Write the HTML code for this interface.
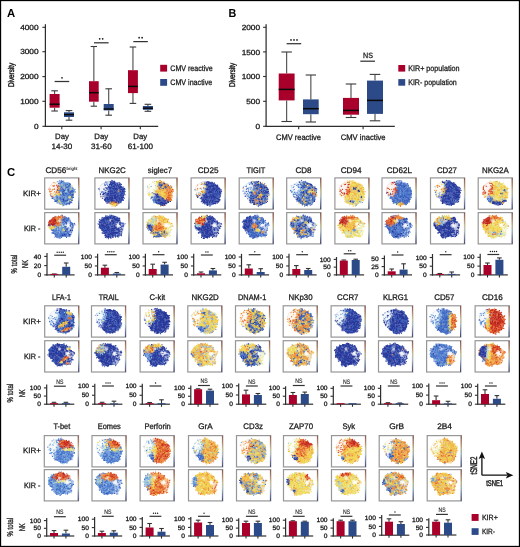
<!DOCTYPE html>
<html><head><meta charset="utf-8"><style>
html,body{margin:0;padding:0;background:#fff;overflow:hidden;width:520px;height:547px;}
svg{display:block;will-change:transform;}
text{font-family:"Liberation Sans",sans-serif;text-rendering:geometricPrecision;}
</style></head><body>
<svg width="520" height="547" viewBox="0 0 520 547">
<defs>
<linearGradient id="cbar" x1="0" y1="0" x2="0" y2="1">
<stop offset="0" stop-color="#8a5048"/><stop offset="0.22" stop-color="#b88060"/>
<stop offset="0.42" stop-color="#d0c488"/><stop offset="0.6" stop-color="#a8c0c8"/>
<stop offset="0.8" stop-color="#6a78a8"/><stop offset="1" stop-color="#3a3c70"/>
</linearGradient>
<clipPath id="cpP"><path transform="translate(17.5 16) scale(0.93) translate(-17.5 -16)" d="M8.40 5.10 C9.47 4.50 10.82 3.95 12.00 3.60 C13.18 3.25 14.37 3.08 15.50 3.00 C16.63 2.92 17.67 2.85 18.80 3.10 C19.93 3.35 21.15 4.05 22.30 4.50 C23.45 4.95 24.67 5.12 25.70 5.80 C26.73 6.48 27.68 7.67 28.50 8.60 C29.32 9.53 30.18 10.25 30.60 11.40 C31.02 12.55 31.07 14.12 31.00 15.50 C30.93 16.88 30.50 18.43 30.20 19.70 C29.90 20.97 29.72 22.07 29.20 23.10 C28.68 24.13 28.03 25.08 27.10 25.90 C26.17 26.72 24.87 27.48 23.60 28.00 C22.33 28.52 20.65 28.97 19.50 29.00 C18.35 29.03 17.63 28.57 16.70 28.20 C15.77 27.83 14.82 27.30 13.90 26.80 C12.98 26.30 11.88 25.92 11.20 25.20 C10.52 24.48 10.50 23.30 9.80 22.50 C9.10 21.70 7.70 21.22 7.00 20.40 C6.30 19.58 6.07 18.77 5.60 17.60 C5.13 16.43 4.43 14.67 4.20 13.40 C3.97 12.13 3.97 11.03 4.20 10.00 C4.43 8.97 4.90 8.02 5.60 7.20 C6.30 6.38 7.33 5.70 8.40 5.10 Z"/></clipPath>
<clipPath id="cpM"><path transform="translate(17.5 15) scale(0.93) translate(-17.5 -15)" d="M9.10 4.30 C10.15 3.90 11.80 3.52 13.30 3.30 C14.80 3.08 16.72 2.83 18.10 3.00 C19.48 3.17 20.45 3.90 21.60 4.30 C22.75 4.70 24.20 4.82 25.00 5.40 C25.80 5.98 25.93 7.05 26.40 7.80 C26.87 8.55 27.10 9.32 27.80 9.90 C28.50 10.48 30.08 10.73 30.60 11.30 C31.12 11.87 31.02 12.50 30.90 13.30 C30.78 14.10 30.18 15.17 29.90 16.10 C29.62 17.03 29.43 17.87 29.20 18.90 C28.97 19.93 28.85 21.38 28.50 22.30 C28.15 23.22 27.92 23.87 27.10 24.40 C26.28 24.93 24.75 25.38 23.60 25.50 C22.45 25.62 21.35 24.98 20.20 25.10 C19.05 25.22 17.85 25.97 16.70 26.20 C15.55 26.43 14.33 26.68 13.30 26.50 C12.27 26.32 11.08 25.80 10.50 25.10 C9.92 24.40 10.27 23.22 9.80 22.30 C9.33 21.38 8.52 20.52 7.70 19.60 C6.88 18.68 5.58 17.73 4.90 16.80 C4.22 15.87 3.82 15.03 3.60 14.00 C3.38 12.97 3.38 11.63 3.60 10.60 C3.82 9.57 4.33 8.62 4.90 7.80 C5.47 6.98 6.30 6.28 7.00 5.70 C7.70 5.12 8.05 4.70 9.10 4.30 Z M7.4 20.4 a0.95 0.95 0 1 0 0.01 0 Z"/></clipPath>
<filter id="bl" x="-20%" y="-20%" width="140%" height="140%"><feGaussianBlur stdDeviation="1.0"/></filter>
<filter id="bl2" x="-30%" y="-30%" width="160%" height="160%"><feGaussianBlur stdDeviation="1.2"/></filter>
<g id="spP" filter="url(#bl2)" fill="#fff"><path d="M3.5 7 L8 4 L12 3 L16 3.2 L16.5 6 L14.5 10 L12.5 15 L11 20 L10 23.5 L7 21.5 L4.5 17.5 L3.5 12 Z" fill-opacity="0.88"/><ellipse cx="8" cy="9.5" rx="3.2" ry="4" fill-opacity="0.4"/></g><g id="spM" filter="url(#bl2)" fill="#fff"><ellipse cx="15.5" cy="8.8" rx="1.8" ry="1.9" fill-opacity="0.85"/><ellipse cx="23.6" cy="13.4" rx="2.8" ry="2.6" fill-opacity="0.92"/><path d="M19 10 L26 9 L31 12 L30 20 L28.5 24.5 L24 25.5 L21 22 L24 17 Z" fill-opacity="0.5"/></g>
<pattern id="spk" width="24" height="24" patternUnits="userSpaceOnUse"><g fill="#fff" fill-opacity="0.5"><circle cx="7.8" cy="3.6" r="0.50"/><circle cx="1.7" cy="12.9" r="0.41"/><circle cx="1.4" cy="12.2" r="0.31"/><circle cx="10.4" cy="1.7" r="0.33"/><circle cx="10.2" cy="19.8" r="0.34"/><circle cx="5.4" cy="15.1" r="0.58"/><circle cx="13.9" cy="9.5" r="0.59"/><circle cx="1.1" cy="20.6" r="0.39"/><circle cx="3.5" cy="2.8" r="0.39"/><circle cx="19.6" cy="4.3" r="0.47"/><circle cx="15.3" cy="8.9" r="0.46"/><circle cx="1.5" cy="1.4" r="0.36"/><circle cx="16.3" cy="10.3" r="0.39"/><circle cx="14.1" cy="10.9" r="0.39"/><circle cx="19.1" cy="16.8" r="0.37"/><circle cx="13.8" cy="12.6" r="0.56"/><circle cx="17.5" cy="6.9" r="0.59"/><circle cx="2.8" cy="10.0" r="0.53"/><circle cx="3.6" cy="11.7" r="0.31"/><circle cx="16.0" cy="18.3" r="0.47"/><circle cx="21.0" cy="7.5" r="0.51"/><circle cx="14.3" cy="13.9" r="0.44"/><circle cx="20.2" cy="22.7" r="0.44"/><circle cx="15.9" cy="1.5" r="0.51"/><circle cx="15.5" cy="23.8" r="0.55"/><circle cx="6.8" cy="9.3" r="0.50"/><circle cx="0.5" cy="11.1" r="0.35"/><circle cx="2.8" cy="1.4" r="0.53"/><circle cx="3.1" cy="5.9" r="0.42"/><circle cx="20.9" cy="1.9" r="0.43"/><circle cx="13.2" cy="21.2" r="0.55"/><circle cx="20.7" cy="6.7" r="0.42"/><circle cx="8.6" cy="21.2" r="0.59"/><circle cx="3.6" cy="4.2" r="0.37"/><circle cx="5.6" cy="11.6" r="0.48"/><circle cx="6.3" cy="0.1" r="0.43"/><circle cx="8.9" cy="13.6" r="0.59"/><circle cx="16.6" cy="12.4" r="0.49"/><circle cx="16.2" cy="1.3" r="0.57"/><circle cx="18.7" cy="21.0" r="0.54"/><circle cx="9.4" cy="9.6" r="0.33"/><circle cx="15.2" cy="1.5" r="0.32"/><circle cx="5.0" cy="3.9" r="0.40"/><circle cx="1.3" cy="0.0" r="0.35"/><circle cx="2.4" cy="8.7" r="0.31"/><circle cx="21.0" cy="14.7" r="0.34"/><circle cx="6.1" cy="8.3" r="0.41"/><circle cx="2.9" cy="20.4" r="0.60"/><circle cx="11.2" cy="11.6" r="0.33"/><circle cx="2.5" cy="8.2" r="0.38"/><circle cx="19.9" cy="3.9" r="0.31"/><circle cx="22.8" cy="12.7" r="0.34"/><circle cx="13.0" cy="0.6" r="0.46"/><circle cx="23.5" cy="20.7" r="0.51"/><circle cx="6.3" cy="8.8" r="0.35"/><circle cx="18.5" cy="12.8" r="0.53"/><circle cx="7.9" cy="5.4" r="0.54"/><circle cx="23.6" cy="20.5" r="0.54"/><circle cx="19.6" cy="17.8" r="0.37"/><circle cx="12.4" cy="8.5" r="0.31"/><circle cx="0.7" cy="6.7" r="0.38"/><circle cx="16.6" cy="23.0" r="0.43"/><circle cx="22.5" cy="23.7" r="0.59"/><circle cx="8.8" cy="5.3" r="0.37"/><circle cx="4.7" cy="4.9" r="0.49"/><circle cx="21.6" cy="20.2" r="0.44"/><circle cx="15.7" cy="19.2" r="0.33"/><circle cx="15.9" cy="21.8" r="0.53"/><circle cx="18.0" cy="11.5" r="0.35"/><circle cx="18.9" cy="8.0" r="0.54"/><circle cx="23.3" cy="9.5" r="0.42"/><circle cx="22.7" cy="17.4" r="0.35"/><circle cx="3.0" cy="3.6" r="0.57"/><circle cx="19.4" cy="3.5" r="0.55"/><circle cx="23.5" cy="15.8" r="0.41"/><circle cx="13.2" cy="3.1" r="0.30"/><circle cx="23.3" cy="15.6" r="0.46"/><circle cx="22.4" cy="10.4" r="0.56"/><circle cx="19.8" cy="5.1" r="0.38"/><circle cx="7.0" cy="5.8" r="0.48"/><circle cx="6.2" cy="10.1" r="0.34"/><circle cx="21.8" cy="8.5" r="0.44"/><circle cx="14.0" cy="21.7" r="0.43"/><circle cx="22.0" cy="12.0" r="0.46"/><circle cx="12.6" cy="0.4" r="0.43"/><circle cx="4.4" cy="0.1" r="0.54"/><circle cx="4.1" cy="11.4" r="0.52"/><circle cx="13.4" cy="7.8" r="0.46"/><circle cx="13.3" cy="18.8" r="0.33"/><circle cx="13.4" cy="6.0" r="0.38"/><circle cx="18.5" cy="12.2" r="0.47"/><circle cx="18.2" cy="21.9" r="0.43"/><circle cx="14.7" cy="12.1" r="0.45"/><circle cx="16.6" cy="10.9" r="0.46"/><circle cx="11.5" cy="22.6" r="0.51"/><circle cx="21.0" cy="22.6" r="0.38"/><circle cx="13.4" cy="22.6" r="0.55"/><circle cx="3.3" cy="2.9" r="0.43"/><circle cx="1.7" cy="5.8" r="0.32"/><circle cx="16.1" cy="18.8" r="0.57"/><circle cx="3.7" cy="17.2" r="0.50"/><circle cx="3.4" cy="21.2" r="0.59"/><circle cx="5.3" cy="22.9" r="0.42"/><circle cx="11.7" cy="23.8" r="0.55"/><circle cx="3.9" cy="10.4" r="0.45"/><circle cx="8.1" cy="4.7" r="0.40"/><circle cx="17.3" cy="0.5" r="0.47"/><circle cx="10.6" cy="0.4" r="0.40"/><circle cx="15.0" cy="12.3" r="0.32"/><circle cx="23.6" cy="18.9" r="0.59"/><circle cx="2.5" cy="6.4" r="0.31"/><circle cx="18.7" cy="6.5" r="0.34"/><circle cx="10.1" cy="21.9" r="0.55"/><circle cx="6.2" cy="3.6" r="0.58"/><circle cx="13.7" cy="16.8" r="0.33"/><circle cx="1.4" cy="16.5" r="0.43"/><circle cx="1.7" cy="22.5" r="0.49"/><circle cx="19.2" cy="2.0" r="0.56"/><circle cx="1.6" cy="20.7" r="0.44"/><circle cx="8.1" cy="13.3" r="0.58"/></g></pattern>
</defs>
<rect width="520" height="547" fill="#fff"/>
<text x="6.9" y="17" font-size="11.5" font-weight="bold" fill="#000" textLength="8.2" lengthAdjust="spacingAndGlyphs">A</text><line x1="45.4" y1="24.2" x2="45.4" y2="126.9" stroke="#2e2e2e" stroke-width="1.25"/><line x1="44.8" y1="126.3" x2="158.2" y2="126.3" stroke="#2e2e2e" stroke-width="1.25"/><line x1="42.4" y1="27.3" x2="45.4" y2="27.3" stroke="#2e2e2e" stroke-width="1.1"/><text x="20.16" y="29.95" font-size="7.4" fill="#1a1a1a" stroke="#1a1a1a" stroke-width="0.28" textLength="18.44" lengthAdjust="spacingAndGlyphs">4000</text><line x1="42.4" y1="51.7" x2="45.4" y2="51.7" stroke="#2e2e2e" stroke-width="1.1"/><text x="20.16" y="54.35" font-size="7.4" fill="#1a1a1a" stroke="#1a1a1a" stroke-width="0.28" textLength="18.44" lengthAdjust="spacingAndGlyphs">3000</text><line x1="42.4" y1="76.6" x2="45.4" y2="76.6" stroke="#2e2e2e" stroke-width="1.1"/><text x="20.16" y="79.25" font-size="7.4" fill="#1a1a1a" stroke="#1a1a1a" stroke-width="0.28" textLength="18.44" lengthAdjust="spacingAndGlyphs">2000</text><line x1="42.4" y1="101.3" x2="45.4" y2="101.3" stroke="#2e2e2e" stroke-width="1.1"/><text x="20.16" y="103.95" font-size="7.4" fill="#1a1a1a" stroke="#1a1a1a" stroke-width="0.28" textLength="18.44" lengthAdjust="spacingAndGlyphs">1000</text><line x1="42.4" y1="126.3" x2="45.4" y2="126.3" stroke="#2e2e2e" stroke-width="1.1"/><text x="33.99" y="128.95" font-size="7.4" fill="#1a1a1a" stroke="#1a1a1a" stroke-width="0.28" textLength="4.61" lengthAdjust="spacingAndGlyphs">0</text><text transform="translate(14,87.1) rotate(-90)" font-size="8.3" fill="#1a1a1a" stroke="#1a1a1a" stroke-width="0.42" textLength="24.3" lengthAdjust="spacingAndGlyphs">Diversity</text><line x1="61.8" y1="126.3" x2="61.8" y2="129.3" stroke="#2e2e2e" stroke-width="1.1"/><line x1="101.1" y1="126.3" x2="101.1" y2="129.3" stroke="#2e2e2e" stroke-width="1.1"/><line x1="140.3" y1="126.3" x2="140.3" y2="129.3" stroke="#2e2e2e" stroke-width="1.1"/><text x="55.07" y="139.3" font-size="7.8" fill="#1a1a1a" stroke="#1a1a1a" stroke-width="0.28" textLength="13.87" lengthAdjust="spacingAndGlyphs">Day</text><text x="51.62" y="148.8" font-size="7.8" fill="#1a1a1a" stroke="#1a1a1a" stroke-width="0.28" textLength="20.75" lengthAdjust="spacingAndGlyphs">14-30</text><text x="94.37" y="139.3" font-size="7.8" fill="#1a1a1a" stroke="#1a1a1a" stroke-width="0.28" textLength="13.87" lengthAdjust="spacingAndGlyphs">Day</text><text x="90.92" y="148.8" font-size="7.8" fill="#1a1a1a" stroke="#1a1a1a" stroke-width="0.28" textLength="20.75" lengthAdjust="spacingAndGlyphs">31-60</text><text x="133.37" y="139.3" font-size="7.8" fill="#1a1a1a" stroke="#1a1a1a" stroke-width="0.28" textLength="13.87" lengthAdjust="spacingAndGlyphs">Day</text><text x="127.67" y="148.8" font-size="7.8" fill="#1a1a1a" stroke="#1a1a1a" stroke-width="0.28" textLength="25.26" lengthAdjust="spacingAndGlyphs">61-100</text><line x1="54.6" y1="90.8" x2="54.6" y2="94" stroke="#4a4a4a" stroke-width="1.1"/><line x1="54.6" y1="107.7" x2="54.6" y2="111" stroke="#4a4a4a" stroke-width="1.1"/><line x1="51.3" y1="90.8" x2="57.9" y2="90.8" stroke="#3a3a3a" stroke-width="1.1"/><line x1="51.3" y1="111" x2="57.9" y2="111" stroke="#3a3a3a" stroke-width="1.1"/><rect x="49.6" y="94" width="10" height="13.7" fill="#a8002b"/><line x1="49.6" y1="104.2" x2="59.6" y2="104.2" stroke="#0a0a0a" stroke-width="1.5"/><line x1="69" y1="110.6" x2="69" y2="112.3" stroke="#4a4a4a" stroke-width="1.1"/><line x1="69" y1="117" x2="69" y2="120.2" stroke="#4a4a4a" stroke-width="1.1"/><line x1="65.7" y1="110.6" x2="72.3" y2="110.6" stroke="#3a3a3a" stroke-width="1.1"/><line x1="65.7" y1="120.2" x2="72.3" y2="120.2" stroke="#3a3a3a" stroke-width="1.1"/><rect x="64" y="112.3" width="10" height="4.7" fill="#2c4a88"/><line x1="64" y1="114.6" x2="74" y2="114.6" stroke="#0a0a0a" stroke-width="1.5"/><line x1="93.85" y1="46.5" x2="93.85" y2="81.2" stroke="#4a4a4a" stroke-width="1.1"/><line x1="93.85" y1="101.7" x2="93.85" y2="106.2" stroke="#4a4a4a" stroke-width="1.1"/><line x1="90.65" y1="46.5" x2="97.05" y2="46.5" stroke="#3a3a3a" stroke-width="1.1"/><line x1="90.65" y1="106.2" x2="97.05" y2="106.2" stroke="#3a3a3a" stroke-width="1.1"/><rect x="89" y="81.2" width="9.7" height="20.5" fill="#a8002b"/><line x1="89" y1="92.7" x2="98.7" y2="92.7" stroke="#0a0a0a" stroke-width="1.5"/><line x1="108.7" y1="88.8" x2="108.7" y2="104" stroke="#4a4a4a" stroke-width="1.1"/><line x1="108.7" y1="110.4" x2="108.7" y2="115.2" stroke="#4a4a4a" stroke-width="1.1"/><line x1="105.4" y1="88.8" x2="112" y2="88.8" stroke="#3a3a3a" stroke-width="1.1"/><line x1="105.4" y1="115.2" x2="112" y2="115.2" stroke="#3a3a3a" stroke-width="1.1"/><rect x="103.7" y="104" width="10" height="6.4" fill="#2c4a88"/><line x1="103.7" y1="109" x2="113.7" y2="109" stroke="#0a0a0a" stroke-width="1.5"/><line x1="132.95" y1="47" x2="132.95" y2="70.2" stroke="#4a4a4a" stroke-width="1.1"/><line x1="132.95" y1="93.1" x2="132.95" y2="103.4" stroke="#4a4a4a" stroke-width="1.1"/><line x1="129.68" y1="47" x2="136.22" y2="47" stroke="#3a3a3a" stroke-width="1.1"/><line x1="129.68" y1="103.4" x2="136.22" y2="103.4" stroke="#3a3a3a" stroke-width="1.1"/><rect x="128" y="70.2" width="9.9" height="22.9" fill="#a8002b"/><line x1="128" y1="86.4" x2="137.9" y2="86.4" stroke="#0a0a0a" stroke-width="1.5"/><line x1="147.9" y1="104.3" x2="147.9" y2="106" stroke="#4a4a4a" stroke-width="1.1"/><line x1="147.9" y1="109.8" x2="147.9" y2="111.3" stroke="#4a4a4a" stroke-width="1.1"/><line x1="144.6" y1="104.3" x2="151.2" y2="104.3" stroke="#3a3a3a" stroke-width="1.1"/><line x1="144.6" y1="111.3" x2="151.2" y2="111.3" stroke="#3a3a3a" stroke-width="1.1"/><rect x="142.9" y="106" width="10" height="3.8" fill="#2c4a88"/><line x1="142.9" y1="108.2" x2="152.9" y2="108.2" stroke="#0a0a0a" stroke-width="1.5"/><line x1="54.6" y1="81.5" x2="69.2" y2="81.5" stroke="#333" stroke-width="1.25"/><circle cx="62" cy="77.8" r="0.85" fill="#151515"/><line x1="94" y1="42.8" x2="108.6" y2="42.8" stroke="#333" stroke-width="1.25"/><circle cx="99.7" cy="38.8" r="0.85" fill="#151515"/><circle cx="102.7" cy="38.8" r="0.85" fill="#151515"/><line x1="133.3" y1="41.6" x2="147.8" y2="41.6" stroke="#333" stroke-width="1.25"/><circle cx="139.1" cy="37.7" r="0.85" fill="#151515"/><circle cx="142.1" cy="37.7" r="0.85" fill="#151515"/><rect x="160.2" y="64.8" width="6.9" height="6.8" fill="#a8002b"/><rect x="160.2" y="79" width="6.9" height="6.8" fill="#2c4a88"/><text x="170.3" y="71" font-size="8.0" fill="#1a1a1a" stroke="#1a1a1a" stroke-width="0.28" textLength="42.5" lengthAdjust="spacingAndGlyphs">CMV reactive</text><text x="170.3" y="84.8" font-size="8.0" fill="#1a1a1a" stroke="#1a1a1a" stroke-width="0.28" textLength="41.9" lengthAdjust="spacingAndGlyphs">CMV inactive</text><text x="228.6" y="17" font-size="11.5" font-weight="bold" fill="#000" textLength="7.8" lengthAdjust="spacingAndGlyphs">B</text><line x1="266.1" y1="24.2" x2="266.1" y2="126.9" stroke="#2e2e2e" stroke-width="1.25"/><line x1="265.5" y1="126.3" x2="394.8" y2="126.3" stroke="#2e2e2e" stroke-width="1.25"/><line x1="263.1" y1="27.3" x2="266.1" y2="27.3" stroke="#2e2e2e" stroke-width="1.1"/><text x="241.66" y="29.95" font-size="7.4" fill="#1a1a1a" stroke="#1a1a1a" stroke-width="0.28" textLength="18.44" lengthAdjust="spacingAndGlyphs">2000</text><line x1="263.1" y1="51.9" x2="266.1" y2="51.9" stroke="#2e2e2e" stroke-width="1.1"/><text x="241.66" y="54.55" font-size="7.4" fill="#1a1a1a" stroke="#1a1a1a" stroke-width="0.28" textLength="18.44" lengthAdjust="spacingAndGlyphs">1500</text><line x1="263.1" y1="76.5" x2="266.1" y2="76.5" stroke="#2e2e2e" stroke-width="1.1"/><text x="241.66" y="79.15" font-size="7.4" fill="#1a1a1a" stroke="#1a1a1a" stroke-width="0.28" textLength="18.44" lengthAdjust="spacingAndGlyphs">1000</text><line x1="263.1" y1="101.3" x2="266.1" y2="101.3" stroke="#2e2e2e" stroke-width="1.1"/><text x="246.28" y="103.95" font-size="7.4" fill="#1a1a1a" stroke="#1a1a1a" stroke-width="0.28" textLength="13.83" lengthAdjust="spacingAndGlyphs">500</text><line x1="263.1" y1="126.3" x2="266.1" y2="126.3" stroke="#2e2e2e" stroke-width="1.1"/><text x="255.49" y="128.95" font-size="7.4" fill="#1a1a1a" stroke="#1a1a1a" stroke-width="0.28" textLength="4.61" lengthAdjust="spacingAndGlyphs">0</text><text transform="translate(235.3,87) rotate(-90)" font-size="8.3" fill="#1a1a1a" stroke="#1a1a1a" stroke-width="0.42" textLength="24.1" lengthAdjust="spacingAndGlyphs">Diversity</text><line x1="298.7" y1="126.3" x2="298.7" y2="129.3" stroke="#2e2e2e" stroke-width="1.1"/><line x1="363.1" y1="126.3" x2="363.1" y2="129.3" stroke="#2e2e2e" stroke-width="1.1"/><text x="276" y="139.5" font-size="8.0" fill="#1a1a1a" stroke="#1a1a1a" stroke-width="0.28" textLength="45" lengthAdjust="spacingAndGlyphs">CMV reactive</text><text x="340.8" y="139.5" font-size="8.0" fill="#1a1a1a" stroke="#1a1a1a" stroke-width="0.28" textLength="44.8" lengthAdjust="spacingAndGlyphs">CMV inactive</text><line x1="286.65" y1="52" x2="286.65" y2="73.5" stroke="#4a4a4a" stroke-width="1.1"/><line x1="286.65" y1="100.4" x2="286.65" y2="121.5" stroke="#4a4a4a" stroke-width="1.1"/><line x1="281.4" y1="52" x2="291.9" y2="52" stroke="#3a3a3a" stroke-width="1.1"/><line x1="281.4" y1="121.5" x2="291.9" y2="121.5" stroke="#3a3a3a" stroke-width="1.1"/><rect x="278.7" y="73.5" width="15.9" height="26.9" fill="#a8002b"/><line x1="278.7" y1="89.4" x2="294.6" y2="89.4" stroke="#0a0a0a" stroke-width="1.5"/><line x1="310.85" y1="75" x2="310.85" y2="99.4" stroke="#4a4a4a" stroke-width="1.1"/><line x1="310.85" y1="114.2" x2="310.85" y2="122" stroke="#4a4a4a" stroke-width="1.1"/><line x1="305.67" y1="75" x2="316.03" y2="75" stroke="#3a3a3a" stroke-width="1.1"/><line x1="305.67" y1="122" x2="316.03" y2="122" stroke="#3a3a3a" stroke-width="1.1"/><rect x="303" y="99.4" width="15.7" height="14.8" fill="#2c4a88"/><line x1="303" y1="108.7" x2="318.7" y2="108.7" stroke="#0a0a0a" stroke-width="1.5"/><line x1="351" y1="84" x2="351" y2="97.9" stroke="#4a4a4a" stroke-width="1.1"/><line x1="351" y1="114.7" x2="351" y2="117.5" stroke="#4a4a4a" stroke-width="1.1"/><line x1="345.72" y1="84" x2="356.28" y2="84" stroke="#3a3a3a" stroke-width="1.1"/><line x1="345.72" y1="117.5" x2="356.28" y2="117.5" stroke="#3a3a3a" stroke-width="1.1"/><rect x="343" y="97.9" width="16" height="16.8" fill="#a8002b"/><line x1="343" y1="110.4" x2="359" y2="110.4" stroke="#0a0a0a" stroke-width="1.5"/><line x1="375" y1="74.4" x2="375" y2="80.6" stroke="#4a4a4a" stroke-width="1.1"/><line x1="375" y1="113.9" x2="375" y2="120.8" stroke="#4a4a4a" stroke-width="1.1"/><line x1="369.72" y1="74.4" x2="380.28" y2="74.4" stroke="#3a3a3a" stroke-width="1.1"/><line x1="369.72" y1="120.8" x2="380.28" y2="120.8" stroke="#3a3a3a" stroke-width="1.1"/><rect x="367" y="80.6" width="16" height="33.3" fill="#2c4a88"/><line x1="367" y1="100.4" x2="383" y2="100.4" stroke="#0a0a0a" stroke-width="1.5"/><line x1="286.6" y1="43.7" x2="301.2" y2="43.7" stroke="#333" stroke-width="1.25"/><circle cx="291" cy="39.9" r="0.85" fill="#151515"/><circle cx="294" cy="39.9" r="0.85" fill="#151515"/><circle cx="297" cy="39.9" r="0.85" fill="#151515"/><line x1="360.3" y1="61.2" x2="375" y2="61.2" stroke="#333" stroke-width="1.25"/><text x="363" y="58.3" font-size="7.7" fill="#1a1a1a" stroke="#1a1a1a" stroke-width="0.28" textLength="9.9" lengthAdjust="spacingAndGlyphs">NS</text><rect x="398.3" y="65" width="6.9" height="6.6" fill="#a8002b"/><rect x="398.3" y="79.1" width="6.9" height="6.6" fill="#2c4a88"/><text x="408.2" y="70.8" font-size="8.0" fill="#1a1a1a" stroke="#1a1a1a" stroke-width="0.28" textLength="51.3" lengthAdjust="spacingAndGlyphs">KIR+ population</text><text x="408.2" y="85.2" font-size="8.0" fill="#1a1a1a" stroke="#1a1a1a" stroke-width="0.28" textLength="48.6" lengthAdjust="spacingAndGlyphs">KIR- population</text><text x="6.9" y="176" font-size="11.5" font-weight="bold" fill="#000" textLength="8.2" lengthAdjust="spacingAndGlyphs">C</text><text x="45.4" y="172.7" font-size="8.1" fill="#1a1a1a" stroke="#1a1a1a" stroke-width="0.28" textLength="20.8" lengthAdjust="spacingAndGlyphs">CD56</text><text x="66.6" y="169.8" font-size="4.3" fill="#1a1a1a" stroke="#1a1a1a" stroke-width="0.1" textLength="11" lengthAdjust="spacingAndGlyphs">bright</text><g transform="translate(44.2,177.4)"><rect x="0.5" y="0.5" width="34.2" height="31.3" fill="#fff" stroke="#969696" stroke-width="1.2"/><rect x="33.9" y="0.6" width="1.0" height="31.1" fill="url(#cbar)"/><g clip-path="url(#cpP)"><g opacity="0.75"><rect width="35.4" height="32.3" fill="#6087c2"/><g filter="url(#bl)"><ellipse cx="9.5" cy="11" rx="6" ry="7.5" fill="#e37531"/><ellipse cx="14" cy="16.5" rx="2" ry="1.2" fill="#ead462"/><ellipse cx="11.5" cy="10.5" rx="2.2" ry="2" fill="#c9311e"/><ellipse cx="22" cy="14" rx="1.5" ry="1.5" fill="#a6d0de"/><ellipse cx="26" cy="20" rx="1.5" ry="1.2" fill="#f0dc50"/></g></g><use href="#spP"/></g><g transform="scale(0.3333)" stroke-width="3.6" stroke-linecap="round" fill="none"><path stroke="#4a78cf" d="M62 62h0M56 24h0M48 55h0M74 66h0M72 17h0M81 68h0M42 74h0M74 45h0M66 79h0M48 51h0M47 69h0M61 40h0M85 69h0M82 69h0M67 73h0M65 80h0M45 63h0M69 37h0M87 43h0M38 64h0M54 16h0M84 46h0M84 54h0M41 68h0M76 76h0M69 55h0M58 73h0M64 52h0M47 19h0M78 65h0M57 19h0M86 31h0M48 41h0M57 24h0M36 71h0M78 65h0M86 33h0M65 55h0M50 77h0M41 13h0M70 56h0M62 71h0M67 51h0M60 42h0M35 58h0M78 22h0M69 16h0M68 58h0M61 59h0M60 75h0M86 34h0M76 20h0M79 29h0M27 61h0M55 12h0M70 49h0M51 9h0M56 77h0M72 53h0M47 28h0M56 85h0M44 43h0M45 39h0M59 71h0M37 55h0M88 60h0M51 77h0M56 74h0M76 24h0M48 80h0M50 25h0M84 45h0M30 66h0M73 52h0M82 50h0M62 54h0M58 11h0M85 51h0M60 28h0M49 62h0M47 68h0M63 74h0M65 72h0M49 39h0M41 53h0M46 46h0M60 74h0M35 68h0M36 59h0M81 48h0M73 78h0M54 16h0M87 41h0M76 45h0M51 17h0M36 72h0M45 64h0M74 50h0M68 62h0M68 65h0M38 71h0M89 42h0M71 50h0M74 17h0M48 67h0M43 42h0M51 26h0M63 33h0M76 33h0M76 26h0M65 44h0M49 60h0M48 69h0M84 53h0M53 37h0M54 29h0M43 25h0M65 52h0M65 80h0M19 55h0M76 18h0M44 27h0M48 62h0M71 60h0M53 41h0M22 56h0M57 16h0M74 45h0M54 57h0M63 24h0M70 61h0M64 37h0M43 40h0M49 14h0M38 73h0M54 74h0M75 24h0M53 75h0M45 26h0M65 20h0M80 65h0M39 68h0M84 50h0M53 77h0M92 36h0M53 58h0M81 48h0M60 23h0M34 69h0M84 50h0M46 10h0M62 17h0"/><path stroke="#74a4dc" d="M65 64h0M59 19h0M62 24h0M32 60h0M84 49h0M68 44h0M55 23h0M50 50h0M34 50h0M81 27h0M46 57h0M46 14h0M38 55h0M29 63h0M70 33h0M78 70h0M60 14h0M40 76h0M48 76h0M67 16h0M89 36h0M77 34h0M60 27h0M83 30h0M59 79h0M44 67h0M43 75h0M47 31h0M47 67h0M83 31h0M27 56h0M55 74h0M46 76h0M48 24h0M52 47h0M63 79h0M82 26h0M70 42h0M64 57h0M46 64h0M65 75h0M54 17h0M92 37h0M48 67h0M51 21h0M68 65h0M51 56h0M59 79h0M39 77h0M88 47h0M42 53h0M51 77h0M47 77h0M90 39h0M47 67h0M76 33h0M37 54h0M50 23h0M48 55h0M51 18h0M50 25h0M46 59h0M56 29h0M83 29h0M77 34h0M46 60h0M43 53h0M40 74h0M88 47h0M62 41h0M60 17h0M52 26h0M81 33h0M57 23h0M58 28h0M52 58h0M55 84h0M59 84h0M65 76h0M36 65h0M65 76h0M61 74h0M49 49h0"/><path stroke="#f0dc50" d="M79 59h0M55 84h0M47 51h0M42 49h0M84 25h0M33 17h0M51 81h0M44 51h0M46 51h0M46 52h0M36 64h0M39 41h0M51 47h0M83 35h0M44 51h0M44 49h0M46 71h0M59 32h0M44 53h0M25 36h0M45 73h0M31 51h0M80 35h0M50 75h0M54 23h0M79 69h0M44 69h0M41 49h0M78 61h0M43 50h0M90 46h0M23 53h0M28 47h0M42 74h0M82 47h0M60 29h0M40 49h0M76 59h0M29 54h0M50 75h0M37 40h0M46 31h0"/><path stroke="#a6d0de" d="M81 30h0M33 61h0M64 42h0M67 43h0M65 44h0M53 20h0M62 45h0M60 32h0M68 42h0M49 48h0M65 44h0M82 27h0M63 40h0M68 42h0M68 65h0M65 44h0M50 78h0M68 37h0M80 37h0M49 45h0M55 16h0"/><path stroke="#3b64bf" d="M38 69h0M58 37h0M69 70h0M40 60h0M56 67h0M83 76h0M67 30h0M57 48h0M76 23h0M63 69h0M61 77h0M50 64h0M61 54h0M65 25h0M71 30h0M59 66h0M70 21h0M51 66h0M67 82h0M68 79h0M78 51h0M58 65h0M56 40h0M77 45h0M53 71h0M75 81h0M59 62h0M58 53h0M38 58h0M84 55h0M62 47h0M52 15h0M54 41h0M65 69h0M64 48h0M47 62h0M77 47h0M86 54h0M73 27h0M81 52h0M84 60h0M57 55h0M73 35h0M48 51h0M83 40h0M35 72h0M74 40h0M65 29h0M59 46h0M82 58h0M43 19h0M54 72h0M54 61h0M78 42h0M72 55h0M26 59h0M49 34h0M32 70h0M65 47h0M87 60h0M83 39h0M51 53h0M72 64h0M65 23h0M55 65h0M83 41h0M83 59h0M64 70h0M56 37h0M81 45h0M62 39h0M57 65h0M64 47h0M74 35h0M85 39h0M80 44h0M38 64h0M84 43h0M52 13h0M56 42h0M67 69h0M60 71h0M69 66h0M51 31h0M59 50h0M84 42h0M53 11h0M23 62h0M25 63h0M93 44h0M71 28h0M78 73h0M79 43h0M49 64h0M73 37h0M80 48h0M73 39h0M80 54h0M76 52h0M80 42h0M48 19h0M75 81h0M82 59h0M78 75h0M87 43h0M32 72h0M57 83h0M51 37h0M57 42h0M77 73h0M68 30h0M74 25h0M56 51h0M58 36h0M75 78h0M54 13h0M72 43h0M44 18h0M93 43h0M74 25h0M69 68h0M65 22h0M61 71h0M55 45h0M68 48h0M84 56h0M67 80h0M81 74h0M59 62h0M59 68h0M65 20h0M68 47h0M60 54h0M44 44h0M57 71h0M81 42h0M72 42h0M61 46h0M52 30h0"/><path stroke="#e05a28" d="M18 35h0M23 57h0M14 35h0M39 37h0M36 45h0M41 35h0M31 43h0M25 58h0M37 25h0M18 52h0M42 24h0"/><path stroke="#f4b840" d="M43 50h0M32 52h0M42 48h0M45 50h0M43 53h0M39 51h0M37 41h0M43 42h0"/><path stroke="#ec8a38" d="M45 35h0M18 42h0M19 47h0M44 44h0M43 44h0M23 49h0M24 38h0M46 28h0M16 43h0M29 26h0M42 28h0M42 45h0M21 42h0M17 40h0M37 42h0M43 33h0M30 24h0M27 36h0M25 25h0M29 15h0M43 43h0"/><path stroke="#26369a" d="M40 38h0M71 38h0M86 51h0M56 49h0M71 79h0M58 68h0M60 39h0M77 78h0M59 41h0M79 20h0M58 66h0M56 34h0M70 70h0"/><path stroke="#eaeca6" d="M41 52h0M74 60h0M72 72h0M51 49h0M82 26h0"/><path stroke="#cc2a1c" d="M41 28h0M38 23h0M31 35h0"/><path stroke="#b0201a" d="M29 26h0M40 29h0"/></g></g><g transform="translate(44.2,212.1)"><rect x="0.5" y="0.5" width="34.2" height="31.3" fill="#fff" stroke="#969696" stroke-width="1.2"/><rect x="33.9" y="0.6" width="1.0" height="31.1" fill="url(#cbar)"/><g clip-path="url(#cpM)"><g opacity="0.75"><rect width="35.4" height="32.3" fill="#4169c1"/><g filter="url(#bl)"><ellipse cx="16" cy="15.5" rx="5" ry="4.5" fill="#71a0d8"/><ellipse cx="8.5" cy="8.8" rx="6" ry="5.5" fill="#c9311e"/><ellipse cx="15.5" cy="5" rx="4" ry="2.5" fill="#eb8a36"/><ellipse cx="14.5" cy="10" rx="2.5" ry="3.5" fill="#eb8a36"/><ellipse cx="7" cy="15.5" rx="4.5" ry="1.6" fill="#ead462"/><ellipse cx="19" cy="18" rx="1.2" ry="1.2" fill="#f0dc50"/></g></g><use href="#spM"/></g><g transform="scale(0.3333)" stroke-width="3.6" stroke-linecap="round" fill="none"><path stroke="#3b64bf" d="M33 68h0M50 59h0M59 68h0M58 44h0M70 59h0M62 44h0M41 77h0M47 59h0M68 52h0M36 49h0M52 71h0M51 57h0M79 39h0M56 69h0M25 54h0M57 62h0M65 67h0M85 34h0M60 64h0M72 24h0M18 39h0M71 64h0M59 65h0M15 38h0M25 53h0M59 71h0M27 61h0M48 69h0M66 24h0M64 67h0M14 39h0M27 61h0M62 67h0M63 48h0M61 69h0M63 73h0M53 68h0M15 40h0M66 18h0M68 59h0M64 70h0M58 67h0M55 10h0M53 58h0M73 67h0M73 64h0M66 25h0M71 49h0M63 67h0M56 15h0M35 60h0M68 67h0M75 74h0M74 71h0M60 59h0M65 28h0M32 46h0M63 46h0M31 65h0M22 51h0M55 57h0M79 67h0M59 44h0M48 72h0M52 76h0M68 59h0M52 70h0M58 62h0M70 61h0M22 53h0M68 72h0M72 71h0M43 53h0M43 62h0M65 15h0M61 14h0M63 56h0M91 34h0M39 72h0M56 31h0M40 24h0M68 18h0M73 22h0M69 27h0M53 64h0M86 35h0M35 54h0M65 51h0M33 65h0M50 62h0M24 55h0M36 55h0M58 69h0M28 64h0M63 26h0M38 68h0M69 21h0M67 76h0M64 20h0M69 60h0M81 37h0M87 41h0M48 57h0M64 49h0M40 66h0M50 56h0M55 67h0M67 23h0M53 60h0M67 34h0M83 34h0M66 57h0M73 59h0M78 72h0M57 71h0M67 50h0M72 60h0M35 68h0M69 25h0M48 31h0M73 48h0M27 55h0M22 52h0M62 26h0M62 70h0M56 25h0M70 54h0M64 26h0"/><path stroke="#cc2a1c" d="M30 24h0M18 25h0M30 22h0M16 27h0M29 26h0M26 32h0M31 36h0M20 29h0M29 25h0M30 17h0M24 24h0M31 23h0M27 32h0M34 34h0M20 30h0M31 20h0M25 30h0M29 29h0M37 43h0M17 25h0M26 17h0M22 37h0M20 33h0M16 29h0M26 22h0M25 37h0M13 30h0M29 19h0M36 21h0M28 17h0M15 33h0M26 37h0M12 41h0M29 26h0M27 32h0M14 39h0M35 23h0M27 24h0M21 34h0M18 28h0M27 24h0"/><path stroke="#74a4dc" d="M41 71h0M52 59h0M42 45h0M46 53h0M83 45h0M73 49h0M51 34h0M35 45h0M59 34h0M54 22h0M33 61h0M59 24h0M57 60h0M46 59h0M53 61h0M59 37h0M54 35h0M54 49h0M45 42h0M62 57h0M35 44h0M50 57h0M45 56h0M48 55h0M48 79h0M41 44h0M36 42h0M47 55h0M45 61h0M65 48h0M41 44h0M48 52h0M52 47h0M55 46h0M39 56h0M32 39h0M63 26h0M59 41h0M46 38h0M34 49h0M79 32h0M36 45h0M50 50h0M56 60h0"/><path stroke="#4a78cf" d="M42 47h0M32 57h0M73 17h0M57 39h0M18 42h0M62 52h0M60 63h0M58 37h0M67 64h0M59 68h0M51 42h0M32 75h0M52 9h0M68 28h0M45 56h0M64 32h0M80 30h0M46 41h0M50 66h0M54 48h0M29 63h0M42 46h0M78 35h0M42 45h0M84 56h0M62 19h0M42 62h0M44 50h0M61 19h0M62 64h0M54 32h0M48 71h0M76 59h0M79 29h0M28 43h0M38 50h0M74 66h0M59 32h0M67 32h0M59 32h0M50 69h0M78 55h0M79 39h0M61 35h0M37 52h0M30 55h0M49 47h0M52 39h0M60 51h0M45 78h0M54 57h0M85 39h0M53 31h0M68 22h0M48 62h0M78 40h0M67 36h0M57 22h0M42 61h0M49 46h0M17 37h0M63 59h0M51 67h0M47 75h0M34 73h0M68 18h0M38 53h0M79 54h0M28 51h0M38 54h0M68 63h0M51 62h0M63 18h0M60 25h0M44 73h0M84 44h0M77 21h0M84 54h0M37 72h0M82 32h0M56 17h0M30 55h0M78 34h0M49 67h0M50 46h0M24 53h0M67 33h0M46 46h0M43 55h0M62 28h0M37 75h0M44 72h0M57 31h0M68 71h0M71 19h0M50 58h0M56 26h0M43 47h0M53 52h0M62 51h0M55 57h0M77 58h0M79 31h0M49 41h0M79 26h0M86 50h0M64 30h0M33 13h0M57 50h0M67 17h0M32 43h0M73 70h0M34 41h0M63 58h0M72 22h0M48 46h0M50 45h0M80 38h0M20 51h0M62 13h0M55 52h0M57 57h0M75 60h0M41 62h0M58 45h0M44 50h0M53 24h0"/><path stroke="#f0dc50" d="M21 50h0M29 45h0M17 50h0M33 46h0M24 50h0M57 50h0M56 56h0M24 51h0M19 52h0M18 47h0M26 47h0M29 47h0M18 48h0M59 56h0M61 54h0M22 50h0M14 47h0M28 44h0M57 52h0M56 52h0M29 46h0"/><path stroke="#f4b840" d="M47 17h0M27 49h0M20 43h0M26 44h0M38 32h0M46 16h0M51 17h0M33 44h0M23 43h0M25 43h0M42 39h0M38 35h0M41 29h0M39 24h0M25 45h0M38 30h0M21 48h0M51 18h0M25 46h0"/><path stroke="#ec8a38" d="M49 38h0M43 38h0M37 22h0M43 39h0M41 41h0M47 33h0M41 16h0M49 11h0M52 31h0M43 14h0M41 15h0M38 18h0M36 20h0M47 38h0M45 42h0M40 20h0M40 23h0M36 14h0M51 29h0M37 26h0M38 20h0M39 40h0M34 18h0M42 14h0"/><path stroke="#b0201a" d="M32 27h0M36 35h0M33 25h0M31 38h0M26 36h0M28 37h0M32 21h0M31 29h0M15 38h0M25 40h0M33 34h0M34 23h0M21 24h0M35 26h0M29 34h0M22 36h0M27 39h0M29 29h0M25 39h0M13 36h0M21 26h0M36 31h0M34 27h0M33 34h0M21 37h0"/><path stroke="#26369a" d="M66 44h0M63 44h0M55 70h0M65 31h0M61 67h0M76 69h0M79 42h0M74 18h0M60 27h0M84 55h0M79 55h0M64 57h0M81 60h0M80 53h0M60 21h0M86 45h0M76 67h0M83 48h0M85 38h0M57 23h0M66 33h0M69 51h0M92 38h0"/><path stroke="#e05a28" d="M61 16h0M46 15h0M43 12h0M47 15h0M23 21h0M42 32h0M50 23h0M31 18h0M55 11h0M55 11h0M28 21h0M42 21h0M49 39h0M57 15h0M39 33h0M50 15h0M35 33h0M53 20h0M31 15h0M17 31h0M34 15h0M41 36h0M42 30h0M44 34h0M46 16h0M43 20h0M40 34h0M41 37h0M44 16h0"/><path stroke="#a6d0de" d="M47 46h0M57 42h0M54 41h0M46 60h0M49 45h0M54 57h0M39 51h0M54 40h0M58 43h0M48 42h0M41 51h0M59 50h0M51 36h0M56 39h0M54 43h0"/><path stroke="#eaeca6" d="M23 42h0M26 49h0M47 44h0M21 42h0"/></g></g><text x="98.6" y="172.7" font-size="8.1" fill="#1a1a1a" stroke="#1a1a1a" stroke-width="0.28" textLength="27.2" lengthAdjust="spacingAndGlyphs">NKG2C</text><g transform="translate(94.4,177.4)"><rect x="0.5" y="0.5" width="34.2" height="31.3" fill="#fff" stroke="#969696" stroke-width="1.2"/><rect x="33.9" y="0.6" width="1.0" height="31.1" fill="url(#cbar)"/><g clip-path="url(#cpP)"><g opacity="0.75"><rect width="35.4" height="32.3" fill="#2b3fa0"/><g filter="url(#bl)"><ellipse cx="9.5" cy="11" rx="6" ry="7.5" fill="#3c5ab2"/><ellipse cx="19" cy="26.5" rx="4.8" ry="2.6" fill="#eb8a36"/><ellipse cx="19" cy="27.5" rx="3" ry="1.4" fill="#f1b743"/><ellipse cx="23.7" cy="13.4" rx="1" ry="1" fill="#ec8a38"/><ellipse cx="29.6" cy="22" rx="0.8" ry="0.8" fill="#ec8a38"/><ellipse cx="8" cy="18.7" rx="0.8" ry="0.8" fill="#ec8a38"/></g></g><use href="#spP"/></g><g transform="scale(0.3333)" stroke-width="3.6" stroke-linecap="round" fill="none"><path stroke="#74a4dc" d="M34 22h0M67 26h0M37 14h0M67 43h0M38 21h0M36 20h0"/><path stroke="#26369a" d="M82 55h0M39 35h0M92 52h0M77 33h0M66 26h0M46 43h0M79 52h0M25 51h0M60 46h0M48 69h0M28 35h0M49 36h0M63 61h0M47 68h0M74 32h0M39 64h0M76 60h0M49 42h0M64 63h0M87 34h0M61 22h0M35 63h0M34 45h0M65 50h0M63 34h0M61 40h0M69 22h0M82 29h0M64 58h0M64 43h0M48 13h0M50 63h0M65 58h0M61 19h0M47 70h0M90 47h0M47 34h0M82 67h0M44 67h0M74 30h0M52 46h0M73 55h0M62 54h0M37 73h0M82 68h0M72 27h0M71 26h0M91 43h0M91 35h0M81 31h0M50 65h0M87 49h0M85 68h0M69 56h0M61 45h0M37 59h0M34 67h0M59 35h0M32 50h0M50 69h0M50 59h0M77 28h0M78 74h0M60 31h0M51 24h0M74 64h0M85 41h0M67 49h0M90 33h0M79 56h0M68 66h0M51 15h0M62 44h0M63 33h0M80 45h0M54 10h0M32 49h0M46 68h0M86 45h0M54 46h0M81 50h0M34 14h0M67 39h0M50 39h0M58 12h0M59 46h0M73 72h0M19 58h0M76 61h0M55 28h0M71 79h0M63 57h0M79 30h0M80 30h0M56 64h0M60 57h0M67 25h0M38 52h0M40 48h0M69 17h0M43 66h0M49 77h0M71 61h0M56 68h0M81 62h0M76 32h0M32 40h0M57 18h0M54 50h0M85 36h0M67 32h0M75 67h0M54 60h0M69 57h0M38 54h0M85 66h0M51 61h0M60 26h0M43 48h0M42 53h0M85 61h0M63 45h0M74 64h0M44 41h0M68 35h0M81 55h0M59 39h0M42 52h0M76 33h0M52 47h0M54 42h0M92 42h0M40 60h0M70 64h0M89 40h0M35 65h0M60 55h0M60 70h0M67 26h0M73 77h0M87 53h0M67 43h0M56 37h0M59 11h0M70 70h0M66 66h0M86 58h0M63 52h0M68 16h0M36 49h0M38 78h0M81 21h0M77 18h0M61 63h0M86 45h0M79 21h0M53 58h0M89 35h0M73 16h0M54 41h0M53 21h0M27 51h0M81 36h0M43 30h0M48 43h0M70 55h0M59 13h0M40 48h0M67 35h0M34 70h0M90 62h0M78 55h0M50 65h0M63 60h0M61 13h0M78 42h0M59 52h0M63 36h0M70 72h0M67 69h0M53 66h0M87 29h0M53 56h0M49 48h0M81 70h0M54 28h0M78 34h0M67 37h0M53 69h0M64 33h0M50 20h0M86 49h0M22 44h0M60 16h0M44 72h0M74 37h0M53 67h0M63 21h0M84 65h0M66 67h0M67 84h0M83 29h0M39 70h0M55 72h0M49 19h0M78 64h0M82 59h0M62 60h0M31 69h0M51 71h0M73 25h0M49 33h0M83 29h0M54 62h0M45 21h0M57 23h0M51 70h0M59 39h0M18 52h0M49 67h0M81 30h0M47 32h0M33 66h0M67 67h0M72 74h0M27 48h0M14 35h0M42 66h0M78 37h0M47 41h0M59 62h0M58 27h0M79 27h0M77 67h0M40 69h0M33 62h0M42 73h0M56 54h0M76 62h0M74 39h0M53 14h0M52 43h0M64 45h0M28 35h0M18 49h0M71 47h0M68 28h0M69 35h0M68 49h0M83 61h0M47 52h0M52 70h0M46 63h0M89 40h0M75 21h0M72 27h0M40 64h0M51 64h0M67 43h0M75 65h0M43 65h0M71 36h0M87 60h0M54 63h0M62 71h0M89 47h0M53 16h0M42 42h0M45 28h0M62 14h0M86 67h0M37 33h0M66 75h0M35 38h0M81 60h0M45 65h0M57 33h0M62 58h0M73 77h0M47 30h0M85 55h0M68 24h0M83 48h0M51 28h0M80 76h0M53 48h0M32 53h0M73 72h0M86 48h0M31 20h0M62 34h0M52 45h0M42 27h0M48 19h0M60 29h0M30 66h0M48 54h0M70 25h0M40 31h0M63 23h0M47 31h0M74 54h0M55 63h0M80 49h0M26 56h0M54 20h0M69 71h0M62 75h0M67 71h0M75 16h0M59 48h0M54 60h0M46 22h0M50 52h0M63 35h0M86 40h0M78 55h0M45 65h0M67 60h0M70 58h0M47 58h0M87 43h0M51 66h0M60 40h0M83 64h0M61 60h0M53 13h0M78 71h0M70 53h0M82 65h0M62 58h0M49 16h0M73 54h0M41 47h0M78 54h0M84 42h0M32 24h0M32 46h0M43 64h0M48 46h0M29 48h0M53 14h0M55 33h0M49 41h0M79 26h0M45 60h0M51 53h0M82 59h0M58 71h0M54 56h0M65 46h0M71 59h0M73 54h0M50 64h0M36 60h0M88 48h0M90 52h0M47 60h0M63 54h0M44 68h0M67 67h0M54 17h0M84 39h0M48 21h0M64 64h0M36 31h0M34 73h0M39 50h0M33 31h0M57 47h0M88 36h0M85 61h0M39 65h0M58 15h0M57 15h0M47 54h0M45 58h0M41 73h0M92 35h0M50 74h0M52 22h0M46 33h0M39 63h0M59 62h0M50 19h0M75 29h0M44 32h0M50 30h0M76 69h0"/><path stroke="#e05a28" d="M57 76h0M55 74h0M62 79h0M60 79h0M55 75h0"/><path stroke="#3b64bf" d="M51 45h0M74 40h0M49 28h0M57 42h0M74 76h0M57 22h0M44 37h0M12 34h0M28 44h0M38 17h0M76 68h0M47 73h0M74 45h0M24 63h0M82 32h0M87 49h0M79 34h0M29 56h0M84 52h0M79 62h0M72 49h0M74 53h0M75 41h0M32 59h0M23 44h0M56 15h0M25 43h0M71 44h0M74 50h0M70 43h0M87 69h0M86 33h0M44 35h0M45 24h0M40 24h0M88 47h0M45 25h0M77 47h0M47 36h0M45 70h0M88 45h0M44 45h0M39 71h0M78 73h0M46 43h0M36 73h0M52 9h0M30 35h0M43 74h0M89 39h0M69 64h0M43 61h0M44 35h0M47 68h0M57 38h0M78 75h0M68 41h0M86 66h0M46 35h0M54 52h0M69 72h0"/><path stroke="#eaeca6" d="M51 82h0M54 80h0"/><path stroke="#ec8a38" d="M66 84h0M70 77h0M58 80h0M72 42h0M56 75h0M73 40h0M53 81h0M63 86h0M23 58h0M58 77h0M56 74h0M56 81h0"/><path stroke="#a6d0de" d="M73 37h0M39 16h0M42 24h0M41 17h0"/><path stroke="#f4b840" d="M64 83h0M61 85h0M49 79h0M71 79h0M48 74h0M59 86h0M48 74h0M53 77h0M53 86h0M63 78h0"/><path stroke="#4a78cf" d="M57 21h0M48 27h0M69 27h0"/><path stroke="#f0dc50" d="M60 82h0M56 82h0M49 82h0M63 81h0M59 81h0M58 84h0M61 79h0"/><path stroke="#cc2a1c" d="M64 75h0"/></g></g><g transform="translate(94.4,212.1)"><rect x="0.5" y="0.5" width="34.2" height="31.3" fill="#fff" stroke="#969696" stroke-width="1.2"/><rect x="33.9" y="0.6" width="1.0" height="31.1" fill="url(#cbar)"/><g clip-path="url(#cpM)"><g opacity="0.75"><rect width="35.4" height="32.3" fill="#2b3fa0"/><g filter="url(#bl)"></g></g><use href="#spM"/></g><g transform="scale(0.3333)" stroke-width="3.6" stroke-linecap="round" fill="none"><path stroke="#26369a" d="M32 57h0M47 76h0M39 18h0M56 76h0M92 35h0M59 50h0M44 52h0M52 62h0M34 18h0M92 35h0M55 76h0M70 26h0M28 64h0M29 52h0M78 36h0M41 24h0M75 33h0M81 59h0M33 21h0M21 25h0M37 61h0M56 50h0M42 19h0M40 20h0M39 73h0M29 43h0M43 73h0M45 57h0M46 53h0M23 24h0M36 24h0M72 56h0M59 40h0M33 76h0M57 71h0M47 35h0M79 46h0M46 16h0M60 21h0M71 70h0M36 73h0M52 57h0M66 61h0M24 30h0M45 37h0M31 22h0M31 71h0M54 49h0M31 29h0M61 66h0M31 50h0M25 46h0M77 36h0M60 21h0M50 9h0M25 23h0M76 23h0M25 47h0M75 18h0M62 69h0M42 70h0M57 66h0M38 21h0M42 80h0M56 24h0M65 63h0M63 68h0M28 42h0M73 54h0M78 39h0M67 61h0M43 42h0M29 42h0M38 41h0M22 40h0M16 40h0M37 58h0M60 20h0M56 62h0M58 60h0M37 41h0M57 65h0M55 25h0M30 17h0M72 54h0M32 61h0M66 20h0M61 44h0M33 71h0M55 42h0M53 51h0M53 33h0M71 63h0M34 53h0M39 35h0M60 15h0M69 19h0M18 31h0M52 43h0M70 29h0M49 51h0M18 25h0M64 32h0M39 53h0M68 26h0M48 34h0M12 36h0M65 49h0M36 59h0M56 54h0M61 20h0M39 17h0M14 29h0M46 73h0M56 17h0M53 10h0M26 53h0M26 56h0M15 38h0M34 55h0M74 52h0M56 26h0M63 61h0M16 22h0M36 16h0M74 59h0M24 45h0M22 54h0M62 13h0M39 75h0M48 32h0M81 69h0M41 72h0M77 37h0M35 39h0M31 29h0M34 11h0M63 47h0M69 74h0M38 60h0M41 22h0M38 53h0M79 33h0M22 36h0M27 40h0M46 33h0M65 20h0M44 48h0M57 34h0M22 18h0M35 48h0M44 46h0M55 72h0M14 29h0M61 27h0M75 50h0M31 65h0M55 42h0M73 23h0M70 52h0M55 70h0M36 16h0M76 57h0M37 55h0M74 25h0M37 42h0M57 52h0M40 36h0M14 47h0M32 21h0M20 43h0M48 37h0M41 18h0M38 31h0M57 32h0M75 66h0M48 17h0M62 39h0M41 43h0M85 53h0M41 62h0M54 49h0M62 64h0M67 64h0M17 29h0M74 63h0M27 21h0M52 26h0M37 40h0M31 31h0M60 68h0M50 29h0M73 50h0M53 28h0M50 56h0M71 49h0M36 26h0M65 14h0M63 22h0M47 31h0M31 47h0M54 66h0M53 60h0M51 15h0M42 44h0M49 78h0M80 70h0M73 53h0M11 35h0M70 26h0M51 66h0M37 72h0M48 63h0M29 43h0M33 62h0M62 37h0M36 38h0M42 56h0M25 55h0M47 18h0M86 35h0M69 63h0M44 65h0M17 41h0M20 49h0M28 23h0M18 48h0M55 56h0M61 49h0M44 28h0M43 72h0M33 66h0M35 18h0M65 31h0M48 65h0M25 40h0M42 67h0M54 60h0M68 63h0M68 16h0M65 32h0M47 69h0M73 59h0M57 51h0M28 36h0M66 52h0M41 48h0M72 18h0M51 51h0M74 55h0M52 25h0M58 63h0M62 61h0M21 26h0M57 15h0M28 35h0M80 53h0M50 18h0M64 25h0M30 54h0M58 11h0M62 14h0M26 57h0M70 25h0M77 31h0M28 34h0M81 42h0M42 55h0M41 74h0M38 18h0M41 65h0M76 25h0M55 62h0M60 19h0M31 33h0M71 61h0M59 61h0M79 33h0M38 50h0M33 42h0M37 26h0M23 23h0M23 49h0M58 48h0M15 43h0M69 32h0M54 62h0M40 49h0M50 78h0M80 51h0M24 44h0M49 12h0M32 35h0M82 50h0M69 20h0M66 47h0M54 19h0M59 13h0M52 44h0M52 64h0M31 42h0M76 37h0M87 41h0M36 20h0M36 20h0M75 57h0M42 36h0M44 23h0M63 75h0M42 77h0M86 39h0M66 32h0M46 60h0M69 61h0M56 29h0M76 19h0M26 26h0M37 77h0M61 55h0M30 28h0M50 58h0M53 55h0M53 68h0M61 62h0M72 56h0M81 71h0M18 46h0M24 38h0M41 30h0M28 32h0M61 45h0M33 14h0M24 26h0M66 38h0M17 47h0M24 42h0M32 55h0M29 24h0M34 33h0M75 32h0M72 25h0M33 49h0M67 25h0M42 47h0M56 15h0M44 72h0M58 57h0M23 40h0M29 58h0M17 31h0M56 54h0M69 63h0M49 18h0M44 47h0M34 70h0M21 36h0M29 24h0M53 32h0M69 71h0M54 69h0M59 16h0M41 38h0M68 51h0M42 50h0M79 35h0M50 64h0M40 48h0M43 15h0M57 66h0M50 15h0M24 41h0M49 14h0M40 49h0M56 23h0M38 11h0M60 43h0M56 23h0M27 53h0M22 31h0M39 16h0M43 45h0M25 50h0M69 61h0M80 58h0M24 44h0M63 62h0M67 23h0M80 45h0M63 72h0M31 23h0M33 43h0M43 42h0M38 14h0M47 35h0M75 63h0M83 33h0M37 46h0M42 24h0M42 75h0M33 69h0M55 36h0M62 20h0M16 31h0M80 67h0M64 25h0M45 67h0M80 63h0M62 44h0M43 13h0M49 38h0M71 19h0M27 27h0M64 24h0M79 53h0M53 49h0M41 54h0M71 28h0M49 33h0M45 18h0M29 64h0M59 30h0M25 53h0M27 33h0M31 18h0M31 20h0M69 18h0M40 66h0M60 33h0M44 51h0M74 70h0M29 51h0M49 75h0M28 46h0M57 29h0M39 47h0M39 37h0M53 64h0M25 42h0M27 18h0M65 44h0M37 56h0"/><path stroke="#3b64bf" d="M62 34h0M38 58h0M20 47h0M42 39h0M86 43h0M73 72h0M72 66h0M45 19h0M41 70h0M46 39h0M47 10h0M49 59h0M41 62h0M72 72h0M34 49h0M18 25h0M54 59h0M44 13h0M25 47h0M51 15h0M63 29h0M40 30h0M25 53h0M43 38h0M74 46h0M37 28h0M34 25h0M84 42h0M43 14h0M32 52h0M23 32h0M29 58h0M33 22h0M76 30h0M14 27h0M46 9h0M79 34h0M46 73h0M43 51h0M67 29h0M39 71h0M60 67h0M29 53h0M81 65h0M72 67h0M38 64h0M87 33h0M35 50h0M50 37h0M84 43h0M68 15h0M69 55h0M56 12h0M24 16h0M45 41h0M71 57h0"/><path stroke="#4a78cf" d="M29 33h0M70 67h0"/><path stroke="#74a4dc" d="M72 76h0"/></g></g><text x="147.8" y="172.7" font-size="8.1" fill="#1a1a1a" stroke="#1a1a1a" stroke-width="0.28" textLength="24.2" lengthAdjust="spacingAndGlyphs">siglec7</text><g transform="translate(142.5,177.4)"><rect x="0.5" y="0.5" width="34.2" height="31.3" fill="#fff" stroke="#969696" stroke-width="1.2"/><rect x="33.9" y="0.6" width="1.0" height="31.1" fill="url(#cbar)"/><g clip-path="url(#cpP)"><g opacity="0.75"><rect width="35.4" height="32.3" fill="#f1b743"/><g filter="url(#bl)"><ellipse cx="9.5" cy="11" rx="6" ry="7.5" fill="#d7df9d"/><ellipse cx="22.5" cy="8" rx="7.5" ry="4.5" fill="#a47f6a"/><ellipse cx="27.5" cy="17" rx="4" ry="7.5" fill="#eb8a36"/><ellipse cx="18" cy="16" rx="6" ry="5.5" fill="#f1b743"/><ellipse cx="20" cy="25" rx="8" ry="3.5" fill="#2b3fa0"/><ellipse cx="11.5" cy="22" rx="3.5" ry="3.5" fill="#4169c1"/><ellipse cx="17" cy="20" rx="8" ry="1.8" fill="#2b3fa0" transform="rotate(35 17 20)"/></g></g><use href="#spP"/></g><g transform="scale(0.3333)" stroke-width="3.6" stroke-linecap="round" fill="none"><path stroke="#f4b840" d="M40 75h0M82 57h0M65 56h0M87 47h0M52 50h0M57 30h0M66 44h0M43 39h0M74 29h0M60 16h0M68 62h0M83 49h0M60 39h0M61 26h0M44 41h0M48 45h0M68 56h0M88 69h0M81 52h0M66 50h0M58 57h0M54 42h0M51 16h0M72 44h0M63 30h0M50 38h0M41 42h0M67 84h0M73 37h0M76 23h0M61 28h0M50 52h0M72 51h0M79 51h0M71 38h0M70 48h0M48 17h0M47 67h0M76 23h0M88 28h0M44 23h0M65 50h0M71 57h0M62 50h0M46 68h0M86 33h0M49 41h0M86 48h0M56 15h0M68 54h0M40 47h0M74 22h0M75 25h0M76 19h0M29 58h0M73 51h0M69 37h0M42 12h0M56 40h0M69 51h0M50 41h0M74 71h0M67 55h0M48 45h0M66 14h0M87 30h0M53 42h0M55 52h0M62 23h0M59 17h0M72 52h0M85 47h0M84 68h0M52 9h0M59 39h0M81 52h0M70 40h0M50 19h0M58 29h0M67 57h0M67 32h0M62 13h0M78 26h0M89 59h0M52 52h0M45 41h0M84 46h0M69 48h0M70 51h0M54 41h0M68 67h0M62 25h0M45 61h0M64 54h0M73 61h0"/><path stroke="#ec8a38" d="M79 28h0M70 21h0M78 47h0M61 39h0M61 35h0M77 58h0M69 45h0M74 47h0M79 70h0M80 44h0M83 66h0M82 68h0M58 19h0M82 66h0M90 43h0M54 16h0M49 35h0M84 65h0M45 66h0M65 25h0M77 57h0M61 20h0M68 33h0M53 29h0M50 24h0M80 28h0M76 36h0M77 31h0M78 55h0M77 58h0M66 23h0M67 21h0M87 68h0M71 21h0M47 13h0M82 56h0M72 22h0M62 35h0M85 65h0M62 46h0M43 44h0M63 60h0M85 34h0M67 45h0M75 34h0M71 22h0M72 36h0M48 32h0M87 66h0M53 36h0M73 56h0M65 28h0M51 29h0M81 54h0M69 63h0M56 47h0M58 42h0M78 43h0M54 86h0M82 62h0M39 41h0M81 29h0M67 56h0M72 25h0M82 28h0M83 31h0M73 48h0M76 56h0M57 45h0M46 27h0M73 43h0M53 9h0M83 72h0M75 28h0M49 30h0M72 50h0M57 46h0M79 30h0M72 46h0M88 61h0M82 66h0M69 22h0M81 67h0M70 22h0M89 44h0M54 37h0"/><path stroke="#f0dc50" d="M45 46h0M31 14h0M62 48h0M48 27h0M39 40h0M43 19h0M63 22h0M59 50h0M73 67h0M43 15h0M42 48h0M76 67h0M22 49h0M57 45h0M20 50h0M56 12h0M58 29h0M60 37h0M68 61h0M46 11h0M35 41h0M89 33h0M59 57h0M21 50h0M61 55h0M34 37h0M78 64h0M74 61h0M24 50h0M57 37h0M58 55h0M58 82h0M46 20h0M88 58h0M49 17h0M61 61h0M43 46h0M93 41h0M62 50h0M86 27h0M61 31h0M51 45h0M18 53h0M83 53h0M53 31h0M17 52h0M17 47h0M61 45h0M46 37h0M65 50h0M57 32h0M46 14h0M49 37h0M47 38h0M59 48h0M57 48h0M73 26h0M64 59h0M21 51h0M62 43h0M31 50h0M47 82h0M61 58h0M69 64h0M46 63h0M46 17h0M65 50h0M22 55h0M47 12h0"/><path stroke="#eaeca6" d="M40 26h0M33 45h0M37 44h0M39 32h0M40 32h0M17 47h0M58 41h0M29 54h0M47 22h0M40 27h0M20 32h0M41 29h0M57 85h0M21 21h0M27 50h0M29 58h0M73 43h0M37 18h0M40 23h0M18 34h0M33 46h0M22 30h0"/><path stroke="#26369a" d="M84 72h0M58 83h0M55 83h0M29 46h0M69 77h0M51 22h0M66 79h0M76 73h0M67 84h0M67 78h0M60 75h0M53 69h0M57 81h0M65 68h0M52 74h0M53 74h0M70 31h0M53 80h0M52 74h0M47 69h0M62 63h0M72 77h0M40 51h0M53 23h0M70 27h0M60 80h0M58 62h0M62 74h0M51 66h0M51 77h0M56 76h0M56 76h0M60 84h0M58 62h0M48 59h0M42 59h0M44 68h0M44 55h0M45 60h0M58 74h0M53 16h0M49 71h0M40 74h0M55 75h0M55 78h0M71 79h0M78 73h0M38 74h0M78 73h0M46 51h0M69 70h0M57 25h0M47 71h0M62 33h0M46 79h0M42 54h0M58 73h0M48 66h0M40 50h0M65 77h0M66 18h0M59 67h0M75 73h0M49 57h0M67 71h0M44 50h0M38 65h0M43 55h0M57 82h0M63 68h0M48 78h0M55 58h0M44 57h0M56 23h0M71 68h0M60 79h0M47 56h0M63 80h0M62 68h0M59 23h0M50 23h0M55 24h0M57 75h0M35 71h0M66 81h0M72 67h0M47 56h0M57 75h0M68 73h0M42 77h0M66 80h0M76 68h0M50 77h0M44 49h0M78 75h0M61 77h0M68 77h0M68 73h0M44 65h0M59 61h0M40 69h0M62 78h0M39 71h0M77 70h0M70 29h0M46 58h0M75 68h0M42 74h0M50 68h0M56 79h0M35 49h0M48 78h0M50 68h0M34 49h0M60 62h0M43 75h0M60 77h0M50 59h0"/><path stroke="#cc2a1c" d="M78 47h0M83 53h0"/><path stroke="#3b64bf" d="M59 22h0M48 73h0M48 62h0M27 59h0M81 66h0M87 29h0M63 19h0M51 34h0M45 74h0M59 67h0M54 24h0M58 21h0M41 57h0M34 69h0M49 58h0M33 73h0M25 64h0M76 23h0M63 17h0M53 29h0M50 20h0M53 22h0M51 16h0M79 70h0M66 29h0M50 16h0M35 76h0M58 34h0M54 29h0M63 85h0M45 61h0M32 67h0M55 26h0M70 31h0M43 62h0M65 20h0M59 69h0M31 59h0M78 24h0M35 65h0M51 20h0M27 61h0M58 83h0M28 60h0M71 30h0M53 21h0M56 29h0M50 75h0M41 77h0M63 83h0M49 20h0"/><path stroke="#e05a28" d="M79 69h0M57 13h0M76 60h0M81 32h0M73 41h0M83 61h0M81 44h0M75 40h0M79 55h0M79 65h0M77 69h0M83 62h0M87 42h0M64 84h0M84 25h0M83 38h0M82 44h0M75 60h0M81 53h0M76 60h0M77 60h0M82 66h0M88 40h0M90 36h0M75 67h0M80 60h0M78 53h0M92 41h0M67 22h0M84 46h0M84 64h0M89 55h0M72 63h0M92 37h0M52 34h0M76 27h0M77 67h0M77 62h0M82 37h0M77 64h0"/><path stroke="#a6d0de" d="M38 41h0M20 44h0M37 12h0M39 24h0M16 29h0M15 26h0"/><path stroke="#4a78cf" d="M36 60h0M31 68h0M38 73h0M38 67h0M47 26h0M39 74h0M31 59h0M38 57h0M36 70h0"/><path stroke="#74a4dc" d="M26 27h0M36 72h0"/></g></g><g transform="translate(142.5,212.1)"><rect x="0.5" y="0.5" width="34.2" height="31.3" fill="#fff" stroke="#969696" stroke-width="1.2"/><rect x="33.9" y="0.6" width="1.0" height="31.1" fill="url(#cbar)"/><g clip-path="url(#cpM)"><g opacity="0.75"><rect width="35.4" height="32.3" fill="#f1b743"/><g filter="url(#bl)"><ellipse cx="9" cy="8.5" rx="5.5" ry="5" fill="#d0d391"/><ellipse cx="17.5" cy="5" rx="5" ry="2.5" fill="#f1b743"/><ellipse cx="7.5" cy="16" rx="3.5" ry="4.5" fill="#2b3fa0"/><ellipse cx="16" cy="15.5" rx="5" ry="4.5" fill="#eb8a36"/><ellipse cx="17" cy="22.5" rx="8" ry="3.5" fill="#878e8e"/><ellipse cx="27.5" cy="17.5" rx="3" ry="7" fill="#eaeca6"/></g></g><use href="#spM"/></g><g transform="scale(0.3333)" stroke-width="3.6" stroke-linecap="round" fill="none"><path stroke="#f0dc50" d="M29 59h0M29 66h0M25 23h0M40 30h0M13 40h0M61 15h0M63 62h0M64 36h0M52 34h0M67 32h0M66 60h0M69 26h0M12 37h0M60 26h0M38 29h0M62 46h0M33 70h0M64 64h0M64 64h0M41 70h0M77 32h0M36 36h0M70 57h0M56 62h0M68 26h0M47 32h0M67 50h0M20 26h0M56 25h0M63 65h0M71 29h0M36 29h0M45 67h0M54 18h0M81 31h0M71 26h0M61 67h0M75 64h0M63 17h0M40 57h0M66 22h0M67 61h0M61 23h0M68 29h0M71 26h0M31 13h0M11 32h0M35 57h0M21 24h0M41 64h0M69 76h0M50 61h0M82 46h0M41 35h0M42 66h0M69 26h0M69 58h0M26 25h0M34 13h0M55 65h0M41 52h0M47 37h0M69 25h0M73 25h0M56 19h0M51 11h0M70 27h0M24 26h0M49 62h0M65 16h0M60 42h0M33 58h0M70 62h0M48 13h0M63 45h0M69 24h0M41 41h0M57 58h0M61 31h0M23 32h0M58 15h0M34 48h0M61 62h0M88 53h0M23 27h0M58 60h0M60 25h0M55 61h0M32 66h0M66 64h0M34 38h0M52 31h0M64 48h0M61 12h0M28 24h0M69 61h0M65 66h0M55 26h0M56 22h0M20 29h0M63 13h0M44 35h0M32 44h0M67 29h0M17 23h0M50 21h0M33 34h0M42 39h0M67 30h0M38 17h0M73 70h0M78 50h0M38 68h0M22 27h0M47 17h0M58 57h0M46 35h0M38 69h0M72 26h0M57 68h0M67 27h0M84 54h0M43 35h0"/><path stroke="#26369a" d="M14 44h0M27 43h0M28 47h0M20 46h0M29 39h0M56 72h0M21 46h0M24 54h0M43 65h0M66 60h0M23 40h0M22 35h0M30 56h0M27 56h0M35 73h0M38 60h0M20 51h0M23 38h0M49 68h0M18 44h0M40 63h0M51 67h0M13 45h0M26 55h0M21 41h0M47 61h0M43 71h0M27 40h0M29 44h0M28 39h0M71 63h0M45 66h0M49 62h0M26 44h0M16 40h0M19 54h0M66 63h0M58 65h0M15 50h0M18 42h0M29 42h0M30 47h0M19 40h0M27 53h0M30 43h0M65 58h0M52 69h0M43 72h0M28 57h0M27 42h0M30 40h0M32 54h0M29 60h0M62 62h0M57 59h0M21 42h0M70 69h0"/><path stroke="#3b64bf" d="M59 68h0M49 72h0M26 57h0M27 53h0M33 61h0M33 63h0M16 36h0M20 47h0M45 62h0M55 73h0M76 66h0M29 64h0M41 62h0M43 74h0M38 73h0M41 74h0M53 70h0M50 74h0M17 45h0M45 62h0M46 73h0M38 63h0M66 56h0M43 62h0M53 71h0M51 72h0M50 65h0M48 67h0M46 69h0M44 62h0M33 75h0M47 61h0M29 51h0"/><path stroke="#4a78cf" d="M65 68h0M50 66h0M28 20h0M28 51h0"/><path stroke="#f4b840" d="M50 10h0M69 70h0M28 26h0M61 42h0M43 15h0M69 21h0M63 29h0M54 15h0M53 63h0M74 68h0M47 53h0M57 62h0M36 60h0M62 54h0M59 70h0M52 18h0M53 41h0M40 65h0M67 31h0M66 18h0M70 22h0M73 50h0M66 18h0M74 23h0M48 42h0M53 15h0M62 24h0M64 53h0M50 21h0M63 71h0M77 21h0M65 28h0M46 14h0M48 18h0M63 27h0M31 63h0M13 44h0M50 47h0M77 22h0M47 51h0M40 15h0M41 37h0M67 20h0M28 41h0M69 71h0M61 62h0M66 22h0M48 53h0M60 72h0M70 53h0M39 42h0M40 38h0M43 40h0M88 34h0M63 32h0M29 61h0M39 47h0M58 18h0M73 60h0M35 48h0M51 18h0M38 36h0M43 68h0M38 36h0M48 52h0M30 44h0M61 28h0M66 66h0M43 14h0M49 51h0M38 67h0M58 46h0M13 46h0M57 28h0M56 11h0M63 21h0M70 50h0M70 49h0M68 49h0M36 11h0M85 34h0M42 43h0M76 23h0M41 28h0M67 46h0M48 44h0M39 46h0M63 69h0M53 13h0M59 74h0M38 54h0M78 22h0M55 25h0M34 46h0M62 55h0M70 48h0M73 47h0M73 31h0M38 31h0M42 55h0"/><path stroke="#ec8a38" d="M52 45h0M55 52h0M60 19h0M39 42h0M75 29h0M54 49h0M70 59h0M60 45h0M43 35h0M32 53h0M53 55h0M58 53h0M51 40h0M63 48h0M50 26h0M57 51h0M50 43h0M33 45h0M55 42h0M55 43h0M46 48h0M16 33h0M39 13h0M41 49h0M91 42h0M37 50h0M46 49h0M50 41h0M67 75h0M41 25h0M50 54h0M64 24h0M41 53h0M68 31h0M41 20h0M42 41h0M75 28h0M35 48h0M39 51h0M51 54h0M29 56h0M51 42h0M40 53h0M59 50h0M55 53h0M52 55h0M39 53h0M61 57h0M30 54h0M42 46h0M53 54h0M55 50h0M46 48h0M50 54h0M57 48h0M51 46h0M47 48h0M33 52h0M76 63h0M50 55h0M39 47h0"/><path stroke="#a6d0de" d="M32 24h0M36 22h0M33 12h0M78 62h0M30 19h0M16 33h0M30 38h0M82 60h0M41 18h0M27 21h0M36 28h0M34 14h0M27 38h0M20 35h0M31 33h0M17 31h0M31 24h0M24 35h0M34 36h0M20 36h0M40 22h0M33 37h0M28 35h0M27 35h0M30 32h0M36 24h0M32 23h0M27 33h0"/><path stroke="#eaeca6" d="M75 58h0M86 43h0M78 67h0M79 47h0M21 33h0M62 19h0M74 56h0M85 46h0M78 35h0M37 32h0M64 53h0M82 35h0M78 59h0M32 20h0M31 33h0M22 28h0M54 61h0M22 23h0M82 57h0M79 34h0M28 24h0M79 35h0M84 43h0M30 21h0M68 30h0M42 66h0M31 19h0M81 73h0M84 39h0M23 33h0M88 42h0M29 33h0M77 49h0M27 14h0M32 20h0M84 36h0M90 36h0M50 62h0M36 27h0M35 21h0M20 28h0M67 28h0M82 63h0M22 32h0M13 28h0M35 31h0M78 53h0M87 41h0M74 56h0M77 57h0M77 69h0M43 34h0M78 58h0M87 43h0M47 12h0M31 32h0M33 36h0M36 33h0M32 17h0M83 56h0M84 70h0M85 39h0"/><path stroke="#74a4dc" d="M31 21h0M32 30h0M31 40h0M64 66h0M64 72h0"/><path stroke="#e05a28" d="M41 45h0M55 48h0M47 42h0M40 48h0M49 38h0M63 50h0M49 49h0M42 53h0M45 54h0M39 51h0M63 44h0M53 47h0M50 34h0M41 41h0M49 49h0M52 32h0M48 33h0M59 47h0M43 44h0M59 44h0M41 50h0M43 53h0M47 53h0M54 45h0M58 45h0"/><path stroke="#cc2a1c" d="M50 49h0M55 36h0"/></g></g><text x="197.7" y="172.7" font-size="8.1" fill="#1a1a1a" stroke="#1a1a1a" stroke-width="0.28" textLength="20.9" lengthAdjust="spacingAndGlyphs">CD25</text><g transform="translate(190.6,177.4)"><rect x="0.5" y="0.5" width="34.2" height="31.3" fill="#fff" stroke="#969696" stroke-width="1.2"/><rect x="33.9" y="0.6" width="1.0" height="31.1" fill="url(#cbar)"/><g clip-path="url(#cpP)"><g opacity="0.75"><rect width="35.4" height="32.3" fill="#2b3fa0"/><g filter="url(#bl)"><ellipse cx="9.5" cy="11" rx="6" ry="7.5" fill="#d39e5d"/></g></g><use href="#spP"/></g><g transform="scale(0.3333)" stroke-width="3.6" stroke-linecap="round" fill="none"><path stroke="#26369a" d="M60 51h0M66 19h0M65 16h0M80 35h0M68 24h0M65 76h0M50 24h0M66 17h0M13 37h0M73 48h0M35 52h0M91 49h0M85 68h0M62 58h0M48 26h0M59 58h0M59 33h0M47 57h0M54 68h0M47 45h0M66 61h0M83 72h0M59 17h0M57 16h0M43 56h0M68 78h0M40 54h0M48 53h0M47 19h0M52 46h0M85 66h0M82 55h0M46 61h0M23 56h0M52 20h0M49 73h0M75 60h0M41 17h0M82 65h0M38 74h0M65 46h0M86 48h0M55 25h0M77 56h0M86 50h0M89 46h0M55 23h0M64 14h0M43 53h0M49 81h0M65 25h0M32 64h0M50 84h0M84 50h0M81 74h0M63 59h0M50 78h0M48 56h0M74 49h0M81 32h0M53 13h0M66 69h0M67 47h0M68 53h0M74 56h0M17 51h0M69 29h0M67 20h0M47 15h0M85 61h0M86 37h0M58 53h0M70 59h0M74 23h0M88 48h0M86 47h0M46 50h0M80 44h0M41 56h0M66 27h0M66 16h0M70 25h0M74 41h0M55 30h0M65 35h0M86 32h0M76 59h0M70 33h0M54 28h0M62 26h0M40 52h0M93 41h0M71 16h0M57 73h0M70 70h0M37 77h0M49 37h0M82 65h0M35 70h0M58 36h0M56 57h0M52 57h0M82 48h0M62 62h0M82 43h0M81 42h0M80 24h0M63 75h0M42 19h0M71 73h0M43 18h0M67 46h0M83 51h0M69 53h0M85 47h0M82 37h0M64 58h0M56 47h0M61 57h0M46 62h0M51 59h0M38 53h0M59 26h0M84 48h0M57 41h0M76 72h0M60 29h0M85 69h0M44 76h0M73 78h0M81 43h0M92 37h0M72 52h0M56 39h0M51 36h0M64 24h0M77 62h0M76 24h0M68 26h0M51 38h0M81 35h0M75 43h0M72 25h0M82 33h0M85 33h0M70 66h0M31 63h0M80 29h0M69 44h0M70 39h0M40 75h0M39 73h0M66 71h0M68 26h0M67 56h0M74 33h0M42 46h0M65 57h0M60 42h0M67 43h0M71 54h0M47 59h0M61 27h0M49 75h0M61 17h0M89 35h0M90 53h0M56 79h0M51 62h0M59 71h0M42 77h0M87 66h0M79 36h0M65 76h0M69 49h0M79 72h0M74 65h0M47 27h0M47 17h0M37 67h0M90 45h0M57 34h0M53 36h0M80 47h0M48 16h0M55 25h0M80 63h0M66 52h0M56 74h0M55 45h0M76 73h0M40 60h0M50 69h0M50 76h0M56 15h0M45 22h0M48 20h0M79 33h0M54 18h0M76 44h0M77 27h0M66 72h0M79 29h0M49 82h0M56 38h0M63 36h0M73 29h0M40 76h0M32 61h0M89 40h0M55 23h0M78 30h0M44 63h0M61 45h0M73 36h0M59 42h0M57 45h0M55 30h0M62 22h0M68 62h0M55 16h0M68 43h0M70 68h0M58 86h0M71 56h0M21 60h0M81 23h0M84 74h0M69 49h0M43 68h0M52 36h0M62 21h0M44 51h0M88 66h0M50 81h0M78 39h0M62 41h0M77 25h0M79 47h0M40 71h0M47 74h0M44 62h0M64 39h0M87 45h0M65 74h0M42 59h0M55 50h0M54 72h0M43 20h0M55 18h0M48 37h0M42 55h0M59 44h0M72 62h0M78 37h0M32 73h0M67 33h0M80 50h0M44 59h0M20 57h0M67 28h0M68 26h0M68 79h0M68 37h0M63 43h0M63 56h0M48 21h0M68 57h0M63 17h0M80 49h0M48 23h0M85 72h0M48 61h0M82 43h0M79 32h0M55 62h0M64 52h0M67 47h0M39 66h0M44 74h0M57 62h0M48 67h0M46 48h0M21 55h0M69 49h0M50 73h0M40 69h0M88 68h0M55 71h0M80 41h0M61 28h0M92 42h0M69 49h0M63 67h0M42 72h0M69 21h0M42 59h0M61 67h0M70 78h0M48 49h0M77 51h0M58 74h0M52 57h0M76 77h0M56 27h0M46 61h0M63 62h0M41 56h0M87 45h0M82 51h0M40 60h0M46 66h0M43 80h0M68 62h0M52 19h0M53 46h0M55 37h0M72 53h0M48 74h0M70 66h0M86 67h0M36 68h0M63 60h0M74 72h0M38 52h0M80 53h0M82 26h0M61 69h0M46 37h0M66 68h0M72 59h0M52 83h0M80 77h0M67 26h0M66 70h0M68 61h0M50 58h0M61 42h0M88 59h0M75 79h0M62 63h0M51 76h0M76 39h0M54 14h0M68 58h0M66 55h0M54 30h0M47 17h0M66 34h0M50 33h0M34 61h0M57 61h0M51 13h0M68 46h0M37 64h0M55 47h0M72 36h0M87 42h0M73 54h0M75 25h0M62 60h0M74 55h0M59 56h0M69 56h0M49 34h0M51 14h0M43 68h0M41 56h0M55 43h0M34 71h0M60 26h0M87 52h0M51 21h0M69 77h0M56 59h0M70 34h0M18 53h0M86 32h0M51 83h0M57 28h0M33 60h0M58 42h0M67 62h0M82 72h0M67 34h0M68 27h0M41 55h0M89 57h0M63 44h0M48 68h0M71 19h0M65 39h0M50 72h0M27 54h0M54 29h0M63 42h0M61 28h0M44 22h0M70 71h0"/><path stroke="#3b64bf" d="M56 37h0M50 41h0M69 47h0M70 71h0M81 59h0M74 37h0M52 66h0M58 21h0M71 44h0M59 59h0M78 45h0M91 46h0M40 22h0M76 58h0M56 82h0M74 39h0M49 29h0M82 54h0M66 59h0M76 52h0M38 59h0M81 34h0M63 22h0M67 44h0M72 27h0M55 61h0M60 83h0M65 66h0M54 72h0M61 75h0M44 34h0M67 20h0M74 38h0M41 50h0M47 44h0M63 35h0M84 43h0M54 51h0M74 38h0M72 54h0M86 48h0M52 41h0M43 62h0M47 43h0M55 50h0M43 58h0"/><path stroke="#74a4dc" d="M33 35h0M39 32h0M34 17h0M41 34h0M37 47h0M37 48h0M40 50h0M34 17h0M46 46h0M40 48h0M25 46h0M43 34h0M30 48h0M82 50h0"/><path stroke="#e05a28" d="M34 43h0M29 52h0M29 33h0M28 53h0M37 43h0M39 31h0M42 45h0"/><path stroke="#f0dc50" d="M46 29h0M45 27h0M31 43h0M45 26h0M46 26h0M34 48h0M40 44h0M17 51h0M36 18h0M35 44h0M39 40h0M40 47h0M37 40h0M24 49h0M45 28h0M36 45h0M25 52h0M43 19h0"/><path stroke="#ec8a38" d="M42 16h0M35 20h0M19 57h0M21 23h0M33 42h0M32 21h0M21 33h0M24 50h0M21 37h0M36 45h0M35 43h0"/><path stroke="#f4b840" d="M37 41h0"/><path stroke="#a6d0de" d="M27 47h0"/><path stroke="#4a78cf" d="M45 34h0M55 52h0"/><path stroke="#eaeca6" d="M17 39h0"/></g></g><g transform="translate(190.6,212.1)"><rect x="0.5" y="0.5" width="34.2" height="31.3" fill="#fff" stroke="#969696" stroke-width="1.2"/><rect x="33.9" y="0.6" width="1.0" height="31.1" fill="url(#cbar)"/><g clip-path="url(#cpM)"><g opacity="0.75"><rect width="35.4" height="32.3" fill="#2b3fa0"/><g filter="url(#bl)"><ellipse cx="9" cy="8.5" rx="5.5" ry="5" fill="#e27431"/><ellipse cx="13" cy="4.5" rx="3" ry="1.5" fill="#ead462"/><ellipse cx="7.5" cy="13.5" rx="3.5" ry="1.2" fill="#a6d0de"/></g></g><use href="#spM"/></g><g transform="scale(0.3333)" stroke-width="3.6" stroke-linecap="round" fill="none"><path stroke="#3b64bf" d="M48 43h0M47 16h0M43 48h0M54 53h0M79 38h0M81 34h0M49 47h0M75 54h0M38 66h0M19 54h0M38 43h0M48 71h0M40 75h0M12 34h0M48 38h0M50 56h0M83 55h0M45 76h0M58 33h0M51 40h0M81 55h0M49 41h0M41 74h0M81 42h0M80 27h0M69 17h0M51 41h0M46 41h0M40 41h0M50 71h0M26 52h0M53 44h0M45 76h0M46 38h0M70 27h0M50 38h0M63 60h0M47 12h0M47 58h0M52 40h0M79 47h0M48 38h0M47 76h0M50 51h0M84 55h0M38 18h0M50 20h0M57 38h0M45 41h0M44 75h0M47 66h0M74 32h0M45 66h0"/><path stroke="#26369a" d="M47 17h0M73 47h0M53 45h0M61 30h0M38 44h0M41 45h0M40 46h0M48 37h0M34 50h0M72 55h0M77 65h0M54 73h0M37 47h0M47 61h0M91 34h0M59 21h0M72 52h0M68 67h0M64 43h0M55 59h0M24 53h0M61 55h0M34 56h0M70 20h0M28 53h0M81 30h0M56 42h0M39 78h0M50 10h0M52 32h0M48 75h0M18 45h0M77 48h0M57 48h0M50 18h0M46 15h0M25 61h0M48 11h0M81 61h0M79 53h0M89 42h0M72 63h0M59 22h0M62 46h0M37 43h0M42 71h0M55 60h0M78 32h0M42 22h0M37 66h0M59 47h0M64 13h0M59 64h0M27 47h0M62 34h0M33 13h0M48 60h0M77 74h0M36 39h0M34 51h0M57 55h0M49 33h0M40 54h0M56 41h0M70 52h0M57 29h0M68 20h0M69 24h0M23 52h0M62 58h0M50 35h0M64 34h0M51 74h0M65 25h0M64 45h0M43 34h0M52 42h0M53 27h0M14 47h0M16 50h0M72 55h0M13 41h0M79 28h0M55 31h0M52 24h0M44 72h0M25 50h0M51 49h0M71 52h0M68 18h0M42 51h0M44 47h0M55 67h0M48 52h0M47 63h0M43 51h0M51 44h0M74 29h0M42 18h0M42 46h0M80 36h0M52 53h0M27 52h0M54 22h0M58 24h0M37 62h0M57 40h0M93 36h0M51 62h0M67 21h0M58 72h0M38 57h0M49 37h0M43 51h0M51 76h0M45 41h0M65 30h0M43 74h0M50 22h0M58 18h0M43 33h0M47 72h0M44 46h0M88 49h0M61 51h0M52 39h0M25 52h0M60 19h0M71 50h0M57 55h0M50 58h0M57 42h0M60 12h0M27 46h0M37 56h0M67 68h0M45 59h0M30 50h0M70 63h0M66 63h0M39 45h0M17 47h0M47 62h0M38 64h0M51 46h0M38 50h0M82 33h0M66 14h0M55 14h0M14 33h0M43 69h0M31 44h0M27 49h0M86 48h0M68 26h0M47 37h0M72 62h0M82 43h0M70 63h0M49 55h0M55 36h0M66 62h0M45 64h0M53 56h0M62 35h0M55 49h0M64 36h0M34 62h0M81 32h0M85 46h0M25 45h0M70 69h0M61 69h0M55 27h0M61 62h0M43 57h0M52 52h0M37 36h0M65 57h0M73 51h0M46 44h0M60 55h0M59 29h0M37 43h0M69 47h0M53 14h0M50 61h0M50 18h0M43 35h0M42 32h0M50 78h0M41 20h0M50 66h0M25 47h0M47 63h0M33 54h0M40 51h0M51 63h0M62 45h0M57 13h0M16 44h0M20 50h0M56 39h0M54 28h0M73 63h0M41 44h0M52 49h0M49 61h0M56 76h0M80 61h0M20 49h0M44 70h0M47 66h0M57 37h0M91 43h0M47 37h0M66 76h0M52 22h0M63 19h0M33 76h0M33 71h0M26 50h0M48 10h0M54 30h0M86 32h0M77 63h0M73 28h0M46 59h0M31 59h0M82 51h0M76 47h0M58 11h0M65 67h0M40 62h0M62 70h0M43 54h0M65 14h0M55 37h0M59 52h0M49 42h0M37 44h0M45 71h0M65 34h0M37 46h0M49 59h0M52 69h0M83 33h0M52 73h0M53 68h0M41 70h0M45 42h0M57 70h0M73 74h0M61 22h0M73 29h0M13 42h0M56 20h0M46 50h0M27 49h0M53 59h0M39 62h0M46 64h0M61 52h0M41 79h0M82 50h0M68 32h0M52 20h0M32 52h0M36 69h0M35 42h0M65 17h0M68 73h0M59 23h0M79 27h0M68 67h0M62 45h0M84 64h0M42 53h0M35 46h0M89 44h0M34 48h0M78 71h0M38 79h0M50 73h0M38 40h0M16 43h0M62 66h0M47 44h0M59 66h0M53 27h0M60 44h0M22 51h0M48 63h0M60 68h0M43 73h0M38 73h0M53 20h0M62 30h0M56 35h0M71 28h0M40 53h0M62 49h0M62 49h0M74 62h0M41 69h0M63 26h0M45 53h0M48 41h0M26 47h0M56 63h0M62 42h0M86 48h0M58 16h0M55 59h0M72 70h0M63 16h0M61 21h0M59 20h0M66 68h0M35 60h0M43 37h0M65 61h0M66 28h0M52 55h0M59 22h0"/><path stroke="#ec8a38" d="M20 36h0M33 32h0M32 25h0M31 28h0M33 39h0M36 31h0M32 27h0M35 28h0M37 29h0M38 25h0M33 26h0M34 25h0M31 27h0M33 29h0M18 21h0M21 22h0M25 35h0M31 27h0M30 33h0M21 37h0"/><path stroke="#e05a28" d="M27 17h0M25 30h0M15 26h0M19 30h0M28 20h0M31 17h0M26 21h0M28 16h0M35 36h0M29 18h0M34 24h0M43 25h0M23 20h0M28 24h0M29 43h0M28 30h0M40 22h0M26 29h0M37 22h0M28 20h0M22 29h0M27 24h0M27 18h0M28 17h0M36 23h0M33 20h0M18 28h0M22 28h0M33 21h0M25 21h0M25 21h0"/><path stroke="#f4b840" d="M47 11h0M44 12h0M41 17h0M17 33h0M43 12h0M44 13h0M48 11h0M15 33h0"/><path stroke="#f0dc50" d="M34 11h0M30 22h0M37 15h0M39 11h0M40 15h0M31 26h0M38 16h0M35 12h0M37 18h0M44 16h0"/><path stroke="#cc2a1c" d="M41 25h0M29 25h0M16 22h0M39 37h0M16 27h0M44 28h0M42 19h0M25 34h0M33 24h0M28 26h0M22 27h0M29 33h0M36 38h0M27 15h0M27 26h0M36 38h0M35 35h0M38 21h0M24 32h0M26 34h0M42 25h0M36 34h0M21 35h0M41 24h0M33 24h0"/><path stroke="#a6d0de" d="M24 39h0M26 42h0M22 41h0M18 43h0M28 44h0M28 41h0M20 38h0M21 43h0M19 36h0M30 43h0M26 38h0M17 39h0M17 42h0M22 42h0M21 42h0M20 41h0M12 40h0M17 39h0"/><path stroke="#eaeca6" d="M27 43h0M48 14h0M37 15h0M39 27h0"/><path stroke="#b0201a" d="M24 18h0M38 26h0"/><path stroke="#74a4dc" d="M27 39h0M29 44h0M74 54h0M80 45h0"/></g></g><text x="246.5" y="172.7" font-size="8.1" fill="#1a1a1a" stroke="#1a1a1a" stroke-width="0.28" textLength="18.8" lengthAdjust="spacingAndGlyphs">TIGIT</text><g transform="translate(238.7,177.4)"><rect x="0.5" y="0.5" width="34.2" height="31.3" fill="#fff" stroke="#969696" stroke-width="1.2"/><rect x="33.9" y="0.6" width="1.0" height="31.1" fill="url(#cbar)"/><g clip-path="url(#cpP)"><g opacity="0.75"><rect width="35.4" height="32.3" fill="#68739a"/><g filter="url(#bl)"><ellipse cx="9.5" cy="11" rx="6" ry="7.5" fill="#5884ce"/><ellipse cx="15.5" cy="15.8" rx="2" ry="1.5" fill="#eb8a36"/><ellipse cx="22" cy="18" rx="1.5" ry="1.5" fill="#f1b743"/><ellipse cx="18" cy="23" rx="2" ry="1.2" fill="#eb8a36"/><ellipse cx="24" cy="6" rx="1.5" ry="1" fill="#eb8a36"/></g></g><use href="#spP"/></g><g transform="scale(0.3333)" stroke-width="3.6" stroke-linecap="round" fill="none"><path stroke="#ec8a38" d="M84 69h0M69 71h0M91 52h0M59 56h0M58 70h0M78 28h0M89 54h0M75 71h0M62 17h0M46 39h0M45 33h0M75 70h0M51 80h0M42 46h0M63 15h0M82 24h0M55 39h0M77 74h0M52 68h0M65 34h0M61 42h0M54 39h0M44 42h0M64 56h0M58 59h0M67 62h0M55 80h0M43 12h0M68 31h0M13 32h0M90 54h0M44 67h0M59 57h0M69 68h0M88 35h0M65 54h0M49 44h0M64 35h0M70 20h0M66 55h0M13 32h0M49 22h0M61 59h0M57 82h0M75 71h0M57 16h0M82 70h0M55 26h0M54 70h0M51 75h0M65 71h0M65 45h0M72 74h0"/><path stroke="#3b64bf" d="M70 57h0M54 57h0M70 48h0M49 13h0M59 47h0M54 34h0M87 45h0M36 57h0M53 32h0M44 54h0M59 27h0M44 76h0M58 22h0M14 29h0M54 20h0M74 55h0M65 19h0M70 22h0M56 31h0M40 48h0M87 64h0M16 49h0M85 32h0M74 23h0M59 20h0M48 55h0M37 69h0M38 47h0M34 60h0M38 58h0M67 85h0M90 48h0M71 47h0M49 56h0M35 59h0M33 21h0M21 56h0M45 75h0M27 64h0M23 52h0M35 35h0M43 58h0M69 25h0M88 42h0M46 80h0M80 74h0M87 67h0M22 43h0M76 34h0M72 30h0M65 24h0M39 61h0M63 48h0M72 23h0M77 31h0M44 58h0M44 56h0M60 26h0M72 31h0M78 55h0M62 66h0M35 59h0M73 46h0M37 45h0M77 32h0M36 63h0M25 33h0M36 64h0M76 23h0M33 45h0M37 62h0M80 64h0M69 21h0M48 61h0M56 55h0M74 38h0M59 47h0M43 53h0M58 48h0M78 49h0M53 33h0M53 14h0M69 47h0M58 24h0M70 34h0M67 39h0M46 78h0M57 25h0M83 56h0M86 43h0M22 43h0M22 27h0M46 72h0M74 56h0M30 43h0M74 41h0M42 20h0M66 21h0M62 23h0M39 19h0M79 31h0M73 39h0M51 59h0M47 15h0M36 45h0M24 42h0M66 19h0M39 60h0M32 60h0M46 59h0M29 40h0M31 31h0M37 42h0M51 16h0M46 62h0M55 23h0M83 55h0M82 53h0M38 15h0M45 60h0M39 17h0M37 47h0M73 58h0M85 36h0M62 38h0M61 78h0M72 28h0M41 46h0M19 56h0M37 57h0M54 45h0M76 56h0M59 87h0M50 60h0M82 66h0M75 49h0M38 46h0M75 46h0M39 49h0M55 12h0M74 34h0M13 41h0M83 55h0M71 28h0M49 56h0M77 39h0M58 32h0M67 81h0M64 50h0M72 43h0M75 48h0M20 57h0M34 67h0M41 18h0M72 50h0M55 65h0M53 48h0M78 34h0M38 31h0M52 60h0M23 26h0M81 66h0M29 35h0M63 67h0M69 56h0M79 39h0M91 47h0M65 49h0M77 54h0M30 58h0"/><path stroke="#a6d0de" d="M63 47h0M54 84h0M90 52h0M91 55h0"/><path stroke="#26369a" d="M60 67h0M60 12h0M37 67h0M52 51h0M74 58h0M38 65h0M41 69h0M62 64h0M62 41h0M68 66h0M47 76h0M76 63h0M35 69h0M66 81h0M49 19h0M52 52h0M59 62h0M72 58h0M80 41h0M49 55h0M60 53h0M38 69h0M70 31h0M42 57h0M47 79h0M49 45h0M69 32h0M85 43h0M87 46h0M67 60h0M65 15h0M79 70h0M43 68h0M48 23h0M69 63h0M55 56h0M70 81h0M66 59h0M56 53h0M79 48h0M48 81h0M37 77h0M62 77h0M65 32h0M64 30h0M60 46h0M46 29h0M38 54h0M41 74h0M68 36h0M45 63h0M79 63h0M59 25h0M43 50h0M86 72h0M81 29h0M74 62h0M70 44h0M42 69h0M82 47h0M60 83h0M56 61h0M58 14h0M77 45h0M78 57h0M45 69h0M72 70h0M55 78h0M78 68h0M73 59h0M86 57h0M74 76h0M78 19h0M64 36h0M50 26h0M63 82h0M64 74h0M56 20h0M84 46h0M40 63h0M56 16h0M60 19h0M48 34h0M85 47h0M41 70h0M66 75h0M79 59h0M68 42h0M61 64h0M76 27h0M65 38h0M74 63h0M74 76h0M55 31h0M56 35h0M56 78h0M70 34h0M66 22h0M64 49h0M80 52h0M60 43h0M62 77h0M86 44h0M70 34h0M85 36h0M36 70h0M72 65h0M59 21h0M55 25h0M64 80h0M64 79h0M65 27h0M78 30h0M84 45h0M63 83h0M75 42h0M75 78h0M62 48h0M41 75h0M35 73h0M88 36h0M52 60h0M35 65h0M64 19h0M69 27h0M69 29h0M42 20h0M89 42h0M38 14h0M66 29h0M34 75h0M70 61h0M34 70h0M49 18h0M45 81h0M81 52h0M84 30h0M52 34h0M70 65h0M45 25h0M77 57h0M78 40h0M65 38h0M76 31h0M71 74h0M79 46h0M79 62h0M81 45h0M70 63h0M86 34h0M39 45h0M32 70h0M64 46h0M35 53h0M72 50h0M79 46h0M53 59h0M72 78h0M52 50h0M76 65h0M62 72h0M52 23h0M78 77h0M83 75h0M28 53h0M63 77h0M82 42h0"/><path stroke="#74a4dc" d="M62 82h0M65 36h0M82 51h0M76 68h0M49 38h0M77 62h0M41 38h0M57 60h0M36 29h0M40 40h0M60 80h0M45 15h0M43 37h0M61 52h0M47 40h0M48 31h0M41 38h0M74 64h0M75 66h0M40 22h0M91 52h0M52 40h0M33 48h0M73 73h0M56 18h0M42 42h0M51 46h0M66 71h0M61 41h0M75 76h0M31 17h0M76 77h0M45 39h0M51 38h0M81 69h0M53 39h0M18 44h0M72 61h0M35 51h0M79 79h0M82 58h0M67 59h0M38 68h0M72 68h0M36 49h0M51 52h0M20 48h0M77 43h0M30 50h0M45 31h0M46 35h0"/><path stroke="#f4b840" d="M65 51h0M67 56h0M68 56h0M48 48h0M56 60h0M70 51h0M47 46h0M67 50h0M68 54h0M71 16h0M69 53h0M64 60h0M69 52h0"/><path stroke="#4a78cf" d="M27 33h0M23 36h0M67 20h0M35 66h0M36 17h0M27 56h0M62 43h0M39 50h0M41 51h0M46 35h0M48 60h0M81 47h0M80 70h0M61 76h0M62 36h0M82 26h0M84 39h0M82 55h0M45 36h0M42 65h0M53 65h0M39 59h0M60 26h0M26 48h0"/><path stroke="#eaeca6" d="M66 33h0M62 15h0"/><path stroke="#e05a28" d="M51 67h0M54 38h0M67 33h0M49 50h0M65 59h0M52 68h0M50 45h0"/><path stroke="#f0dc50" d="M56 82h0M44 42h0M62 61h0M90 59h0M40 39h0M65 50h0M61 17h0M62 53h0M62 18h0"/></g></g><g transform="translate(238.7,212.1)"><rect x="0.5" y="0.5" width="34.2" height="31.3" fill="#fff" stroke="#969696" stroke-width="1.2"/><rect x="33.9" y="0.6" width="1.0" height="31.1" fill="url(#cbar)"/><g clip-path="url(#cpM)"><g opacity="0.75"><rect width="35.4" height="32.3" fill="#4169c1"/><g filter="url(#bl)"><ellipse cx="9" cy="8.5" rx="5.5" ry="5" fill="#2b3fa0"/><ellipse cx="7.5" cy="16" rx="3.5" ry="4.5" fill="#2b3fa0"/><ellipse cx="16" cy="14" rx="3" ry="2.5" fill="#eb8a36"/><ellipse cx="19" cy="18" rx="3" ry="2" fill="#ead462"/><ellipse cx="21" cy="7" rx="1.5" ry="1.2" fill="#f0dc50"/><ellipse cx="24" cy="20" rx="1.5" ry="1.2" fill="#ec8a38"/></g></g><use href="#spM"/></g><g transform="scale(0.3333)" stroke-width="3.6" stroke-linecap="round" fill="none"><path stroke="#4a78cf" d="M82 70h0M64 49h0M62 69h0M80 40h0M45 17h0M66 69h0M57 24h0M47 53h0M80 30h0M50 33h0M45 16h0M44 15h0M49 33h0M80 30h0M46 78h0M81 68h0M46 67h0M39 34h0M48 10h0M82 60h0M17 37h0M57 22h0M63 48h0M73 23h0M67 29h0M42 34h0M66 18h0M45 61h0M50 67h0M61 70h0M54 16h0M82 59h0M49 18h0M75 28h0M44 49h0M81 61h0M65 17h0M72 29h0M49 52h0M59 36h0M64 26h0M68 74h0M55 29h0M66 53h0M55 47h0M55 27h0M42 18h0M39 65h0M40 51h0M60 42h0M42 73h0M69 23h0M61 29h0M51 35h0M73 26h0M34 58h0M89 34h0M51 75h0M84 39h0M68 24h0M54 35h0M56 11h0M55 38h0M60 68h0M64 69h0M33 66h0M35 57h0M72 28h0M58 35h0M49 59h0M27 27h0M37 57h0M13 28h0M59 73h0M78 69h0M13 42h0M55 72h0M63 17h0M54 23h0M77 70h0M70 20h0M66 70h0M45 64h0M82 61h0M57 65h0M74 49h0M55 71h0M62 67h0M37 39h0M41 33h0M76 70h0M73 68h0M46 74h0M66 64h0M57 36h0M43 76h0M65 36h0M44 14h0M49 33h0M60 37h0M64 35h0M41 54h0M62 67h0M33 62h0M45 16h0M36 51h0M67 51h0M36 14h0M56 63h0M38 37h0M42 78h0M47 56h0M37 38h0M46 58h0"/><path stroke="#26369a" d="M22 21h0M22 30h0M15 29h0M19 53h0M36 25h0M38 68h0M45 63h0M42 35h0M55 17h0M41 61h0M30 46h0M11 30h0M57 72h0M27 42h0M42 55h0M35 29h0M27 15h0M85 55h0M32 40h0M21 30h0M32 30h0M25 18h0M17 29h0M22 24h0M30 50h0M50 15h0M14 27h0M22 57h0M19 46h0M17 39h0M31 26h0M29 16h0M58 42h0M48 49h0M33 25h0M38 23h0M16 23h0M18 44h0M27 46h0M20 56h0M23 28h0M64 60h0M19 50h0M17 41h0M41 32h0M30 59h0M32 19h0M32 13h0M26 47h0M31 28h0M33 36h0M24 25h0M29 30h0M42 49h0M42 51h0M45 15h0M39 34h0M17 26h0M73 24h0M67 52h0M21 27h0M81 38h0M15 46h0M83 69h0M24 16h0M16 46h0M26 46h0M21 49h0M33 17h0M20 38h0M31 61h0M34 35h0M22 37h0M36 30h0M34 40h0M72 28h0M32 25h0M48 74h0M42 37h0M38 51h0M16 25h0M38 22h0M79 74h0M18 35h0M56 23h0M55 77h0M26 20h0M25 53h0M24 41h0M36 47h0M30 24h0M33 25h0M62 33h0M22 36h0M48 58h0M39 28h0M27 35h0M21 25h0M33 30h0M22 45h0M46 76h0M37 49h0M31 59h0M41 47h0M21 56h0M23 50h0M24 18h0M58 71h0M32 27h0M20 45h0M31 47h0M63 31h0M28 57h0M33 35h0M19 48h0M30 32h0M56 36h0M28 30h0M70 16h0M23 42h0M38 22h0M26 47h0M25 45h0M31 21h0M20 49h0M37 24h0M21 27h0M32 54h0M31 43h0M40 24h0M36 17h0M25 51h0M76 27h0M49 63h0M29 45h0M42 36h0M15 49h0M29 39h0M21 39h0M53 69h0M35 13h0M19 27h0M25 42h0M18 50h0M29 25h0M17 34h0M25 43h0M24 32h0M14 44h0"/><path stroke="#f4b840" d="M43 44h0M58 53h0M63 19h0M44 45h0M51 50h0M49 56h0M60 55h0M62 56h0M53 53h0M54 50h0M63 55h0M43 47h0M45 47h0"/><path stroke="#3b64bf" d="M43 32h0M42 33h0M30 67h0M55 32h0M35 60h0M45 61h0M34 54h0M34 72h0M56 61h0M78 53h0M52 19h0M74 30h0M69 34h0M80 42h0M29 53h0M57 42h0M56 31h0M59 74h0M54 34h0M66 61h0M64 62h0M63 65h0M36 71h0M74 22h0M29 32h0M66 25h0M51 64h0M66 66h0M71 63h0M73 19h0M49 63h0M71 64h0M60 32h0M89 32h0M53 19h0M42 68h0M71 30h0M38 53h0M51 74h0M19 31h0M73 44h0M76 59h0M56 16h0M39 61h0M57 32h0M69 51h0M30 63h0M73 30h0M68 56h0M73 32h0M41 62h0M24 47h0M31 63h0M63 65h0M33 74h0M59 45h0M73 65h0M50 70h0M47 70h0M73 71h0M41 70h0M40 60h0M69 48h0M68 21h0M65 65h0M18 25h0M56 45h0M46 18h0M57 14h0M16 34h0M12 45h0M55 47h0M41 63h0M37 59h0M37 42h0M75 65h0M75 68h0M54 22h0M53 61h0M74 30h0M42 64h0M89 33h0M38 57h0M62 41h0M33 67h0M86 50h0M32 72h0M75 67h0M79 70h0M69 68h0M47 11h0M45 19h0M58 30h0M31 49h0M36 62h0M71 52h0M33 45h0M75 31h0M47 19h0M59 33h0M50 70h0M76 60h0M45 68h0M38 70h0M35 60h0M58 41h0M43 74h0M70 29h0M43 79h0M60 63h0M54 67h0M47 63h0M41 37h0M37 73h0M65 31h0M40 33h0M68 56h0M57 46h0M45 71h0M89 35h0M51 61h0M86 36h0M42 63h0M51 30h0M31 65h0M81 65h0M44 15h0M91 39h0M74 34h0M55 9h0M77 68h0M72 48h0M71 29h0M30 24h0M46 71h0M43 34h0M56 62h0M35 51h0M43 29h0M66 46h0M24 46h0M72 30h0M71 65h0M42 34h0M35 12h0M50 21h0M39 61h0M26 26h0M43 15h0M65 64h0M80 25h0M48 53h0M42 61h0M46 64h0M67 59h0M51 31h0M55 24h0M73 69h0M59 30h0M40 60h0M59 67h0M60 12h0M51 10h0M37 55h0M57 33h0M30 17h0M35 43h0"/><path stroke="#74a4dc" d="M40 49h0M58 65h0M82 36h0M39 49h0M78 27h0M85 66h0M63 68h0M58 63h0M82 67h0M35 48h0M32 63h0M37 76h0M44 51h0M42 46h0M72 27h0M31 63h0"/><path stroke="#e05a28" d="M47 37h0M50 41h0M51 39h0M50 35h0M48 35h0M46 41h0M53 44h0M42 46h0M41 47h0M46 40h0"/><path stroke="#ec8a38" d="M72 59h0M72 59h0M51 40h0M53 45h0M75 59h0M53 42h0M53 43h0M55 40h0M54 42h0M42 36h0M76 60h0M54 41h0M69 62h0M50 47h0M74 62h0M75 58h0M44 40h0"/><path stroke="#f0dc50" d="M48 36h0M62 22h0M53 56h0M56 54h0M56 55h0M57 54h0M55 52h0M62 56h0M59 59h0"/><path stroke="#eaeca6" d="M64 53h0M48 59h0M62 54h0M61 52h0"/><path stroke="#cc2a1c" d="M50 45h0"/></g></g><text x="295.4" y="172.7" font-size="8.1" fill="#1a1a1a" stroke="#1a1a1a" stroke-width="0.28" textLength="16.1" lengthAdjust="spacingAndGlyphs">CD8</text><g transform="translate(286.2,177.4)"><rect x="0.5" y="0.5" width="34.2" height="31.3" fill="#fff" stroke="#969696" stroke-width="1.2"/><rect x="33.9" y="0.6" width="1.0" height="31.1" fill="url(#cbar)"/><g clip-path="url(#cpP)"><g opacity="0.75"><rect width="35.4" height="32.3" fill="#6374a3"/><g filter="url(#bl)"><ellipse cx="9.5" cy="11" rx="6" ry="7.5" fill="#71a0d8"/><ellipse cx="25" cy="14" rx="3.5" ry="1.2" fill="#ead462"/><ellipse cx="28" cy="17" rx="1.5" ry="1.5" fill="#eb8a36"/></g></g><use href="#spP"/></g><g transform="scale(0.3333)" stroke-width="3.6" stroke-linecap="round" fill="none"><path stroke="#3b64bf" d="M49 78h0M83 59h0M51 77h0M43 38h0M50 26h0M60 22h0M62 63h0M66 52h0M51 33h0M85 70h0M78 25h0M71 20h0M40 13h0M43 77h0M62 72h0M47 77h0M63 77h0M79 61h0M53 29h0M77 58h0M44 46h0M63 17h0M33 67h0M68 62h0M52 23h0M46 59h0M54 21h0M48 77h0M54 19h0M43 65h0M56 14h0M79 79h0M76 26h0M63 73h0M58 42h0M80 68h0M64 85h0M39 14h0M45 22h0M49 46h0M48 60h0M48 47h0M50 44h0M66 77h0M69 61h0M44 72h0M39 52h0M66 64h0M53 19h0M53 23h0M38 60h0M81 71h0M80 56h0M91 35h0M57 15h0M52 13h0M39 69h0M78 56h0M82 61h0M68 34h0M52 52h0M46 50h0M91 40h0M46 54h0M54 48h0M87 65h0M75 22h0M58 41h0M64 37h0M89 44h0M72 32h0M55 26h0M61 38h0M67 33h0M32 71h0M63 39h0M70 55h0M48 80h0M71 53h0M51 17h0M23 57h0M72 61h0M72 77h0M75 82h0M53 49h0M55 86h0M73 51h0M79 52h0M74 77h0M55 25h0M37 70h0M86 65h0M42 73h0M65 40h0M40 66h0M42 74h0M42 73h0M68 32h0M61 42h0M67 18h0M91 34h0M64 18h0M41 68h0M30 66h0M44 51h0M43 68h0M89 33h0M59 14h0M60 38h0M77 80h0M36 65h0M39 73h0M69 69h0M57 12h0M38 30h0M83 71h0M38 52h0M77 54h0M62 61h0M75 52h0M64 51h0M44 71h0M61 42h0M72 30h0M88 50h0M53 24h0M63 41h0M72 31h0M73 53h0M53 27h0M23 57h0M70 19h0M48 23h0M58 15h0M81 65h0M65 80h0M63 71h0M81 50h0M71 69h0M45 38h0M67 74h0M53 51h0M34 59h0M46 64h0M86 67h0M46 9h0M75 53h0M50 63h0M43 46h0M64 39h0M71 30h0M71 20h0M46 49h0M91 45h0M45 45h0M49 58h0M39 70h0M32 70h0M49 28h0M60 63h0M64 62h0M40 62h0M45 51h0M60 61h0M73 47h0M51 29h0M32 54h0M79 68h0M56 85h0M85 64h0M38 71h0M74 24h0M60 81h0M52 52h0"/><path stroke="#26369a" d="M52 77h0M85 72h0M56 59h0M60 84h0M56 80h0M75 21h0M66 48h0M52 42h0M86 58h0M51 64h0M71 79h0M68 61h0M44 56h0M78 65h0M86 32h0M72 56h0M79 47h0M86 28h0M77 23h0M79 39h0M49 48h0M57 24h0M89 33h0M51 46h0M53 33h0M88 55h0M78 63h0M45 30h0M86 38h0M60 38h0M57 22h0M51 51h0M53 44h0M26 59h0M62 18h0M69 79h0M68 76h0M61 47h0M57 21h0M72 83h0M47 25h0M56 29h0M48 16h0M59 73h0M75 22h0M80 75h0M61 44h0M54 38h0M79 47h0M51 44h0M52 29h0M86 29h0M72 20h0M71 30h0M39 69h0M61 46h0M62 82h0M78 39h0M47 30h0M87 40h0M68 33h0M50 60h0M33 64h0M51 54h0M62 50h0M79 30h0M61 54h0M68 55h0M85 68h0M73 21h0M51 43h0M34 63h0M32 53h0M65 49h0M71 31h0M33 66h0M65 59h0M51 74h0M60 76h0M30 59h0M73 32h0M61 31h0M46 52h0M62 80h0M73 58h0M48 71h0M68 71h0M89 52h0M62 70h0M56 31h0M56 20h0M58 24h0M58 72h0M66 33h0M58 76h0M62 60h0M55 58h0M46 43h0M49 82h0M64 20h0M59 71h0M61 25h0M76 53h0M54 81h0M35 63h0M50 56h0M37 58h0M44 21h0M53 41h0M63 60h0M41 15h0M53 50h0M70 68h0M59 26h0"/><path stroke="#4a78cf" d="M54 78h0M19 43h0M50 33h0M24 36h0M36 27h0M46 40h0M46 37h0M15 42h0M21 30h0M28 49h0M26 44h0M35 70h0M29 51h0M66 62h0M33 22h0M48 32h0M32 46h0M26 21h0M24 46h0M22 51h0M35 49h0M73 30h0M42 31h0M67 30h0M37 30h0M32 24h0M83 36h0M61 35h0M85 62h0M92 35h0M41 20h0M37 21h0M43 35h0M38 61h0M63 78h0M58 41h0M58 45h0M80 70h0M82 38h0M41 56h0M16 44h0M13 39h0M23 50h0M81 68h0M40 56h0"/><path stroke="#74a4dc" d="M29 46h0M44 49h0M36 23h0M77 35h0M34 45h0M22 55h0M59 51h0M61 58h0M77 59h0M57 75h0M57 68h0M22 55h0M77 75h0M82 37h0M16 42h0M35 43h0M36 39h0M59 33h0M39 43h0M57 52h0M60 37h0M57 50h0M43 18h0M55 75h0M53 38h0M48 83h0M67 25h0M73 57h0M23 27h0M24 58h0M51 32h0M86 56h0M72 58h0M87 38h0M68 72h0M64 59h0M75 62h0M54 70h0M48 18h0M47 41h0M36 24h0M51 50h0M63 68h0M51 62h0M45 56h0M67 47h0M49 41h0M46 59h0M54 40h0M52 72h0M59 80h0M56 60h0M89 54h0M33 53h0M72 63h0M40 50h0M86 42h0M51 37h0M52 60h0M78 37h0M43 37h0M25 51h0M49 52h0M59 21h0M71 76h0M60 54h0M62 36h0M41 41h0M48 39h0M47 40h0M56 36h0M49 41h0M46 17h0M15 25h0M55 58h0M51 60h0M57 26h0M70 81h0M69 24h0M44 57h0M41 26h0M44 25h0M76 72h0M91 50h0M70 71h0M52 74h0M59 17h0M35 43h0M53 37h0M45 55h0M79 33h0"/><path stroke="#f0dc50" d="M53 73h0M71 41h0M76 42h0M46 19h0M92 54h0M54 79h0M66 43h0M87 45h0M47 39h0M54 73h0M52 62h0M58 20h0M78 43h0M52 60h0M57 76h0M39 79h0M60 33h0M59 51h0M56 75h0M59 76h0M49 65h0M60 76h0M76 44h0M82 45h0M59 54h0M55 72h0M53 80h0M81 41h0M92 50h0M59 67h0M68 45h0M48 50h0M38 77h0"/><path stroke="#f4b840" d="M75 42h0M55 72h0M67 43h0M51 39h0M72 73h0M72 41h0M82 39h0M88 41h0M55 71h0"/><path stroke="#a6d0de" d="M40 57h0M65 55h0M39 46h0M19 45h0M74 65h0M33 19h0M23 40h0M61 32h0M48 66h0M21 37h0M45 36h0M43 27h0"/><path stroke="#ec8a38" d="M84 53h0M74 35h0M82 51h0M82 47h0M55 74h0M83 46h0M67 24h0M49 69h0M85 51h0M80 35h0M90 56h0M53 63h0M60 52h0M62 25h0M83 36h0M86 46h0"/><path stroke="#e05a28" d="M83 48h0M80 47h0"/><path stroke="#eaeca6" d="M75 63h0M72 42h0M64 24h0M56 34h0"/></g></g><g transform="translate(286.2,212.1)"><rect x="0.5" y="0.5" width="34.2" height="31.3" fill="#fff" stroke="#969696" stroke-width="1.2"/><rect x="33.9" y="0.6" width="1.0" height="31.1" fill="url(#cbar)"/><g clip-path="url(#cpM)"><g opacity="0.75"><rect width="35.4" height="32.3" fill="#6d7a9f"/><g filter="url(#bl)"><ellipse cx="6" cy="7" rx="2" ry="2" fill="#eb8a36"/><ellipse cx="10" cy="6" rx="2" ry="1.5" fill="#ead462"/></g></g><use href="#spM"/></g><g transform="scale(0.3333)" stroke-width="3.6" stroke-linecap="round" fill="none"><path stroke="#3b64bf" d="M42 72h0M62 74h0M47 72h0M72 53h0M20 47h0M33 60h0M32 48h0M55 21h0M55 44h0M49 75h0M60 40h0M41 42h0M54 14h0M58 70h0M34 51h0M66 54h0M34 56h0M46 75h0M34 53h0M56 13h0M45 80h0M58 47h0M42 48h0M40 67h0M75 22h0M40 33h0M35 62h0M60 25h0M41 36h0M39 35h0M43 69h0M73 64h0M39 57h0M53 10h0M35 55h0M18 38h0M48 35h0M56 44h0M75 64h0M54 21h0M36 25h0M38 34h0M54 72h0M72 54h0M47 69h0M50 74h0M45 34h0M40 44h0M64 75h0M38 21h0M71 15h0M38 67h0M80 35h0M40 74h0M36 55h0M42 37h0M42 58h0M43 53h0M66 17h0M53 72h0M31 66h0M43 51h0M73 23h0M81 61h0M45 72h0M76 30h0M61 22h0M61 55h0M71 50h0M57 15h0M53 74h0M45 73h0M47 35h0M60 60h0M57 42h0M61 40h0M60 24h0M54 27h0M70 53h0M34 49h0M50 44h0M36 54h0M42 59h0M31 12h0M43 41h0M42 67h0M33 49h0M53 72h0M31 55h0M47 34h0M55 22h0M59 38h0M37 39h0M58 11h0M78 31h0M54 38h0M56 40h0M42 43h0M75 18h0M52 11h0M57 41h0M35 62h0M66 73h0M19 32h0M63 24h0M72 49h0M62 55h0M58 15h0M40 57h0M77 62h0M54 72h0M66 27h0M61 16h0M70 19h0M72 50h0M36 59h0M43 70h0M37 14h0M65 14h0M50 10h0M59 23h0M70 22h0M67 27h0M72 20h0M58 11h0M60 61h0M42 67h0M44 38h0M33 34h0M61 70h0M70 50h0M70 17h0M51 31h0M46 18h0M39 24h0M59 59h0M52 74h0M17 42h0M43 32h0M81 40h0M38 62h0M22 43h0M40 38h0M73 62h0M36 58h0M59 22h0M33 63h0M48 31h0M39 71h0M61 55h0M45 36h0M72 26h0M73 24h0M78 38h0M72 68h0M17 39h0M42 34h0M83 32h0M74 69h0M33 13h0M42 47h0M70 55h0M39 55h0M40 40h0M59 24h0M46 39h0M46 76h0M82 33h0M57 43h0M74 22h0M21 47h0M52 73h0M76 59h0M42 54h0M19 42h0M52 9h0M80 38h0M70 69h0M73 23h0M44 78h0M41 37h0M22 35h0M39 53h0M42 62h0M33 58h0M64 17h0M62 23h0M48 38h0M31 54h0M76 63h0M36 47h0M26 55h0M48 74h0M67 49h0M53 9h0M36 14h0M41 68h0M34 24h0M27 54h0M71 20h0M53 42h0M26 22h0M75 29h0M46 69h0M50 20h0M73 59h0"/><path stroke="#4a78cf" d="M53 77h0M49 38h0M30 29h0M34 35h0M66 52h0M28 41h0M45 36h0M41 66h0M14 31h0M58 32h0M48 49h0M68 54h0M20 40h0M31 50h0M45 52h0M38 36h0M27 40h0M51 70h0M53 17h0"/><path stroke="#74a4dc" d="M25 29h0M66 21h0M23 23h0M27 36h0M56 63h0M25 31h0M58 63h0M44 66h0M55 67h0M34 38h0M31 59h0M29 51h0M49 62h0M50 64h0M50 64h0M54 38h0M91 40h0M43 28h0M81 69h0M49 61h0M51 35h0M53 40h0M34 37h0M61 33h0M58 54h0M19 31h0M37 15h0M44 55h0M31 40h0M25 44h0M64 66h0M54 54h0M41 20h0M31 59h0M34 74h0M26 37h0M64 44h0M45 57h0M14 43h0M49 50h0M65 64h0M16 31h0M29 45h0M71 28h0M81 73h0M27 30h0M70 62h0M24 33h0M55 26h0M55 16h0M12 40h0M54 66h0M50 61h0M53 66h0M52 65h0M36 67h0M36 31h0M44 54h0M49 38h0M26 39h0M38 70h0M38 44h0M44 65h0M28 25h0M16 29h0M47 68h0M55 64h0M28 48h0M61 29h0M60 63h0M81 67h0M44 13h0M33 42h0M35 67h0M24 57h0M58 16h0M42 27h0"/><path stroke="#f0dc50" d="M47 67h0M44 54h0M50 63h0M50 37h0M63 65h0M45 56h0M30 53h0M26 53h0M21 52h0M78 48h0M42 18h0M30 21h0M47 55h0M62 27h0M30 22h0M76 51h0M56 54h0M58 30h0M54 54h0M12 38h0M29 24h0M33 15h0M35 19h0M25 29h0M24 28h0M33 69h0M62 66h0M54 31h0M34 72h0M29 42h0M46 69h0M64 32h0M49 66h0M47 57h0M58 32h0M49 54h0M57 66h0M29 15h0M27 29h0M60 34h0M44 14h0M64 30h0M48 66h0M44 61h0M45 63h0M65 62h0M92 38h0M37 20h0M28 16h0M15 27h0M29 20h0M43 12h0M42 15h0"/><path stroke="#eaeca6" d="M72 71h0M48 62h0M44 60h0M71 32h0M32 60h0M55 32h0M33 17h0M57 67h0M35 65h0"/><path stroke="#26369a" d="M70 56h0M58 37h0M29 55h0M32 34h0M76 25h0M75 28h0M40 58h0M45 47h0M26 25h0M67 21h0M30 58h0M31 56h0M66 59h0M59 18h0M13 36h0M68 58h0M17 39h0M70 62h0M55 39h0M36 65h0M50 36h0M87 53h0M53 31h0M57 61h0M36 15h0M73 26h0M60 75h0M72 59h0M45 17h0M31 44h0M38 47h0M36 40h0M53 43h0M23 39h0M32 51h0M17 30h0M41 52h0M67 25h0M23 39h0M72 52h0M28 25h0M55 24h0M71 15h0M14 35h0M29 26h0M36 42h0M78 72h0M67 31h0M73 29h0M40 43h0M55 18h0M35 75h0M76 56h0M45 48h0M16 34h0M73 47h0M48 32h0M22 40h0M73 59h0M72 54h0M61 60h0M44 48h0M64 65h0M53 43h0M64 27h0M66 27h0M71 26h0M42 38h0M38 40h0M33 64h0M32 39h0M47 51h0M59 49h0M73 69h0M75 68h0M35 23h0M34 55h0M83 52h0M68 32h0M35 25h0M38 58h0M21 35h0M63 13h0M49 41h0M77 47h0M31 54h0M71 27h0"/><path stroke="#ec8a38" d="M15 28h0M53 53h0M23 52h0M36 71h0M56 67h0M54 54h0M23 51h0M28 59h0M45 67h0M21 17h0M29 51h0M51 56h0M48 63h0M78 51h0M45 60h0M27 50h0M29 61h0M44 46h0M53 40h0M50 54h0M21 51h0M49 55h0M47 61h0M57 67h0M60 29h0"/><path stroke="#a6d0de" d="M73 48h0M31 33h0M29 23h0M79 70h0M68 20h0"/><path stroke="#f4b840" d="M59 67h0M20 18h0M23 49h0M30 16h0M82 55h0M18 23h0M32 19h0M35 44h0M20 21h0M29 26h0M25 18h0M36 18h0M31 19h0M29 21h0M32 18h0M20 49h0"/><path stroke="#e05a28" d="M21 22h0M29 48h0M49 61h0"/></g></g><text x="340.7" y="172.7" font-size="8.1" fill="#1a1a1a" stroke="#1a1a1a" stroke-width="0.28" textLength="20.9" lengthAdjust="spacingAndGlyphs">CD94</text><g transform="translate(334.4,177.4)"><rect x="0.5" y="0.5" width="34.2" height="31.3" fill="#fff" stroke="#969696" stroke-width="1.2"/><rect x="33.9" y="0.6" width="1.0" height="31.1" fill="url(#cbar)"/><g clip-path="url(#cpP)"><g opacity="0.75"><rect width="35.4" height="32.3" fill="#ead462"/><g filter="url(#bl)"><ellipse cx="9.5" cy="11" rx="6" ry="7.5" fill="#dc5528"/><ellipse cx="20" cy="25" rx="8" ry="3.5" fill="#d1d58c"/><ellipse cx="11" cy="10.5" rx="2.5" ry="2.5" fill="#c9311e"/><ellipse cx="20.5" cy="10.9" rx="1.5" ry="1.2" fill="#26369a"/><ellipse cx="24" cy="14" rx="1.2" ry="1.2" fill="#26369a"/><ellipse cx="17.5" cy="24" rx="2" ry="1.5" fill="#26369a"/><ellipse cx="27" cy="20" rx="1" ry="1" fill="#3b64bf"/></g></g><use href="#spP"/></g><g transform="scale(0.3333)" stroke-width="3.6" stroke-linecap="round" fill="none"><path stroke="#f0dc50" d="M53 11h0M18 53h0M62 66h0M68 79h0M44 48h0M71 64h0M69 30h0M62 22h0M68 32h0M47 49h0M38 66h0M68 24h0M59 24h0M73 63h0M89 48h0M85 57h0M60 22h0M50 26h0M81 22h0M70 71h0M74 50h0M87 70h0M55 17h0M86 33h0M70 36h0M69 69h0M60 65h0M47 73h0M39 10h0M59 29h0M60 15h0M82 40h0M83 59h0M57 23h0M75 30h0M68 61h0M47 77h0M69 71h0M45 54h0M45 46h0M52 16h0M51 51h0M61 26h0M67 80h0M69 50h0M80 56h0M85 46h0M66 65h0M84 39h0M44 63h0M46 55h0M62 52h0M41 13h0M44 55h0M77 27h0M90 52h0M52 78h0M47 54h0M41 51h0M87 36h0M47 54h0M84 55h0M67 62h0M66 44h0M86 35h0M38 54h0M56 52h0M35 64h0M63 41h0M43 55h0M45 59h0M49 46h0M77 48h0M70 38h0M84 56h0M58 16h0M57 79h0M41 75h0M65 60h0M85 62h0M80 55h0M89 65h0M87 53h0M56 86h0M54 81h0M54 33h0M58 10h0M65 71h0M74 36h0M80 39h0M67 54h0M33 69h0M73 16h0M49 45h0M39 61h0M50 47h0M46 46h0M44 78h0M54 32h0M68 62h0M40 58h0M60 18h0M81 26h0M79 27h0M51 21h0M52 50h0M69 50h0M80 26h0M77 53h0M76 49h0M39 77h0M72 68h0M70 75h0M54 10h0M65 47h0M52 67h0M37 56h0M66 66h0M63 63h0M78 47h0M64 67h0M69 66h0M66 71h0M80 27h0M53 19h0M47 51h0M35 67h0M86 51h0M60 22h0M48 71h0M50 76h0M82 33h0M63 50h0M60 24h0M83 30h0M78 21h0M68 62h0M55 24h0M44 47h0M69 33h0M64 66h0M61 63h0M28 52h0M73 47h0M80 29h0M41 36h0M58 86h0M72 56h0M75 30h0M41 61h0M81 42h0M50 49h0M90 58h0M69 20h0M82 56h0M78 20h0M37 18h0M52 23h0M75 35h0M52 80h0M76 47h0M65 73h0M77 44h0M68 44h0M21 56h0M62 62h0M62 22h0M56 18h0M49 65h0M80 27h0M91 51h0M84 50h0M68 22h0M56 19h0M51 51h0M71 66h0M39 57h0M79 24h0M50 49h0M55 13h0M50 45h0M49 20h0M69 69h0M87 42h0M71 77h0M59 26h0M86 58h0M86 37h0M88 51h0M56 27h0M56 26h0M63 23h0M72 68h0M76 28h0M66 59h0M72 63h0M77 26h0M86 36h0M89 60h0M78 47h0M44 58h0M74 61h0M57 15h0M60 63h0M66 24h0M51 57h0M45 61h0"/><path stroke="#eaeca6" d="M76 19h0M88 42h0M54 39h0M91 34h0M84 45h0M58 40h0M65 77h0M70 28h0M80 76h0M50 63h0M38 78h0M77 40h0M60 81h0M46 49h0M82 50h0M66 79h0M39 72h0M72 24h0M79 66h0M52 12h0M45 76h0M77 41h0M77 56h0M58 60h0M34 62h0M66 84h0M66 27h0M82 29h0M50 82h0M14 36h0M51 61h0M63 38h0M58 82h0M57 64h0M57 67h0M80 28h0M74 39h0M46 72h0M48 66h0M74 48h0M71 26h0M52 40h0M81 30h0M68 55h0M76 64h0M43 45h0M77 39h0M42 48h0M86 39h0M46 53h0"/><path stroke="#ec8a38" d="M45 21h0M28 53h0M44 56h0M53 64h0M41 70h0M32 58h0M73 66h0M46 44h0M37 51h0M64 84h0M30 22h0M46 63h0M80 33h0M92 43h0M51 38h0M48 42h0M44 38h0M61 52h0"/><path stroke="#f4b840" d="M44 66h0M85 69h0M54 38h0M56 43h0M46 10h0M62 27h0M61 41h0M62 17h0M41 25h0M61 47h0M72 56h0M41 75h0M69 28h0M72 22h0M71 19h0M55 28h0M82 42h0M45 82h0M52 43h0M62 27h0M75 21h0M40 52h0M87 67h0M60 48h0M48 26h0M73 53h0M50 45h0M87 36h0M75 40h0M62 17h0M82 35h0M90 59h0M78 41h0M37 71h0M65 51h0M79 51h0M32 72h0M44 38h0M57 46h0M52 63h0M45 33h0M55 63h0M73 39h0M61 15h0M61 63h0M50 25h0M64 54h0M48 28h0M32 59h0M52 67h0M79 33h0M59 61h0M54 54h0M70 24h0M81 33h0M83 24h0M52 39h0M59 53h0M53 44h0M82 30h0M57 58h0M68 30h0M73 52h0M50 11h0M77 23h0M40 72h0M70 73h0M44 56h0M84 41h0M85 47h0M48 33h0M87 47h0M77 22h0M64 17h0M35 61h0M59 15h0M86 42h0M67 26h0M84 28h0M73 38h0M63 30h0M43 29h0M84 43h0M66 23h0M60 44h0M45 50h0M76 37h0M63 64h0M43 66h0M68 37h0M88 43h0M45 13h0M79 35h0M52 61h0M65 31h0M67 20h0M86 46h0M64 17h0M55 17h0M78 58h0M71 24h0M69 39h0M66 57h0M70 39h0M42 50h0M67 39h0M32 65h0M63 47h0M76 58h0M55 43h0M71 27h0M35 75h0M53 57h0M63 54h0M45 31h0M87 30h0M76 30h0M71 61h0M56 64h0M52 36h0M70 80h0M42 68h0M63 86h0M65 40h0M85 45h0M55 44h0M68 67h0M71 67h0M46 63h0M64 15h0M58 38h0M86 47h0M42 39h0M39 56h0M52 29h0M82 41h0M65 48h0M80 66h0"/><path stroke="#cc2a1c" d="M42 30h0M30 50h0M37 48h0M35 36h0M41 52h0M39 49h0M42 21h0M46 42h0M17 42h0M33 21h0M18 38h0M44 40h0M24 36h0M41 41h0M31 48h0M43 46h0"/><path stroke="#74a4dc" d="M77 72h0M75 72h0M76 38h0M60 72h0M65 79h0M66 83h0M84 75h0"/><path stroke="#b0201a" d="M39 29h0M22 45h0M41 22h0M30 47h0M21 26h0"/><path stroke="#3b64bf" d="M81 60h0M81 57h0M82 58h0M62 35h0"/><path stroke="#26369a" d="M65 30h0M58 30h0M49 73h0M56 76h0M57 35h0M47 72h0M81 60h0M72 39h0M58 33h0M61 34h0M49 70h0M64 34h0M73 39h0M63 35h0M72 41h0M56 71h0M75 42h0M56 74h0M48 73h0M71 40h0"/><path stroke="#e05a28" d="M24 48h0M46 38h0M41 44h0M40 15h0M21 40h0M45 43h0M39 38h0M36 41h0M44 15h0M22 54h0M17 50h0M45 20h0M45 20h0M45 36h0M39 45h0M40 37h0M28 47h0M36 37h0M30 21h0M45 47h0M41 41h0"/><path stroke="#a6d0de" d="M60 69h0M39 70h0M80 76h0M40 69h0M64 55h0M79 76h0M81 66h0M76 23h0M79 74h0M48 40h0M80 74h0M59 70h0M64 83h0M39 71h0"/></g></g><g transform="translate(334.4,212.1)"><rect x="0.5" y="0.5" width="34.2" height="31.3" fill="#fff" stroke="#969696" stroke-width="1.2"/><rect x="33.9" y="0.6" width="1.0" height="31.1" fill="url(#cbar)"/><g clip-path="url(#cpM)"><g opacity="0.75"><rect width="35.4" height="32.3" fill="#ead462"/><g filter="url(#bl)"><ellipse cx="9" cy="8.5" rx="5.5" ry="5" fill="#c9311e"/><ellipse cx="17.5" cy="5" rx="5" ry="2.5" fill="#eb8a36"/><ellipse cx="16" cy="15.5" rx="5" ry="4.5" fill="#f1b743"/><ellipse cx="7.5" cy="16" rx="3.5" ry="4.5" fill="#ead462"/><ellipse cx="17" cy="22.5" rx="8" ry="3.5" fill="#d7df9d"/><ellipse cx="27.5" cy="17.5" rx="3" ry="7" fill="#eaeca6"/><ellipse cx="8" cy="8" rx="4" ry="4" fill="#be251b"/><ellipse cx="20" cy="18" rx="1.5" ry="1.5" fill="#74a4dc"/></g></g><use href="#spM"/></g><g transform="scale(0.3333)" stroke-width="3.6" stroke-linecap="round" fill="none"><path stroke="#f0dc50" d="M52 25h0M69 28h0M31 47h0M57 61h0M37 57h0M37 57h0M60 40h0M54 45h0M63 31h0M50 35h0M46 33h0M58 25h0M34 55h0M72 56h0M18 41h0M72 29h0M64 55h0M11 41h0M51 35h0M38 57h0M76 74h0M70 71h0M66 59h0M12 39h0M70 27h0M56 52h0M33 61h0M50 37h0M77 55h0M48 36h0M41 60h0M55 61h0M56 75h0M40 71h0M26 47h0M76 40h0M29 57h0M48 74h0M31 52h0M63 60h0M25 49h0M29 60h0M65 71h0M46 73h0M58 38h0M61 31h0M55 36h0M51 65h0M74 65h0M15 39h0M46 73h0M47 57h0M78 25h0M69 27h0M65 28h0M73 28h0M62 61h0M77 71h0M38 46h0M51 14h0M72 74h0M39 70h0M53 42h0M72 27h0M59 34h0M21 40h0M78 27h0M53 26h0M54 36h0M52 63h0M63 24h0M17 38h0M55 43h0M66 25h0M54 76h0M35 43h0M35 72h0M61 70h0M23 57h0M52 33h0M41 46h0M73 72h0M60 67h0M45 51h0M65 70h0M44 60h0M42 55h0M70 62h0M30 45h0M46 53h0M79 74h0M32 58h0M42 49h0M52 25h0M49 53h0M33 65h0M53 49h0M49 66h0M21 42h0M68 58h0M55 48h0M11 41h0M55 67h0M75 68h0M86 38h0M42 67h0M54 51h0M39 70h0M41 41h0M79 70h0M24 54h0M58 35h0M50 60h0M39 75h0M15 51h0M47 52h0M30 55h0M67 26h0M86 32h0M51 57h0M60 62h0M53 26h0M39 72h0M65 25h0M37 58h0M53 41h0M37 60h0M76 74h0M28 43h0M15 40h0M29 47h0M48 57h0M42 52h0M61 31h0M31 60h0M41 74h0M63 68h0M17 38h0M52 23h0M68 56h0M57 37h0M30 59h0M34 50h0M67 25h0M18 41h0M64 28h0M18 39h0M71 70h0M32 58h0M60 58h0M54 62h0M59 31h0M52 69h0M51 74h0M72 74h0M52 37h0M24 52h0M63 69h0"/><path stroke="#eaeca6" d="M79 42h0M86 45h0M45 58h0M62 35h0M87 59h0M88 43h0M51 67h0M73 48h0M79 41h0M83 43h0M66 67h0M42 64h0M60 62h0M90 37h0M76 54h0M78 71h0M79 60h0M81 46h0M37 76h0M42 68h0M45 63h0M71 24h0M81 47h0M78 61h0M87 39h0M55 71h0M63 36h0M54 61h0M73 30h0M58 64h0M51 59h0M14 39h0M35 61h0M74 60h0M52 75h0M53 58h0M45 64h0M21 41h0M84 69h0M54 70h0M73 18h0M58 26h0M35 59h0M65 49h0M53 65h0M66 24h0M36 75h0M54 61h0M50 68h0M87 37h0M78 32h0M84 40h0M85 63h0M39 67h0M12 37h0M30 35h0M91 44h0M76 63h0M73 63h0M56 70h0M73 62h0M35 69h0M39 61h0M84 65h0M56 62h0M45 64h0M53 71h0M24 44h0M59 73h0M58 63h0M20 49h0M58 38h0M86 55h0M86 35h0M79 49h0M35 61h0M36 61h0M76 31h0M21 45h0M82 55h0M47 62h0M14 44h0M55 68h0M34 61h0"/><path stroke="#b0201a" d="M35 33h0M27 29h0M15 35h0M38 29h0M26 40h0M33 38h0M20 32h0M32 17h0M36 15h0M31 13h0M19 21h0M28 23h0M28 34h0M30 23h0M30 22h0M23 24h0M32 34h0M23 31h0M31 23h0M25 31h0M28 20h0M30 19h0M18 34h0M25 36h0M18 31h0M29 22h0M30 39h0M26 23h0M24 28h0M25 38h0M27 29h0M41 18h0"/><path stroke="#cc2a1c" d="M33 26h0M35 18h0M32 43h0M27 16h0M26 25h0M26 33h0M35 18h0M37 28h0M28 19h0M37 20h0M40 27h0M23 16h0M21 28h0M30 22h0M23 26h0M25 15h0M31 31h0M24 21h0M40 26h0M57 17h0M19 32h0M24 22h0M34 25h0M16 25h0M22 21h0M22 28h0M25 21h0M65 17h0M35 29h0"/><path stroke="#f4b840" d="M48 50h0M44 48h0M45 35h0M55 33h0M47 74h0M59 39h0M52 53h0M46 48h0M53 33h0M43 14h0M22 43h0M66 29h0M49 43h0M59 29h0M52 50h0M44 46h0M44 47h0M37 11h0M58 63h0M39 21h0M60 46h0M47 73h0M31 38h0M28 40h0M72 21h0M41 40h0M42 33h0M19 36h0M49 37h0M64 29h0M59 23h0M24 42h0M58 28h0M24 43h0M79 26h0M80 34h0M42 31h0M82 29h0M61 21h0M51 38h0M28 60h0M39 74h0M60 28h0M56 39h0M74 32h0M62 59h0M66 21h0M72 20h0M65 18h0M71 63h0M44 48h0M19 48h0M11 40h0M69 61h0M19 54h0M60 28h0M17 47h0M19 47h0M61 22h0M80 32h0M60 35h0M45 31h0M68 22h0M62 21h0M40 15h0M40 22h0M59 32h0M60 28h0M65 20h0M44 59h0M50 32h0M77 29h0M26 54h0M46 37h0M50 57h0M49 43h0M48 45h0M59 28h0M59 48h0M30 62h0M48 44h0M37 49h0M49 51h0M52 59h0M74 33h0M86 33h0M49 44h0M40 42h0M50 70h0M51 46h0M33 46h0M33 48h0M50 39h0M48 48h0M69 57h0M21 45h0M13 47h0M17 46h0M45 39h0M45 42h0M57 33h0M55 29h0M42 33h0M53 30h0M50 37h0M68 41h0"/><path stroke="#74a4dc" d="M59 57h0M50 63h0M57 51h0M58 49h0M64 55h0M58 53h0M35 36h0M61 52h0M62 56h0M64 54h0M78 30h0M57 56h0M50 64h0"/><path stroke="#ec8a38" d="M91 34h0M60 43h0M59 49h0M55 22h0M59 36h0M72 37h0M40 26h0M40 44h0M56 51h0M42 31h0M56 48h0M56 18h0M44 17h0M55 10h0M59 48h0M60 43h0M69 16h0M59 15h0M27 14h0M56 40h0M64 42h0M41 45h0M57 21h0M59 12h0M59 14h0M37 44h0M58 45h0M46 19h0M27 55h0M38 37h0M49 10h0M52 21h0M55 16h0M54 20h0M57 18h0M61 15h0M53 19h0M55 22h0M48 20h0"/><path stroke="#a6d0de" d="M41 59h0M30 60h0M65 20h0M49 63h0M31 62h0M81 57h0M43 75h0M86 35h0M65 61h0M74 48h0M42 75h0M76 32h0M42 58h0"/><path stroke="#e05a28" d="M53 12h0M38 18h0M61 17h0M60 16h0M37 12h0M70 18h0M50 16h0M33 37h0M42 16h0M43 55h0M55 16h0M54 17h0M47 17h0M59 15h0M51 15h0M43 18h0M45 16h0M51 19h0M34 32h0M52 16h0M31 17h0M45 18h0M44 18h0M28 34h0"/><path stroke="#4a78cf" d="M56 53h0M60 54h0"/></g></g><text x="386.7" y="172.7" font-size="8.1" fill="#1a1a1a" stroke="#1a1a1a" stroke-width="0.28" textLength="25.3" lengthAdjust="spacingAndGlyphs">CD62L</text><g transform="translate(381.5,177.4)"><rect x="0.5" y="0.5" width="34.2" height="31.3" fill="#fff" stroke="#969696" stroke-width="1.2"/><rect x="33.9" y="0.6" width="1.0" height="31.1" fill="url(#cbar)"/><g clip-path="url(#cpP)"><g opacity="0.75"><rect width="35.4" height="32.3" fill="#4169c1"/><g filter="url(#bl)"><ellipse cx="9.5" cy="11" rx="6" ry="7.5" fill="#dc5528"/><ellipse cx="11" cy="10" rx="2.5" ry="2" fill="#c9311e"/><ellipse cx="19" cy="27" rx="4" ry="2" fill="#f1b743"/><ellipse cx="19" cy="28" rx="2" ry="1" fill="#eb8a36"/></g></g><use href="#spP"/></g><g transform="scale(0.3333)" stroke-width="3.6" stroke-linecap="round" fill="none"><path stroke="#26369a" d="M62 23h0M77 77h0M75 76h0M69 52h0M49 50h0M73 24h0M79 20h0M57 60h0M67 19h0M63 42h0M88 52h0M81 64h0M69 55h0M45 13h0M43 55h0M66 51h0M77 19h0M82 65h0M65 51h0M69 27h0M70 42h0M79 31h0M88 41h0M55 44h0M84 67h0M60 38h0M49 38h0M45 41h0M62 51h0M76 46h0M15 47h0M64 38h0M89 50h0M34 72h0M73 58h0M40 15h0M67 28h0M80 70h0M57 39h0M71 18h0M52 47h0M86 38h0M57 49h0M61 24h0M77 70h0M61 26h0M78 77h0M28 56h0M66 60h0M72 77h0M56 70h0M54 24h0"/><path stroke="#3b64bf" d="M72 61h0M49 46h0M52 50h0M71 40h0M63 66h0M43 50h0M62 30h0M74 40h0M61 21h0M58 24h0M82 34h0M51 57h0M56 52h0M70 70h0M45 32h0M66 30h0M48 70h0M67 23h0M74 67h0M57 58h0M50 42h0M37 68h0M86 47h0M71 28h0M72 24h0M77 74h0M49 45h0M41 60h0M50 76h0M57 54h0M53 59h0M56 60h0M77 31h0M68 79h0M52 67h0M89 43h0M35 77h0M50 53h0M41 62h0M74 39h0M43 75h0M40 59h0M68 49h0M75 70h0M66 25h0M76 42h0M77 59h0M68 77h0M35 67h0M53 71h0M60 14h0M64 71h0M48 70h0M50 30h0M59 48h0M27 48h0M69 68h0M47 76h0M55 23h0M60 55h0M45 81h0M69 73h0M64 55h0M67 32h0M85 62h0M76 54h0M63 58h0M57 75h0M46 44h0M51 57h0M51 46h0M62 73h0M76 72h0M49 67h0M37 70h0M62 57h0M55 10h0M49 17h0M59 16h0M57 58h0M63 66h0M66 58h0M56 68h0M84 51h0M27 51h0M78 38h0M44 62h0M76 68h0M84 54h0M66 76h0M76 50h0M79 51h0M70 22h0M88 61h0M58 22h0M63 47h0M50 67h0M53 39h0M48 62h0M39 59h0M46 23h0M46 64h0M79 61h0M90 48h0M83 74h0M68 23h0M54 74h0M70 75h0M26 63h0M53 36h0M79 64h0M68 37h0M76 73h0M52 34h0M53 32h0M44 60h0M58 19h0M44 39h0M45 20h0M39 69h0M54 23h0M72 62h0M54 23h0M80 66h0M48 31h0M23 53h0M53 22h0M63 68h0M72 41h0M60 55h0M47 43h0M67 70h0M40 64h0M68 77h0M85 51h0M68 29h0M50 25h0M46 18h0M74 60h0M51 53h0M50 19h0M61 28h0M81 68h0M79 41h0M45 63h0M58 33h0M69 29h0M48 68h0M33 65h0M71 48h0M79 73h0M51 39h0M78 35h0M70 54h0M35 62h0M55 74h0M45 75h0M61 54h0M45 21h0M47 74h0M47 10h0M80 52h0M54 59h0M77 41h0M70 22h0M65 22h0M35 72h0M40 70h0M74 57h0M57 19h0M58 55h0M67 25h0M49 23h0M81 43h0M50 38h0M57 37h0M62 57h0M79 34h0M75 50h0M58 58h0M51 43h0M67 70h0M62 74h0M75 72h0M55 22h0M50 77h0M78 48h0M52 23h0M56 71h0M46 57h0M40 54h0M32 59h0M69 76h0M53 21h0M72 33h0M48 43h0M70 29h0M49 45h0M54 26h0M82 54h0M85 41h0M65 66h0M58 57h0M61 58h0M63 54h0M64 66h0M51 52h0M81 50h0M76 22h0M60 18h0M73 82h0M41 21h0M72 82h0M68 47h0M71 55h0M37 74h0M55 75h0M44 65h0M78 61h0M62 59h0M73 32h0M70 58h0M54 74h0M72 73h0M76 38h0M52 75h0M90 59h0M49 69h0M38 77h0M84 71h0M71 54h0M81 38h0M88 41h0M48 51h0M48 66h0M78 72h0M52 10h0M49 30h0M76 75h0M75 69h0M56 60h0M75 47h0M40 59h0M81 60h0M67 25h0M77 42h0M62 68h0M55 55h0M71 69h0"/><path stroke="#4a78cf" d="M63 25h0M69 49h0M59 36h0M47 36h0M61 45h0M68 44h0M62 28h0M52 22h0M72 19h0M64 61h0M65 63h0M89 55h0M60 32h0M60 43h0M70 35h0M59 67h0M42 17h0M53 31h0M74 31h0M79 68h0M78 19h0M59 40h0M47 78h0M68 80h0M74 49h0M45 74h0M75 49h0M54 29h0M61 61h0M72 20h0M62 62h0M62 44h0M67 33h0M57 40h0M73 18h0M46 61h0M62 34h0M57 31h0M75 45h0M41 59h0M64 45h0M81 55h0M32 61h0M68 18h0M48 31h0M75 76h0M55 37h0M61 45h0M73 80h0M73 22h0M52 33h0M86 52h0M84 32h0M29 64h0M74 52h0M63 21h0M85 32h0M66 73h0M47 54h0M65 62h0M72 47h0M82 55h0M61 51h0M68 16h0M46 21h0M78 48h0M69 20h0M84 56h0M53 52h0M63 40h0M61 11h0M72 48h0M73 43h0M83 55h0M60 62h0M86 66h0M74 72h0M80 45h0M46 24h0M48 56h0M45 55h0M69 43h0M30 59h0M85 58h0M60 53h0M66 33h0M71 76h0M53 59h0M30 58h0M32 70h0M56 50h0M83 59h0M44 56h0M67 22h0M68 16h0M61 49h0M42 47h0M87 38h0M69 35h0M58 10h0M50 73h0M66 54h0M88 44h0M69 64h0M62 51h0M90 41h0M27 60h0M16 45h0M85 57h0M44 52h0M75 81h0M54 44h0M72 29h0M71 37h0M86 52h0M81 24h0M70 41h0M46 77h0M62 22h0M68 37h0M62 28h0M31 62h0M79 75h0M77 47h0M46 68h0"/><path stroke="#e05a28" d="M33 50h0M58 80h0M44 38h0M42 40h0M29 51h0M31 20h0M21 33h0M24 36h0M49 20h0M43 41h0M34 47h0M20 53h0M44 45h0"/><path stroke="#74a4dc" d="M71 31h0M57 51h0M74 21h0M71 18h0M86 64h0M48 56h0M62 21h0M68 40h0M57 49h0M56 45h0M65 50h0M67 50h0M56 52h0M87 32h0M87 30h0M57 39h0M78 30h0"/><path stroke="#f0dc50" d="M55 80h0M61 76h0M53 78h0M51 80h0"/><path stroke="#f4b840" d="M47 82h0M58 79h0M65 82h0M55 77h0M66 81h0M55 83h0M53 82h0M49 76h0M20 46h0M67 81h0M58 76h0M55 85h0"/><path stroke="#cc2a1c" d="M18 32h0M37 56h0M42 35h0M18 45h0M38 15h0M32 15h0M41 35h0M43 46h0M34 16h0M40 37h0M42 31h0M40 34h0M35 17h0M34 42h0M36 37h0M34 42h0M46 38h0M42 21h0"/><path stroke="#ec8a38" d="M62 78h0M22 51h0M57 84h0M38 33h0M21 46h0M30 36h0M37 34h0M62 80h0M57 87h0"/><path stroke="#eaeca6" d="M51 84h0"/></g></g><g transform="translate(381.5,212.1)"><rect x="0.5" y="0.5" width="34.2" height="31.3" fill="#fff" stroke="#969696" stroke-width="1.2"/><rect x="33.9" y="0.6" width="1.0" height="31.1" fill="url(#cbar)"/><g clip-path="url(#cpM)"><g opacity="0.75"><rect width="35.4" height="32.3" fill="#4169c1"/><g filter="url(#bl)"><ellipse cx="9" cy="8.5" rx="5.5" ry="5" fill="#dc5528"/><ellipse cx="17.5" cy="5" rx="5" ry="2.5" fill="#eb8a36"/><ellipse cx="14" cy="9" rx="2" ry="2.5" fill="#f1b743"/></g></g><use href="#spM"/></g><g transform="scale(0.3333)" stroke-width="3.6" stroke-linecap="round" fill="none"><path stroke="#3b64bf" d="M37 51h0M24 55h0M76 33h0M88 36h0M63 34h0M87 38h0M52 23h0M62 41h0M20 49h0M44 46h0M88 44h0M40 71h0M35 66h0M43 67h0M77 21h0M17 40h0M54 24h0M33 47h0M26 55h0M50 38h0M52 65h0M75 19h0M53 30h0M64 19h0M54 28h0M47 65h0M68 76h0M61 35h0M39 41h0M43 61h0M72 22h0M77 32h0M60 33h0M85 41h0M46 59h0M29 13h0M67 52h0M23 49h0M59 29h0M22 56h0M64 26h0M87 43h0M65 52h0M53 31h0M36 53h0M45 74h0M76 31h0M49 32h0M14 43h0M74 22h0M46 63h0M73 22h0M37 74h0M39 53h0M34 66h0M47 60h0M35 44h0M38 71h0M92 41h0M44 34h0M15 41h0M55 41h0M78 40h0M55 37h0M42 55h0M66 54h0M56 25h0M74 69h0M66 70h0M39 42h0M54 39h0M56 45h0M73 67h0M56 67h0M70 20h0M25 51h0M19 47h0M72 53h0M66 60h0M60 64h0M63 27h0M17 32h0M37 11h0M50 53h0M76 33h0M53 32h0M33 43h0M64 63h0M54 47h0M39 60h0M54 64h0M79 48h0M87 33h0M51 38h0M42 65h0M35 43h0M52 41h0M63 72h0M59 33h0M57 40h0M56 35h0M70 26h0M39 53h0M83 48h0M36 66h0M42 52h0M74 54h0M65 22h0M69 27h0M65 21h0M70 69h0M37 40h0M71 27h0M71 26h0M59 55h0M28 48h0M81 60h0M40 42h0M69 23h0M34 73h0M29 45h0M37 76h0M26 52h0M68 75h0M37 68h0M36 50h0M54 41h0M83 58h0M73 22h0M15 36h0M21 48h0M76 23h0M60 66h0M58 71h0M76 28h0M70 20h0M68 57h0M24 47h0M11 44h0M43 53h0M37 69h0M63 52h0M68 19h0M68 27h0M32 12h0M62 70h0M18 47h0M52 37h0M44 59h0M75 28h0M39 71h0M38 64h0M46 38h0M58 32h0M66 19h0M46 63h0M78 21h0M66 61h0M70 54h0M25 58h0M55 34h0M68 56h0M88 37h0M34 53h0M52 32h0M81 63h0M65 55h0M34 72h0M67 20h0M52 35h0M38 59h0M52 52h0M23 52h0M66 53h0"/><path stroke="#cc2a1c" d="M20 39h0M30 28h0M32 15h0M34 16h0M22 19h0M26 23h0M29 30h0M27 23h0M28 20h0M24 42h0M25 27h0M32 18h0M32 29h0M34 15h0M23 21h0M15 30h0M25 29h0M34 19h0M28 14h0M39 20h0M37 32h0M20 40h0M34 32h0M28 18h0M29 27h0M29 30h0M13 28h0M39 36h0M24 23h0M37 33h0M31 25h0M27 29h0M32 17h0M34 15h0"/><path stroke="#4a78cf" d="M57 59h0M41 42h0M39 60h0M51 38h0M71 29h0M57 42h0M44 74h0M65 36h0M61 26h0M62 48h0M56 66h0M53 58h0M29 61h0M64 32h0M51 59h0M79 51h0M44 49h0M75 61h0M40 36h0M58 63h0M50 42h0M59 58h0M74 47h0M43 65h0M58 35h0M46 67h0M58 50h0M38 76h0M58 43h0M59 52h0M75 64h0M52 78h0M53 77h0M50 37h0M32 56h0M32 63h0M53 66h0M75 56h0M51 54h0M49 60h0M46 50h0M82 48h0M77 61h0M62 26h0M61 20h0M45 58h0M53 25h0M57 52h0M46 67h0M47 37h0M89 46h0M61 23h0M25 55h0M16 44h0M64 35h0M72 62h0M40 36h0M53 67h0M50 66h0M59 37h0M59 47h0M32 57h0M28 49h0M51 75h0M62 57h0M75 57h0M54 59h0M23 41h0M54 65h0M52 40h0M32 59h0M23 42h0M51 58h0M70 64h0M36 35h0M38 35h0M61 47h0M32 56h0M42 45h0M49 68h0M34 62h0M51 37h0M43 58h0M77 69h0M38 46h0M42 77h0M36 69h0M81 73h0M66 31h0M28 45h0M30 64h0M59 46h0M30 62h0M29 66h0M55 44h0M62 67h0M86 60h0M68 20h0M84 36h0M39 49h0M31 15h0M62 24h0M24 49h0M61 36h0M56 57h0M47 38h0M71 65h0M45 68h0M18 43h0M31 55h0M37 74h0M37 40h0M51 42h0M75 53h0M36 45h0M53 61h0M74 74h0M49 52h0M49 43h0M41 60h0M58 60h0M17 43h0M46 76h0M39 11h0M38 67h0M47 71h0M49 78h0M17 45h0M45 36h0M41 77h0M43 65h0"/><path stroke="#26369a" d="M56 35h0M47 70h0M42 73h0M73 49h0M54 31h0M85 35h0M65 62h0M32 57h0M62 36h0M39 47h0M58 42h0M43 49h0M63 47h0M75 19h0M46 69h0M35 16h0M44 47h0M67 22h0M25 38h0M69 32h0M22 51h0M25 60h0M34 60h0M45 40h0M42 66h0M43 10h0M37 60h0M41 22h0M45 70h0M50 68h0M11 36h0M50 69h0M60 38h0M34 60h0M18 38h0M45 73h0M46 73h0M39 49h0M61 38h0M33 58h0M56 70h0M40 51h0M58 75h0M49 72h0M31 69h0M46 69h0M58 64h0M71 28h0M64 36h0M51 35h0M52 67h0M34 57h0M38 33h0M70 32h0M49 66h0M72 30h0M60 64h0"/><path stroke="#e05a28" d="M20 34h0M29 37h0M31 21h0M31 34h0M55 21h0M30 15h0M33 25h0M25 31h0M44 14h0M29 37h0M35 22h0M63 20h0M53 17h0M30 35h0M47 13h0M57 16h0M26 34h0M22 30h0M21 25h0M18 32h0M29 35h0M16 34h0M34 38h0M39 16h0M29 31h0M34 29h0M25 30h0M34 20h0M35 12h0M55 20h0M18 37h0M36 12h0M51 9h0M46 18h0M19 30h0M21 29h0M47 10h0M37 19h0M28 32h0M42 18h0M31 22h0M23 31h0M18 24h0M15 25h0"/><path stroke="#f0dc50" d="M44 19h0M38 24h0M39 23h0M40 25h0M41 24h0M41 28h0M42 32h0M41 26h0"/><path stroke="#74a4dc" d="M31 67h0M41 49h0M76 69h0M62 26h0M77 54h0M55 44h0M59 40h0M60 28h0M60 61h0M44 69h0M62 62h0M60 37h0M50 70h0M51 56h0M31 68h0"/><path stroke="#ec8a38" d="M65 18h0M37 34h0M53 15h0M48 15h0M44 11h0M59 16h0M51 14h0M58 20h0M29 42h0M47 16h0M25 26h0M49 13h0M33 29h0M57 17h0M33 33h0M23 26h0M62 20h0M49 19h0M57 20h0M24 27h0M42 12h0M48 16h0M53 15h0M24 23h0M34 32h0M53 20h0M52 11h0M33 23h0M56 17h0M22 16h0M26 41h0M43 17h0"/><path stroke="#b0201a" d="M42 18h0"/><path stroke="#f4b840" d="M43 33h0M27 18h0M45 31h0M41 27h0"/></g></g><text x="436.9" y="172.7" font-size="8.1" fill="#1a1a1a" stroke="#1a1a1a" stroke-width="0.28" textLength="20.1" lengthAdjust="spacingAndGlyphs">CD27</text><g transform="translate(430,177.4)"><rect x="0.5" y="0.5" width="34.2" height="31.3" fill="#fff" stroke="#969696" stroke-width="1.2"/><rect x="33.9" y="0.6" width="1.0" height="31.1" fill="url(#cbar)"/><g clip-path="url(#cpP)"><g opacity="0.75"><rect width="35.4" height="32.3" fill="#2b3fa0"/><g filter="url(#bl)"><ellipse cx="9.5" cy="11" rx="6" ry="7.5" fill="#c9aa70"/></g></g><use href="#spP"/></g><g transform="scale(0.3333)" stroke-width="3.6" stroke-linecap="round" fill="none"><path stroke="#26369a" d="M53 43h0M70 25h0M53 19h0M47 65h0M37 12h0M60 19h0M86 53h0M63 52h0M83 68h0M70 31h0M71 60h0M27 59h0M57 18h0M58 26h0M48 32h0M84 28h0M44 68h0M38 71h0M51 55h0M35 53h0M71 26h0M66 33h0M86 53h0M59 62h0M83 56h0M53 59h0M45 20h0M49 47h0M77 28h0M50 22h0M85 41h0M47 54h0M53 71h0M89 42h0M57 50h0M91 45h0M88 61h0M78 35h0M65 51h0M45 55h0M35 60h0M87 65h0M75 22h0M56 20h0M60 69h0M54 56h0M79 36h0M76 50h0M78 23h0M50 43h0M55 74h0M81 52h0M81 51h0M71 23h0M82 52h0M77 62h0M89 61h0M47 72h0M75 64h0M44 33h0M82 56h0M79 62h0M38 77h0M54 54h0M65 76h0M85 60h0M18 52h0M88 47h0M78 67h0M63 75h0M67 64h0M66 39h0M37 71h0M85 72h0M72 80h0M58 13h0M48 44h0M56 30h0M59 27h0M79 62h0M53 81h0M67 41h0M81 74h0M76 68h0M32 70h0M60 65h0M65 15h0M83 33h0M49 53h0M64 84h0M73 47h0M77 32h0M73 54h0M86 56h0M66 44h0M81 61h0M49 56h0M83 39h0M55 32h0M38 54h0M43 17h0M70 21h0M52 81h0M80 63h0M49 56h0M52 66h0M39 61h0M37 78h0M90 47h0M59 22h0M52 43h0M84 74h0M64 37h0M68 65h0M49 68h0M67 71h0M59 71h0M52 36h0M40 16h0M71 20h0M50 26h0M37 72h0M80 35h0M60 42h0M71 79h0M66 79h0M55 10h0M46 23h0M52 30h0M41 42h0M85 65h0M62 40h0M55 65h0M47 16h0M57 67h0M40 60h0M76 64h0M49 22h0M60 71h0M76 57h0M43 73h0M70 79h0M37 71h0M49 49h0M63 20h0M85 46h0M59 10h0M41 70h0M72 60h0M43 17h0M78 32h0M77 51h0M61 30h0M56 58h0M45 25h0M49 73h0M80 33h0M59 42h0M93 39h0M76 31h0M78 38h0M84 34h0M73 37h0M50 26h0M58 24h0M83 34h0M83 37h0M56 26h0M49 73h0M77 52h0M83 57h0M50 29h0M50 71h0M39 75h0M49 56h0M74 59h0M43 57h0M57 33h0M70 47h0M72 25h0M90 35h0M59 27h0M86 71h0M69 54h0M69 78h0M58 25h0M63 77h0M79 58h0M87 43h0M71 16h0M39 59h0M38 65h0M52 36h0M60 72h0M66 33h0M45 21h0M57 61h0M57 43h0M83 66h0M48 62h0M33 59h0M54 23h0M57 35h0M39 78h0M75 44h0M89 60h0M70 23h0M51 18h0M85 29h0M79 50h0M79 25h0M51 10h0M67 69h0M54 39h0M90 33h0M77 37h0M89 30h0M74 26h0M40 56h0M68 79h0M71 27h0M58 68h0M47 71h0M41 65h0M90 56h0M67 81h0M51 41h0M67 22h0M80 40h0M84 67h0M57 81h0M49 73h0M86 43h0M73 59h0M38 15h0M89 44h0M58 44h0M63 30h0M63 36h0M47 53h0M55 42h0M47 57h0M61 15h0M76 37h0M82 68h0M79 56h0M60 58h0M38 69h0M73 22h0M64 28h0M70 46h0M21 58h0M59 63h0M74 29h0M61 61h0M69 39h0M61 27h0M77 65h0M78 65h0M55 15h0M61 60h0M57 38h0M64 59h0M48 42h0M47 15h0M66 40h0M61 19h0M89 39h0M67 33h0M78 55h0M74 17h0M51 22h0M42 42h0M85 72h0M79 60h0M43 54h0M55 16h0M49 54h0M79 28h0M37 73h0M64 37h0M50 21h0M81 38h0M55 56h0M73 80h0M49 75h0M79 46h0M85 39h0M65 77h0M50 70h0M80 44h0M27 57h0M69 47h0M47 62h0M52 63h0M62 30h0M38 52h0M54 42h0M79 66h0M41 70h0M70 16h0M91 34h0M57 64h0M69 52h0M79 47h0M39 73h0M67 24h0M55 25h0M45 29h0M70 17h0M60 78h0M90 56h0M45 64h0M58 18h0M80 33h0M67 43h0M51 21h0M81 55h0M50 74h0M61 42h0M81 29h0M70 29h0M54 35h0M81 63h0M68 18h0M69 33h0M79 56h0M73 48h0M84 31h0M50 37h0M65 32h0M51 42h0M38 75h0M48 39h0M49 54h0M88 51h0M55 10h0M44 16h0M27 55h0M72 46h0M55 73h0M58 35h0M76 21h0M75 52h0M61 40h0M49 82h0M35 59h0M46 57h0M79 51h0M74 69h0M65 17h0M54 56h0M83 54h0M83 38h0M71 53h0M52 64h0M60 27h0M87 46h0M58 17h0M33 58h0M62 76h0M58 82h0M70 76h0M82 45h0M60 49h0M59 30h0M49 9h0M47 45h0M83 60h0M67 42h0M50 20h0M74 48h0M66 80h0M55 23h0M72 62h0M42 44h0M42 14h0M70 80h0M49 74h0M52 18h0M74 52h0M64 80h0M79 68h0M82 39h0M55 63h0M81 56h0M89 52h0M47 44h0M79 66h0M63 73h0M55 54h0M63 43h0M56 55h0M56 24h0M86 51h0"/><path stroke="#3b64bf" d="M57 19h0M82 65h0M82 33h0M65 51h0M60 76h0M77 25h0M80 69h0M61 13h0M71 31h0M65 58h0M62 54h0M62 32h0M87 49h0M57 12h0M49 69h0M70 36h0M59 30h0M61 33h0M77 69h0M72 42h0M78 31h0M81 49h0M37 51h0M61 41h0M72 73h0M59 77h0M53 20h0M59 19h0M58 68h0M78 66h0M66 76h0M79 67h0M68 38h0M56 23h0M38 62h0M52 65h0M54 11h0M72 64h0M63 57h0M61 12h0M69 41h0M52 56h0M60 23h0M89 48h0M37 60h0M81 63h0M70 76h0M51 68h0M49 67h0M58 70h0M61 82h0M81 68h0"/><path stroke="#f0dc50" d="M44 44h0M36 21h0M39 46h0M38 41h0M36 54h0M21 47h0M18 43h0M41 47h0M22 57h0M42 28h0M47 16h0M41 38h0M44 29h0M43 22h0M30 54h0M43 42h0M35 21h0"/><path stroke="#f4b840" d="M41 36h0M20 25h0M44 28h0"/><path stroke="#74a4dc" d="M42 49h0M30 45h0M43 23h0M29 51h0M37 52h0M29 53h0M15 28h0M17 45h0M77 69h0M27 48h0M44 27h0"/><path stroke="#ec8a38" d="M49 35h0M28 26h0M40 32h0M18 40h0M29 27h0M39 34h0M43 35h0M22 26h0M19 39h0M23 30h0M14 39h0M34 35h0M22 24h0M36 37h0M44 35h0M36 41h0M44 41h0M26 25h0"/><path stroke="#eaeca6" d="M32 15h0M16 39h0M31 37h0"/><path stroke="#4a78cf" d="M16 44h0"/></g></g><g transform="translate(430,212.1)"><rect x="0.5" y="0.5" width="34.2" height="31.3" fill="#fff" stroke="#969696" stroke-width="1.2"/><rect x="33.9" y="0.6" width="1.0" height="31.1" fill="url(#cbar)"/><g clip-path="url(#cpM)"><g opacity="0.75"><rect width="35.4" height="32.3" fill="#2b3fa0"/><g filter="url(#bl)"><ellipse cx="9" cy="8.5" rx="5.5" ry="5" fill="#c4b98a"/><ellipse cx="17.5" cy="5" rx="5" ry="2.5" fill="#ead462"/></g></g><use href="#spM"/></g><g transform="scale(0.3333)" stroke-width="3.6" stroke-linecap="round" fill="none"><path stroke="#3b64bf" d="M64 70h0M44 57h0M49 66h0M28 50h0M43 38h0M70 67h0M69 25h0M73 22h0M42 55h0M43 58h0M75 66h0M88 39h0M75 74h0M70 60h0M51 21h0M35 49h0M69 49h0M36 70h0M20 45h0M73 67h0M59 27h0M61 48h0M59 70h0M76 27h0M32 49h0M72 27h0M60 22h0M36 36h0M26 47h0M57 28h0M63 30h0"/><path stroke="#26369a" d="M29 44h0M34 66h0M63 21h0M81 60h0M64 70h0M73 55h0M74 21h0M15 42h0M28 51h0M20 40h0M47 44h0M12 41h0M52 66h0M33 46h0M58 63h0M42 55h0M58 61h0M82 61h0M73 24h0M41 64h0M39 68h0M73 63h0M38 43h0M46 78h0M40 71h0M63 52h0M47 74h0M38 67h0M56 25h0M27 61h0M52 47h0M47 56h0M68 54h0M16 45h0M64 74h0M37 30h0M27 55h0M46 68h0M76 22h0M28 56h0M59 32h0M35 38h0M58 45h0M35 74h0M75 68h0M43 48h0M61 66h0M28 56h0M20 44h0M45 47h0M56 37h0M42 41h0M41 36h0M60 46h0M46 43h0M35 68h0M49 61h0M58 34h0M65 34h0M55 69h0M63 24h0M72 20h0M43 62h0M62 55h0M40 44h0M18 48h0M52 35h0M71 25h0M18 43h0M42 44h0M60 34h0M61 27h0M42 47h0M40 75h0M21 46h0M69 73h0M59 61h0M29 40h0M86 36h0M74 28h0M59 40h0M57 62h0M44 62h0M61 27h0M41 49h0M34 69h0M59 51h0M41 47h0M35 71h0M54 60h0M64 28h0M53 21h0M67 26h0M59 47h0M86 59h0M56 32h0M41 72h0M41 45h0M22 50h0M59 31h0M44 60h0M87 47h0M51 64h0M50 72h0M42 57h0M22 45h0M17 34h0M37 45h0M73 60h0M72 56h0M58 64h0M31 39h0M27 50h0M77 68h0M71 50h0M86 65h0M77 22h0M13 31h0M49 46h0M65 50h0M79 64h0M42 37h0M17 40h0M58 62h0M46 63h0M29 51h0M59 48h0M33 53h0M53 46h0M14 36h0M37 47h0M46 77h0M50 49h0M62 56h0M52 63h0M32 42h0M46 36h0M54 34h0M59 34h0M62 66h0M84 55h0M83 46h0M41 55h0M33 52h0M30 53h0M30 54h0M40 71h0M64 27h0M43 44h0M79 71h0M42 70h0M33 37h0M65 50h0M18 44h0M30 40h0M41 71h0M32 48h0M26 52h0M73 17h0M29 60h0M56 64h0M85 46h0M70 72h0M68 32h0M69 16h0M38 69h0M47 66h0M80 70h0M50 32h0M70 54h0M39 66h0M58 60h0M79 56h0M65 61h0M73 16h0M55 66h0M48 32h0M70 19h0M54 71h0M79 65h0M73 35h0M75 29h0M59 42h0M24 37h0M79 60h0M79 67h0M62 22h0M67 19h0M39 15h0M72 16h0M51 37h0M21 45h0M76 20h0M79 32h0M52 30h0M68 57h0M82 30h0M62 62h0M70 54h0M35 33h0M39 66h0M36 35h0M77 27h0M79 29h0M42 57h0M55 67h0M34 39h0M61 50h0M35 68h0M55 49h0M63 45h0M46 45h0M12 36h0M17 49h0M57 59h0M62 60h0M74 68h0M57 29h0M56 72h0M58 24h0M69 59h0M63 67h0M14 39h0M42 40h0M25 54h0M28 55h0M46 61h0M59 37h0M19 44h0M43 50h0M85 60h0M65 19h0M50 33h0M35 33h0M56 51h0M39 57h0M57 66h0M66 59h0M55 71h0M39 78h0M55 44h0M59 39h0M43 59h0M76 18h0M22 47h0M36 56h0M33 46h0M56 53h0M54 31h0M40 68h0M24 40h0M66 62h0M32 61h0M37 76h0M58 52h0M38 41h0M29 61h0M27 45h0M81 56h0M73 32h0M57 51h0M17 42h0M27 53h0M39 43h0M59 40h0M51 56h0M60 59h0M53 48h0M53 41h0M46 65h0M45 46h0M86 41h0M56 43h0M55 24h0M83 30h0M56 58h0M28 56h0M47 40h0M44 48h0M53 71h0M53 40h0M19 34h0M60 69h0M35 48h0M41 68h0M45 40h0M58 25h0M33 40h0M74 27h0M53 71h0M41 37h0M61 60h0M45 63h0M68 61h0M23 53h0M28 40h0M12 39h0M67 61h0M40 56h0M47 22h0M46 77h0M34 56h0M76 30h0M33 70h0M41 17h0M40 21h0M71 27h0M66 49h0M43 60h0M54 73h0M55 57h0M34 43h0M63 59h0M57 65h0M58 32h0M76 73h0M51 59h0M88 39h0M20 44h0M57 46h0M21 44h0M34 65h0M55 53h0M37 49h0M60 33h0M69 53h0M37 49h0M31 46h0M62 36h0M54 69h0M56 69h0M48 43h0M20 50h0M12 34h0M49 36h0M71 60h0M43 55h0M62 68h0M39 48h0M49 35h0M23 44h0M34 67h0M45 43h0M67 73h0M15 40h0M33 71h0M85 49h0M53 70h0"/><path stroke="#eaeca6" d="M33 35h0M26 19h0M36 36h0M46 16h0M25 28h0M59 14h0M38 11h0M51 16h0"/><path stroke="#f0dc50" d="M18 23h0M26 21h0M28 16h0M43 11h0M21 27h0M55 19h0M55 20h0M66 17h0M13 28h0M44 14h0M49 11h0M56 10h0M54 22h0M18 21h0M27 37h0M45 15h0M28 13h0M48 18h0M46 15h0M43 10h0M56 16h0M20 27h0M42 12h0M27 32h0M39 16h0M26 37h0M38 24h0M45 18h0M25 15h0M56 18h0M21 38h0M19 26h0"/><path stroke="#f4b840" d="M50 11h0M63 23h0M60 24h0M54 17h0M52 16h0M25 32h0M56 16h0M20 23h0M53 20h0M57 16h0M52 18h0M24 18h0M60 22h0"/><path stroke="#a6d0de" d="M30 28h0M41 25h0M38 33h0M31 16h0M29 23h0M37 30h0M37 25h0M36 27h0M35 37h0M24 23h0M37 29h0M19 34h0M36 38h0M30 21h0M31 38h0M40 28h0M26 29h0M38 39h0M40 33h0M34 35h0M36 31h0M22 34h0M33 22h0M31 29h0M16 33h0M40 27h0M30 23h0M40 30h0M39 28h0M37 38h0M36 27h0"/><path stroke="#74a4dc" d="M38 27h0M36 38h0M35 29h0M39 59h0M37 28h0M37 28h0M33 27h0M32 24h0M16 33h0M31 24h0M35 30h0M33 26h0M37 11h0M36 33h0M20 42h0M38 33h0M32 22h0"/><path stroke="#ec8a38" d="M23 30h0M22 26h0M28 35h0M37 24h0M27 30h0M34 19h0M21 20h0M31 34h0M14 30h0M26 30h0M42 24h0M22 20h0M28 17h0M23 26h0M21 40h0M22 26h0M30 32h0"/><path stroke="#4a78cf" d="M70 48h0M27 47h0"/><path stroke="#e05a28" d="M23 20h0"/></g></g><text x="482" y="172.7" font-size="8.1" fill="#1a1a1a" stroke="#1a1a1a" stroke-width="0.28" textLength="26.8" lengthAdjust="spacingAndGlyphs">NKG2A</text><g transform="translate(477.7,177.4)"><rect x="0.5" y="0.5" width="34.2" height="31.3" fill="#fff" stroke="#969696" stroke-width="1.2"/><rect x="33.9" y="0.6" width="1.0" height="31.1" fill="url(#cbar)"/><g clip-path="url(#cpP)"><g opacity="0.75"><rect width="35.4" height="32.3" fill="#ead462"/><g filter="url(#bl)"><ellipse cx="9.5" cy="11" rx="6" ry="7.5" fill="#dc5528"/><ellipse cx="11.5" cy="22" rx="3.5" ry="3.5" fill="#4169c1"/><ellipse cx="11" cy="10.5" rx="2.5" ry="2" fill="#c9311e"/><ellipse cx="27" cy="13" rx="1.5" ry="1.5" fill="#26369a"/><ellipse cx="24" cy="16" rx="1.2" ry="1.2" fill="#26369a"/><ellipse cx="19" cy="26" rx="6" ry="2.5" fill="#2b3fa0"/><ellipse cx="27" cy="24" rx="2" ry="1.5" fill="#26369a"/></g></g><use href="#spP"/></g><g transform="scale(0.3333)" stroke-width="3.6" stroke-linecap="round" fill="none"><path stroke="#3b64bf" d="M29 62h0M34 56h0M39 73h0M34 72h0M38 68h0M40 72h0M72 79h0M66 74h0M42 72h0M33 63h0M56 81h0M33 69h0M29 67h0M67 82h0M39 56h0M44 64h0M42 67h0M30 65h0M38 67h0M75 47h0M83 70h0M69 73h0M37 74h0"/><path stroke="#f0dc50" d="M57 40h0M40 56h0M37 11h0M68 27h0M63 67h0M55 60h0M71 24h0M62 71h0M78 61h0M88 35h0M80 63h0M68 43h0M43 76h0M78 56h0M52 25h0M72 27h0M68 45h0M73 44h0M68 25h0M90 47h0M63 62h0M76 57h0M57 41h0M41 17h0M77 54h0M79 47h0M64 35h0M28 54h0M52 27h0M44 19h0M56 71h0M62 35h0M85 43h0M48 51h0M62 45h0M68 30h0M59 61h0M62 36h0M64 70h0M44 45h0M71 19h0M50 29h0M65 48h0M50 17h0M82 28h0M59 55h0M86 51h0M88 59h0M59 50h0M64 63h0M81 56h0M56 64h0M50 24h0M81 51h0M60 45h0M67 22h0M64 66h0M82 25h0M81 34h0M51 22h0M73 72h0M72 26h0M45 23h0M36 76h0M61 42h0M42 55h0M39 49h0M55 19h0M82 33h0M46 52h0M57 60h0M57 51h0M67 32h0M58 44h0M82 48h0M44 48h0M59 46h0M66 29h0M70 26h0M71 24h0M85 47h0M86 34h0M78 47h0M58 21h0M65 59h0M39 51h0M60 44h0M79 34h0M38 53h0M66 44h0M70 26h0M49 23h0M51 19h0M49 31h0M55 20h0M62 44h0M64 51h0M77 17h0M56 33h0M60 61h0M63 32h0M86 31h0M77 59h0M77 59h0M66 30h0M88 28h0M46 15h0M78 29h0M55 17h0M79 56h0M81 23h0M66 50h0M89 52h0M42 46h0M62 68h0M59 42h0M46 24h0M51 15h0M80 56h0M61 48h0M43 20h0M63 66h0M62 62h0M71 42h0M47 22h0M89 61h0M61 68h0M62 66h0M77 30h0M74 19h0M59 31h0M60 42h0M62 43h0M52 23h0M85 69h0M59 49h0M39 54h0M64 69h0M56 56h0M81 52h0M47 34h0M54 21h0M88 50h0M58 70h0M61 67h0M65 25h0M75 22h0M83 55h0M90 56h0M64 48h0M50 35h0M90 59h0M70 26h0M40 79h0M55 68h0M19 51h0M69 48h0M42 73h0M56 63h0M55 56h0M61 58h0M75 37h0M62 67h0M58 44h0M89 36h0M76 36h0M53 19h0M58 20h0M76 70h0"/><path stroke="#cc2a1c" d="M36 17h0M17 44h0M42 27h0M40 34h0M24 44h0M44 44h0M41 43h0M42 35h0M17 36h0M45 31h0M42 26h0M37 36h0M37 38h0M44 29h0M17 30h0M50 38h0M40 42h0M20 50h0"/><path stroke="#26369a" d="M65 80h0M55 71h0M61 74h0M57 78h0M66 74h0M60 76h0M68 71h0M65 79h0M77 71h0M64 82h0M58 77h0M39 70h0M72 72h0M74 81h0M39 63h0M60 75h0M85 72h0M78 68h0M64 76h0M40 61h0M80 73h0M58 71h0M80 37h0M50 75h0M75 72h0M53 76h0M47 75h0M65 76h0M61 75h0M49 77h0M67 79h0M48 77h0M47 78h0M47 74h0M77 77h0M53 76h0M45 78h0M49 72h0M45 73h0M45 75h0M85 69h0M72 50h0M37 68h0M78 40h0M61 83h0M49 74h0M69 48h0M69 80h0M50 75h0M66 81h0M71 75h0M80 69h0M51 77h0M43 62h0M68 73h0M48 73h0M78 69h0M35 72h0M67 81h0M71 52h0M50 78h0M81 37h0M82 41h0M83 70h0M37 68h0"/><path stroke="#f4b840" d="M67 57h0M64 39h0M47 67h0M91 44h0M52 61h0M88 32h0M66 62h0M70 37h0M82 43h0M49 37h0M58 52h0M48 30h0M87 53h0M51 46h0M41 59h0M64 35h0M71 73h0M71 72h0M46 52h0M54 26h0M71 33h0M52 33h0M52 52h0M58 28h0M88 43h0M58 37h0M77 78h0M66 14h0M86 56h0M90 52h0M68 59h0M48 53h0M82 28h0M50 44h0M85 55h0M48 44h0M72 51h0M56 47h0M67 38h0M79 44h0M58 51h0M34 50h0M59 40h0M83 53h0M71 60h0M68 46h0M63 22h0M72 56h0M61 38h0M35 48h0M74 59h0M91 33h0M43 30h0M66 53h0M46 58h0M85 45h0M69 66h0M21 60h0M65 36h0M76 57h0M67 70h0M75 57h0M48 36h0M76 43h0M58 36h0M74 30h0M53 35h0M56 29h0M74 41h0M71 60h0M70 28h0M79 27h0M52 60h0M50 25h0M73 53h0M82 61h0M90 61h0M77 45h0M64 17h0M63 21h0M67 37h0M21 56h0M43 65h0M53 68h0M57 30h0M61 23h0M53 43h0M75 58h0M59 12h0M87 45h0M80 31h0M64 19h0M47 32h0M77 65h0M64 69h0M86 61h0M69 21h0"/><path stroke="#74a4dc" d="M35 69h0M39 65h0M29 58h0M75 66h0M43 62h0M35 71h0"/><path stroke="#ec8a38" d="M49 50h0M85 46h0M82 60h0M52 29h0M55 12h0M74 61h0M47 49h0M34 42h0M37 39h0M24 57h0M41 29h0M31 50h0M76 75h0M42 35h0M61 23h0M42 27h0"/><path stroke="#4a78cf" d="M38 69h0M43 64h0M34 72h0M41 67h0M43 62h0M36 73h0M37 70h0M45 67h0M36 72h0M40 65h0"/><path stroke="#e05a28" d="M34 43h0M41 48h0M19 25h0M44 46h0M15 46h0M42 41h0M38 49h0M44 48h0M16 49h0M43 48h0M17 28h0M43 42h0M20 43h0M44 21h0M35 41h0M16 51h0M25 26h0M39 18h0M33 40h0M26 27h0M17 50h0M17 33h0M38 43h0M21 48h0M41 48h0M20 39h0M42 18h0M38 44h0M46 24h0M23 49h0M20 44h0"/><path stroke="#eaeca6" d="M77 32h0M24 59h0M89 42h0M61 65h0M71 70h0M73 60h0M56 38h0M69 69h0M66 33h0M85 50h0M68 70h0M69 39h0M87 54h0M77 42h0M79 55h0M49 12h0M50 20h0M19 54h0M74 28h0M20 51h0M56 65h0M63 22h0M79 58h0M71 62h0M68 22h0M59 67h0M50 39h0M44 39h0M73 63h0M60 24h0M69 54h0M62 27h0M65 51h0M71 53h0M54 62h0M49 38h0M78 65h0M58 21h0M48 61h0M64 25h0M55 60h0M72 43h0M82 34h0M73 43h0M79 44h0M75 42h0M87 40h0M67 65h0"/><path stroke="#b0201a" d="M24 46h0M39 25h0M33 50h0M44 31h0M43 35h0"/><path stroke="#a6d0de" d="M43 59h0M72 64h0M78 64h0M49 56h0M85 39h0M80 64h0M77 41h0M63 26h0M66 20h0M74 61h0M47 40h0M69 68h0"/></g></g><g transform="translate(477.7,212.1)"><rect x="0.5" y="0.5" width="34.2" height="31.3" fill="#fff" stroke="#969696" stroke-width="1.2"/><rect x="33.9" y="0.6" width="1.0" height="31.1" fill="url(#cbar)"/><g clip-path="url(#cpM)"><g opacity="0.75"><rect width="35.4" height="32.3" fill="#ead462"/><g filter="url(#bl)"><ellipse cx="9" cy="8.5" rx="5.5" ry="5" fill="#c9311e"/><ellipse cx="17.5" cy="5" rx="5" ry="2.5" fill="#eb8a36"/><ellipse cx="16" cy="15.5" rx="5" ry="4.5" fill="#ead462"/><ellipse cx="7.5" cy="16" rx="3.5" ry="4.5" fill="#f1b743"/><ellipse cx="17" cy="22.5" rx="8" ry="3.5" fill="#d5c478"/><ellipse cx="27.5" cy="17.5" rx="3" ry="7" fill="#eaeca6"/><ellipse cx="8" cy="8" rx="4" ry="4" fill="#c9311e"/></g></g><use href="#spM"/></g><g transform="scale(0.3333)" stroke-width="3.6" stroke-linecap="round" fill="none"><path stroke="#f0dc50" d="M63 32h0M64 48h0M54 73h0M30 68h0M88 42h0M68 50h0M47 56h0M41 70h0M59 44h0M33 56h0M46 34h0M68 61h0M47 57h0M61 29h0M24 39h0M19 52h0M42 31h0M39 48h0M60 27h0M52 52h0M65 69h0M36 72h0M61 30h0M26 39h0M64 25h0M45 58h0M41 73h0M34 61h0M33 69h0M65 71h0M55 50h0M72 60h0M36 66h0M55 30h0M36 65h0M69 24h0M35 67h0M54 47h0M65 56h0M31 65h0M60 51h0M39 32h0M70 54h0M49 79h0M26 54h0M35 64h0M47 47h0M39 64h0M66 58h0M16 51h0M41 46h0M53 50h0M59 53h0M34 57h0M73 53h0M70 16h0M66 52h0M33 69h0M45 48h0M33 54h0M60 48h0M60 71h0M63 58h0M21 54h0M51 42h0M42 43h0M38 50h0M59 27h0M60 51h0M42 50h0M12 38h0M66 47h0M44 57h0M74 21h0M55 27h0M53 31h0M82 44h0M46 60h0M32 50h0M53 74h0M44 77h0M20 54h0M61 27h0M39 64h0M56 35h0M42 42h0M59 45h0M72 75h0M49 51h0M49 39h0M68 29h0M35 56h0M17 41h0M77 31h0M49 78h0M55 53h0M64 49h0M57 48h0M36 55h0M50 56h0M46 45h0M42 50h0M43 38h0M45 46h0M57 33h0M64 45h0M62 59h0M33 53h0M83 46h0M50 45h0M58 50h0M57 41h0M36 11h0M40 47h0M60 35h0M69 31h0M65 28h0M71 51h0M25 48h0M65 58h0M40 47h0M78 70h0M58 34h0M50 71h0M60 61h0M43 44h0M29 43h0M71 58h0M59 32h0M36 66h0M69 33h0M82 34h0M70 49h0M46 57h0M60 50h0M67 58h0M47 54h0M47 76h0M59 28h0M66 58h0M33 57h0M33 36h0M53 56h0M64 31h0M40 34h0M37 39h0M38 40h0M51 71h0M37 56h0M50 74h0M56 36h0M58 43h0M76 27h0M68 50h0M56 57h0M53 33h0M35 66h0M43 46h0M21 51h0M21 50h0M66 72h0M71 18h0M67 20h0M60 51h0M53 51h0M69 24h0M41 47h0M73 45h0M47 55h0M27 49h0M46 33h0M68 34h0M60 31h0M41 40h0M36 37h0M32 46h0M35 68h0M36 63h0M28 58h0M66 56h0M56 53h0M63 72h0M67 46h0M35 65h0M20 47h0M62 43h0M25 60h0M69 16h0M54 32h0M48 56h0M17 41h0M66 56h0M32 42h0M26 55h0M31 72h0M52 56h0"/><path stroke="#eaeca6" d="M72 21h0M52 72h0M50 24h0M79 61h0M57 72h0M87 36h0M42 79h0M75 31h0M85 53h0M84 69h0M85 64h0M85 37h0M42 42h0M33 70h0M89 49h0M81 42h0M73 72h0M62 68h0M31 41h0M53 76h0M81 31h0M32 63h0M53 57h0M79 67h0M15 41h0M43 62h0M38 36h0M79 46h0M78 61h0M75 29h0M84 59h0M54 39h0M52 76h0M71 76h0M58 35h0M73 49h0M77 62h0M75 62h0M22 54h0M64 62h0M44 37h0M67 72h0M33 67h0M76 35h0M83 65h0M83 45h0M80 49h0M40 61h0M64 68h0M51 70h0M46 62h0M80 74h0M85 65h0M52 40h0M43 39h0M43 65h0M44 36h0M70 70h0M78 56h0M36 59h0M89 41h0M67 26h0M81 69h0M76 66h0M29 59h0M82 61h0M62 69h0M76 64h0M70 59h0M33 62h0M77 23h0M44 63h0M30 59h0M56 76h0M87 35h0"/><path stroke="#f4b840" d="M44 12h0M64 23h0M52 24h0M40 41h0M69 62h0M56 10h0M17 44h0M17 42h0M66 60h0M66 59h0M78 40h0M60 56h0M60 54h0M42 36h0M23 43h0M22 37h0M67 16h0M91 41h0M44 13h0M47 55h0M16 44h0M62 57h0M46 23h0M24 53h0M74 22h0M51 13h0M33 59h0M24 41h0M24 41h0M18 40h0M75 32h0M23 47h0M21 44h0M17 44h0M23 44h0M60 33h0M40 43h0M83 29h0M58 30h0M29 44h0M63 39h0M50 60h0M21 42h0M26 41h0M31 45h0M46 11h0M66 26h0M58 29h0M34 48h0M75 23h0M22 47h0M58 28h0M39 47h0M55 37h0M60 37h0M32 45h0M60 31h0M55 39h0M39 62h0M72 25h0M33 71h0M32 73h0M54 38h0M67 20h0M31 60h0M80 37h0M47 48h0M27 57h0M64 71h0M49 12h0M24 41h0M45 53h0M53 40h0M73 30h0M70 54h0M26 43h0M37 10h0M73 16h0M70 21h0M51 33h0M66 46h0M31 54h0M45 57h0M49 50h0"/><path stroke="#cc2a1c" d="M34 32h0M30 27h0M32 21h0M18 32h0M41 19h0M30 24h0M22 22h0M40 33h0M39 29h0M27 23h0M23 27h0M28 26h0M23 34h0M34 32h0M34 33h0M35 16h0M36 20h0M18 29h0M17 23h0M27 40h0M40 30h0M31 29h0M31 34h0M17 28h0M26 25h0M44 11h0M37 31h0M35 18h0M28 33h0M30 22h0M21 32h0M17 35h0M35 34h0M20 24h0M32 25h0M26 20h0M16 32h0M34 12h0M31 32h0M19 30h0M35 29h0M27 34h0M29 23h0"/><path stroke="#ec8a38" d="M57 15h0M43 17h0M59 16h0M44 20h0M23 59h0M56 16h0M48 17h0M45 65h0M42 16h0M61 17h0M30 40h0M58 15h0M18 45h0M54 60h0M31 50h0M53 63h0M42 20h0M61 21h0M57 18h0M52 67h0M53 18h0M57 17h0M17 41h0M56 18h0M54 64h0M26 51h0M51 16h0M57 17h0M47 15h0M49 15h0M32 63h0M92 42h0M56 19h0M50 67h0M57 15h0M43 16h0M75 25h0M54 66h0M58 63h0M66 21h0M29 50h0"/><path stroke="#74a4dc" d="M44 66h0M44 68h0M45 65h0M50 62h0M61 65h0M50 61h0M73 65h0M58 68h0M72 65h0M50 59h0M68 67h0M68 64h0M70 67h0M53 61h0"/><path stroke="#e05a28" d="M50 19h0M56 18h0M67 20h0M53 24h0M13 32h0M50 18h0M50 15h0M50 20h0M55 10h0M52 14h0M55 12h0M67 18h0M51 16h0M61 17h0M46 67h0M60 16h0M52 20h0M48 14h0M49 12h0"/><path stroke="#a6d0de" d="M72 57h0M66 74h0M75 27h0M48 61h0M33 57h0M37 61h0M68 61h0M78 27h0M43 60h0M81 68h0M84 41h0"/><path stroke="#b0201a" d="M28 28h0M26 28h0M33 28h0M31 19h0M32 25h0M25 26h0M36 24h0M29 27h0M29 38h0M29 32h0M35 23h0M28 34h0M28 28h0M25 33h0M31 16h0"/><path stroke="#4a78cf" d="M48 62h0M71 58h0"/></g></g><text x="23" y="196.3" font-size="7.7" fill="#1a1a1a" stroke="#1a1a1a" stroke-width="0.28" textLength="17.9" lengthAdjust="spacingAndGlyphs">KIR+</text><text x="24" y="230.9" font-size="7.7" fill="#1a1a1a" stroke="#1a1a1a" stroke-width="0.28" textLength="16.4" lengthAdjust="spacingAndGlyphs">KIR -</text><text x="52" y="300" font-size="8.1" fill="#1a1a1a" stroke="#1a1a1a" stroke-width="0.28" textLength="18.8" lengthAdjust="spacingAndGlyphs">LFA-1</text><g transform="translate(44.2,305.3)"><rect x="0.5" y="0.5" width="34.2" height="31.3" fill="#fff" stroke="#969696" stroke-width="1.2"/><rect x="33.9" y="0.6" width="1.0" height="31.1" fill="url(#cbar)"/><g clip-path="url(#cpP)"><g opacity="0.75"><rect width="35.4" height="32.3" fill="#3957b1"/><g filter="url(#bl)"><ellipse cx="9.5" cy="11" rx="6" ry="7.5" fill="#71a0d8"/><ellipse cx="19" cy="19" rx="6" ry="1.6" fill="#f1b743" transform="rotate(-25 19 19)"/><ellipse cx="22" cy="24" rx="5" ry="1.5" fill="#eb8a36" transform="rotate(-20 22 24)"/><ellipse cx="25" cy="8" rx="3.5" ry="1.3" fill="#ead462" transform="rotate(30 25 8)"/><ellipse cx="26" cy="13" rx="2" ry="1.2" fill="#eb8a36"/></g></g><use href="#spP"/></g><g transform="scale(0.3333)" stroke-width="3.6" stroke-linecap="round" fill="none"><path stroke="#26369a" d="M49 11h0M60 70h0M74 60h0M39 76h0M55 40h0M60 40h0M49 26h0M27 64h0M47 16h0M59 46h0M77 44h0M49 45h0M46 22h0M43 53h0M75 68h0M44 45h0M59 49h0M90 52h0M61 14h0M33 72h0M43 41h0M49 10h0M59 80h0M50 40h0M77 49h0M88 49h0M59 29h0M44 75h0M82 59h0M74 79h0M87 30h0M52 54h0M83 46h0M83 33h0M72 79h0M63 62h0M52 13h0M90 37h0M76 57h0M74 16h0M60 78h0M71 80h0M76 76h0M50 54h0M88 36h0M55 71h0M56 50h0M61 60h0M53 16h0M87 36h0M72 53h0M70 64h0M39 47h0M82 57h0M78 55h0M42 76h0M62 47h0M45 10h0M71 53h0M83 57h0M38 70h0M76 52h0M48 25h0M42 57h0M83 69h0M86 61h0M46 19h0M33 57h0M39 11h0M76 77h0M45 80h0M53 39h0M66 62h0M46 45h0M48 50h0M81 60h0M47 40h0M61 27h0M56 75h0M28 55h0M73 74h0M51 42h0M40 59h0M46 47h0M73 63h0M53 34h0M60 19h0M74 62h0M49 80h0M74 57h0M37 63h0M70 63h0M43 72h0M88 60h0M57 43h0M59 38h0M67 28h0M78 64h0M79 61h0M76 58h0M62 17h0M40 65h0M73 53h0M52 41h0M58 46h0M57 71h0M87 36h0M68 44h0M77 50h0M65 60h0M72 79h0M68 63h0M66 34h0M60 33h0M66 14h0M88 31h0M49 49h0M53 41h0M87 43h0M86 35h0M57 26h0M61 27h0M77 35h0M54 44h0M36 70h0M49 47h0M70 46h0M83 45h0M78 64h0M87 58h0M83 36h0M85 60h0M67 79h0M86 37h0M54 43h0M65 35h0M50 49h0M48 13h0M40 62h0M82 52h0M40 15h0M44 42h0M70 49h0M53 41h0M38 60h0M55 20h0M38 59h0M57 13h0M84 60h0M66 78h0M35 65h0M81 74h0M67 65h0M57 49h0M52 11h0M60 32h0M40 67h0M76 17h0M47 20h0M81 64h0M41 77h0M60 27h0M58 14h0M69 79h0M46 19h0M59 51h0M70 79h0M45 75h0M75 46h0M48 19h0M73 50h0M88 51h0M58 27h0M30 61h0M87 41h0M64 80h0M37 52h0M48 47h0M57 78h0M56 48h0M52 38h0M79 62h0M72 78h0M88 44h0M59 27h0M48 17h0M70 78h0M76 56h0M76 64h0"/><path stroke="#3b64bf" d="M50 72h0M90 60h0M60 67h0M59 25h0M69 61h0M55 26h0M50 21h0M60 23h0M81 30h0M84 25h0M81 34h0M48 38h0M65 24h0M51 73h0M60 44h0M62 25h0M90 33h0M57 32h0M47 37h0M42 67h0M86 47h0M81 32h0M67 33h0M40 55h0M58 20h0M68 62h0M49 74h0M16 49h0M26 60h0M47 57h0M13 38h0M54 19h0M42 81h0M63 37h0M48 34h0M65 78h0M59 67h0M80 55h0M66 17h0M61 41h0M47 29h0M53 53h0M67 32h0M42 55h0M48 69h0M63 21h0M62 23h0M60 25h0M67 59h0M40 65h0M81 32h0M69 64h0M77 47h0M79 34h0M85 71h0M37 16h0M55 29h0M61 62h0M50 23h0M52 16h0M47 34h0M41 73h0M89 65h0M56 47h0M62 81h0M62 66h0M61 31h0M52 52h0M50 67h0M41 62h0M82 30h0M67 34h0M68 59h0M46 75h0M52 17h0M87 50h0M70 37h0M57 32h0M62 20h0M41 55h0M66 80h0M50 22h0M85 29h0M49 49h0M83 52h0M65 83h0M50 29h0M57 26h0M53 24h0M33 42h0M51 68h0M69 62h0M58 44h0M58 21h0M50 31h0M54 29h0M88 60h0M51 35h0M45 55h0M58 43h0M56 65h0M55 30h0M47 77h0M55 65h0M53 22h0M71 29h0M53 22h0M60 45h0M66 36h0M81 46h0M52 25h0M63 24h0M45 72h0M54 30h0M47 38h0M48 39h0M54 14h0M55 64h0M59 32h0M40 57h0M54 15h0M55 25h0M42 22h0M66 13h0M46 78h0M59 22h0M68 65h0M71 57h0M78 31h0M80 53h0M58 25h0M51 23h0M86 52h0M83 46h0M68 16h0M45 17h0M47 25h0M60 45h0M54 67h0M21 57h0M83 31h0M48 31h0M59 29h0M52 23h0M82 45h0M84 49h0M78 62h0M52 24h0M54 47h0M54 17h0M65 85h0M74 44h0M63 69h0M67 62h0M55 34h0M53 66h0M82 55h0M66 59h0M51 71h0"/><path stroke="#4a78cf" d="M73 45h0M26 48h0M41 47h0M22 46h0M53 69h0M48 31h0M52 33h0M17 48h0M58 65h0M35 42h0M24 33h0M37 61h0M48 73h0M41 51h0M52 30h0M26 51h0M43 47h0M73 32h0M38 58h0M44 30h0M53 66h0M87 64h0M44 37h0M78 43h0M48 27h0M47 32h0"/><path stroke="#74a4dc" d="M47 31h0M39 47h0M72 33h0M85 51h0M45 28h0M51 67h0M29 59h0M78 34h0M36 50h0M73 31h0M85 51h0M34 22h0M41 25h0M43 66h0M31 56h0M76 44h0M19 54h0M19 58h0M36 36h0M36 24h0M80 33h0M52 65h0M44 34h0M40 44h0M35 23h0M20 30h0M21 59h0M26 40h0M51 66h0M53 63h0M32 38h0M71 32h0M48 76h0M35 21h0M38 22h0M31 37h0M28 40h0M52 66h0M69 36h0M49 74h0M68 35h0"/><path stroke="#f4b840" d="M74 36h0M55 58h0M64 50h0M80 29h0M60 54h0M57 58h0M72 48h0M54 57h0M63 52h0M81 22h0M65 50h0M79 25h0M65 75h0M57 75h0M70 49h0M77 28h0M56 60h0M54 75h0M79 26h0M68 53h0M66 71h0M65 77h0M81 28h0M81 27h0M78 27h0"/><path stroke="#ec8a38" d="M61 69h0M46 65h0M49 59h0M52 78h0M76 39h0M77 73h0M76 69h0M60 55h0M69 73h0M61 74h0M74 69h0M55 58h0M70 71h0M48 62h0M70 74h0M55 63h0M79 66h0M72 66h0M81 38h0M61 54h0M52 64h0"/><path stroke="#f0dc50" d="M50 57h0M64 59h0M49 56h0M43 65h0M52 57h0M67 55h0M50 57h0M70 19h0M74 21h0M73 23h0M57 63h0M49 56h0M45 60h0M57 58h0M68 22h0M50 60h0M72 26h0M70 23h0M57 51h0M68 55h0M59 52h0"/><path stroke="#cc2a1c" d="M65 69h0"/><path stroke="#e05a28" d="M75 39h0M59 76h0M55 78h0M63 72h0M76 41h0M78 39h0M73 36h0M72 68h0"/><path stroke="#a6d0de" d="M82 53h0M44 37h0M44 44h0M37 21h0M22 51h0M44 32h0M21 38h0M61 21h0M17 40h0"/></g></g><g transform="translate(44.2,340.2)"><rect x="0.5" y="0.5" width="34.2" height="31.3" fill="#fff" stroke="#969696" stroke-width="1.2"/><rect x="33.9" y="0.6" width="1.0" height="31.1" fill="url(#cbar)"/><g clip-path="url(#cpM)"><g opacity="0.75"><rect width="35.4" height="32.3" fill="#2b3fa0"/><g filter="url(#bl)"><ellipse cx="21" cy="18.5" rx="6" ry="1.5" fill="#eb8a36" transform="rotate(-35 21 18.5)"/><ellipse cx="24.5" cy="8" rx="2" ry="1.5" fill="#ead462"/><ellipse cx="23" cy="23" rx="1.5" ry="1" fill="#eb8a36"/><ellipse cx="17" cy="22" rx="2" ry="1" fill="#ead462"/></g></g><use href="#spM"/></g><g transform="scale(0.3333)" stroke-width="3.6" stroke-linecap="round" fill="none"><path stroke="#26369a" d="M66 23h0M71 64h0M37 41h0M50 22h0M38 38h0M35 69h0M28 45h0M24 21h0M54 26h0M43 68h0M29 64h0M35 27h0M91 38h0M38 60h0M42 57h0M41 11h0M40 76h0M20 41h0M48 77h0M24 45h0M52 43h0M72 54h0M59 26h0M78 33h0M51 59h0M85 58h0M21 52h0M58 27h0M55 20h0M34 64h0M40 51h0M29 45h0M39 26h0M58 21h0M82 53h0M29 33h0M14 47h0M77 20h0M59 26h0M33 18h0M19 35h0M34 19h0M77 32h0M55 49h0M66 32h0M71 34h0M80 43h0M41 54h0M62 40h0M33 13h0M26 40h0M65 65h0M70 31h0M35 60h0M26 15h0M43 17h0M40 24h0M33 22h0M27 25h0M35 34h0M19 27h0M76 65h0M53 13h0M44 37h0M55 14h0M60 40h0M46 64h0M44 76h0M33 13h0M64 26h0M25 61h0M38 50h0M43 46h0M39 17h0M53 39h0M62 67h0M30 20h0M82 42h0M24 30h0M39 54h0M17 35h0M31 21h0M25 47h0M86 34h0M23 33h0M38 32h0M38 12h0M60 69h0M34 39h0M26 46h0M39 16h0M39 40h0M26 23h0M40 27h0M30 43h0M25 30h0M32 36h0M40 31h0M44 35h0M37 34h0M21 31h0M63 18h0M79 32h0M32 44h0M59 17h0M77 56h0M62 66h0M80 32h0M87 59h0M57 40h0M54 53h0M58 48h0M81 54h0M70 64h0M50 21h0M45 12h0M39 51h0M36 30h0M47 13h0M59 36h0M74 62h0M40 60h0M49 45h0M33 24h0M15 49h0M48 48h0M16 28h0M51 60h0M50 46h0M21 55h0M21 30h0M31 20h0M60 37h0M45 16h0M55 29h0M45 62h0M72 65h0M30 33h0M52 42h0M29 41h0M25 51h0M47 57h0M76 29h0M69 20h0M29 62h0M77 37h0M31 41h0M50 51h0M64 22h0M41 43h0M74 55h0M15 42h0M34 57h0M63 49h0M44 41h0M23 44h0M47 41h0M39 77h0M50 73h0M40 58h0M28 60h0M29 65h0M54 27h0M38 26h0M37 38h0M55 57h0M30 53h0M82 58h0M43 33h0M69 62h0M42 58h0M36 54h0M59 26h0M44 46h0M37 71h0M61 23h0M82 31h0M56 27h0M22 33h0M46 41h0M61 17h0M57 22h0M57 19h0M36 36h0M14 31h0M42 59h0M38 27h0M44 19h0M49 19h0M36 56h0M67 24h0M34 51h0M16 46h0M52 41h0M54 77h0M46 34h0M11 44h0M29 34h0M62 65h0M23 33h0M46 44h0M75 44h0M28 62h0M22 43h0M40 14h0M46 15h0M40 10h0M67 31h0M24 45h0M55 54h0M86 45h0M69 57h0M50 19h0M44 74h0M36 38h0M53 31h0M31 27h0M91 41h0M77 30h0M24 50h0M37 39h0M54 35h0M52 74h0M44 20h0M39 69h0M17 28h0M46 73h0M29 62h0M36 65h0M62 62h0M66 47h0M27 13h0M48 76h0M72 64h0M43 54h0M17 34h0M33 39h0M22 39h0M43 14h0M34 46h0M41 76h0M59 64h0M43 15h0M26 34h0M24 55h0M52 22h0M18 51h0M31 33h0M39 64h0M55 48h0M44 60h0M36 62h0M28 61h0M52 46h0M60 43h0M31 60h0M35 24h0M38 13h0M24 33h0M46 57h0M18 44h0M55 45h0M18 39h0M50 41h0M24 34h0M61 35h0M20 54h0M53 74h0M29 65h0M29 23h0M86 34h0M65 18h0M31 23h0M38 30h0M17 44h0M32 35h0M54 72h0M29 59h0M54 22h0M46 62h0M45 14h0M52 42h0M80 45h0M70 20h0M51 29h0M58 67h0M26 41h0M43 57h0M36 32h0M37 60h0M24 24h0M43 39h0M61 43h0M50 72h0M23 35h0M37 59h0M48 35h0M46 46h0M66 31h0M35 64h0M27 57h0M21 21h0M19 26h0M36 71h0M21 27h0M65 26h0M53 58h0M45 15h0M40 10h0M77 62h0M28 16h0M20 45h0M52 27h0M51 40h0M62 41h0M82 35h0M16 41h0M40 27h0M37 50h0M44 15h0M45 76h0M89 37h0M46 71h0M80 62h0M68 34h0M38 32h0M40 14h0M48 38h0M17 47h0M16 40h0M57 32h0M78 72h0M41 38h0M59 11h0M30 43h0M28 49h0M52 14h0M67 15h0M53 42h0M23 35h0M23 21h0M48 31h0M48 47h0M40 40h0M58 30h0M35 31h0M73 58h0M25 31h0M19 41h0M31 68h0M28 29h0M58 63h0M44 75h0M52 49h0M50 38h0M47 42h0M23 26h0M17 41h0M28 32h0M20 31h0M27 40h0M45 75h0M27 39h0M56 62h0M34 70h0M80 41h0M63 35h0M64 61h0M54 20h0M71 72h0M59 13h0M37 42h0M58 17h0M55 57h0M29 30h0M46 70h0M39 71h0M15 40h0M65 27h0M25 29h0M54 17h0M27 31h0M18 31h0M35 67h0M35 40h0M35 55h0"/><path stroke="#3b64bf" d="M62 72h0M67 48h0M29 23h0M21 34h0M42 52h0M77 21h0M27 28h0M43 59h0M23 29h0M49 71h0M56 16h0M60 19h0M32 16h0M48 60h0M55 51h0M31 62h0M35 33h0M67 74h0M74 31h0M18 28h0M21 26h0M65 27h0M48 55h0M36 15h0M49 60h0M38 54h0M16 26h0M27 62h0M44 21h0M19 45h0M13 29h0M49 62h0M40 76h0M55 15h0M56 52h0M20 46h0M29 63h0M19 36h0M47 57h0M19 24h0M40 38h0M35 67h0M32 16h0M18 36h0M71 65h0M20 55h0M63 71h0M32 64h0M56 39h0M31 36h0"/><path stroke="#f4b840" d="M78 26h0M51 66h0M70 25h0M73 21h0M56 56h0M49 65h0M71 27h0M72 26h0M73 21h0"/><path stroke="#ec8a38" d="M63 51h0M60 55h0M68 53h0M69 69h0M67 72h0M73 51h0M75 28h0M64 52h0M59 59h0M55 60h0M65 54h0M72 71h0M60 61h0M66 55h0M69 67h0M67 50h0M62 57h0M55 60h0M76 44h0M60 57h0M61 60h0M56 62h0"/><path stroke="#a6d0de" d="M74 21h0M74 18h0"/><path stroke="#e05a28" d="M58 57h0M68 54h0M62 53h0M71 51h0M51 61h0M56 62h0M55 62h0M71 53h0M74 70h0M66 69h0M68 53h0M53 60h0M64 52h0"/><path stroke="#4a78cf" d="M60 12h0M20 26h0"/><path stroke="#cc2a1c" d="M65 49h0M62 52h0"/><path stroke="#f0dc50" d="M47 68h0M49 67h0M73 29h0M74 26h0M54 66h0M65 56h0M49 67h0"/><path stroke="#eaeca6" d="M70 28h0M70 25h0M68 24h0M53 64h0M69 24h0M53 66h0M69 26h0"/></g></g><text x="98.7" y="300" font-size="8.1" fill="#1a1a1a" stroke="#1a1a1a" stroke-width="0.28" textLength="20.1" lengthAdjust="spacingAndGlyphs">TRAIL</text><g transform="translate(91,305.3)"><rect x="0.5" y="0.5" width="34.2" height="31.3" fill="#fff" stroke="#969696" stroke-width="1.2"/><rect x="33.9" y="0.6" width="1.0" height="31.1" fill="url(#cbar)"/><g clip-path="url(#cpP)"><g opacity="0.75"><rect width="35.4" height="32.3" fill="#2b3fa0"/><g filter="url(#bl)"><ellipse cx="9.5" cy="11" rx="6" ry="7.5" fill="#71a0d8"/></g></g><use href="#spP"/></g><g transform="scale(0.3333)" stroke-width="3.6" stroke-linecap="round" fill="none"><path stroke="#26369a" d="M89 62h0M67 31h0M58 20h0M58 65h0M59 17h0M41 54h0M87 46h0M53 41h0M91 43h0M45 56h0M54 17h0M72 81h0M83 50h0M79 47h0M87 34h0M45 15h0M72 36h0M81 76h0M57 39h0M78 20h0M40 72h0M44 62h0M63 77h0M56 63h0M74 74h0M41 67h0M78 38h0M90 52h0M73 72h0M45 73h0M75 67h0M53 44h0M86 44h0M63 74h0M68 57h0M79 42h0M52 32h0M57 65h0M87 48h0M70 46h0M44 57h0M80 66h0M69 60h0M55 14h0M47 46h0M84 40h0M82 47h0M88 47h0M53 42h0M68 55h0M82 45h0M67 80h0M77 27h0M42 52h0M61 69h0M72 26h0M73 75h0M47 22h0M42 74h0M47 22h0M60 47h0M54 45h0M69 58h0M61 42h0M59 69h0M63 59h0M65 83h0M51 13h0M68 29h0M48 82h0M54 44h0M41 55h0M88 34h0M57 43h0M71 28h0M77 51h0M85 68h0M50 29h0M45 77h0M69 45h0M56 65h0M81 53h0M72 33h0M44 68h0M39 67h0M64 81h0M57 13h0M55 52h0M63 62h0M52 20h0M54 15h0M80 22h0M58 43h0M32 62h0M51 14h0M83 72h0M65 19h0M80 33h0M43 46h0M53 46h0M38 72h0M55 43h0M66 50h0M55 54h0M43 63h0M58 49h0M84 50h0M65 59h0M54 39h0M60 80h0M86 46h0M39 61h0M74 70h0M59 31h0M59 40h0M55 41h0M82 29h0M73 23h0M82 40h0M45 79h0M52 35h0M67 63h0M36 56h0M81 61h0M38 55h0M72 56h0M51 68h0M56 13h0M54 73h0M55 48h0M52 68h0M70 61h0M66 55h0M87 68h0M71 63h0M70 79h0M28 59h0M87 62h0M68 39h0M60 50h0M50 67h0M79 35h0M80 68h0M78 26h0M49 25h0M56 16h0M36 71h0M49 46h0M83 37h0M87 67h0M56 14h0M54 46h0M73 60h0M47 15h0M74 21h0M68 50h0M60 62h0M77 44h0M50 24h0M78 39h0M52 17h0M65 65h0M83 55h0M46 38h0M58 31h0M76 31h0M55 44h0M56 55h0M55 72h0M39 69h0M63 38h0M43 26h0M91 34h0M54 46h0M77 52h0M46 67h0M67 79h0M56 45h0M55 41h0M56 26h0M61 16h0M39 73h0M84 51h0M65 26h0M40 50h0M49 52h0M68 76h0M79 48h0M72 42h0M18 51h0M79 32h0M51 58h0M82 30h0M82 56h0M74 30h0M54 72h0M45 21h0M81 48h0M70 19h0M74 53h0M58 16h0M73 16h0M57 15h0M47 58h0M51 34h0M53 31h0M62 16h0M41 21h0M38 74h0M69 15h0M54 81h0M50 26h0M60 52h0M48 71h0M78 25h0M58 54h0M65 18h0M68 46h0M72 37h0M41 76h0M73 26h0M52 74h0M87 62h0M42 74h0M47 52h0M53 74h0M69 40h0M41 17h0M44 54h0M48 80h0M87 29h0M55 79h0M79 56h0M73 40h0M40 69h0M46 59h0M61 55h0M91 35h0M88 39h0M77 19h0M60 44h0M64 49h0M59 30h0M49 50h0M67 51h0M59 14h0M53 20h0M75 63h0M90 37h0M65 57h0M46 75h0M72 61h0M81 26h0M69 79h0M53 39h0M80 26h0M82 60h0M24 64h0M44 35h0M77 42h0M78 70h0M72 37h0M52 47h0M37 56h0M50 70h0M71 62h0M60 37h0M83 44h0M69 19h0M68 46h0M73 31h0M59 39h0M53 26h0M49 58h0M46 39h0M58 46h0M57 71h0M71 22h0M60 38h0M62 72h0M67 23h0M83 40h0M50 64h0M64 18h0M69 72h0M82 65h0M49 16h0M63 39h0M65 62h0M74 20h0M72 70h0M67 52h0M46 56h0M83 72h0M79 58h0M56 54h0M54 79h0M69 63h0M76 37h0M71 68h0M42 46h0M73 49h0M38 52h0M68 14h0M52 29h0M35 67h0M30 67h0M48 70h0M49 21h0M88 38h0M72 62h0M62 74h0M41 58h0M51 50h0M20 49h0M58 36h0M62 65h0M90 58h0M84 41h0M59 26h0M67 15h0M62 72h0M45 55h0M87 66h0M44 69h0M77 64h0M85 47h0M51 79h0M46 60h0M61 33h0M57 36h0M52 46h0M44 41h0M48 79h0M44 79h0M43 67h0M59 15h0M76 30h0M64 36h0M80 41h0M48 55h0M46 76h0M58 80h0M78 65h0M67 27h0M78 67h0M40 63h0M71 63h0M63 36h0M50 35h0M71 26h0M43 33h0M61 72h0M49 40h0M61 36h0M43 11h0M70 15h0M80 55h0M79 41h0M66 20h0M73 42h0M49 71h0M47 77h0M53 78h0M55 13h0M88 46h0M59 72h0M78 32h0M76 37h0M50 45h0M74 64h0M81 34h0M83 53h0M73 64h0M67 23h0M79 40h0M64 74h0M86 63h0M58 63h0M76 66h0M52 39h0M47 16h0M63 36h0M57 83h0M64 26h0"/><path stroke="#a6d0de" d="M43 42h0M33 23h0M38 50h0M37 45h0M25 24h0M35 23h0M41 45h0M17 25h0M40 45h0M38 47h0M42 36h0M43 28h0"/><path stroke="#74a4dc" d="M44 27h0M41 11h0M38 48h0M26 44h0M46 27h0M43 35h0M33 18h0M45 33h0M36 38h0M24 54h0M38 33h0M27 43h0M45 19h0M42 31h0M43 39h0M13 30h0M19 48h0M42 31h0M41 38h0M39 23h0M38 49h0M41 35h0M32 51h0"/><path stroke="#4a78cf" d="M41 16h0M39 56h0M55 25h0M63 30h0M33 47h0M44 30h0M33 46h0M41 44h0M20 30h0M34 50h0M26 24h0M37 28h0M37 41h0M39 42h0M26 60h0M36 59h0M23 43h0M39 48h0M33 44h0M42 18h0"/><path stroke="#eaeca6" d="M21 24h0M34 46h0M38 46h0"/><path stroke="#3b64bf" d="M56 29h0M57 70h0M81 69h0M61 27h0M68 73h0M92 54h0M82 26h0M52 56h0M39 70h0M49 22h0M51 18h0M70 69h0M53 31h0M79 57h0M49 77h0M78 70h0M71 57h0M57 31h0M61 39h0M79 65h0M75 53h0M85 40h0M52 27h0M69 67h0M69 67h0M25 52h0M44 80h0M68 50h0M53 36h0M57 39h0M56 68h0M86 46h0M66 21h0M53 37h0M90 62h0M69 56h0M50 72h0M51 19h0M78 66h0M63 45h0M71 34h0M76 51h0M47 83h0M70 36h0M66 22h0M82 39h0M54 23h0M64 43h0M85 58h0M55 23h0M51 78h0M91 56h0M47 34h0M89 55h0M56 46h0M58 28h0M55 39h0"/></g></g><g transform="translate(91,340.2)"><rect x="0.5" y="0.5" width="34.2" height="31.3" fill="#fff" stroke="#969696" stroke-width="1.2"/><rect x="33.9" y="0.6" width="1.0" height="31.1" fill="url(#cbar)"/><g clip-path="url(#cpM)"><g opacity="0.75"><rect width="35.4" height="32.3" fill="#2b3fa0"/><g filter="url(#bl)"><ellipse cx="9" cy="8.5" rx="5.5" ry="5" fill="#c0bd92"/></g></g><use href="#spM"/></g><g transform="scale(0.3333)" stroke-width="3.6" stroke-linecap="round" fill="none"><path stroke="#26369a" d="M53 64h0M21 42h0M45 67h0M57 73h0M11 38h0M59 13h0M52 51h0M60 37h0M55 62h0M47 17h0M52 47h0M27 63h0M36 53h0M27 60h0M79 35h0M69 59h0M53 31h0M53 76h0M45 70h0M54 13h0M61 45h0M74 32h0M70 50h0M47 76h0M57 18h0M20 39h0M44 50h0M22 43h0M54 73h0M92 38h0M82 29h0M44 55h0M73 48h0M51 67h0M16 45h0M81 55h0M59 20h0M25 40h0M62 66h0M62 21h0M59 38h0M51 34h0M47 46h0M59 49h0M43 49h0M77 33h0M35 47h0M53 52h0M74 26h0M79 27h0M63 72h0M31 66h0M54 37h0M92 37h0M30 50h0M46 59h0M32 60h0M38 11h0M41 43h0M43 42h0M69 23h0M46 56h0M65 37h0M62 22h0M54 58h0M35 70h0M73 16h0M56 12h0M81 35h0M57 24h0M69 25h0M69 18h0M46 66h0M51 47h0M79 59h0M24 48h0M64 65h0M76 39h0M50 37h0M35 58h0M69 19h0M40 51h0M21 44h0M50 51h0M36 42h0M70 27h0M34 62h0M24 48h0M68 29h0M35 77h0M12 38h0M36 14h0M26 43h0M55 18h0M31 43h0M42 35h0M57 29h0M78 23h0M53 72h0M57 27h0M58 18h0M38 60h0M29 60h0M44 40h0M52 69h0M74 76h0M46 46h0M47 62h0M73 67h0M23 55h0M17 53h0M81 45h0M41 49h0M25 50h0M59 70h0M36 48h0M40 62h0M52 12h0M68 29h0M49 44h0M53 66h0M68 21h0M65 20h0M47 57h0M30 53h0M59 57h0M50 43h0M38 55h0M62 72h0M41 33h0M56 28h0M59 30h0M66 29h0M36 63h0M61 58h0M52 77h0M42 17h0M47 42h0M50 48h0M43 49h0M24 54h0M56 49h0M62 72h0M73 25h0M26 51h0M90 45h0M58 62h0M69 33h0M41 59h0M62 19h0M43 10h0M61 16h0M23 43h0M39 50h0M49 37h0M40 51h0M45 15h0M57 51h0M55 18h0M84 44h0M46 65h0M62 32h0M14 38h0M64 38h0M47 52h0M17 44h0M36 12h0M55 20h0M50 48h0M40 67h0M42 46h0M58 20h0M63 22h0M61 20h0M80 48h0M86 59h0M42 35h0M91 38h0M58 31h0M60 11h0M90 36h0M53 71h0M47 53h0M30 63h0M31 46h0M21 42h0M61 15h0M52 54h0M56 38h0M43 11h0M19 51h0M61 73h0M28 52h0M16 37h0M41 65h0M57 27h0M80 26h0M33 64h0M50 17h0M86 57h0M76 54h0M50 44h0M53 27h0M72 23h0M29 55h0M78 46h0M31 56h0M90 33h0M32 52h0M39 39h0M51 51h0M51 52h0M45 74h0M38 56h0M58 55h0M62 66h0M25 50h0M60 44h0M62 43h0M88 36h0M56 24h0M75 47h0M28 49h0M51 78h0M69 50h0M44 58h0M50 56h0M60 22h0M36 67h0M51 31h0M31 48h0M39 44h0M15 36h0M57 23h0M15 39h0M62 25h0M56 19h0M67 27h0M74 53h0M49 70h0M34 55h0M36 51h0M46 67h0M63 22h0M58 48h0M58 54h0M91 37h0M56 16h0M55 50h0M68 30h0M42 45h0M70 62h0M64 56h0M35 49h0M69 30h0M50 59h0M33 62h0M73 68h0M59 65h0M51 17h0M44 71h0M52 75h0M44 59h0M67 26h0M48 12h0M21 36h0M45 35h0M38 53h0M67 63h0M49 60h0M34 62h0M54 36h0M26 45h0M78 56h0M37 74h0M61 66h0M33 51h0M67 48h0M32 43h0M58 66h0M60 73h0M53 18h0M41 16h0M43 68h0M35 45h0M53 70h0M69 22h0M21 46h0M49 78h0M35 36h0M64 56h0M30 51h0M61 60h0M51 43h0M75 17h0M35 55h0M71 29h0M91 35h0M80 41h0M46 37h0M58 30h0M33 63h0M70 55h0M62 56h0M68 52h0M72 65h0M64 51h0M56 63h0M70 53h0M65 35h0M39 24h0M54 47h0M50 75h0M45 67h0M17 41h0M48 48h0M33 44h0M33 49h0M68 53h0M57 72h0M62 65h0M38 36h0M65 35h0M39 74h0M45 72h0M31 53h0M36 51h0M24 51h0M42 71h0M68 57h0M20 45h0M39 64h0M61 25h0M52 34h0M38 57h0M61 63h0M32 43h0M59 53h0M49 16h0M47 49h0M52 43h0M43 70h0M50 54h0M54 20h0M64 20h0M59 16h0M47 68h0M60 40h0M60 61h0M66 47h0M59 35h0M69 52h0M47 37h0M41 61h0M54 65h0M22 51h0M54 24h0M40 58h0M47 55h0M60 44h0M67 18h0M58 54h0M25 53h0M32 16h0M37 43h0M42 35h0M75 57h0M36 66h0M55 40h0M63 38h0M25 52h0M51 11h0M33 44h0M66 26h0M45 60h0M38 47h0M49 75h0M56 62h0M50 48h0M43 47h0"/><path stroke="#f0dc50" d="M37 31h0M32 29h0M38 13h0M19 37h0M22 31h0M32 29h0M15 32h0M40 37h0M29 31h0M21 30h0M21 31h0M24 30h0M14 30h0M19 36h0M36 34h0"/><path stroke="#a6d0de" d="M35 37h0M33 24h0M37 18h0M36 22h0M36 36h0M36 27h0M30 39h0M28 25h0M32 21h0M25 34h0M25 25h0M37 18h0M27 29h0M27 23h0M33 20h0M29 41h0M23 29h0M31 34h0M27 29h0M32 12h0M38 23h0M21 34h0M35 43h0M34 37h0"/><path stroke="#3b64bf" d="M53 59h0M70 58h0M56 35h0M52 67h0M73 31h0M47 20h0M81 35h0M45 57h0M43 47h0M58 66h0M28 56h0M29 13h0M69 61h0M49 40h0M70 19h0M62 21h0M65 72h0M46 37h0M20 48h0M41 79h0M60 37h0M81 33h0M71 31h0M20 47h0M37 61h0M84 52h0M57 34h0M31 37h0M33 74h0M69 32h0M56 38h0M83 61h0M75 73h0M28 48h0M39 59h0M50 74h0M81 42h0M81 57h0M60 42h0M54 42h0M56 38h0M17 33h0"/><path stroke="#74a4dc" d="M30 36h0M25 34h0M26 22h0M37 30h0M34 38h0M30 33h0M32 27h0M29 39h0M30 39h0M31 36h0M20 27h0M32 15h0M28 16h0M29 24h0M24 42h0M56 39h0M21 23h0M42 29h0M31 35h0M11 39h0M19 24h0M24 35h0M32 36h0M30 38h0M28 26h0"/><path stroke="#eaeca6" d="M40 36h0M20 28h0M32 22h0M35 28h0"/><path stroke="#ec8a38" d="M27 36h0M24 17h0M29 35h0M27 13h0M33 27h0M23 26h0M24 21h0M31 27h0M18 23h0"/><path stroke="#4a78cf" d="M33 24h0"/></g></g><text x="149.6" y="300" font-size="8.1" fill="#1a1a1a" stroke="#1a1a1a" stroke-width="0.28" textLength="15.6" lengthAdjust="spacingAndGlyphs">C-kit</text><g transform="translate(139.6,305.3)"><rect x="0.5" y="0.5" width="34.2" height="31.3" fill="#fff" stroke="#969696" stroke-width="1.2"/><rect x="33.9" y="0.6" width="1.0" height="31.1" fill="url(#cbar)"/><g clip-path="url(#cpP)"><g opacity="0.75"><rect width="35.4" height="32.3" fill="#2b3fa0"/><g filter="url(#bl)"><ellipse cx="9.5" cy="11" rx="6" ry="7.5" fill="#cabb75"/></g></g><use href="#spP"/></g><g transform="scale(0.3333)" stroke-width="3.6" stroke-linecap="round" fill="none"><path stroke="#3b64bf" d="M71 70h0M40 18h0M54 65h0M58 46h0M46 32h0M47 48h0M41 58h0M80 57h0M72 76h0M69 57h0M62 27h0M16 43h0M54 74h0M84 30h0M50 75h0M57 40h0M46 76h0M66 53h0M58 44h0M55 31h0M52 66h0M57 18h0M67 76h0M58 49h0M71 28h0M52 64h0M75 54h0M62 52h0M76 73h0M53 58h0M65 19h0M46 19h0M29 54h0M63 16h0M77 27h0M18 54h0M78 38h0M50 46h0M36 76h0M63 12h0M61 42h0M52 11h0M55 37h0M51 11h0M53 47h0M81 57h0M67 77h0M63 28h0M50 42h0M44 45h0M67 54h0"/><path stroke="#26369a" d="M28 56h0M72 46h0M80 38h0M67 40h0M59 12h0M54 77h0M58 73h0M59 49h0M68 29h0M56 53h0M87 46h0M58 61h0M71 24h0M56 15h0M80 40h0M74 64h0M86 69h0M82 40h0M61 58h0M73 55h0M51 53h0M90 58h0M58 72h0M63 38h0M75 58h0M49 27h0M71 36h0M76 81h0M84 48h0M45 70h0M87 31h0M38 45h0M76 37h0M63 75h0M81 41h0M68 44h0M39 76h0M72 40h0M58 68h0M64 34h0M32 66h0M54 84h0M72 58h0M62 37h0M48 70h0M71 36h0M54 81h0M71 37h0M62 55h0M81 65h0M70 79h0M58 54h0M67 43h0M72 24h0M82 38h0M53 74h0M58 42h0M67 81h0M48 10h0M71 77h0M48 32h0M74 33h0M39 63h0M56 73h0M75 20h0M56 15h0M69 21h0M31 65h0M77 54h0M65 41h0M69 79h0M87 57h0M57 60h0M63 14h0M52 31h0M75 66h0M66 23h0M81 30h0M64 77h0M74 51h0M51 71h0M48 62h0M58 39h0M35 66h0M53 15h0M82 36h0M46 82h0M82 38h0M78 51h0M69 23h0M40 75h0M44 29h0M53 83h0M50 74h0M40 70h0M71 75h0M83 34h0M49 76h0M75 29h0M79 58h0M83 49h0M86 33h0M59 39h0M44 55h0M86 62h0M66 81h0M73 41h0M63 47h0M48 32h0M85 71h0M58 63h0M46 64h0M81 55h0M70 68h0M85 50h0M39 59h0M91 49h0M65 25h0M59 56h0M73 36h0M74 56h0M48 49h0M64 43h0M69 51h0M50 17h0M47 39h0M70 52h0M48 47h0M50 23h0M53 24h0M68 52h0M87 39h0M75 26h0M76 25h0M58 25h0M49 69h0M64 52h0M65 61h0M51 65h0M72 56h0M41 34h0M64 38h0M51 54h0M75 73h0M82 48h0M36 69h0M71 35h0M59 41h0M85 49h0M52 34h0M52 25h0M37 66h0M54 25h0M80 36h0M75 29h0M70 64h0M53 21h0M55 29h0M62 42h0M69 41h0M76 56h0M34 75h0M77 71h0M35 67h0M69 51h0M75 32h0M66 76h0M74 47h0M59 28h0M62 57h0M68 45h0M45 11h0M47 73h0M65 46h0M81 47h0M49 31h0M50 42h0M66 64h0M50 84h0M82 49h0M87 46h0M55 22h0M37 70h0M34 68h0M58 75h0M70 23h0M77 30h0M86 65h0M31 55h0M57 13h0M62 20h0M76 61h0M76 31h0M72 50h0M60 34h0M62 73h0M85 32h0M81 27h0M50 14h0M54 28h0M81 63h0M64 14h0M77 50h0M73 65h0M58 62h0M79 29h0M46 40h0M89 46h0M55 84h0M59 73h0M71 22h0M80 51h0M71 76h0M58 50h0M47 36h0M55 71h0M52 22h0M80 55h0M62 71h0M76 71h0M49 68h0M51 50h0M69 45h0M78 78h0M88 49h0M44 79h0M58 20h0M64 51h0M88 64h0M77 24h0M66 73h0M58 73h0M73 61h0M38 56h0M73 53h0M86 69h0M86 37h0M54 47h0M45 70h0M64 20h0M86 48h0M50 61h0M71 25h0M61 27h0M62 58h0M68 66h0M81 49h0M57 34h0M77 28h0M78 22h0M79 70h0M81 56h0M76 30h0M71 49h0M71 63h0M35 69h0M75 67h0M46 34h0M51 54h0M53 9h0M84 57h0M47 30h0M66 65h0M47 53h0M46 65h0M80 22h0M63 39h0M85 45h0M74 27h0M36 72h0M83 53h0M40 66h0M52 63h0M42 49h0M71 57h0M32 69h0M54 46h0M57 81h0M49 36h0M59 64h0M62 61h0M32 56h0M77 25h0M48 19h0M64 50h0M37 62h0M58 42h0M56 17h0M80 51h0M55 26h0M48 68h0M88 49h0M53 30h0M60 74h0M54 16h0M62 73h0M72 77h0M47 56h0M54 36h0M49 48h0M53 77h0M77 36h0M50 58h0M66 57h0M34 71h0M82 50h0M66 61h0M74 62h0M36 13h0M50 54h0M80 40h0M76 69h0M75 23h0M78 34h0M72 45h0M61 77h0M53 65h0M45 53h0M71 44h0M60 22h0M56 62h0M59 73h0M90 31h0M83 51h0M89 37h0M48 26h0M85 32h0M60 61h0M62 47h0M70 20h0M53 46h0M77 70h0M56 70h0M69 64h0M72 30h0M45 55h0M40 56h0M77 60h0M70 40h0M70 58h0M47 78h0M84 63h0M52 80h0M83 30h0M29 63h0M74 66h0M49 16h0M51 43h0M80 66h0M62 19h0M67 65h0M71 35h0M56 59h0M75 74h0M53 45h0M63 50h0M45 55h0M55 39h0M38 54h0M42 60h0M51 23h0M28 63h0M63 47h0M58 18h0M62 32h0M16 45h0M65 17h0M65 51h0M66 35h0M45 77h0M77 38h0M69 50h0M67 35h0M42 60h0M61 19h0M55 73h0M63 85h0M61 68h0M56 79h0M58 75h0M71 67h0M66 47h0M51 29h0M65 59h0M61 52h0M80 30h0M65 23h0M79 77h0M83 39h0M35 62h0M79 26h0M64 68h0M64 65h0"/><path stroke="#ec8a38" d="M40 21h0M48 34h0M43 22h0M44 19h0M21 32h0M36 20h0M28 33h0"/><path stroke="#74a4dc" d="M38 51h0M14 41h0M47 37h0M33 52h0M27 48h0M28 52h0M40 32h0M33 38h0M37 47h0M45 36h0M37 46h0M37 26h0M41 33h0M44 28h0M38 49h0M29 30h0"/><path stroke="#f0dc50" d="M40 44h0M38 33h0M39 31h0M30 28h0M19 23h0M36 44h0M36 17h0M38 27h0M48 28h0M43 37h0M48 42h0M21 48h0M29 45h0M27 14h0M43 47h0M35 54h0M38 39h0M22 50h0M30 48h0M27 23h0M19 28h0M29 46h0M35 55h0M38 18h0M28 49h0M38 39h0M29 22h0"/><path stroke="#4a78cf" d="M47 32h0M45 50h0"/><path stroke="#e05a28" d="M46 34h0M40 32h0"/><path stroke="#f4b840" d="M41 46h0M43 43h0"/></g></g><g transform="translate(139.6,340.2)"><rect x="0.5" y="0.5" width="34.2" height="31.3" fill="#fff" stroke="#969696" stroke-width="1.2"/><rect x="33.9" y="0.6" width="1.0" height="31.1" fill="url(#cbar)"/><g clip-path="url(#cpM)"><g opacity="0.75"><rect width="35.4" height="32.3" fill="#2b3fa0"/><g filter="url(#bl)"><ellipse cx="9" cy="8.5" rx="5.5" ry="5" fill="#d1955a"/><ellipse cx="17.5" cy="5" rx="5" ry="2.5" fill="#ead462"/><ellipse cx="7.5" cy="16" rx="3.5" ry="4.5" fill="#71a0d8"/></g></g><use href="#spM"/></g><g transform="scale(0.3333)" stroke-width="3.6" stroke-linecap="round" fill="none"><path stroke="#26369a" d="M46 57h0M70 40h0M69 73h0M70 54h0M59 47h0M41 43h0M45 59h0M83 57h0M39 71h0M63 59h0M72 69h0M55 37h0M85 36h0M48 38h0M75 61h0M49 54h0M59 56h0M52 56h0M66 65h0M37 16h0M79 60h0M60 58h0M68 27h0M51 23h0M65 60h0M67 57h0M66 71h0M50 32h0M63 51h0M90 37h0M37 49h0M53 41h0M76 50h0M46 42h0M59 68h0M75 25h0M42 59h0M46 39h0M73 56h0M51 58h0M74 59h0M38 78h0M62 33h0M35 71h0M49 48h0M65 63h0M42 16h0M67 32h0M89 38h0M50 36h0M72 34h0M73 22h0M43 44h0M78 69h0M79 31h0M36 47h0M51 30h0M52 45h0M70 60h0M44 71h0M50 61h0M42 73h0M19 37h0M47 56h0M49 35h0M73 56h0M55 34h0M50 37h0M50 71h0M47 20h0M44 56h0M45 60h0M66 51h0M48 68h0M32 50h0M83 58h0M66 22h0M46 48h0M77 56h0M12 45h0M74 27h0M33 38h0M54 60h0M52 31h0M40 50h0M41 60h0M55 52h0M68 24h0M47 43h0M66 28h0M72 56h0M66 57h0M91 42h0M35 67h0M48 64h0M63 46h0M33 49h0M54 36h0M47 77h0M67 58h0M73 26h0M61 66h0M55 41h0M69 24h0M13 30h0M36 66h0M16 40h0M57 66h0M31 62h0M31 65h0M40 41h0M60 48h0M64 64h0M83 45h0M52 50h0M36 37h0M62 29h0M76 70h0M40 20h0M39 56h0M33 63h0M45 37h0M84 32h0M55 70h0M75 30h0M40 58h0M50 77h0M66 47h0M44 77h0M64 28h0M67 65h0M32 75h0M42 68h0M53 44h0M65 55h0M36 63h0M32 61h0M69 53h0M33 67h0M47 42h0M78 32h0M88 36h0M47 54h0M46 76h0M49 75h0M79 45h0M34 61h0M63 20h0M82 43h0M63 29h0M47 78h0M44 19h0M86 60h0M70 19h0M41 18h0M58 34h0M40 36h0M46 68h0M37 13h0M69 68h0M37 14h0M47 32h0M63 59h0M39 21h0M51 75h0M86 32h0M52 72h0M54 36h0M74 45h0M47 21h0M44 33h0M69 26h0M46 70h0M41 75h0M43 46h0M68 61h0M15 34h0M48 42h0M56 48h0M64 41h0M57 48h0M60 60h0M67 66h0M46 54h0M63 50h0M40 52h0M13 35h0M40 47h0M32 53h0M88 34h0M49 75h0M58 45h0M49 51h0M52 74h0M61 54h0M50 68h0M89 48h0M58 27h0M36 39h0M33 63h0M63 70h0M60 55h0M74 22h0M68 30h0M54 31h0M59 55h0M31 37h0M73 71h0M46 75h0M67 58h0M49 50h0M59 66h0M39 58h0M64 27h0M87 36h0M82 60h0M33 70h0M64 49h0M55 41h0M72 50h0M66 63h0M66 51h0M64 74h0M68 62h0M47 78h0M76 32h0M53 54h0M46 51h0M50 76h0M80 24h0M86 34h0M53 38h0M67 27h0M46 54h0M35 69h0M15 33h0M17 37h0M63 45h0M78 67h0M39 58h0M39 56h0M57 57h0M70 58h0M63 20h0M62 59h0M54 52h0M75 63h0M62 62h0M75 74h0M73 52h0M64 62h0M58 23h0M49 46h0M42 73h0M36 13h0M41 48h0M77 62h0M59 66h0M14 41h0M45 47h0M40 60h0M83 32h0M47 42h0M43 54h0M74 46h0M59 36h0M41 68h0M58 25h0M60 34h0M48 65h0M77 45h0M49 36h0M45 70h0M40 21h0M83 51h0M36 73h0M50 60h0M53 64h0M37 58h0M54 52h0M82 33h0M55 46h0M60 65h0M50 56h0M66 22h0M60 72h0M45 58h0M54 39h0M46 45h0M49 59h0M55 22h0M34 64h0M82 36h0M37 57h0M67 13h0M55 61h0M55 54h0M42 49h0"/><path stroke="#3b64bf" d="M47 70h0M52 65h0M37 65h0M78 29h0M85 34h0M18 44h0M70 60h0M35 51h0M71 33h0M63 66h0M73 72h0M31 61h0M40 77h0M70 55h0M86 53h0M60 36h0M79 57h0M84 45h0M71 34h0M44 41h0M79 59h0M49 78h0M72 63h0M41 51h0M62 57h0M52 28h0M53 48h0M50 33h0M68 59h0M24 54h0M81 47h0M55 54h0M69 64h0M77 32h0M89 39h0M13 35h0M58 54h0M85 45h0M49 53h0M51 39h0M48 61h0M81 43h0M59 41h0"/><path stroke="#74a4dc" d="M27 56h0M31 45h0M28 52h0M27 34h0M26 57h0M18 42h0M27 54h0M22 45h0M26 56h0M37 18h0M35 46h0M18 28h0M20 32h0M18 32h0M25 42h0M26 56h0M28 29h0M19 30h0M27 40h0M24 39h0M33 17h0M30 14h0M28 17h0M21 42h0"/><path stroke="#ec8a38" d="M15 35h0M38 17h0M25 19h0M23 21h0M15 36h0M32 36h0M27 31h0M18 35h0M26 19h0M27 15h0M33 25h0M33 24h0M22 20h0M38 35h0M34 28h0M38 25h0M23 24h0M34 31h0M20 23h0M35 29h0M41 24h0M35 22h0M21 23h0M24 17h0M39 29h0M39 25h0M20 37h0M18 21h0M22 20h0M26 20h0M25 32h0M23 19h0"/><path stroke="#f0dc50" d="M34 30h0M60 12h0M42 18h0M25 30h0M24 31h0M44 19h0M28 26h0M43 19h0M45 15h0M16 26h0M30 17h0M46 17h0M31 16h0M32 28h0M37 33h0M51 16h0M46 17h0M41 31h0M20 30h0M23 32h0M56 13h0M58 16h0M29 25h0M23 32h0M28 17h0M43 33h0M40 32h0M17 25h0M40 18h0M60 16h0M20 28h0M47 20h0M36 20h0M44 19h0M27 23h0M59 17h0M28 19h0M66 15h0M50 19h0M37 36h0M65 19h0M30 19h0M64 20h0M46 17h0"/><path stroke="#cc2a1c" d="M39 29h0"/><path stroke="#f4b840" d="M47 13h0M56 14h0M52 16h0M49 18h0M52 17h0M35 34h0M53 21h0M61 20h0M34 26h0M48 16h0M55 11h0M57 15h0M56 18h0M53 16h0M58 11h0M25 32h0M48 20h0M15 36h0M41 17h0M18 24h0M43 12h0"/><path stroke="#a6d0de" d="M36 52h0M29 41h0M17 32h0M18 38h0M61 23h0"/><path stroke="#4a78cf" d="M30 48h0M28 50h0M30 43h0M31 43h0M60 44h0M25 57h0M31 49h0M28 51h0M27 59h0M17 46h0M26 46h0M19 49h0M24 41h0M25 55h0M24 56h0M31 47h0"/><path stroke="#e05a28" d="M33 35h0M34 32h0M39 31h0M29 38h0M39 28h0M31 34h0M39 30h0M34 23h0M36 26h0M31 34h0M13 29h0M37 20h0"/><path stroke="#eaeca6" d="M37 35h0M53 14h0M14 26h0M59 21h0"/></g></g><text x="191.5" y="300" font-size="8.1" fill="#1a1a1a" stroke="#1a1a1a" stroke-width="0.28" textLength="27.3" lengthAdjust="spacingAndGlyphs">NKG2D</text><g transform="translate(187.3,305.3)"><rect x="0.5" y="0.5" width="34.2" height="31.3" fill="#fff" stroke="#969696" stroke-width="1.2"/><rect x="33.9" y="0.6" width="1.0" height="31.1" fill="url(#cbar)"/><g clip-path="url(#cpP)"><g opacity="0.75"><rect width="35.4" height="32.3" fill="#d5c274"/><g filter="url(#bl)"><ellipse cx="9.5" cy="11" rx="6" ry="7.5" fill="#d9c073"/><ellipse cx="14" cy="24" rx="4" ry="3" fill="#4169c1"/><ellipse cx="17" cy="8" rx="1.5" ry="1.5" fill="#3b64bf"/></g></g><use href="#spP"/></g><g transform="scale(0.3333)" stroke-width="3.6" stroke-linecap="round" fill="none"><path stroke="#eaeca6" d="M68 29h0M82 22h0M45 55h0M42 47h0M67 35h0M80 51h0M43 45h0M76 26h0M85 61h0M44 28h0M67 50h0M62 81h0M45 42h0M58 63h0M70 27h0M46 56h0M77 61h0M84 63h0M45 24h0M55 18h0M64 50h0M69 26h0M45 80h0M41 62h0M91 52h0"/><path stroke="#a6d0de" d="M61 80h0M72 80h0M69 70h0M84 26h0M74 77h0M52 33h0M55 33h0M47 51h0M49 49h0M76 38h0M69 24h0M63 55h0M36 53h0M74 38h0M32 18h0M59 69h0M53 58h0M78 26h0M70 20h0M82 26h0M54 31h0M52 31h0M72 30h0M50 54h0M55 86h0M87 53h0M51 45h0M88 52h0M73 49h0M57 77h0M79 44h0M15 39h0M53 52h0M81 27h0M12 32h0M67 21h0M63 61h0M51 28h0M56 61h0M53 27h0M76 52h0M57 38h0M43 17h0M65 78h0M61 66h0M64 60h0M75 77h0M87 36h0M68 76h0M48 49h0M32 54h0M59 47h0M20 49h0M61 65h0M47 15h0M56 65h0M68 24h0M74 52h0M65 81h0M29 64h0M48 34h0M21 60h0M61 80h0M63 79h0M43 22h0M55 48h0M63 25h0M66 15h0M73 80h0M51 36h0M67 17h0M43 80h0M47 68h0M69 24h0M72 22h0M66 77h0M49 52h0M55 30h0M43 21h0M64 32h0M51 36h0M48 49h0M19 46h0M53 64h0M68 74h0M48 21h0M75 52h0M50 80h0M71 27h0M88 35h0M49 49h0M49 78h0M17 48h0M66 21h0M82 28h0M59 40h0M56 77h0M56 53h0M54 57h0M51 84h0M88 54h0"/><path stroke="#f0dc50" d="M58 26h0M55 82h0M86 47h0M45 40h0M78 67h0M56 73h0M63 55h0M71 66h0M84 60h0M88 46h0M54 72h0M24 58h0M41 62h0M82 63h0M55 26h0M82 37h0M91 46h0M59 28h0M65 50h0M67 49h0M70 51h0M89 64h0M86 37h0M77 55h0M49 29h0M70 75h0M54 60h0M81 34h0M78 75h0M90 49h0M58 14h0M86 38h0M39 58h0M80 34h0M80 59h0M53 41h0M42 63h0M71 48h0M81 33h0M80 35h0M74 47h0M53 13h0M60 21h0M86 44h0M25 49h0M57 55h0M67 35h0M57 71h0M61 26h0M71 64h0M56 25h0M87 29h0M78 47h0M59 34h0M64 72h0M89 47h0M61 47h0M76 24h0M51 41h0M42 62h0M68 78h0M58 16h0M70 34h0M78 73h0M88 52h0M39 25h0M87 48h0M68 58h0M25 30h0M56 48h0M41 58h0M86 64h0M25 17h0M90 45h0M63 41h0M76 61h0M46 61h0M68 52h0M43 48h0M43 61h0M58 36h0M71 67h0M63 82h0M58 48h0M84 41h0M35 55h0M74 44h0M49 61h0M43 59h0M60 71h0M81 66h0M59 53h0M70 36h0M44 28h0M45 40h0M81 47h0M47 44h0M82 31h0M79 37h0M69 33h0M69 46h0M75 54h0M51 42h0M69 60h0M47 40h0M75 74h0M69 47h0M81 74h0M62 42h0M41 29h0M73 72h0M46 30h0M49 41h0M76 46h0M46 46h0M66 36h0M37 59h0M45 33h0M61 52h0M45 41h0M71 70h0M41 55h0M54 63h0M15 27h0M87 66h0M85 40h0M69 62h0M40 38h0M41 42h0M79 63h0M37 24h0M67 84h0M64 82h0M45 27h0M58 28h0M57 11h0M58 72h0M48 29h0M58 75h0M46 57h0M79 68h0M79 34h0M90 46h0M36 55h0M84 61h0M85 41h0M30 44h0M79 36h0M60 21h0M59 16h0M42 55h0M44 59h0M53 18h0M68 54h0M65 80h0M44 31h0M61 85h0M55 10h0M56 21h0M70 69h0M87 38h0M67 34h0M87 64h0M52 17h0M43 47h0M57 33h0M87 65h0M50 32h0M83 51h0M49 45h0M77 71h0M65 50h0M66 36h0M48 61h0"/><path stroke="#ec8a38" d="M75 28h0M58 66h0M66 17h0M66 20h0M55 78h0M29 26h0M74 31h0M66 23h0M65 22h0M39 64h0M21 50h0M23 29h0M19 57h0M43 24h0M53 30h0M59 67h0M48 36h0M44 39h0M76 38h0M16 40h0M21 43h0M30 62h0M19 40h0M60 67h0M39 41h0M74 49h0M45 36h0M31 21h0M80 29h0M55 65h0M65 27h0M74 46h0M21 60h0M40 17h0M65 76h0M34 25h0M85 72h0M54 67h0M32 45h0M57 66h0M23 48h0"/><path stroke="#f4b840" d="M59 54h0M62 58h0M71 64h0M62 50h0M93 44h0M79 53h0M47 17h0M63 53h0M90 47h0M23 54h0M58 30h0M60 53h0M53 47h0M55 30h0M22 62h0M55 37h0M85 66h0M53 47h0M24 55h0M30 47h0M61 38h0M67 36h0M71 64h0M80 39h0M49 17h0M90 53h0M77 45h0M89 35h0M77 26h0M86 58h0M62 52h0M59 16h0M60 48h0M63 55h0M83 51h0M70 79h0M46 54h0M74 48h0M20 23h0M25 49h0M65 56h0M57 54h0M87 36h0M50 64h0M62 57h0M49 53h0M49 17h0M63 35h0M77 33h0M55 74h0M43 19h0M47 49h0M54 57h0M74 36h0M57 37h0M84 34h0M61 24h0M59 74h0M59 15h0M23 51h0M62 70h0M84 43h0"/><path stroke="#3b64bf" d="M43 64h0M47 23h0M47 76h0M48 76h0M50 22h0M41 72h0M54 70h0M38 66h0M46 78h0M42 67h0M35 69h0M53 27h0M51 25h0M51 23h0M43 72h0M47 21h0M48 24h0"/><path stroke="#74a4dc" d="M74 40h0M59 62h0M58 60h0M60 66h0M49 35h0M45 72h0M68 30h0M32 65h0M47 12h0M21 47h0M78 78h0M65 25h0M51 53h0M57 65h0M57 67h0M68 83h0M54 55h0M86 72h0M52 53h0M70 29h0M28 64h0M90 36h0M65 23h0M33 69h0M90 57h0M39 67h0M76 77h0M73 39h0M72 38h0M75 42h0M46 24h0M33 69h0M61 64h0M80 29h0M46 11h0M58 41h0M63 18h0M53 67h0M70 21h0M58 61h0M60 75h0M32 63h0M44 22h0M68 71h0M72 82h0M59 69h0M75 66h0M75 39h0M79 57h0M48 11h0M59 66h0"/><path stroke="#4a78cf" d="M35 72h0M41 70h0M43 75h0M39 70h0M44 67h0M48 76h0M43 73h0M41 80h0M39 74h0M64 62h0M40 68h0M49 71h0M41 64h0M48 78h0M48 79h0M48 35h0M42 69h0M42 77h0M46 73h0M48 76h0M47 77h0M40 66h0"/><path stroke="#26369a" d="M53 21h0M39 74h0M52 69h0M34 69h0"/><path stroke="#e05a28" d="M75 81h0M44 25h0M30 54h0"/></g></g><g transform="translate(187.3,340.2)"><rect x="0.5" y="0.5" width="34.2" height="31.3" fill="#fff" stroke="#969696" stroke-width="1.2"/><rect x="33.9" y="0.6" width="1.0" height="31.1" fill="url(#cbar)"/><g clip-path="url(#cpM)"><g opacity="0.75"><rect width="35.4" height="32.3" fill="#d9bf6c"/><g filter="url(#bl)"><ellipse cx="4.5" cy="16" rx="1.5" ry="3" fill="#4169c1"/><ellipse cx="12" cy="24" rx="2" ry="1.5" fill="#4169c1"/><ellipse cx="13" cy="11" rx="1" ry="1" fill="#cc2a1c"/></g></g><use href="#spM"/></g><g transform="scale(0.3333)" stroke-width="3.6" stroke-linecap="round" fill="none"><path stroke="#ec8a38" d="M53 32h0M70 34h0M34 65h0M91 35h0M29 31h0M21 43h0M78 52h0M42 77h0M54 10h0M48 48h0M58 17h0M43 12h0M24 43h0M58 33h0M45 47h0M46 47h0M53 24h0M69 17h0M57 53h0M38 19h0M30 26h0M60 18h0M66 20h0M17 48h0M43 21h0M41 15h0M55 55h0M46 17h0M43 46h0M81 69h0M35 50h0M27 34h0M79 34h0M55 24h0M48 50h0M61 56h0M43 47h0M76 23h0M27 30h0M60 55h0M53 30h0M23 37h0M45 68h0M70 55h0M58 18h0M40 49h0M51 38h0M51 31h0M54 64h0M49 44h0M52 29h0M29 34h0M48 45h0M54 28h0M73 34h0M40 48h0M39 16h0M38 62h0M78 22h0M51 36h0M56 22h0M46 77h0M77 32h0M36 28h0M37 61h0M67 26h0M12 38h0M42 10h0M49 38h0M44 72h0M51 63h0M74 53h0M28 28h0M42 44h0M57 64h0M42 45h0M45 11h0M49 50h0M29 38h0M57 34h0M40 40h0M62 21h0M86 43h0M58 31h0M47 19h0M39 62h0M38 78h0M36 27h0M39 28h0M55 38h0M51 39h0M53 29h0M69 21h0M52 15h0M22 45h0M47 45h0M79 27h0M84 70h0M31 28h0M58 33h0M36 19h0M60 21h0M40 11h0M63 21h0M46 67h0M35 53h0M54 23h0M22 51h0M32 28h0M75 28h0M40 45h0M82 59h0M46 13h0M19 38h0M37 45h0M77 68h0M56 64h0"/><path stroke="#f0dc50" d="M41 52h0M55 70h0M61 48h0M16 29h0M74 24h0M17 32h0M49 70h0M81 37h0M28 17h0M35 41h0M34 25h0M47 65h0M52 75h0M63 50h0M74 63h0M63 65h0M59 40h0M45 51h0M53 57h0M62 54h0M68 71h0M39 66h0M60 66h0M56 74h0M64 57h0M71 69h0M55 47h0M34 20h0M48 76h0M25 51h0M32 67h0M30 21h0M58 41h0M54 66h0M31 19h0M39 64h0M67 23h0M64 65h0M61 67h0M17 53h0M26 22h0M43 59h0M51 46h0M61 69h0M38 56h0M34 58h0M33 23h0M42 55h0M53 67h0M47 61h0M30 67h0M63 38h0M44 54h0M22 23h0M25 32h0M25 21h0M71 72h0M68 70h0M27 20h0M52 66h0M39 55h0M30 69h0M65 25h0M42 60h0M24 24h0M22 28h0M43 51h0M50 74h0M80 29h0M59 46h0M66 56h0M23 58h0M33 46h0M68 26h0M69 75h0M37 24h0M71 74h0M48 68h0M20 32h0M16 31h0M85 64h0M33 57h0M64 47h0M52 68h0M35 18h0M46 55h0M69 26h0M60 28h0M59 43h0M40 55h0M55 45h0M61 70h0M32 24h0M36 15h0M30 47h0M44 72h0M47 70h0M60 24h0M54 66h0M54 57h0M33 66h0M64 50h0M52 68h0M17 27h0M25 19h0M32 20h0M49 66h0M34 20h0M25 21h0M35 21h0M67 26h0M64 57h0M42 51h0M27 50h0M55 13h0M69 32h0M80 38h0M59 70h0M35 20h0M52 66h0M42 37h0"/><path stroke="#f4b840" d="M83 35h0M17 36h0M12 39h0M58 25h0M46 70h0M55 32h0M74 49h0M48 47h0M57 52h0M47 15h0M26 43h0M34 24h0M67 57h0M24 26h0M40 49h0M53 64h0M74 58h0M54 48h0M12 35h0M40 39h0M51 46h0M34 43h0M76 75h0M30 39h0M46 68h0M45 54h0M67 17h0M30 49h0M89 40h0M34 48h0M60 70h0M53 63h0M61 16h0M35 20h0M64 37h0M30 37h0M65 64h0M46 35h0M72 31h0M78 32h0M73 16h0M29 56h0M24 27h0M51 19h0M36 38h0M75 73h0M23 18h0M29 51h0M64 62h0M25 24h0M65 73h0M32 34h0M30 42h0M67 32h0M24 30h0M59 16h0M77 64h0M45 68h0M32 39h0M33 40h0M59 67h0M23 35h0M27 43h0M53 37h0M50 31h0M61 12h0M74 22h0M30 59h0M18 48h0M25 37h0M55 65h0M45 64h0M33 34h0M34 27h0M53 18h0M31 66h0M79 34h0M84 47h0M75 21h0M35 41h0M36 21h0M69 32h0M59 25h0M74 32h0M16 36h0M13 35h0M82 43h0M40 15h0M66 66h0M23 23h0M60 53h0M13 33h0M35 15h0M45 38h0M18 39h0M84 65h0M54 47h0M54 31h0M32 33h0M60 32h0M55 20h0M62 62h0M29 16h0M54 15h0M24 27h0M39 16h0M32 37h0M18 35h0M65 65h0M25 58h0M38 27h0M34 15h0M36 13h0M57 13h0M43 35h0M32 12h0M59 39h0M81 34h0M20 51h0M58 59h0M19 38h0M77 33h0M53 22h0M19 47h0M24 25h0M49 75h0M24 22h0M20 23h0M54 32h0M32 12h0M50 10h0M52 13h0M56 49h0M47 53h0M65 33h0M58 32h0M38 56h0M40 59h0M39 15h0M19 51h0M41 46h0M22 40h0M39 26h0M85 66h0M15 36h0M82 71h0M31 42h0"/><path stroke="#a6d0de" d="M16 42h0M76 26h0M29 42h0M70 52h0M42 70h0M76 28h0M76 54h0M27 26h0M45 20h0M60 35h0M38 20h0M81 66h0M76 47h0M51 21h0M15 40h0M44 78h0M32 33h0M34 63h0M53 49h0M42 63h0M51 19h0M75 23h0M60 75h0M42 46h0M56 63h0M24 39h0M57 19h0M70 53h0M61 32h0M43 12h0M66 20h0M27 26h0M57 38h0M52 17h0M78 69h0M53 21h0M44 47h0M42 65h0M53 30h0M78 43h0M54 43h0M69 51h0M64 67h0M39 78h0M57 18h0M41 19h0M63 21h0M80 69h0M59 57h0M32 28h0M73 57h0M77 23h0M27 57h0M61 58h0M70 21h0M28 34h0M59 58h0M54 42h0"/><path stroke="#74a4dc" d="M55 49h0M43 43h0M69 56h0M58 21h0M81 44h0M43 17h0M68 20h0M44 40h0M49 20h0M70 57h0M34 73h0M15 42h0M47 39h0M76 47h0M15 41h0"/><path stroke="#cc2a1c" d="M39 35h0M42 35h0"/><path stroke="#eaeca6" d="M52 52h0M49 44h0M55 57h0M32 23h0M86 45h0M24 20h0M52 40h0M70 24h0M66 60h0M42 18h0M63 49h0M51 56h0M16 40h0M23 19h0M61 19h0M63 54h0M69 75h0M81 30h0M50 66h0M43 71h0M32 15h0M28 27h0"/><path stroke="#4a78cf" d="M12 40h0M14 42h0M17 46h0M33 73h0M15 46h0M18 48h0"/><path stroke="#e05a28" d="M35 53h0M58 33h0M41 63h0M18 38h0M58 64h0M49 54h0M42 21h0"/><path stroke="#26369a" d="M32 72h0"/><path stroke="#3b64bf" d="M12 42h0M35 75h0M42 71h0M42 72h0"/></g></g><text x="238" y="300" font-size="8.1" fill="#1a1a1a" stroke="#1a1a1a" stroke-width="0.28" textLength="28.3" lengthAdjust="spacingAndGlyphs">DNAM-1</text><g transform="translate(235,305.3)"><rect x="0.5" y="0.5" width="34.2" height="31.3" fill="#fff" stroke="#969696" stroke-width="1.2"/><rect x="33.9" y="0.6" width="1.0" height="31.1" fill="url(#cbar)"/><g clip-path="url(#cpP)"><g opacity="0.75"><rect width="35.4" height="32.3" fill="#968d7e"/><g filter="url(#bl)"><ellipse cx="9.5" cy="11" rx="6" ry="7.5" fill="#eb8a36"/></g></g><use href="#spP"/></g><g transform="scale(0.3333)" stroke-width="3.6" stroke-linecap="round" fill="none"><path stroke="#ec8a38" d="M77 50h0M21 36h0M25 48h0M39 40h0M60 86h0M50 28h0M88 64h0M82 55h0M60 38h0M19 41h0M26 53h0M51 23h0M16 37h0M48 21h0M53 36h0M53 48h0M64 62h0M43 19h0M82 50h0M43 36h0M35 21h0M41 39h0M21 49h0M83 50h0M36 46h0M81 27h0M38 25h0M40 32h0M23 31h0M25 48h0M49 30h0M37 38h0M81 45h0M37 16h0M82 43h0M82 58h0M45 42h0M80 49h0M48 32h0M83 53h0M83 48h0M39 33h0M64 64h0M76 20h0M30 46h0M75 39h0M59 19h0M38 25h0"/><path stroke="#f4b840" d="M54 74h0M70 62h0M26 20h0M52 49h0M75 36h0M58 64h0M79 22h0M77 22h0M35 15h0M87 54h0M66 45h0M62 22h0M54 26h0M43 24h0M64 63h0M53 39h0M61 19h0M83 24h0M81 22h0M47 33h0M46 18h0M74 70h0M51 32h0M56 60h0M49 13h0M84 49h0M64 33h0M43 32h0M50 21h0M38 47h0M43 70h0M83 65h0M50 51h0M57 48h0M62 83h0M51 36h0M77 26h0M56 47h0M45 30h0M86 52h0M58 26h0M75 28h0M28 21h0M35 16h0M42 31h0M43 36h0M74 70h0M47 28h0M43 21h0M50 20h0M53 37h0M56 47h0M62 31h0M63 62h0M92 53h0M78 42h0M71 25h0M75 18h0M71 62h0M53 27h0M81 64h0M44 33h0M40 69h0M42 28h0M15 48h0M75 36h0M82 63h0M45 28h0M67 66h0M57 50h0M47 80h0M64 79h0M83 47h0M50 21h0M83 56h0M80 53h0M79 60h0M82 57h0M87 52h0M57 48h0M81 60h0M81 29h0M86 56h0M39 70h0M59 13h0M67 15h0M74 38h0M48 30h0M25 22h0M50 38h0M85 54h0M50 24h0M48 11h0M70 45h0M81 31h0M43 34h0M53 49h0M91 54h0M51 34h0M73 23h0M33 60h0M77 40h0M81 65h0M62 18h0M74 24h0M41 68h0M61 63h0"/><path stroke="#26369a" d="M59 75h0M66 44h0M60 11h0M51 73h0M56 83h0M63 60h0M91 39h0M53 53h0M56 54h0M64 20h0M64 39h0M46 49h0M69 32h0M85 72h0M58 51h0M81 71h0M56 58h0M45 76h0M70 56h0M67 69h0M87 45h0M78 66h0M54 55h0M84 68h0M56 60h0M57 53h0M73 61h0M62 28h0M59 51h0M34 71h0M55 66h0M65 57h0M52 41h0M60 50h0M52 66h0M76 58h0M60 29h0M56 71h0M53 67h0M48 55h0M55 67h0M43 58h0M87 49h0M55 70h0M62 79h0M60 54h0M56 69h0M69 27h0M75 66h0M58 75h0M44 60h0M69 52h0M70 23h0M38 60h0M48 60h0M70 22h0M53 18h0M74 58h0M63 58h0M42 62h0M56 19h0M76 72h0M80 38h0M80 38h0M46 46h0M68 29h0M73 64h0M44 64h0M83 39h0M54 19h0M57 80h0M69 24h0M51 67h0M75 57h0M76 49h0M62 52h0M68 80h0M52 17h0M49 44h0M72 20h0M50 15h0M76 29h0M77 75h0M65 77h0M56 10h0"/><path stroke="#3b64bf" d="M73 78h0M67 47h0M70 79h0M81 71h0M37 26h0M70 72h0M67 76h0M62 53h0M69 57h0M46 58h0M65 55h0M87 47h0M67 53h0M45 66h0M68 37h0M46 73h0M56 18h0M53 80h0M41 61h0M63 75h0M73 33h0M77 31h0M69 23h0M66 71h0M76 30h0M63 58h0M73 56h0M66 45h0M83 75h0M80 74h0M70 72h0M71 32h0M53 81h0M56 71h0M89 30h0M71 30h0M72 35h0M61 29h0M52 66h0M70 80h0M82 69h0M78 71h0M48 74h0M56 20h0M46 51h0M50 68h0M63 71h0M61 41h0M63 45h0M53 80h0M51 64h0M41 11h0M78 68h0M62 78h0M67 70h0M60 43h0M52 19h0M73 79h0M46 64h0M78 32h0M57 16h0M69 24h0M62 53h0M79 70h0M57 44h0M46 55h0M50 74h0M53 68h0M66 55h0M59 57h0M55 18h0M66 69h0M64 72h0M86 30h0M85 30h0M52 17h0M78 70h0M56 43h0M66 69h0M77 34h0M69 72h0M50 68h0M57 82h0M73 73h0M47 55h0M50 65h0M65 26h0M66 57h0M53 64h0M42 60h0M56 43h0M66 25h0M34 69h0M59 82h0M60 47h0M85 27h0M44 58h0M77 31h0M45 76h0M67 49h0M59 27h0M24 63h0M47 53h0M56 12h0M76 32h0M76 60h0M66 36h0M50 15h0M49 66h0M89 31h0M61 77h0M63 25h0M88 47h0M69 23h0M66 26h0M41 58h0M64 52h0"/><path stroke="#f0dc50" d="M46 39h0M37 66h0M77 25h0M87 51h0M83 28h0M85 49h0M70 26h0M75 80h0M54 61h0M20 58h0M35 44h0M68 45h0M67 60h0M63 21h0M35 65h0M19 56h0M89 50h0M40 70h0M70 50h0M73 68h0M43 40h0M55 60h0M65 66h0M52 40h0M89 58h0M81 27h0M79 37h0M54 52h0M66 76h0M92 53h0M48 18h0M55 58h0M85 45h0M70 71h0M67 61h0M52 77h0M88 57h0M87 57h0M55 25h0M78 71h0M78 21h0M47 14h0M34 58h0M32 61h0M70 25h0M53 76h0M52 34h0M54 45h0M32 66h0M83 44h0M44 12h0M59 39h0M45 19h0M51 45h0M60 29h0M16 24h0M62 22h0M59 61h0M59 55h0M64 79h0M76 80h0M57 22h0M71 71h0M35 57h0M51 50h0M63 78h0M63 80h0M53 22h0M77 28h0M37 59h0M80 50h0M67 80h0M36 62h0M89 37h0M55 62h0M62 37h0M35 63h0M54 51h0M70 23h0M42 76h0M48 57h0M62 16h0M44 18h0M37 56h0M53 73h0M52 77h0M45 81h0M47 79h0M36 59h0M59 19h0M36 61h0M69 25h0M58 47h0M60 15h0M68 45h0M92 34h0M69 68h0M79 65h0M67 80h0M55 44h0M41 73h0M54 41h0M81 22h0M50 17h0M57 67h0M78 29h0M57 28h0M83 43h0M63 42h0M74 54h0M80 33h0"/><path stroke="#4a78cf" d="M54 14h0M60 78h0M71 29h0M83 53h0M52 14h0M78 69h0M72 60h0M59 81h0M56 70h0M59 42h0"/><path stroke="#e05a28" d="M23 47h0M41 24h0M30 45h0M43 18h0M49 34h0M49 35h0M46 21h0M47 27h0M29 15h0M20 25h0M32 59h0M39 51h0M28 44h0M46 40h0M42 34h0M37 51h0"/><path stroke="#eaeca6" d="M62 18h0M86 66h0M74 45h0M37 55h0"/><path stroke="#74a4dc" d="M46 34h0"/><path stroke="#cc2a1c" d="M40 15h0"/></g></g><g transform="translate(235,340.2)"><rect x="0.5" y="0.5" width="34.2" height="31.3" fill="#fff" stroke="#969696" stroke-width="1.2"/><rect x="33.9" y="0.6" width="1.0" height="31.1" fill="url(#cbar)"/><g clip-path="url(#cpM)"><g opacity="0.75"><rect width="35.4" height="32.3" fill="#738298"/><g filter="url(#bl)"><ellipse cx="9" cy="8.5" rx="5.5" ry="5" fill="#f1b743"/><ellipse cx="17.5" cy="5" rx="5" ry="2.5" fill="#ead462"/><ellipse cx="7.5" cy="16" rx="3.5" ry="4.5" fill="#4169c1"/><ellipse cx="27.5" cy="17.5" rx="3" ry="7" fill="#eaeca6"/></g></g><use href="#spM"/></g><g transform="scale(0.3333)" stroke-width="3.6" stroke-linecap="round" fill="none"><path stroke="#4a78cf" d="M23 44h0M24 47h0M40 13h0M17 38h0M17 33h0M63 32h0M16 39h0M16 44h0M44 75h0M19 44h0M23 54h0M61 69h0M50 41h0M36 59h0M19 33h0M20 51h0M37 78h0M33 39h0M19 44h0M51 34h0M65 55h0M16 49h0M67 38h0M77 71h0M30 42h0M24 50h0M72 56h0M59 69h0M59 75h0M29 55h0M18 39h0M17 42h0M20 51h0M17 41h0M19 45h0"/><path stroke="#3b64bf" d="M62 30h0M45 65h0M46 63h0M54 72h0M51 40h0M68 75h0M39 73h0M20 46h0M60 46h0M37 76h0M58 48h0M76 26h0M41 64h0M63 20h0M37 51h0M36 56h0M59 58h0M52 36h0M29 15h0M73 67h0M52 63h0M33 63h0M61 31h0M28 46h0M64 30h0M27 47h0M47 65h0M32 54h0M34 46h0M42 63h0M51 38h0M63 63h0M52 37h0M36 64h0M48 64h0M60 49h0M76 31h0M64 40h0M72 21h0M23 37h0M75 34h0M68 54h0M55 62h0M33 62h0M32 57h0M37 62h0M33 48h0M66 56h0M41 40h0M68 49h0M45 72h0M43 74h0M33 57h0M42 74h0M41 68h0M35 53h0M66 31h0M59 69h0M63 56h0M58 75h0M21 54h0M59 75h0M26 51h0M45 65h0M37 61h0M75 28h0M46 36h0M66 53h0M30 41h0M39 40h0M65 59h0M65 55h0M32 47h0M57 75h0M30 52h0M25 58h0M28 39h0M37 50h0M37 44h0M42 64h0M30 41h0M54 48h0M49 32h0M25 60h0M52 30h0M68 50h0M75 33h0M55 47h0M70 32h0M23 56h0M52 53h0M61 43h0M69 51h0M68 61h0M59 47h0M34 49h0M68 30h0M42 65h0M36 12h0M34 44h0M66 57h0M56 32h0M78 22h0M23 46h0M67 31h0M40 63h0M41 63h0M40 27h0M54 48h0M16 35h0M41 76h0M52 73h0M64 59h0M28 52h0M35 64h0M63 58h0M90 41h0M45 61h0M51 41h0M43 61h0M32 73h0M27 46h0M78 30h0M47 35h0M63 58h0M60 41h0M64 56h0M58 31h0M49 37h0M38 69h0M48 38h0M51 73h0M59 60h0M26 41h0M36 61h0M27 44h0M64 73h0M65 59h0M60 73h0M61 33h0M68 75h0M38 73h0M58 65h0"/><path stroke="#f0dc50" d="M64 50h0M24 15h0M43 57h0M25 29h0M48 42h0M75 66h0M40 15h0M20 18h0M52 22h0M63 33h0M46 41h0M18 40h0M39 14h0M43 22h0M67 19h0M44 40h0M32 20h0M70 72h0M25 21h0M22 17h0M55 12h0M48 16h0M47 48h0M58 42h0M68 63h0M33 41h0M32 33h0M47 46h0M46 69h0M50 71h0M22 34h0M28 64h0M43 30h0M20 31h0M85 31h0M31 28h0M46 39h0M25 21h0M53 18h0M40 44h0M37 51h0M50 67h0M55 38h0M23 35h0M49 56h0M39 32h0M48 10h0M44 40h0M27 18h0M35 67h0M72 56h0M26 30h0M49 65h0M35 37h0M36 40h0M37 35h0M35 38h0M55 22h0M62 35h0M71 62h0M30 63h0M43 15h0M54 16h0M66 64h0M62 23h0M22 36h0M52 60h0M58 17h0M51 17h0M21 24h0M49 47h0M75 57h0M38 45h0M37 56h0M57 55h0M28 21h0M44 66h0M29 35h0M15 38h0M25 20h0M59 24h0M24 26h0M48 42h0M51 15h0M57 42h0M18 19h0M21 32h0M17 30h0M42 22h0M45 20h0M66 25h0M48 69h0M38 51h0M83 71h0M31 60h0M73 65h0M23 23h0M37 54h0M25 32h0M43 53h0M49 65h0M48 52h0M71 59h0M71 24h0M48 21h0M53 41h0M48 17h0M45 51h0M49 70h0M21 36h0M67 67h0M21 33h0M62 62h0M74 75h0M74 60h0M29 32h0M33 67h0M21 24h0M38 54h0M32 20h0M45 68h0M35 15h0M59 35h0M61 19h0M24 27h0M61 54h0M29 30h0M56 12h0"/><path stroke="#f4b840" d="M42 41h0M40 48h0M46 70h0M47 40h0M35 68h0M33 26h0M56 24h0M41 59h0M13 27h0M49 22h0M30 61h0M58 18h0M16 33h0M30 62h0M61 37h0M54 17h0M39 25h0M39 51h0M46 41h0M40 25h0M31 58h0M52 17h0M45 50h0M28 59h0M38 53h0M35 29h0M37 37h0M61 16h0M41 31h0M53 58h0M59 16h0M52 12h0M33 15h0M11 41h0M35 31h0M34 16h0M13 33h0M52 49h0M43 47h0M54 24h0M46 41h0M60 14h0M38 30h0M41 21h0M30 60h0M36 15h0M39 45h0M41 31h0M32 27h0M78 62h0M49 19h0"/><path stroke="#26369a" d="M57 66h0M25 54h0M52 65h0M32 51h0M50 32h0M57 59h0M84 34h0M51 64h0M70 14h0M57 71h0M43 68h0M17 40h0M66 46h0M48 38h0M26 49h0M73 21h0M60 27h0M51 41h0M41 11h0M38 43h0M54 75h0M61 49h0M49 77h0M66 30h0M76 23h0M54 45h0M37 52h0M61 60h0M57 36h0M49 65h0M69 47h0M74 32h0M56 51h0M51 50h0M54 70h0M34 34h0M49 72h0M54 32h0M50 61h0M25 37h0M37 48h0M54 33h0M21 39h0M30 66h0M60 49h0M75 24h0M37 64h0M76 19h0M32 62h0M30 42h0M69 65h0M66 42h0M25 51h0M49 78h0M68 20h0M73 20h0M20 52h0M55 33h0M69 26h0M36 68h0M49 32h0M74 70h0M62 20h0M64 61h0M27 55h0M79 33h0M74 26h0M26 35h0M40 11h0M66 49h0M70 49h0M56 63h0M58 45h0M70 26h0M42 73h0M48 34h0M53 72h0M47 33h0M36 72h0M71 29h0M42 69h0M19 50h0M38 38h0M44 23h0M40 65h0M53 40h0M52 48h0M60 27h0M64 16h0M45 59h0M40 75h0M45 59h0M74 17h0M44 59h0M45 35h0M20 36h0M74 22h0"/><path stroke="#eaeca6" d="M52 20h0M76 55h0M83 61h0M39 22h0M81 36h0M83 60h0M34 35h0M74 26h0M51 14h0M51 58h0M79 38h0M25 16h0M81 52h0M80 47h0M75 47h0M84 50h0M34 18h0M84 41h0M77 62h0M67 63h0M53 23h0M79 64h0M84 48h0M78 50h0M40 33h0"/><path stroke="#74a4dc" d="M23 52h0M22 41h0M56 41h0M63 24h0M54 21h0M12 42h0M56 41h0M44 43h0M59 25h0M22 35h0M17 41h0M51 58h0"/><path stroke="#a6d0de" d="M54 20h0M76 45h0M47 46h0"/><path stroke="#e05a28" d="M31 19h0M38 19h0"/><path stroke="#ec8a38" d="M36 27h0M39 59h0M37 27h0M46 53h0"/></g></g><text x="288.5" y="300" font-size="8.1" fill="#1a1a1a" stroke="#1a1a1a" stroke-width="0.28" textLength="24" lengthAdjust="spacingAndGlyphs">NKp30</text><g transform="translate(282.7,305.3)"><rect x="0.5" y="0.5" width="34.2" height="31.3" fill="#fff" stroke="#969696" stroke-width="1.2"/><rect x="33.9" y="0.6" width="1.0" height="31.1" fill="url(#cbar)"/><g clip-path="url(#cpP)"><g opacity="0.75"><rect width="35.4" height="32.3" fill="#a18a70"/><g filter="url(#bl)"><ellipse cx="9.5" cy="11" rx="6" ry="7.5" fill="#eb8a36"/></g></g><use href="#spP"/></g><g transform="scale(0.3333)" stroke-width="3.6" stroke-linecap="round" fill="none"><path stroke="#26369a" d="M67 71h0M88 65h0M62 56h0M45 77h0M50 44h0M45 27h0M70 72h0M67 44h0M50 76h0M73 21h0M84 27h0M40 43h0M50 31h0M73 23h0M69 69h0M84 45h0M56 28h0M59 13h0M56 34h0M84 32h0M63 82h0M74 72h0M80 77h0M51 39h0M55 32h0M56 30h0M62 45h0M61 33h0M52 40h0M71 71h0M54 39h0M84 33h0M55 33h0M67 28h0M51 36h0M78 54h0"/><path stroke="#f4b840" d="M66 77h0M52 65h0M78 61h0M57 69h0M76 78h0M49 64h0M50 59h0M76 60h0M61 74h0M32 28h0M22 53h0M31 48h0M72 32h0M77 29h0M52 66h0M64 64h0M68 66h0M78 41h0M67 22h0M41 55h0M59 77h0M42 47h0M52 17h0M72 57h0M71 33h0M68 51h0M71 25h0M57 79h0M63 18h0M50 61h0M55 64h0M52 15h0M32 56h0M70 59h0M77 75h0M47 35h0M77 76h0M75 43h0M79 36h0M72 57h0M71 84h0M37 42h0M43 36h0M77 17h0M59 72h0M73 76h0M76 45h0M46 30h0M60 20h0M15 48h0M45 44h0M70 50h0M66 34h0M76 79h0M72 45h0M77 59h0M57 68h0M55 83h0M47 73h0M75 48h0M62 19h0M44 35h0M48 34h0M54 51h0M40 21h0M45 70h0M51 62h0M73 27h0M74 31h0M66 79h0M40 46h0M76 41h0M78 40h0M73 78h0M57 81h0M73 29h0M58 69h0M36 54h0M47 16h0M77 62h0M65 85h0M74 57h0M59 65h0M75 29h0"/><path stroke="#f0dc50" d="M43 68h0M78 56h0M87 37h0M63 36h0M87 36h0M72 63h0M63 60h0M41 57h0M85 54h0M33 65h0M67 55h0M88 50h0M73 29h0M17 51h0M87 71h0M47 27h0M59 57h0M41 14h0M59 51h0M48 57h0M69 54h0M42 56h0M59 61h0M53 29h0M53 56h0M81 44h0M36 71h0M82 45h0M48 20h0M61 51h0M86 48h0M62 39h0M68 34h0M59 18h0M79 78h0M42 71h0M45 65h0M66 53h0M43 67h0M51 45h0M66 54h0M62 38h0M72 50h0M60 15h0M86 35h0M39 11h0M37 65h0M42 59h0M80 45h0M63 39h0M49 71h0M51 51h0M45 59h0M79 34h0M49 46h0M64 71h0M67 77h0M40 65h0M39 72h0M70 23h0M66 73h0M87 45h0M80 79h0M71 46h0M76 52h0M92 51h0M53 79h0M77 33h0M62 38h0M63 71h0M66 38h0M67 57h0M49 39h0M70 41h0M39 60h0M70 68h0M64 38h0M67 39h0M52 46h0M54 60h0"/><path stroke="#3b64bf" d="M77 73h0M41 47h0M76 22h0M73 19h0M80 48h0M90 34h0M62 32h0M63 56h0M55 86h0M75 20h0M61 57h0M58 54h0M56 54h0M50 42h0M54 37h0M56 17h0M66 40h0M68 26h0M56 55h0M85 57h0M63 34h0M64 69h0M77 49h0M56 39h0M51 35h0M64 68h0M79 53h0M54 75h0M63 66h0M59 42h0M54 43h0M82 61h0M41 62h0M42 50h0M79 70h0M68 40h0M60 17h0M65 69h0M82 31h0M32 15h0M61 54h0M86 34h0M45 75h0M59 57h0M50 40h0M57 87h0M39 51h0M78 77h0M43 69h0M60 31h0M78 72h0M57 19h0M83 57h0M54 42h0M54 33h0M48 78h0M40 66h0M50 36h0M36 66h0M48 76h0M84 34h0M61 80h0M56 36h0M64 31h0M74 72h0M73 20h0M55 18h0M51 20h0M49 36h0M58 10h0M55 17h0M49 30h0M57 20h0M78 76h0M51 40h0M81 59h0M56 27h0M41 43h0M70 21h0M87 45h0M83 24h0M82 44h0M47 79h0M41 60h0M67 25h0M61 32h0M86 31h0M44 70h0M69 42h0M73 20h0M91 53h0M41 70h0M77 25h0M42 72h0M65 30h0M75 50h0M61 35h0M46 80h0M65 55h0M50 39h0M37 50h0M41 51h0M64 65h0M52 72h0M54 44h0M60 45h0M60 42h0M52 20h0M52 73h0M51 37h0M90 34h0M53 42h0M40 63h0M55 30h0M68 23h0M65 35h0M50 20h0M82 50h0"/><path stroke="#ec8a38" d="M73 67h0M71 41h0M39 36h0M36 71h0M46 44h0M43 68h0M44 28h0M79 63h0M32 44h0M47 26h0M35 70h0M79 27h0M31 43h0M69 16h0M51 71h0M61 25h0M43 22h0M30 67h0M41 36h0M76 28h0M69 18h0M65 63h0M53 73h0M61 69h0M29 52h0M71 32h0M90 43h0M57 46h0M84 66h0M38 77h0M76 43h0M47 44h0M48 65h0M78 80h0M81 55h0M52 79h0M69 19h0M22 47h0M31 55h0M69 35h0M37 45h0M71 73h0M59 72h0M77 57h0M31 62h0M52 26h0M68 66h0M14 42h0M78 39h0M63 59h0M62 61h0M60 19h0M77 18h0M60 62h0M48 47h0M48 64h0M75 60h0M74 34h0M77 56h0M55 67h0M66 19h0M47 37h0M76 46h0M30 45h0M51 80h0M53 9h0M27 56h0M51 28h0M35 54h0M57 71h0M78 31h0M59 76h0M40 56h0M20 60h0M52 18h0M53 65h0M71 60h0M37 74h0M48 48h0M65 14h0M77 38h0M42 33h0M71 28h0M70 45h0M62 37h0M72 44h0M25 22h0M60 70h0M48 27h0M80 56h0M50 80h0M58 66h0M37 44h0M51 84h0M34 46h0M57 65h0M61 84h0M68 60h0M19 41h0M75 80h0M61 86h0M72 64h0M51 15h0M71 34h0M81 65h0M60 72h0M82 39h0M50 13h0M77 44h0M32 14h0M48 48h0M61 75h0M77 79h0M51 57h0M43 77h0M76 45h0M50 71h0M43 58h0M62 49h0M82 38h0M64 24h0M82 38h0M30 49h0M63 60h0M58 79h0M48 42h0M59 68h0M65 65h0M53 28h0M33 60h0M56 21h0M46 69h0M42 26h0M67 19h0M61 72h0M38 74h0M34 17h0M76 62h0M43 34h0M39 53h0M82 39h0M58 71h0"/><path stroke="#4a78cf" d="M58 25h0M59 35h0M79 24h0M90 60h0M60 15h0M66 25h0M86 30h0M80 69h0M66 29h0M86 26h0M56 11h0M93 46h0"/><path stroke="#e05a28" d="M74 26h0M35 75h0M22 49h0M36 13h0M79 78h0M24 45h0M40 52h0M38 49h0M50 30h0M20 41h0M62 61h0M73 46h0M37 19h0M32 21h0M44 16h0M44 50h0M60 60h0M27 34h0M68 62h0M24 48h0M44 71h0M32 47h0"/><path stroke="#eaeca6" d="M43 18h0M64 27h0M80 67h0M19 57h0M60 41h0"/><path stroke="#cc2a1c" d="M48 29h0"/></g></g><g transform="translate(282.7,340.2)"><rect x="0.5" y="0.5" width="34.2" height="31.3" fill="#fff" stroke="#969696" stroke-width="1.2"/><rect x="33.9" y="0.6" width="1.0" height="31.1" fill="url(#cbar)"/><g clip-path="url(#cpM)"><g opacity="0.75"><rect width="35.4" height="32.3" fill="#c9a564"/><g filter="url(#bl)"><ellipse cx="9" cy="8.5" rx="5.5" ry="5" fill="#ead462"/></g></g><use href="#spM"/></g><g transform="scale(0.3333)" stroke-width="3.6" stroke-linecap="round" fill="none"><path stroke="#f4b840" d="M38 45h0M34 47h0M76 65h0M18 31h0M45 61h0M41 52h0M37 50h0M32 44h0M32 26h0M74 17h0M52 21h0M38 43h0M44 65h0M36 49h0M47 62h0M78 30h0M77 63h0M69 52h0M34 46h0M33 26h0M68 70h0M68 59h0M77 26h0M69 69h0M22 52h0M35 48h0M61 68h0M31 27h0M49 57h0M52 16h0M23 24h0M68 71h0M29 24h0M42 40h0M70 16h0M71 51h0M53 12h0M41 23h0M62 71h0M26 51h0M64 69h0M14 39h0M13 38h0M64 28h0M31 73h0M70 54h0M36 71h0M36 39h0M63 54h0M31 45h0M53 29h0M24 38h0M23 25h0M42 27h0M29 17h0M77 21h0M64 54h0M86 38h0M30 14h0M27 46h0M48 54h0M43 58h0M36 71h0M53 11h0M35 38h0M58 25h0M35 45h0M38 70h0M16 37h0M35 44h0M88 33h0M48 57h0M64 75h0M32 72h0M17 28h0M44 20h0M85 42h0M21 29h0M57 71h0M35 48h0M74 55h0M47 79h0M93 38h0M34 45h0M26 20h0M39 28h0M76 23h0M54 24h0M91 36h0M43 63h0M70 55h0M24 54h0M31 75h0M72 53h0M35 50h0M34 35h0M38 45h0M45 19h0M33 26h0M64 54h0M51 55h0M63 75h0M91 37h0M36 50h0M58 28h0M30 26h0M55 30h0M39 48h0M37 34h0M77 38h0M54 38h0M13 29h0"/><path stroke="#f0dc50" d="M72 28h0M54 54h0M60 62h0M57 40h0M44 16h0M21 32h0M38 59h0M46 46h0M37 29h0M41 63h0M42 47h0M57 43h0M57 62h0M51 66h0M31 34h0M68 28h0M41 46h0M62 38h0M23 23h0M31 52h0M70 53h0M29 59h0M38 27h0M25 28h0M51 73h0M69 27h0M34 31h0M40 58h0M18 31h0M35 40h0M43 70h0M75 59h0M29 50h0M57 34h0M69 30h0M49 41h0M21 39h0M52 51h0M24 27h0M56 42h0M71 73h0M51 46h0M64 16h0M23 37h0M23 26h0M28 31h0M23 31h0M58 62h0M20 37h0M66 61h0M37 28h0M76 20h0M76 29h0M47 38h0M35 28h0M58 41h0M58 42h0M59 63h0M41 16h0M49 70h0M59 56h0M41 25h0M28 31h0M20 49h0M37 57h0M60 59h0M46 10h0M60 58h0M32 36h0M76 59h0M29 57h0M43 45h0M44 69h0M71 26h0M32 61h0M48 72h0M37 27h0M26 32h0M33 30h0M50 69h0M29 36h0M61 12h0M34 24h0M59 58h0M62 46h0M54 72h0M50 10h0M43 55h0M44 41h0M57 58h0M27 45h0M61 24h0M62 33h0M60 47h0M45 66h0M57 52h0M18 24h0M55 53h0M16 23h0M69 66h0M39 24h0M46 33h0M61 62h0M33 25h0M37 67h0M81 40h0M33 54h0M31 36h0M45 10h0M20 26h0M44 19h0M34 31h0M41 16h0M31 27h0M27 35h0M65 58h0M58 40h0M45 50h0M35 60h0M65 60h0M59 24h0M29 62h0M32 34h0M33 23h0M27 39h0M55 42h0M24 31h0M53 70h0M26 31h0M15 50h0M48 63h0M48 34h0M65 59h0M55 45h0M62 20h0M87 53h0M39 59h0M43 22h0M28 31h0M63 42h0M22 29h0M56 37h0M34 63h0M51 34h0M27 36h0M48 40h0M64 18h0M22 24h0M66 30h0M45 38h0M83 47h0M55 41h0M31 62h0M21 32h0M73 48h0M54 44h0M35 23h0M57 35h0M53 45h0"/><path stroke="#ec8a38" d="M53 38h0M58 72h0M49 53h0M70 55h0M38 41h0M43 70h0M13 41h0M43 64h0M36 50h0M65 51h0M27 47h0M53 34h0M45 12h0M66 21h0M42 64h0M63 38h0M73 58h0M32 62h0M50 61h0M61 55h0M41 39h0M50 20h0M63 53h0M39 47h0M66 67h0M59 35h0M46 60h0M61 49h0M53 75h0M81 38h0M24 54h0M66 27h0M81 64h0M18 44h0M55 11h0M77 25h0M39 53h0M28 53h0M62 54h0M36 47h0M40 42h0M57 42h0M44 50h0M79 32h0M43 41h0M79 29h0M36 42h0M75 33h0M76 52h0M32 48h0M46 74h0M44 12h0M50 77h0M47 14h0M75 56h0M64 21h0M74 24h0M43 63h0M43 53h0M71 23h0M71 75h0M39 73h0M81 39h0M43 68h0M50 50h0M30 15h0M33 61h0M66 28h0M36 66h0M27 57h0M72 20h0M62 12h0M47 51h0M51 9h0M43 49h0M60 15h0M70 54h0M56 17h0M34 66h0M47 51h0M56 38h0M68 49h0M56 17h0M70 53h0M48 53h0M62 51h0M44 67h0M57 15h0M30 43h0M58 40h0M16 38h0M40 61h0M55 61h0M51 50h0M45 48h0M27 59h0M63 51h0M56 29h0M59 70h0M36 39h0M36 50h0M61 16h0M86 33h0M38 51h0M66 14h0M77 35h0M24 45h0M50 73h0M40 64h0M32 16h0M64 48h0M52 19h0M44 54h0M43 39h0M36 50h0M40 63h0M66 25h0M40 41h0M40 22h0M67 25h0M69 16h0M75 58h0M49 63h0M43 64h0M27 51h0M63 39h0M64 58h0M70 70h0"/><path stroke="#a6d0de" d="M27 23h0M35 58h0M80 66h0M28 13h0"/><path stroke="#eaeca6" d="M39 59h0M39 17h0M50 57h0M31 17h0M39 59h0M50 33h0M24 39h0M61 53h0M26 25h0M26 23h0M27 28h0M22 39h0M32 40h0M30 22h0M20 38h0M26 30h0M43 42h0M44 46h0M14 25h0M39 63h0M21 26h0M49 72h0M60 42h0M47 9h0M38 28h0M47 43h0"/><path stroke="#3b64bf" d="M65 35h0M43 46h0M45 20h0M75 71h0M42 74h0M45 17h0M44 46h0M79 71h0M57 50h0M49 16h0M45 44h0M69 29h0M33 56h0M64 21h0M45 45h0M63 35h0M54 66h0M45 46h0M54 63h0M66 61h0M44 32h0M71 28h0M41 76h0M55 53h0M56 60h0M72 28h0M60 58h0M40 77h0M74 71h0M47 64h0M32 56h0M43 44h0M35 54h0M62 14h0M79 65h0M47 39h0M48 73h0"/><path stroke="#74a4dc" d="M44 34h0M79 67h0M80 73h0M49 65h0M47 68h0M58 66h0M43 77h0M66 33h0"/><path stroke="#e05a28" d="M53 53h0M27 63h0M71 66h0M61 31h0M43 68h0M54 53h0M41 47h0M55 35h0M25 61h0M73 25h0M46 14h0M75 34h0M36 39h0"/><path stroke="#4a78cf" d="M41 76h0M29 64h0M72 63h0M55 63h0M64 33h0M50 68h0M39 74h0M52 68h0"/><path stroke="#26369a" d="M64 61h0M52 62h0M57 67h0M47 70h0M53 67h0"/></g></g><text x="337" y="300" font-size="8.1" fill="#1a1a1a" stroke="#1a1a1a" stroke-width="0.28" textLength="21.5" lengthAdjust="spacingAndGlyphs">CCR7</text><g transform="translate(330.6,305.3)"><rect x="0.5" y="0.5" width="34.2" height="31.3" fill="#fff" stroke="#969696" stroke-width="1.2"/><rect x="33.9" y="0.6" width="1.0" height="31.1" fill="url(#cbar)"/><g clip-path="url(#cpP)"><g opacity="0.75"><rect width="35.4" height="32.3" fill="#2b3fa0"/><g filter="url(#bl)"><ellipse cx="9.5" cy="11" rx="6" ry="7.5" fill="#7491bd"/></g></g><use href="#spP"/></g><g transform="scale(0.3333)" stroke-width="3.6" stroke-linecap="round" fill="none"><path stroke="#26369a" d="M72 40h0M73 75h0M41 54h0M37 61h0M91 35h0M64 19h0M65 51h0M70 82h0M20 46h0M71 49h0M53 36h0M49 18h0M73 70h0M59 72h0M54 74h0M65 40h0M53 64h0M51 45h0M60 37h0M50 83h0M51 32h0M42 53h0M51 38h0M68 43h0M33 58h0M88 43h0M68 63h0M60 14h0M47 53h0M75 32h0M57 59h0M75 42h0M53 32h0M76 74h0M56 32h0M90 59h0M44 50h0M51 54h0M58 34h0M55 53h0M49 53h0M75 65h0M47 57h0M77 67h0M67 34h0M65 34h0M48 78h0M72 24h0M53 68h0M60 71h0M48 16h0M80 71h0M82 49h0M56 30h0M56 73h0M52 71h0M81 37h0M73 53h0M83 58h0M75 62h0M68 80h0M70 70h0M75 76h0M72 74h0M64 23h0M27 58h0M69 57h0M55 17h0M48 66h0M74 57h0M36 70h0M45 62h0M58 70h0M39 16h0M55 46h0M88 54h0M28 53h0M77 62h0M77 37h0M25 58h0M70 56h0M69 35h0M75 62h0M63 53h0M69 35h0M62 76h0M80 79h0M40 76h0M65 21h0M91 39h0M67 29h0M71 44h0M76 66h0M67 46h0M37 68h0M58 20h0M83 51h0M34 47h0M68 67h0M61 34h0M74 48h0M64 64h0M74 40h0M63 25h0M66 13h0M84 69h0M82 57h0M50 71h0M66 70h0M59 82h0M38 48h0M63 30h0M82 65h0M74 40h0M46 29h0M57 22h0M68 60h0M53 80h0M44 73h0M70 48h0M53 65h0M45 47h0M70 67h0M51 78h0M77 26h0M56 29h0M74 48h0M50 50h0M49 82h0M58 23h0M79 49h0M35 57h0M88 61h0M59 39h0M44 58h0M61 59h0M84 57h0M74 38h0M43 59h0M69 54h0M80 56h0M64 64h0M51 82h0M37 47h0M63 70h0M73 52h0M58 11h0M62 41h0M80 79h0M52 28h0M62 40h0M69 52h0M47 70h0M62 47h0M43 14h0M75 38h0M82 34h0M51 53h0M69 47h0M58 51h0M57 37h0M66 36h0M63 73h0M76 23h0M81 41h0M65 59h0M79 37h0M71 62h0M46 33h0M66 53h0M92 42h0M88 30h0M87 69h0M54 44h0M32 65h0M54 58h0M70 75h0M53 29h0M43 60h0M56 44h0M80 49h0M70 41h0M54 83h0M36 66h0M68 48h0M51 53h0M48 16h0M79 31h0M65 83h0M68 15h0M41 61h0M39 43h0M76 76h0M73 33h0M85 27h0M29 60h0M85 37h0M78 24h0M45 26h0M80 67h0M62 82h0M88 64h0M71 80h0M52 52h0M50 12h0M72 52h0M40 53h0M72 37h0M42 54h0M86 33h0M78 46h0M35 72h0M71 23h0M71 53h0M69 39h0M14 45h0M71 19h0M59 53h0M75 76h0M64 66h0M49 65h0M22 55h0M81 34h0M78 56h0M77 41h0M50 11h0M34 47h0M59 74h0M35 76h0M55 33h0M55 59h0M79 69h0M77 48h0M73 47h0M56 14h0M49 79h0M37 63h0M73 66h0M62 36h0M56 76h0M51 56h0M84 48h0M49 39h0M71 57h0M52 74h0M75 40h0M53 30h0M72 80h0M77 63h0M68 79h0M48 67h0M62 64h0M55 41h0M82 28h0M60 65h0M56 31h0M89 54h0M58 53h0M89 31h0M57 48h0M51 59h0M89 33h0M57 22h0M75 78h0M82 76h0M42 59h0M72 31h0M46 33h0M79 57h0M45 72h0M78 45h0M66 76h0M56 76h0M50 64h0M71 58h0M71 52h0M77 49h0M57 75h0M59 41h0M57 31h0M85 60h0M67 62h0M56 30h0M68 60h0M67 65h0M81 54h0M60 12h0M62 37h0M66 46h0M59 70h0M69 69h0M56 22h0M72 40h0M75 30h0M77 61h0M69 19h0M50 56h0M58 35h0M63 51h0M74 79h0M57 16h0M45 79h0M77 69h0M59 35h0M46 56h0M61 21h0M50 70h0M89 35h0M50 61h0M64 72h0M81 43h0M58 78h0M74 22h0M67 29h0M57 78h0M57 52h0M58 50h0M77 80h0M62 13h0M21 47h0M63 35h0M77 30h0M57 39h0M75 50h0M62 51h0M51 73h0M67 26h0M63 47h0M61 75h0M51 83h0M63 72h0M66 50h0M38 54h0M47 30h0M68 75h0M49 52h0M75 42h0M57 39h0M47 74h0M37 68h0M66 26h0M88 67h0M58 42h0M80 52h0M78 59h0M75 44h0M42 58h0M52 81h0M91 47h0M50 43h0M44 61h0M63 23h0M52 25h0M78 72h0M66 17h0M73 56h0M60 47h0M34 74h0M58 22h0M68 18h0M90 48h0M82 67h0M77 47h0M62 55h0M85 37h0M52 14h0M52 73h0M63 71h0M75 76h0M48 41h0M48 62h0M73 65h0M57 80h0M65 75h0M55 57h0M59 82h0M83 63h0M43 56h0M55 54h0M77 69h0M72 80h0M63 78h0M46 71h0M54 58h0M51 29h0M60 54h0M61 37h0M44 27h0M36 69h0M80 60h0M68 52h0M66 80h0M65 28h0M69 49h0M51 37h0M57 39h0M78 61h0M51 52h0M46 70h0M56 11h0M34 62h0"/><path stroke="#74a4dc" d="M41 29h0M40 51h0M35 16h0M43 30h0M30 51h0M46 44h0M41 19h0M31 37h0M19 27h0M44 25h0M44 31h0M40 50h0M33 57h0M43 51h0M40 20h0M18 33h0M14 29h0M36 25h0M46 29h0M26 40h0M20 57h0M27 39h0"/><path stroke="#3b64bf" d="M49 18h0M69 26h0M43 50h0M72 19h0M55 13h0M50 26h0M52 34h0M67 33h0M39 44h0M66 64h0M35 68h0M66 79h0M48 67h0M66 55h0M49 79h0M43 54h0M31 15h0M40 54h0M50 76h0M52 29h0M81 61h0M47 65h0M61 16h0M81 43h0M51 75h0M42 73h0M45 17h0M50 19h0M89 46h0M74 18h0M72 47h0M66 67h0M64 76h0M79 70h0M80 65h0M59 17h0M61 36h0M48 31h0M81 28h0M45 11h0M49 62h0M92 47h0M46 19h0M53 69h0M50 17h0M68 61h0M57 27h0M80 27h0M61 22h0M58 19h0M57 76h0M56 28h0M81 27h0M63 79h0M75 36h0M61 59h0M77 43h0M55 14h0M49 25h0M58 70h0M19 50h0M79 46h0M68 46h0M52 23h0M81 28h0M64 76h0M16 48h0M52 17h0"/><path stroke="#eaeca6" d="M48 24h0M21 50h0M50 22h0"/><path stroke="#a6d0de" d="M16 35h0M24 30h0M31 58h0M42 10h0"/><path stroke="#4a78cf" d="M31 27h0M80 29h0"/></g></g><g transform="translate(330.6,340.2)"><rect x="0.5" y="0.5" width="34.2" height="31.3" fill="#fff" stroke="#969696" stroke-width="1.2"/><rect x="33.9" y="0.6" width="1.0" height="31.1" fill="url(#cbar)"/><g clip-path="url(#cpM)"><g opacity="0.75"><rect width="35.4" height="32.3" fill="#2b3fa0"/><g filter="url(#bl)"></g></g><use href="#spM"/></g><g transform="scale(0.3333)" stroke-width="3.6" stroke-linecap="round" fill="none"><path stroke="#3b64bf" d="M72 72h0M53 16h0M32 20h0M37 57h0M49 61h0M31 37h0M24 53h0M42 42h0M45 56h0M34 72h0M39 14h0M59 72h0M74 18h0M42 51h0M70 19h0M50 50h0M19 48h0M84 41h0M67 30h0M50 71h0M23 23h0M49 37h0M35 72h0M36 77h0M47 40h0M27 31h0M82 46h0M65 15h0M31 45h0M38 42h0M71 60h0M42 37h0M28 50h0M17 32h0M45 59h0M69 28h0M45 52h0M36 56h0M56 19h0M33 75h0M76 29h0M34 77h0M72 68h0M27 44h0"/><path stroke="#26369a" d="M43 67h0M40 23h0M50 9h0M86 45h0M29 31h0M45 37h0M52 28h0M71 65h0M49 15h0M24 24h0M53 30h0M29 22h0M80 49h0M59 54h0M38 66h0M29 32h0M29 52h0M19 46h0M43 20h0M26 45h0M57 19h0M72 16h0M52 11h0M48 78h0M54 30h0M50 24h0M61 52h0M83 54h0M71 64h0M22 39h0M57 43h0M26 31h0M66 20h0M75 27h0M53 29h0M80 59h0M44 41h0M70 49h0M61 56h0M22 37h0M51 42h0M34 49h0M65 27h0M38 25h0M37 37h0M65 50h0M41 75h0M72 65h0M29 61h0M64 31h0M49 47h0M21 47h0M27 15h0M44 69h0M40 24h0M57 71h0M50 43h0M68 53h0M61 57h0M60 14h0M43 65h0M42 21h0M24 23h0M17 26h0M46 52h0M56 21h0M47 39h0M20 52h0M74 22h0M35 53h0M37 42h0M34 66h0M60 50h0M33 46h0M39 39h0M44 49h0M23 26h0M51 55h0M60 69h0M74 21h0M29 52h0M41 67h0M58 69h0M21 38h0M15 37h0M30 30h0M47 40h0M62 33h0M77 31h0M28 45h0M62 44h0M54 32h0M31 36h0M61 35h0M35 72h0M63 15h0M56 13h0M37 33h0M47 45h0M71 17h0M52 19h0M43 63h0M57 38h0M61 63h0M55 59h0M26 59h0M68 25h0M66 59h0M50 13h0M41 14h0M31 31h0M46 50h0M59 60h0M64 48h0M66 65h0M62 68h0M34 67h0M31 38h0M73 48h0M19 19h0M48 17h0M41 76h0M64 29h0M27 27h0M42 57h0M80 42h0M58 32h0M57 47h0M45 18h0M20 53h0M34 37h0M27 33h0M77 25h0M54 54h0M44 17h0M39 68h0M23 30h0M57 65h0M71 50h0M72 62h0M15 48h0M51 62h0M38 46h0M42 53h0M28 44h0M54 50h0M32 44h0M37 13h0M46 59h0M41 49h0M57 47h0M41 49h0M40 69h0M80 33h0M33 64h0M39 54h0M40 68h0M49 19h0M68 66h0M25 30h0M75 56h0M19 51h0M35 35h0M36 13h0M32 40h0M78 67h0M74 64h0M75 70h0M34 26h0M18 47h0M54 49h0M43 45h0M76 62h0M41 30h0M12 30h0M29 30h0M56 50h0M34 63h0M49 66h0M54 17h0M31 59h0M67 60h0M24 30h0M61 25h0M31 38h0M59 44h0M39 39h0M65 49h0M48 70h0M63 57h0M21 24h0M61 44h0M29 16h0M36 34h0M26 46h0M24 25h0M23 47h0M26 53h0M42 76h0M64 69h0M61 33h0M26 24h0M54 70h0M25 29h0M41 28h0M40 47h0M54 10h0M56 63h0M71 67h0M55 36h0M34 67h0M32 40h0M63 30h0M43 49h0M55 73h0M79 34h0M55 58h0M29 49h0M63 54h0M73 30h0M66 14h0M50 60h0M57 65h0M56 45h0M18 32h0M28 50h0M84 41h0M49 49h0M50 59h0M46 16h0M28 37h0M53 39h0M18 22h0M24 25h0M57 31h0M30 51h0M50 12h0M68 68h0M56 55h0M57 24h0M58 17h0M55 60h0M58 23h0M70 60h0M51 42h0M35 68h0M70 62h0M56 18h0M65 60h0M59 39h0M85 60h0M24 34h0M46 33h0M62 70h0M61 22h0M45 56h0M59 25h0M67 51h0M38 18h0M29 36h0M50 43h0M38 34h0M80 69h0M61 15h0M45 68h0M48 53h0M84 63h0M68 60h0M55 50h0M60 64h0M67 33h0M29 19h0M46 78h0M27 52h0M41 75h0M45 56h0M87 58h0M63 66h0M47 36h0M78 29h0M21 40h0M20 42h0M47 41h0M26 33h0M36 16h0M50 49h0M65 60h0M59 59h0M63 65h0M43 21h0M54 60h0M36 41h0M23 57h0M28 59h0M53 74h0M31 32h0M60 56h0M34 53h0M36 60h0M53 65h0M34 68h0M38 15h0M16 33h0M25 42h0M47 10h0M57 72h0M63 44h0M32 34h0M55 28h0M63 59h0M55 51h0M56 70h0M67 18h0M55 10h0M53 52h0M77 72h0M23 48h0M66 48h0M34 68h0M32 46h0M48 16h0M28 41h0M60 50h0M41 74h0M29 46h0M22 30h0M23 36h0M78 24h0M41 45h0M82 45h0M64 66h0M68 25h0M20 37h0M46 75h0M32 72h0M44 47h0M71 76h0M56 22h0M75 68h0M59 66h0M42 14h0M22 52h0M32 24h0M12 31h0M15 51h0M41 20h0M43 21h0M51 38h0M37 42h0M17 44h0M42 57h0M69 33h0M71 27h0M77 39h0M62 69h0M30 49h0M24 42h0M44 72h0M22 44h0M25 42h0M78 28h0M31 16h0M44 78h0M31 59h0M40 46h0M46 47h0M52 62h0M68 63h0M45 72h0M26 20h0M81 49h0M51 58h0M29 34h0M31 26h0M73 19h0M76 75h0M50 20h0M28 32h0M60 59h0M29 42h0M31 44h0M15 28h0M80 31h0M56 56h0M41 63h0M45 79h0M54 50h0M70 63h0M33 67h0M36 27h0M31 53h0M37 43h0M36 63h0M55 55h0M77 59h0M23 48h0M65 36h0M53 63h0M62 65h0M70 59h0M39 67h0M15 46h0M58 27h0M38 62h0M61 72h0M47 60h0M42 62h0M37 57h0M58 35h0M22 46h0M62 45h0M42 67h0M37 59h0M63 28h0M51 70h0M43 58h0M50 48h0M64 55h0M62 72h0M55 23h0M44 15h0M40 30h0M92 41h0M62 54h0M54 14h0M67 53h0M19 38h0M48 56h0M50 43h0M44 79h0M17 38h0M53 10h0M69 71h0M84 49h0M63 22h0M37 33h0M32 35h0M51 54h0M68 48h0M16 46h0M44 62h0M82 60h0M36 60h0M39 27h0M27 55h0M40 13h0M38 72h0M53 52h0M38 18h0M81 62h0M38 15h0M67 60h0M66 31h0M40 23h0"/><path stroke="#4a78cf" d="M18 39h0M88 42h0"/></g></g><text x="383" y="300" font-size="8.1" fill="#1a1a1a" stroke="#1a1a1a" stroke-width="0.28" textLength="25" lengthAdjust="spacingAndGlyphs">KLRG1</text><g transform="translate(378,305.3)"><rect x="0.5" y="0.5" width="34.2" height="31.3" fill="#fff" stroke="#969696" stroke-width="1.2"/><rect x="33.9" y="0.6" width="1.0" height="31.1" fill="url(#cbar)"/><g clip-path="url(#cpP)"><g opacity="0.75"><rect width="35.4" height="32.3" fill="#2b3fa0"/><g filter="url(#bl)"><ellipse cx="9.5" cy="11" rx="6" ry="7.5" fill="#4d6dbb"/></g></g><use href="#spP"/></g><g transform="scale(0.3333)" stroke-width="3.6" stroke-linecap="round" fill="none"><path stroke="#26369a" d="M39 38h0M64 36h0M53 39h0M83 44h0M72 77h0M92 48h0M43 72h0M68 75h0M49 71h0M58 69h0M35 44h0M55 62h0M90 47h0M48 67h0M78 42h0M36 74h0M47 49h0M56 75h0M71 17h0M45 72h0M72 21h0M20 50h0M63 50h0M58 56h0M76 61h0M75 54h0M69 21h0M77 76h0M41 75h0M76 38h0M40 64h0M49 25h0M58 66h0M42 43h0M62 55h0M52 70h0M33 70h0M85 62h0M55 64h0M46 63h0M90 46h0M80 48h0M75 40h0M68 19h0M69 36h0M27 49h0M38 49h0M85 39h0M69 19h0M81 56h0M69 33h0M83 31h0M77 72h0M64 60h0M58 32h0M83 50h0M57 38h0M58 78h0M43 46h0M70 40h0M78 20h0M54 80h0M55 62h0M84 67h0M39 71h0M47 33h0M29 19h0M76 56h0M79 72h0M83 52h0M82 63h0M79 57h0M46 56h0M72 35h0M41 71h0M38 55h0M42 24h0M86 40h0M58 50h0M60 75h0M55 27h0M64 35h0M66 51h0M49 83h0M54 68h0M83 43h0M68 34h0M48 51h0M54 70h0M48 18h0M72 16h0M83 62h0M72 33h0M65 34h0M78 71h0M38 17h0M73 56h0M45 47h0M55 45h0M73 22h0M41 68h0M58 63h0M51 14h0M43 58h0M47 65h0M28 30h0M40 65h0M64 27h0M82 72h0M18 51h0M44 38h0M45 67h0M70 84h0M45 76h0M41 54h0M73 21h0M73 66h0M24 57h0M75 60h0M48 22h0M53 41h0M47 44h0M24 58h0M53 41h0M57 77h0M71 34h0M76 71h0M80 41h0M75 71h0M58 71h0M69 44h0M57 77h0M72 50h0M49 33h0M80 68h0M80 69h0M67 18h0M83 71h0M42 34h0M46 23h0M38 72h0M47 83h0M74 25h0M52 70h0M70 55h0M63 42h0M66 28h0M70 29h0M59 35h0M74 39h0M49 15h0M43 73h0M63 65h0M50 67h0M65 67h0M73 21h0M40 57h0M65 31h0M72 22h0M69 81h0M65 77h0M63 60h0M37 42h0M63 65h0M46 44h0M70 28h0M73 56h0M71 54h0M64 49h0M50 62h0M31 31h0M82 62h0M40 20h0M51 82h0M63 45h0M39 40h0M49 69h0M36 48h0M43 69h0M79 69h0M68 46h0M83 52h0M87 38h0M60 61h0M66 35h0M54 35h0M59 67h0M69 52h0M72 41h0M48 47h0M86 55h0M46 75h0M80 77h0M45 46h0M46 79h0M49 15h0M43 51h0M50 54h0M74 72h0M60 20h0M73 36h0M46 81h0M36 69h0M42 16h0M74 27h0M75 66h0M58 50h0M80 71h0M43 63h0M36 70h0M58 29h0M79 67h0M79 77h0M63 52h0M76 38h0M62 41h0M59 49h0M45 72h0M49 61h0M78 45h0M84 31h0M85 62h0M65 53h0M60 39h0M49 55h0M58 40h0M57 85h0M38 50h0M64 45h0M77 35h0M62 72h0M55 55h0M75 19h0M56 48h0M75 75h0M47 62h0M54 11h0M73 22h0M60 37h0M85 38h0M59 18h0M76 65h0M76 24h0M86 64h0M47 48h0M69 30h0M44 68h0M91 54h0M41 55h0M49 25h0M69 32h0M64 85h0M49 64h0M75 75h0M62 40h0M58 71h0M77 40h0M73 64h0M46 14h0M54 16h0M78 27h0M65 45h0M55 24h0M75 24h0M81 35h0M55 51h0M40 15h0M67 45h0M17 46h0M81 46h0M83 37h0M55 62h0M53 28h0M73 30h0M59 27h0M42 55h0M65 74h0M57 72h0M78 60h0M90 40h0M79 51h0M77 48h0M65 49h0M26 53h0M74 60h0M38 61h0M37 72h0M70 20h0M40 17h0M66 30h0M73 65h0M29 46h0M69 41h0M33 44h0M60 83h0M51 41h0M48 27h0M63 83h0M81 40h0M60 28h0M48 75h0M69 52h0M85 35h0M43 44h0M50 15h0M75 36h0M55 44h0M43 26h0M49 28h0M32 63h0M65 45h0M47 57h0M20 53h0M55 70h0M64 29h0M69 76h0M76 36h0M85 41h0M53 84h0M58 49h0M44 37h0M76 70h0M39 72h0M57 26h0M67 46h0M65 52h0M67 50h0M77 69h0M43 66h0M65 77h0M83 51h0M47 23h0M56 61h0M66 21h0M71 60h0M38 45h0M75 71h0M85 57h0M69 55h0M42 49h0M83 35h0M39 74h0M86 58h0M58 33h0M68 66h0M63 32h0M46 40h0M68 79h0M71 17h0M67 47h0M67 77h0M47 47h0M80 41h0M43 35h0M44 41h0M75 57h0M90 55h0M87 38h0M47 48h0M53 44h0M55 85h0M46 19h0M28 35h0M53 54h0M76 69h0M41 65h0M53 53h0M58 44h0M82 67h0M70 44h0M72 28h0M37 62h0M81 50h0M56 29h0M70 35h0M56 43h0M75 57h0M55 44h0M31 64h0M64 28h0M76 67h0M41 61h0M85 43h0M48 46h0M84 43h0M39 65h0M55 52h0M46 72h0M63 83h0M72 33h0M56 73h0M57 77h0M52 31h0M73 21h0M68 34h0M73 28h0M74 35h0M63 21h0M61 53h0M80 56h0M72 54h0M47 16h0M88 50h0M49 57h0M70 23h0M67 46h0M39 53h0M58 79h0M67 33h0M74 36h0M52 77h0M47 50h0M29 66h0M55 27h0M45 61h0M88 50h0M53 41h0M31 54h0M58 72h0M22 57h0M82 55h0M78 38h0M76 70h0M75 74h0"/><path stroke="#3b64bf" d="M83 50h0M49 83h0M72 49h0M52 71h0M55 21h0M82 45h0M23 61h0M42 59h0M87 54h0M47 30h0M84 37h0M76 63h0M78 46h0M70 44h0M75 44h0M62 71h0M74 47h0M68 48h0M49 37h0M52 44h0M52 81h0M81 45h0M60 43h0M54 42h0M56 30h0M63 66h0M79 21h0M38 40h0M72 79h0M83 29h0M60 68h0M40 50h0M37 62h0M59 59h0M69 58h0M40 68h0M59 76h0M58 70h0M60 68h0M59 68h0M69 68h0M84 48h0M84 38h0M80 48h0M51 41h0M49 32h0M81 74h0M47 67h0M71 49h0M66 42h0M50 30h0M61 73h0M79 59h0M66 69h0"/><path stroke="#74a4dc" d="M32 55h0M33 54h0M19 40h0M20 41h0M23 36h0M34 52h0M38 17h0M21 23h0M35 47h0M33 64h0M32 20h0M20 40h0M18 45h0M15 28h0M39 54h0"/><path stroke="#a6d0de" d="M37 29h0"/><path stroke="#4a78cf" d="M44 74h0M24 47h0M15 29h0M42 31h0M33 47h0M37 26h0"/></g></g><g transform="translate(378,340.2)"><rect x="0.5" y="0.5" width="34.2" height="31.3" fill="#fff" stroke="#969696" stroke-width="1.2"/><rect x="33.9" y="0.6" width="1.0" height="31.1" fill="url(#cbar)"/><g clip-path="url(#cpM)"><g opacity="0.75"><rect width="35.4" height="32.3" fill="#2b3fa0"/><g filter="url(#bl)"><ellipse cx="15" cy="14" rx="0.8" ry="0.8" fill="#ec8a38"/><ellipse cx="24" cy="9" rx="0.7" ry="0.7" fill="#ec8a38"/><ellipse cx="12" cy="20" rx="0.7" ry="0.7" fill="#ec8a38"/></g></g><use href="#spM"/></g><g transform="scale(0.3333)" stroke-width="3.6" stroke-linecap="round" fill="none"><path stroke="#26369a" d="M21 23h0M27 51h0M19 44h0M11 39h0M39 58h0M65 23h0M59 61h0M40 50h0M31 62h0M64 69h0M64 23h0M80 66h0M56 13h0M67 29h0M60 33h0M25 43h0M21 26h0M59 68h0M37 32h0M68 73h0M16 42h0M53 28h0M66 63h0M59 73h0M53 77h0M59 30h0M53 67h0M40 54h0M66 22h0M78 25h0M44 40h0M27 19h0M49 41h0M71 22h0M54 65h0M63 65h0M49 66h0M59 34h0M79 32h0M45 40h0M63 23h0M76 55h0M28 55h0M48 36h0M33 26h0M35 52h0M32 27h0M60 43h0M84 57h0M51 76h0M63 25h0M33 47h0M38 26h0M91 36h0M66 26h0M68 51h0M60 52h0M23 24h0M26 42h0M25 39h0M56 58h0M58 20h0M56 24h0M73 19h0M75 57h0M75 64h0M24 29h0M47 52h0M61 19h0M48 59h0M40 75h0M29 17h0M40 70h0M19 43h0M61 64h0M59 52h0M59 44h0M64 26h0M67 20h0M60 42h0M31 52h0M64 69h0M64 21h0M57 31h0M47 55h0M65 44h0M44 14h0M45 51h0M33 68h0M30 27h0M50 43h0M31 34h0M65 71h0M62 27h0M53 29h0M46 49h0M48 67h0M84 30h0M29 45h0M42 70h0M46 40h0M61 20h0M81 29h0M54 18h0M45 52h0M68 61h0M31 71h0M82 37h0M30 61h0M35 46h0M40 16h0M50 63h0M39 19h0M75 62h0M64 67h0M38 59h0M11 41h0M54 55h0M21 23h0M38 16h0M49 9h0M53 68h0M34 43h0M52 49h0M18 49h0M83 69h0M54 54h0M76 59h0M25 46h0M25 46h0M63 62h0M33 20h0M57 45h0M64 60h0M61 22h0M54 20h0M79 52h0M60 62h0M81 59h0M28 36h0M61 71h0M71 66h0M23 18h0M20 24h0M37 45h0M48 45h0M19 30h0M58 42h0M81 47h0M53 73h0M61 19h0M28 53h0M19 47h0M67 64h0M31 53h0M40 40h0M90 40h0M44 54h0M37 37h0M70 28h0M31 59h0M30 19h0M57 48h0M47 55h0M57 44h0M68 33h0M29 51h0M77 28h0M65 65h0M80 68h0M84 36h0M42 47h0M30 63h0M18 24h0M61 53h0M31 38h0M69 57h0M18 51h0M62 16h0M46 11h0M48 42h0M65 25h0M86 54h0M33 39h0M35 18h0M78 66h0M55 38h0M31 36h0M68 53h0M73 17h0M67 67h0M73 52h0M31 36h0M54 45h0M29 42h0M34 59h0M73 59h0M50 45h0M59 58h0M35 66h0M38 22h0M14 29h0M50 54h0M85 50h0M32 45h0M51 52h0M38 63h0M68 55h0M35 30h0M55 50h0M35 63h0M42 64h0M75 71h0M49 43h0M58 32h0M73 64h0M27 26h0M40 48h0M55 13h0M35 21h0M41 59h0M28 50h0M40 16h0M37 35h0M91 34h0M23 23h0M77 20h0M35 50h0M21 45h0M54 29h0M60 25h0M66 55h0M43 70h0M79 60h0M64 29h0M54 70h0M78 50h0M16 32h0M78 24h0M42 60h0M67 63h0M37 35h0M24 41h0M31 28h0M69 25h0M62 57h0M40 27h0M33 34h0M27 42h0M43 69h0M66 27h0M22 48h0M37 48h0M29 35h0M39 37h0M30 20h0M28 15h0M64 25h0M90 37h0M58 29h0M44 68h0M73 31h0M12 41h0M69 52h0M53 34h0M29 33h0M27 54h0M73 32h0M68 62h0M19 20h0M42 64h0M47 45h0M15 25h0M68 54h0M60 48h0M27 35h0M15 26h0M69 29h0M59 30h0M24 49h0M37 30h0M19 30h0M56 59h0M16 44h0M48 60h0M53 24h0M47 60h0M63 57h0M59 70h0M78 73h0M85 64h0M23 27h0M35 30h0M70 26h0M45 54h0M30 29h0M55 18h0M58 71h0M24 43h0M40 53h0M35 23h0M34 41h0M38 50h0M14 35h0M39 56h0M64 34h0M57 41h0M18 38h0M35 56h0M73 60h0M22 50h0M33 73h0M66 57h0M31 66h0M61 66h0M50 52h0M51 77h0M64 48h0M36 11h0M32 60h0M34 40h0M14 29h0M39 69h0M19 32h0M29 36h0M38 62h0M39 55h0M47 47h0M46 58h0M35 52h0M62 64h0M82 34h0M29 57h0M66 58h0M15 48h0M58 27h0M58 26h0M61 29h0M47 11h0M40 78h0M32 54h0M33 28h0M27 35h0M79 68h0M56 24h0M25 29h0M64 58h0M53 27h0M15 39h0M29 47h0M26 30h0M45 55h0M35 25h0M38 37h0M22 38h0M61 35h0M38 62h0M34 17h0M59 47h0M26 19h0M33 61h0M59 46h0M62 22h0M48 46h0M23 23h0M23 29h0M61 36h0M62 24h0M76 59h0M86 48h0M64 18h0M57 72h0M63 46h0M58 70h0M73 62h0M61 53h0M62 57h0M55 13h0M58 14h0M19 24h0M85 34h0M39 15h0M64 71h0M18 43h0M55 17h0M88 36h0M61 31h0M34 68h0M50 36h0M32 43h0M22 47h0M80 64h0M38 37h0M35 18h0M29 47h0M46 69h0M85 34h0M53 72h0M39 37h0M81 45h0M47 39h0M55 26h0M34 54h0M17 44h0M64 51h0M27 19h0M25 16h0M60 13h0M25 39h0M79 32h0M38 64h0M55 22h0M54 52h0M30 20h0M63 18h0M56 49h0M20 41h0M37 17h0M63 74h0M36 62h0M24 52h0M37 40h0M59 24h0M51 50h0M40 50h0M31 53h0M27 55h0M78 35h0M76 24h0M25 48h0"/><path stroke="#3b64bf" d="M73 61h0M33 43h0M57 16h0M14 28h0M40 21h0M27 23h0M79 63h0M61 19h0M73 22h0M42 25h0M24 29h0M24 34h0M76 46h0M40 19h0M68 60h0M67 55h0M56 44h0M68 76h0M42 67h0M52 30h0M57 40h0M84 53h0M19 48h0M13 39h0M21 32h0M30 70h0M55 43h0M63 68h0M65 51h0M38 25h0M58 29h0M32 44h0M53 10h0M48 46h0M50 57h0M49 76h0M40 56h0M53 9h0M25 33h0M64 74h0M29 54h0M51 54h0M25 54h0M62 26h0M60 43h0M88 54h0M60 60h0M45 33h0M64 28h0M69 31h0M26 32h0M24 30h0M33 53h0M53 43h0M68 19h0M30 58h0M35 69h0M42 18h0M48 22h0M25 58h0M37 23h0M34 24h0"/><path stroke="#74a4dc" d="M62 27h0"/><path stroke="#ec8a38" d="M73 27h0M44 43h0"/><path stroke="#4a78cf" d="M45 76h0M24 33h0M48 49h0M47 48h0M53 63h0"/></g></g><text x="434.2" y="300" font-size="8.1" fill="#1a1a1a" stroke="#1a1a1a" stroke-width="0.28" textLength="20.2" lengthAdjust="spacingAndGlyphs">CD57</text><g transform="translate(426.1,305.3)"><rect x="0.5" y="0.5" width="34.2" height="31.3" fill="#fff" stroke="#969696" stroke-width="1.2"/><rect x="33.9" y="0.6" width="1.0" height="31.1" fill="url(#cbar)"/><g clip-path="url(#cpP)"><g opacity="0.75"><rect width="35.4" height="32.3" fill="#4169c1"/><g filter="url(#bl)"><ellipse cx="9.5" cy="11" rx="6" ry="7.5" fill="#71a0d8"/><ellipse cx="9" cy="14" rx="5" ry="9" fill="#71a0d8"/><ellipse cx="28.5" cy="16" rx="4.2" ry="10" fill="#ea8535"/><ellipse cx="23.8" cy="16" rx="1.3" ry="10" fill="#ead462"/></g></g><use href="#spP"/></g><g transform="scale(0.3333)" stroke-width="3.6" stroke-linecap="round" fill="none"><path stroke="#26369a" d="M53 71h0M55 20h0M55 22h0M45 51h0M43 56h0M53 24h0M47 47h0M63 40h0M46 64h0M63 20h0M52 24h0M64 77h0M67 61h0M37 73h0M60 66h0M59 59h0M50 72h0M45 54h0M53 64h0M76 66h0M57 81h0M61 55h0M63 85h0M39 67h0M45 63h0M52 11h0M60 21h0M58 59h0M53 76h0M74 76h0M69 18h0M44 16h0M57 61h0M12 34h0M59 39h0M33 14h0M63 21h0M69 23h0M43 68h0M38 71h0"/><path stroke="#3b64bf" d="M64 25h0M35 69h0M71 79h0M55 31h0M61 33h0M67 75h0M57 37h0M36 61h0M40 76h0M41 52h0M80 66h0M39 66h0M46 73h0M67 34h0M47 23h0M57 42h0M74 24h0M54 24h0M34 66h0M46 73h0M54 11h0M52 51h0M51 17h0M62 14h0M57 52h0M34 38h0M63 39h0M64 83h0M62 40h0M58 62h0M60 43h0M66 78h0M53 37h0M50 23h0M65 34h0M44 18h0M37 64h0M55 63h0M62 16h0M46 69h0M59 67h0M63 64h0M57 61h0M69 16h0M60 78h0M68 84h0M49 42h0M62 52h0M43 51h0M72 82h0M43 79h0M57 37h0M53 80h0M45 78h0M52 25h0M45 63h0M63 80h0M44 15h0M80 66h0M34 74h0M61 37h0M43 80h0M56 44h0M59 43h0M46 75h0M33 68h0M48 78h0M47 22h0M77 58h0M46 61h0M62 52h0M48 36h0M75 70h0M54 42h0M57 50h0M53 38h0M55 53h0M57 33h0M57 47h0M36 65h0M53 51h0M38 62h0M62 49h0M44 52h0M53 22h0M49 48h0M49 44h0M68 29h0M51 37h0M66 72h0M43 42h0M46 49h0M57 62h0M51 15h0M68 57h0M64 83h0M52 41h0M55 64h0M57 34h0M56 67h0M51 69h0M47 77h0M53 49h0M71 76h0M42 71h0M47 46h0M53 23h0M43 77h0M61 86h0M63 35h0M54 53h0M54 31h0M42 60h0M50 79h0M55 67h0M63 38h0M59 61h0M62 40h0M57 25h0M60 37h0M67 40h0M57 82h0M48 24h0M51 21h0M73 18h0M56 34h0M68 76h0M60 55h0M70 71h0M48 33h0M63 52h0M61 49h0M46 71h0M71 29h0M22 52h0M58 52h0M45 15h0M50 19h0M37 11h0M61 53h0M45 64h0M62 80h0M38 62h0M66 50h0M63 74h0M45 18h0M58 62h0M66 39h0M67 48h0M62 85h0M31 69h0M43 16h0M46 52h0M35 65h0M36 66h0M56 26h0M63 40h0M54 22h0M51 26h0M56 42h0M47 81h0M67 27h0M51 51h0M42 75h0M31 66h0M61 63h0M50 25h0M43 80h0M56 34h0M57 83h0M51 61h0"/><path stroke="#f0dc50" d="M70 72h0M71 49h0M73 45h0M73 45h0M70 38h0M75 46h0M73 31h0M69 66h0M72 30h0M70 23h0M73 77h0M69 47h0M74 45h0M70 56h0M69 32h0M71 67h0M69 56h0M70 34h0M70 48h0M71 69h0M74 47h0M70 76h0M72 78h0M73 55h0M73 71h0"/><path stroke="#4a78cf" d="M71 19h0M40 70h0M64 44h0M19 48h0M56 77h0M53 54h0M75 24h0M38 57h0M38 49h0M60 75h0M59 86h0M47 33h0M76 19h0M47 70h0M36 38h0M57 55h0M43 23h0M69 71h0M49 25h0M42 68h0M62 81h0M44 45h0M60 22h0M47 68h0M67 80h0M61 28h0M41 70h0M27 44h0M59 83h0M56 79h0M62 26h0M38 57h0M35 17h0M65 66h0M56 32h0M64 74h0M68 21h0M58 56h0M46 57h0M41 27h0M73 81h0M52 64h0M43 50h0M48 32h0M65 14h0M52 81h0M48 32h0M55 48h0M44 66h0M67 64h0M51 76h0M22 31h0M48 9h0M60 29h0M41 28h0M62 31h0M62 64h0M29 56h0M34 75h0M63 71h0M31 62h0M30 42h0M64 69h0M65 62h0M59 19h0M60 45h0M32 52h0M39 56h0M52 55h0M43 41h0M61 81h0M51 17h0M58 77h0M56 38h0M48 65h0M38 12h0M68 78h0M37 18h0M57 20h0M53 79h0M57 27h0M54 21h0M55 16h0M50 13h0M75 35h0M64 32h0M57 23h0M57 47h0M15 49h0M78 69h0M47 56h0M28 66h0M53 77h0M22 51h0M53 66h0M42 53h0M19 37h0M55 63h0M49 48h0M74 77h0M56 56h0M34 49h0M59 31h0M43 44h0M58 23h0M54 76h0M34 57h0M62 54h0M49 18h0M21 47h0M65 64h0"/><path stroke="#ec8a38" d="M83 34h0M84 51h0M87 33h0M82 38h0M84 34h0M87 57h0M88 29h0M84 52h0M77 64h0M83 64h0M85 63h0M78 65h0M84 66h0M77 69h0M85 38h0M85 27h0M82 38h0M89 44h0M81 59h0M83 67h0M80 29h0M77 47h0M79 61h0M83 61h0M88 32h0M77 56h0M92 47h0M80 51h0M78 57h0M77 44h0M89 63h0M82 37h0M79 57h0M77 63h0M81 68h0"/><path stroke="#74a4dc" d="M44 20h0M15 44h0M48 47h0M60 70h0M64 26h0M41 32h0M38 32h0M47 41h0M44 32h0M43 34h0M41 44h0M25 38h0M31 49h0M32 43h0M38 21h0M44 40h0M35 60h0M55 69h0M29 45h0M33 63h0M30 67h0M44 21h0M26 34h0M22 54h0M66 71h0M39 18h0M19 49h0M28 31h0M54 56h0M31 50h0M46 31h0M34 68h0M19 54h0M37 39h0M41 24h0M39 38h0M45 28h0M65 22h0M44 22h0M37 63h0M38 20h0M28 51h0M42 34h0M43 35h0M21 30h0M33 69h0M66 29h0M70 60h0M17 29h0M37 36h0"/><path stroke="#e05a28" d="M80 53h0M78 71h0M83 39h0M91 48h0M77 31h0M80 44h0M79 42h0M81 47h0M83 40h0M88 63h0M85 57h0M87 63h0M84 40h0M84 47h0M88 43h0M79 38h0M85 56h0M88 58h0M84 65h0M90 48h0M89 65h0M79 40h0M90 37h0M79 73h0M84 52h0M88 65h0M78 36h0M89 64h0M78 40h0M88 62h0M76 50h0M77 44h0M84 53h0M87 47h0M79 45h0M88 66h0M75 67h0M80 28h0"/><path stroke="#f4b840" d="M85 73h0M77 37h0M71 60h0M70 36h0M75 23h0M80 61h0M70 54h0M78 70h0M70 57h0M74 36h0M73 37h0"/><path stroke="#a6d0de" d="M20 51h0M35 59h0M33 68h0M37 51h0M38 56h0M38 29h0M46 29h0M71 63h0M15 28h0"/><path stroke="#eaeca6" d="M70 56h0M70 43h0M68 63h0M41 56h0M74 37h0M73 39h0M72 39h0M73 60h0"/><path stroke="#cc2a1c" d="M85 45h0M79 53h0"/></g></g><g transform="translate(426.1,340.2)"><rect x="0.5" y="0.5" width="34.2" height="31.3" fill="#fff" stroke="#969696" stroke-width="1.2"/><rect x="33.9" y="0.6" width="1.0" height="31.1" fill="url(#cbar)"/><g clip-path="url(#cpM)"><g opacity="0.75"><rect width="35.4" height="32.3" fill="#4e7bcd"/><g filter="url(#bl)"><ellipse cx="25.5" cy="19" rx="4" ry="6" fill="#eb8a36"/><ellipse cx="22" cy="21" rx="1.2" ry="4" fill="#ead462"/></g></g><use href="#spM"/></g><g transform="scale(0.3333)" stroke-width="3.6" stroke-linecap="round" fill="none"><path stroke="#4a78cf" d="M50 32h0M12 42h0M40 36h0M31 41h0M35 36h0M57 34h0M13 48h0M25 20h0M55 21h0M37 35h0M13 40h0M36 11h0M71 20h0M55 55h0M51 32h0M54 28h0M49 52h0M36 43h0M49 78h0M47 52h0M78 32h0M14 46h0M20 33h0M27 38h0M42 66h0M51 61h0M44 48h0M49 40h0M16 48h0M51 52h0M15 40h0M41 48h0M31 23h0M61 54h0M55 52h0M54 53h0M22 51h0M53 51h0M62 33h0M35 69h0M66 48h0M36 42h0M15 48h0M40 68h0M37 25h0M57 53h0M33 73h0M52 52h0M60 42h0M37 39h0M41 66h0M34 34h0M39 39h0M38 36h0M57 20h0M71 16h0M35 43h0M37 24h0M39 45h0M34 73h0M38 49h0M56 58h0M59 27h0M56 50h0M31 18h0M57 53h0M35 23h0M62 41h0M76 28h0M77 29h0M40 39h0M17 34h0M80 37h0M55 41h0M50 40h0M59 42h0M26 50h0M49 39h0M18 51h0M46 15h0M38 50h0M77 31h0M29 22h0M58 52h0M60 15h0M45 46h0M42 12h0M73 75h0M59 62h0M65 48h0M46 59h0M55 17h0M34 63h0M60 19h0M53 33h0M43 38h0M55 56h0M50 33h0M74 19h0M52 56h0M44 38h0M45 62h0M56 53h0M57 66h0M56 29h0M42 38h0M34 29h0M39 48h0M36 46h0M32 23h0M28 20h0M23 33h0M59 35h0M60 40h0M49 36h0M40 64h0M32 39h0M47 52h0M59 45h0M34 75h0M62 36h0M72 19h0M47 52h0M29 12h0M41 35h0M37 47h0M71 75h0M40 54h0M50 40h0M57 55h0M40 48h0M70 20h0M64 24h0M50 52h0M29 45h0M41 40h0M29 65h0M18 46h0M44 50h0M91 35h0M34 48h0M16 50h0M41 69h0M41 25h0M53 34h0M53 17h0M14 38h0M53 30h0M29 21h0M50 42h0M50 60h0M32 56h0M52 50h0M19 29h0M57 53h0M56 76h0M85 37h0M65 25h0M39 35h0M53 38h0M56 32h0M44 53h0M25 47h0M45 60h0M42 36h0M49 60h0M42 25h0M57 53h0M28 21h0M33 57h0M41 42h0M58 63h0M49 31h0M75 29h0M16 42h0M39 38h0M14 26h0M30 46h0M35 54h0M39 47h0M61 52h0M76 30h0M50 49h0M30 43h0M58 56h0M50 44h0M33 73h0M35 24h0M33 32h0M62 14h0M16 50h0M41 45h0M36 46h0M20 34h0M71 20h0M48 55h0M33 56h0M82 29h0M58 61h0M33 27h0M27 33h0M69 72h0M41 53h0M29 23h0M29 12h0M34 27h0M85 31h0M49 50h0M37 46h0M87 35h0M12 31h0"/><path stroke="#a6d0de" d="M29 58h0M43 73h0M47 46h0M65 20h0M21 24h0"/><path stroke="#3b64bf" d="M81 37h0M71 25h0M46 38h0M61 68h0M18 47h0M86 34h0M46 33h0M38 17h0M51 32h0M59 21h0M32 12h0M22 26h0M66 23h0M36 19h0M63 52h0M36 76h0M90 38h0M32 39h0M37 74h0M41 73h0M23 46h0M38 71h0M37 68h0M33 69h0M37 38h0M50 34h0M52 15h0M22 43h0M63 51h0M26 36h0M50 74h0M42 69h0M47 69h0M62 20h0M18 46h0M34 15h0M27 52h0M30 70h0M62 47h0M56 59h0M55 64h0M56 54h0M37 20h0M43 76h0M26 55h0M51 31h0M25 48h0M29 30h0M47 18h0M52 75h0M50 30h0M45 40h0M55 66h0M50 22h0M61 47h0M38 74h0M65 24h0M47 45h0M63 50h0M61 61h0M48 70h0M23 47h0M67 22h0M24 18h0M34 65h0M75 24h0M52 66h0M84 34h0M56 32h0M45 41h0M44 67h0M29 65h0M38 72h0M37 15h0M67 75h0M25 25h0M20 47h0M31 15h0M48 76h0M51 49h0M43 38h0M39 15h0M90 38h0M23 19h0M59 53h0M24 47h0M51 72h0M21 44h0M38 73h0M33 18h0M49 76h0M40 13h0M73 26h0M48 61h0M44 79h0M67 74h0M86 40h0M23 56h0M15 50h0M41 70h0M77 19h0M36 22h0M48 42h0M39 73h0M61 74h0M59 48h0M38 59h0M46 35h0M18 45h0M77 33h0M69 27h0M58 63h0M55 16h0M30 65h0M31 50h0M44 58h0M27 26h0M43 34h0M15 26h0M47 12h0M28 49h0M43 39h0M34 54h0M45 56h0M31 47h0M21 51h0M43 15h0M58 44h0M46 20h0M64 52h0M43 69h0M72 25h0M51 16h0M60 45h0M51 38h0M18 43h0M30 54h0M42 66h0M55 67h0M41 31h0M45 41h0M41 14h0M54 46h0M47 41h0M44 77h0M49 49h0M59 50h0M42 75h0M88 41h0M62 28h0M29 65h0M25 47h0M47 53h0M39 73h0M50 17h0M63 52h0M21 40h0M65 33h0M76 21h0"/><path stroke="#74a4dc" d="M39 11h0M39 74h0M35 17h0M42 45h0M68 22h0M41 76h0M40 75h0M25 56h0M33 68h0M26 25h0M56 62h0M41 73h0M38 76h0M50 44h0M46 72h0M45 74h0M54 13h0M44 70h0M45 38h0M30 19h0M45 73h0M23 33h0M39 58h0M32 72h0M18 47h0M75 33h0M44 68h0M77 19h0M61 49h0M55 37h0M64 56h0M34 62h0M50 31h0M38 18h0M39 76h0M31 39h0M45 32h0M57 29h0M36 39h0M39 16h0M32 53h0M55 13h0M45 73h0M50 73h0M67 72h0M49 51h0M73 33h0M34 13h0M26 57h0M57 47h0M82 36h0"/><path stroke="#f4b840" d="M71 53h0M67 72h0M71 69h0M70 69h0M77 72h0M71 63h0M73 62h0M68 61h0M74 62h0M77 64h0M75 62h0M65 63h0M65 63h0M74 49h0M77 46h0M86 52h0M70 47h0"/><path stroke="#f0dc50" d="M68 61h0M67 59h0M64 70h0M66 59h0M69 68h0M65 71h0M70 60h0M64 57h0M66 54h0"/><path stroke="#ec8a38" d="M62 60h0M76 69h0M69 46h0M70 51h0M83 41h0M75 57h0M86 63h0M70 58h0M73 59h0M70 61h0M75 62h0M71 53h0M70 51h0M77 53h0M83 60h0M69 56h0M66 53h0M84 63h0M77 52h0M74 66h0M63 56h0M70 50h0M80 66h0M76 58h0"/><path stroke="#26369a" d="M22 27h0M31 18h0M56 62h0M40 15h0M60 28h0M74 30h0M34 69h0M38 76h0M68 32h0M22 40h0"/><path stroke="#e05a28" d="M65 52h0M73 63h0M71 62h0M82 61h0M75 61h0M73 51h0M74 62h0M77 47h0M72 69h0M77 47h0M71 64h0"/><path stroke="#eaeca6" d="M67 55h0M66 67h0"/><path stroke="#cc2a1c" d="M66 52h0"/></g></g><text x="482" y="300" font-size="8.1" fill="#1a1a1a" stroke="#1a1a1a" stroke-width="0.28" textLength="20.8" lengthAdjust="spacingAndGlyphs">CD16</text><g transform="translate(474.6,305.3)"><rect x="0.5" y="0.5" width="34.2" height="31.3" fill="#fff" stroke="#969696" stroke-width="1.2"/><rect x="33.9" y="0.6" width="1.0" height="31.1" fill="url(#cbar)"/><g clip-path="url(#cpP)"><g opacity="0.75"><rect width="35.4" height="32.3" fill="#dc5528"/><g filter="url(#bl)"><ellipse cx="9.5" cy="11" rx="6" ry="7.5" fill="#71a0d8"/><ellipse cx="13.2" cy="16" rx="1.8" ry="11" fill="#ead462"/><ellipse cx="7" cy="15" rx="4" ry="9" fill="#71a0d8"/><ellipse cx="22" cy="14" rx="5" ry="8" fill="#c9311e"/></g></g><use href="#spP"/></g><g transform="scale(0.3333)" stroke-width="3.6" stroke-linecap="round" fill="none"><path stroke="#ec8a38" d="M71 31h0M50 60h0M52 46h0M56 63h0M70 33h0M46 74h0M74 66h0M78 30h0M49 30h0M74 82h0M55 18h0M45 14h0M50 72h0M84 43h0M45 29h0M79 65h0M84 41h0M52 45h0M60 76h0M85 46h0M84 50h0M50 64h0M65 70h0M84 55h0M86 47h0M85 44h0M48 58h0M69 67h0M50 22h0M80 31h0M50 61h0M44 58h0M74 70h0"/><path stroke="#eaeca6" d="M45 35h0M44 60h0M14 37h0M43 42h0M41 46h0M35 60h0M42 61h0M38 49h0M44 46h0M40 44h0"/><path stroke="#e05a28" d="M80 64h0M47 21h0M44 76h0M59 51h0M47 82h0M65 63h0M49 16h0M50 23h0M45 37h0M65 13h0M62 42h0M41 69h0M54 77h0M88 51h0M54 24h0M73 66h0M48 22h0M89 33h0M60 78h0M49 48h0M73 76h0M78 60h0M92 42h0M77 66h0M35 67h0M48 17h0M77 38h0M54 78h0M32 66h0M44 75h0M51 34h0M53 57h0M86 35h0M81 63h0M70 73h0M79 62h0M40 77h0M50 81h0M52 60h0M87 57h0M61 74h0M47 24h0M74 16h0M59 68h0M87 42h0M84 57h0M69 20h0M54 54h0M88 55h0M79 55h0M51 81h0M73 17h0M60 15h0M85 49h0M76 70h0M80 54h0M53 67h0M34 62h0M59 71h0M51 58h0M70 73h0M88 48h0M42 12h0M78 45h0M61 47h0M53 56h0M77 66h0M42 20h0M65 46h0M71 78h0M71 64h0M50 15h0M48 50h0M79 62h0M64 36h0M79 47h0M59 11h0M37 69h0M43 67h0M57 14h0M77 29h0M57 18h0M72 76h0M64 56h0M67 76h0M48 19h0M62 72h0M54 58h0M56 79h0M59 69h0M88 47h0M48 80h0M60 72h0M68 23h0M73 18h0M53 12h0M54 68h0M52 57h0M77 72h0M51 38h0M46 46h0M53 57h0M37 68h0M88 42h0M45 61h0M34 69h0M80 63h0M89 42h0M72 74h0M74 29h0M50 31h0M74 74h0M48 50h0M47 15h0M79 71h0M43 19h0M64 62h0M45 20h0M78 65h0M54 78h0M55 65h0M56 73h0M58 59h0M72 81h0M57 75h0M63 43h0M89 46h0M52 41h0M88 69h0M79 67h0M46 17h0M78 61h0M54 79h0M50 39h0M49 44h0M67 76h0M61 79h0M80 62h0M51 80h0M50 56h0M59 66h0M82 70h0M80 71h0M47 50h0M84 37h0M57 83h0M67 22h0"/><path stroke="#cc2a1c" d="M84 36h0M56 29h0M63 58h0M74 51h0M47 55h0M75 16h0M72 36h0M64 80h0M58 61h0M60 56h0M71 44h0M53 13h0M75 44h0M89 55h0M79 45h0M79 26h0M46 31h0M58 31h0M54 75h0M72 51h0M62 86h0M45 48h0M75 44h0M61 35h0M46 66h0M63 63h0M54 16h0M48 50h0M51 62h0M85 51h0M54 62h0M64 86h0M64 75h0M52 54h0M64 60h0M66 70h0M48 40h0M60 52h0M52 50h0M52 66h0M70 58h0M72 25h0M68 43h0M70 57h0M71 59h0M46 72h0M72 37h0M46 53h0M86 69h0M62 13h0M53 51h0M57 30h0M73 67h0M69 35h0M51 22h0M68 62h0M69 64h0M61 16h0M74 74h0M77 61h0M50 54h0M63 68h0M53 60h0M46 70h0M61 31h0M52 36h0M57 55h0M68 40h0M71 73h0M84 51h0M90 32h0M74 30h0M32 59h0M49 44h0M62 79h0M91 55h0M66 41h0M59 81h0M64 21h0M57 56h0M63 29h0M59 57h0M49 29h0M60 15h0M46 28h0M83 45h0M49 20h0M43 17h0M63 49h0M84 47h0M51 15h0M74 55h0M44 20h0M65 63h0M62 65h0M60 70h0M76 32h0M60 78h0M51 70h0M64 12h0M81 73h0M81 21h0M50 72h0M72 62h0M57 28h0M74 45h0M61 59h0M59 41h0M62 35h0M57 23h0M84 52h0M77 53h0M43 16h0M74 49h0M52 13h0M75 58h0M62 61h0M56 84h0M52 40h0M52 70h0M55 57h0M65 19h0M79 40h0M78 66h0M64 52h0M70 46h0M50 66h0M57 36h0M56 81h0M48 15h0M85 52h0M76 44h0M87 50h0M55 37h0M53 65h0M67 42h0M64 27h0M69 20h0M62 60h0M61 49h0M34 65h0M45 71h0M76 51h0M55 72h0M44 11h0M60 82h0M72 25h0M82 68h0M76 45h0M78 49h0M71 53h0M54 31h0M70 35h0"/><path stroke="#74a4dc" d="M30 53h0M21 50h0M19 52h0M17 47h0M17 25h0M51 25h0M17 51h0M34 41h0M17 53h0M21 26h0M44 15h0M30 22h0M39 18h0M17 24h0M45 51h0M26 48h0M18 54h0M24 49h0M28 66h0M26 63h0M35 17h0M30 56h0"/><path stroke="#4a78cf" d="M20 56h0M35 12h0M46 44h0M46 36h0M19 58h0M14 45h0M27 30h0M23 48h0M20 53h0M31 39h0M20 51h0M28 45h0M33 53h0M20 30h0"/><path stroke="#f0dc50" d="M42 42h0M40 43h0M42 73h0M44 54h0M37 63h0M39 65h0M37 46h0M39 69h0M43 53h0M37 45h0M37 61h0M40 44h0M37 23h0M43 15h0M43 72h0M38 67h0M40 49h0M36 61h0M42 50h0M43 40h0M43 58h0M38 58h0M41 41h0M43 19h0M37 66h0M40 66h0M36 60h0M39 51h0M39 46h0M42 55h0M42 23h0M44 67h0M41 20h0"/><path stroke="#b0201a" d="M80 43h0M69 54h0M39 13h0M71 54h0M79 32h0M79 32h0M69 51h0M73 23h0M75 28h0M69 55h0M49 52h0M72 40h0M54 49h0M67 58h0M77 33h0M49 53h0M78 28h0M72 53h0M65 22h0M61 50h0M51 56h0M79 53h0M76 33h0M64 35h0M59 77h0M83 48h0M72 30h0M61 53h0M59 22h0M61 40h0M54 47h0M63 54h0M63 36h0M77 23h0M64 19h0M79 42h0M64 75h0M76 48h0M65 71h0M70 52h0M77 37h0M86 62h0M72 27h0M80 72h0M61 52h0M55 44h0M82 49h0M58 21h0M71 34h0M55 53h0M79 33h0M60 19h0M80 28h0M74 37h0M55 28h0M62 26h0M65 43h0"/><path stroke="#f4b840" d="M42 45h0M40 53h0M42 66h0M41 60h0M36 50h0M49 74h0M42 53h0M52 29h0M42 61h0M44 49h0M44 58h0M40 66h0M43 49h0M40 52h0M61 82h0M45 68h0M39 17h0M41 64h0M50 61h0M41 52h0M40 24h0M77 30h0M38 71h0M41 50h0"/><path stroke="#a6d0de" d="M31 25h0M42 61h0M16 32h0M19 58h0M43 62h0"/><path stroke="#3b64bf" d="M14 43h0M26 24h0"/></g></g><g transform="translate(474.6,340.2)"><rect x="0.5" y="0.5" width="34.2" height="31.3" fill="#fff" stroke="#969696" stroke-width="1.2"/><rect x="33.9" y="0.6" width="1.0" height="31.1" fill="url(#cbar)"/><g clip-path="url(#cpM)"><g opacity="0.75"><rect width="35.4" height="32.3" fill="#eb8a36"/><g filter="url(#bl)"><ellipse cx="8.5" cy="11" rx="4.5" ry="7.5" fill="#2b3fa0"/><ellipse cx="12.8" cy="12" rx="1.5" ry="7" fill="#a6d0de"/><ellipse cx="14.8" cy="12" rx="1.5" ry="9" fill="#ead462"/><ellipse cx="22" cy="10" rx="5" ry="5" fill="#dc5528"/><ellipse cx="8" cy="21" rx="3" ry="3" fill="#4169c1"/></g></g><use href="#spM"/></g><g transform="scale(0.3333)" stroke-width="3.6" stroke-linecap="round" fill="none"><path stroke="#e05a28" d="M67 54h0M41 71h0M62 26h0M61 30h0M64 24h0M62 19h0M41 75h0M51 33h0M49 13h0M37 64h0M69 57h0M90 34h0M49 49h0M57 38h0M76 58h0M64 29h0M55 57h0M54 23h0M75 56h0M58 29h0M36 71h0M86 53h0M53 24h0M69 57h0M38 70h0M58 32h0M88 38h0M53 54h0M65 32h0M79 36h0M59 33h0M63 52h0M60 36h0M42 71h0M64 57h0M55 20h0M68 15h0M57 21h0M51 59h0M67 33h0M27 20h0M35 57h0M86 38h0M54 68h0M36 56h0M65 59h0M70 52h0M57 32h0M80 50h0M55 27h0M67 33h0M55 30h0M55 32h0M61 44h0M39 64h0M63 63h0M65 63h0M42 72h0M70 63h0M92 36h0M81 67h0M52 14h0M37 58h0M51 13h0M33 71h0M62 17h0M66 67h0M73 69h0M78 58h0M52 38h0M52 78h0M88 53h0M43 61h0M25 52h0M53 74h0M62 28h0M65 20h0M79 26h0M85 44h0M83 48h0M58 25h0M54 56h0M63 32h0M59 68h0M68 57h0M58 16h0M55 51h0M48 61h0M68 62h0M40 60h0M63 55h0M47 66h0M55 73h0M76 67h0M59 31h0M61 68h0M54 34h0M31 14h0M62 36h0M61 32h0M60 45h0M57 25h0M77 54h0M59 22h0M42 72h0M67 53h0M36 62h0M51 72h0M56 34h0"/><path stroke="#a6d0de" d="M37 44h0M38 47h0M37 46h0M38 36h0M35 41h0M39 21h0M37 53h0M37 30h0M38 31h0M40 35h0M40 32h0M38 56h0M35 43h0M33 39h0M40 24h0M39 26h0M39 21h0M37 53h0M37 56h0M38 42h0M37 24h0M37 24h0M42 31h0M37 24h0M37 55h0M36 51h0"/><path stroke="#ec8a38" d="M90 39h0M55 71h0M15 27h0M37 65h0M77 62h0M54 52h0M84 62h0M61 55h0M37 58h0M35 64h0M56 72h0M53 14h0M50 15h0M58 71h0M85 39h0M50 55h0M74 63h0M71 25h0M53 32h0M68 62h0M50 44h0M39 63h0M55 58h0M36 20h0M47 50h0M82 46h0M90 37h0M41 60h0M56 45h0M51 57h0M34 26h0M52 15h0M50 55h0M51 53h0M69 73h0M69 67h0M59 13h0M60 27h0M17 43h0M86 35h0M32 17h0M74 25h0M69 68h0M54 73h0M71 69h0M69 28h0M17 42h0M59 70h0M53 26h0M34 67h0M65 29h0M45 52h0M69 49h0M55 36h0M13 41h0M60 48h0M32 70h0M50 72h0M72 70h0M48 33h0M66 43h0M60 32h0M79 50h0M66 72h0M37 17h0M70 72h0M51 18h0M53 55h0M40 68h0M51 74h0M36 68h0M56 56h0M12 31h0M50 19h0M55 59h0M52 17h0M63 44h0M64 61h0M53 12h0M86 32h0M73 52h0M79 50h0M61 25h0M65 48h0M66 63h0M41 61h0M53 48h0M56 9h0M66 69h0M34 43h0M53 15h0M63 52h0M49 75h0M42 17h0M38 76h0M76 27h0M70 60h0M41 61h0M71 60h0M44 76h0M33 56h0M75 47h0M56 43h0M36 67h0M52 56h0M68 58h0M83 54h0M36 68h0M51 48h0M71 24h0M59 52h0M46 74h0M47 66h0M64 70h0M53 15h0M42 75h0M61 29h0M67 60h0M70 59h0M44 78h0M71 23h0M81 60h0M81 31h0M83 42h0M17 35h0M84 40h0M77 28h0M53 59h0M62 56h0M52 35h0M72 22h0M49 57h0"/><path stroke="#f4b840" d="M72 56h0M28 52h0M75 27h0M54 69h0M86 52h0M46 63h0M56 66h0M35 61h0M46 41h0M49 39h0M61 41h0M45 47h0M13 37h0M43 77h0M53 68h0M53 61h0M45 49h0M60 46h0M40 14h0M45 52h0M42 67h0M54 66h0M47 65h0M60 38h0M50 62h0M70 55h0M67 56h0M79 59h0M49 47h0M40 76h0M34 59h0M51 40h0M82 28h0M44 47h0M65 61h0M52 59h0M43 72h0M46 49h0M78 28h0M41 13h0M56 65h0M61 66h0M32 43h0M50 61h0M39 64h0M56 12h0M83 50h0M53 41h0M49 61h0M54 39h0M85 38h0M45 60h0M52 66h0M42 66h0M48 36h0M43 66h0M78 67h0M88 49h0M49 52h0M40 23h0M52 10h0M76 70h0M84 50h0M46 16h0M40 23h0M61 19h0M52 10h0M84 49h0M41 54h0M51 64h0M81 53h0"/><path stroke="#3b64bf" d="M31 47h0M29 59h0M33 41h0M33 39h0M26 26h0M28 57h0M32 45h0M16 38h0M33 23h0M28 59h0M29 58h0M20 43h0M35 26h0M29 35h0"/><path stroke="#26369a" d="M18 33h0M32 45h0M14 42h0M24 38h0M23 27h0M19 27h0M18 37h0M27 20h0M26 25h0M31 27h0M14 44h0M23 27h0M32 40h0M36 21h0M26 31h0M18 43h0M20 48h0M24 36h0M26 29h0M16 31h0M27 43h0M22 32h0M18 30h0M26 57h0M21 34h0M22 43h0M28 42h0M27 38h0M20 21h0M34 19h0M32 49h0M28 24h0M23 27h0M30 40h0M24 44h0M16 39h0M28 47h0M29 49h0M23 37h0M14 39h0M26 22h0M30 22h0M18 41h0M24 24h0M25 52h0M19 25h0M13 44h0M29 42h0M25 34h0M19 42h0M31 20h0M30 23h0M36 14h0M34 38h0M34 48h0M28 34h0M34 26h0M31 50h0M26 24h0M16 44h0M31 32h0M28 20h0M33 47h0M22 21h0M32 37h0M24 43h0M32 38h0M31 47h0M24 25h0M24 19h0M27 36h0M35 33h0M31 40h0M17 31h0M25 52h0M21 35h0M23 48h0M32 47h0M16 46h0M29 39h0M20 34h0M34 27h0"/><path stroke="#f0dc50" d="M41 16h0M47 50h0M44 51h0M61 44h0M45 46h0M47 11h0M35 11h0M47 54h0M43 53h0M42 37h0M46 52h0M42 33h0M45 45h0M42 47h0M44 40h0M46 39h0M48 42h0M46 16h0M42 57h0"/><path stroke="#cc2a1c" d="M53 25h0M64 21h0M59 39h0M55 33h0M74 25h0M57 39h0M73 21h0M67 28h0M69 26h0M56 18h0M78 26h0M65 66h0M70 20h0M49 66h0M74 19h0M76 31h0M73 21h0M59 23h0M67 25h0M75 20h0M62 45h0M62 20h0M55 29h0M58 22h0M67 19h0M71 28h0M65 52h0M68 26h0M65 29h0M31 60h0M60 38h0M78 36h0M75 29h0"/><path stroke="#eaeca6" d="M41 41h0M44 24h0M45 46h0M37 48h0M37 23h0M46 61h0M42 54h0M39 35h0"/><path stroke="#b0201a" d="M58 22h0M69 20h0M61 36h0"/><path stroke="#4a78cf" d="M30 59h0M31 60h0"/><path stroke="#74a4dc" d="M28 59h0"/></g></g><text x="23" y="323.9" font-size="7.7" fill="#1a1a1a" stroke="#1a1a1a" stroke-width="0.28" textLength="17.9" lengthAdjust="spacingAndGlyphs">KIR+</text><text x="24" y="358.7" font-size="7.7" fill="#1a1a1a" stroke="#1a1a1a" stroke-width="0.28" textLength="16.4" lengthAdjust="spacingAndGlyphs">KIR -</text><text x="53.5" y="429.2" font-size="8.1" fill="#1a1a1a" stroke="#1a1a1a" stroke-width="0.28" textLength="16.7" lengthAdjust="spacingAndGlyphs">T-bet</text><g transform="translate(43.8,435.1)"><rect x="0.5" y="0.5" width="34.2" height="31.3" fill="#fff" stroke="#969696" stroke-width="1.2"/><rect x="33.9" y="0.6" width="1.0" height="31.1" fill="url(#cbar)"/><g clip-path="url(#cpP)"><g opacity="0.75"><rect width="35.4" height="32.3" fill="#5481d0"/><g filter="url(#bl)"><ellipse cx="9.5" cy="11" rx="6" ry="7.5" fill="#7ba8da"/><ellipse cx="23.5" cy="8.5" rx="8.5" ry="5" fill="#dc5528"/><ellipse cx="25" cy="8" rx="5" ry="3" fill="#c9311e"/><ellipse cx="25" cy="14.5" rx="7" ry="1.2" fill="#ede47b"/></g></g><use href="#spP"/></g><g transform="scale(0.3333)" stroke-width="3.6" stroke-linecap="round" fill="none"><path stroke="#74a4dc" d="M62 56h0M68 57h0M49 75h0M23 54h0M56 40h0M55 12h0M48 52h0M30 14h0M58 86h0M58 60h0M69 37h0M41 50h0M55 68h0M82 56h0M66 75h0M55 75h0M34 52h0M67 68h0M20 54h0M51 47h0M74 57h0M64 80h0M54 84h0M71 75h0M90 38h0M59 58h0M35 61h0M52 76h0M49 63h0M49 30h0M55 56h0M81 70h0M34 66h0M55 49h0M75 57h0M78 46h0M69 73h0M73 57h0M18 30h0M39 37h0M47 34h0M59 67h0M49 14h0M67 57h0M60 60h0M48 55h0M20 40h0M48 61h0M50 83h0M80 55h0M40 41h0M56 50h0M61 71h0M62 40h0M77 48h0M36 71h0M69 72h0M44 78h0M78 57h0M86 55h0M51 81h0M38 19h0M31 45h0M52 57h0M58 63h0M79 54h0M18 42h0M57 58h0M47 75h0M64 77h0M77 48h0M45 45h0M60 64h0M57 71h0M83 59h0M33 52h0M26 29h0M70 78h0M59 37h0M38 61h0M77 65h0M20 27h0M33 64h0M44 26h0M58 55h0M69 82h0M39 62h0M77 69h0M40 61h0M54 47h0M66 61h0M32 56h0M63 66h0M57 74h0M34 51h0M37 16h0M63 84h0M71 72h0M70 76h0M92 40h0M51 52h0M25 52h0M68 59h0M44 51h0M77 52h0M70 57h0M35 72h0M79 67h0M60 74h0M65 61h0M58 68h0M29 31h0M67 75h0M48 56h0M87 66h0M71 62h0M52 15h0M39 22h0M34 75h0M38 61h0M71 83h0M92 38h0M59 56h0M56 72h0M30 47h0M79 71h0M69 84h0M34 61h0M22 42h0M63 84h0M61 59h0"/><path stroke="#3b64bf" d="M40 48h0M80 69h0M41 45h0M53 15h0M46 26h0M12 36h0M43 73h0M55 55h0M81 59h0M59 39h0M54 54h0M51 70h0M64 66h0M81 58h0M86 36h0M75 56h0M49 40h0M59 62h0M53 58h0M49 79h0M81 73h0M52 78h0M39 37h0M76 57h0M61 67h0M74 59h0M91 55h0M56 51h0M52 79h0M50 58h0M48 36h0M43 30h0"/><path stroke="#a6d0de" d="M63 45h0M55 77h0M39 47h0M30 24h0M29 31h0M46 24h0M38 43h0M37 36h0M28 29h0M34 64h0M20 46h0M29 45h0M40 27h0M41 36h0M29 45h0M40 47h0M22 44h0M55 80h0M62 72h0M77 73h0M16 30h0M70 41h0M37 26h0M32 21h0M14 44h0M53 15h0M59 60h0"/><path stroke="#4a78cf" d="M65 81h0M44 58h0M39 57h0M45 59h0M48 29h0M50 17h0M38 48h0M50 68h0M43 67h0M74 77h0M23 53h0M44 16h0M42 57h0M26 64h0M89 62h0M44 52h0M53 48h0M49 43h0M47 50h0M92 52h0M44 11h0M64 73h0M39 66h0M84 63h0M36 73h0M45 70h0M86 62h0M31 70h0M75 62h0M43 66h0M91 53h0M40 52h0M40 49h0M31 59h0M33 74h0M40 76h0M51 17h0M44 58h0M71 64h0M63 51h0M40 73h0M77 53h0M51 15h0M59 77h0M51 73h0M85 59h0M58 69h0M88 40h0M88 40h0M60 81h0M81 74h0M59 54h0M49 11h0M50 48h0M66 51h0M56 83h0M63 81h0M70 48h0M62 36h0M76 52h0M59 53h0M44 47h0M47 21h0M85 64h0M52 64h0M56 80h0M87 37h0M61 54h0M51 67h0M82 38h0M75 53h0M92 41h0M40 49h0M44 15h0M62 55h0M47 60h0M82 61h0M52 17h0M71 54h0M48 19h0M76 72h0M64 82h0M85 34h0M84 49h0M44 57h0M66 73h0M56 79h0M40 66h0M60 66h0M38 73h0M44 14h0M47 66h0M51 81h0M48 19h0M18 55h0M51 68h0M79 68h0M91 53h0M25 17h0M65 50h0M69 53h0M52 45h0M71 75h0M81 65h0M85 72h0M45 16h0M69 49h0M53 46h0M48 18h0M62 50h0M30 55h0M50 75h0M52 9h0M49 11h0M55 77h0M66 63h0M57 73h0M39 73h0M61 49h0M58 62h0M50 72h0M46 17h0M43 67h0M43 57h0M73 49h0M83 61h0M58 50h0M40 58h0M59 54h0M41 52h0M55 73h0M67 80h0M52 40h0M59 82h0M43 57h0M49 73h0M52 69h0M44 64h0M47 72h0M45 53h0M88 39h0M47 62h0M40 16h0M47 70h0M20 46h0M75 67h0M49 74h0M54 63h0M59 79h0M43 51h0M40 22h0M53 47h0M68 59h0M58 54h0M71 50h0M50 68h0M58 47h0M77 48h0M53 53h0M47 43h0M56 50h0M81 35h0M51 60h0M61 54h0"/><path stroke="#f0dc50" d="M63 42h0M88 42h0M76 45h0M85 45h0M74 45h0M77 45h0M78 45h0M79 43h0M63 46h0M80 40h0M92 45h0M74 46h0M74 40h0M78 45h0"/><path stroke="#e05a28" d="M77 36h0M64 18h0M52 34h0M68 35h0M57 29h0M58 19h0M54 33h0M55 22h0M66 22h0M57 22h0M61 22h0M62 17h0M55 22h0M55 36h0M50 18h0M60 24h0M77 21h0M48 32h0M57 21h0M54 18h0M65 39h0M75 38h0M54 25h0M85 26h0M56 27h0M85 32h0M65 38h0M88 31h0M59 17h0M59 39h0M66 35h0M87 36h0M64 23h0M50 17h0M66 31h0M60 18h0M65 39h0M53 22h0M48 19h0M66 32h0"/><path stroke="#ec8a38" d="M60 18h0M51 26h0M65 17h0M50 26h0M47 24h0M88 34h0M49 29h0M49 26h0M56 19h0M53 20h0M58 24h0M60 39h0M51 25h0"/><path stroke="#cc2a1c" d="M68 27h0M67 23h0M50 34h0M48 28h0M45 26h0M69 29h0M71 22h0M68 28h0M70 28h0M66 25h0M52 33h0M70 30h0M76 30h0M66 28h0M46 17h0M59 22h0M62 22h0M51 26h0M66 25h0M78 37h0M65 30h0M59 27h0M80 31h0M53 36h0M71 39h0M68 16h0M59 27h0M68 19h0M53 15h0M67 24h0M63 28h0M62 20h0M65 25h0M68 30h0M69 19h0M79 31h0M59 33h0M56 36h0M62 26h0M56 39h0M76 36h0M74 18h0M63 19h0M55 22h0M54 24h0M77 30h0"/><path stroke="#b0201a" d="M73 24h0M70 22h0M81 31h0M82 22h0M75 20h0M73 25h0M62 23h0M76 18h0M62 34h0"/><path stroke="#eaeca6" d="M81 43h0M86 46h0M84 44h0M70 45h0M86 47h0M67 40h0M70 43h0M79 45h0M69 44h0M67 41h0M64 44h0M46 38h0M68 42h0M66 41h0M69 42h0M35 18h0M65 42h0M81 44h0M67 43h0M66 47h0M53 45h0M89 41h0M83 41h0"/><path stroke="#f4b840" d="M55 43h0"/></g></g><g transform="translate(43.8,469.1)"><rect x="0.5" y="0.5" width="34.2" height="31.3" fill="#fff" stroke="#969696" stroke-width="1.2"/><rect x="33.9" y="0.6" width="1.0" height="31.1" fill="url(#cbar)"/><g clip-path="url(#cpM)"><g opacity="0.75"><rect width="35.4" height="32.3" fill="#5481d0"/><g filter="url(#bl)"><ellipse cx="19" cy="7" rx="10" ry="4.5" fill="#dc5528"/><ellipse cx="22" cy="6" rx="5" ry="3" fill="#c9311e"/><ellipse cx="18" cy="12.5" rx="10" ry="1.2" fill="#eaeca6"/></g></g><use href="#spM"/></g><g transform="scale(0.3333)" stroke-width="3.6" stroke-linecap="round" fill="none"><path stroke="#eaeca6" d="M52 38h0M49 38h0M57 39h0M40 34h0M43 39h0M64 36h0M57 42h0M31 36h0M49 36h0M61 34h0M48 38h0M29 38h0M34 38h0M43 41h0M79 39h0M34 34h0M36 35h0M47 40h0M59 35h0M36 40h0M45 39h0M57 36h0M56 40h0M45 39h0M57 34h0M56 36h0M60 38h0"/><path stroke="#4a78cf" d="M44 45h0M39 45h0M75 27h0M58 69h0M82 53h0M36 18h0M42 49h0M60 70h0M45 49h0M39 45h0M58 49h0M59 48h0M45 54h0M65 58h0M22 32h0M43 71h0M56 52h0M57 69h0M39 54h0M24 34h0M76 60h0M41 58h0M28 29h0M40 60h0M40 56h0M45 61h0M59 72h0M46 47h0M16 42h0M80 58h0M15 26h0M27 30h0M20 48h0M28 30h0M40 76h0M49 62h0M38 46h0M62 67h0M51 64h0M59 60h0M51 61h0M49 40h0M56 65h0M57 43h0M59 68h0M59 42h0M36 37h0M42 61h0M59 44h0M24 33h0M83 66h0M60 44h0M38 46h0M43 53h0M60 60h0M26 23h0M57 51h0M48 58h0M34 33h0M46 52h0M44 45h0M22 35h0M54 66h0M42 41h0M42 45h0M85 49h0M46 73h0M29 20h0M35 45h0M66 65h0M58 73h0M43 63h0M28 54h0M32 30h0M60 66h0M46 55h0M34 45h0M31 35h0M24 29h0M29 29h0M63 69h0M28 21h0M49 43h0M45 45h0M36 45h0M41 46h0M62 69h0M80 43h0M61 49h0M42 45h0M15 46h0M48 64h0M78 68h0M62 47h0M45 60h0M42 46h0M46 65h0M20 39h0M65 46h0M61 49h0M52 56h0M43 61h0M43 44h0M80 33h0M83 52h0M67 64h0M38 75h0M63 66h0M46 54h0M72 29h0M71 75h0M76 44h0M84 65h0M35 61h0M26 28h0M29 62h0M33 49h0M24 18h0M71 72h0M63 48h0M14 26h0M71 59h0M59 48h0M61 48h0M30 15h0M28 47h0M46 61h0M41 55h0M73 61h0M68 65h0M70 51h0M57 61h0M60 72h0M84 42h0M31 29h0M60 45h0M70 48h0M63 48h0M74 61h0M59 44h0M25 42h0M15 35h0M55 67h0M55 54h0M41 62h0M78 60h0M27 44h0M76 47h0M38 59h0M56 49h0M22 31h0M81 64h0M35 34h0M69 65h0M82 50h0M38 64h0M47 71h0M72 49h0"/><path stroke="#74a4dc" d="M82 53h0M33 61h0M18 50h0M31 52h0M32 49h0M23 42h0M21 22h0M79 67h0M42 49h0M19 45h0M55 53h0M45 33h0M22 41h0M54 60h0M26 43h0M31 50h0M37 57h0M55 67h0M34 42h0M16 33h0M36 63h0M33 54h0M19 26h0M56 43h0M29 22h0M32 55h0M64 49h0M28 41h0M71 70h0M79 66h0M30 53h0M57 43h0M32 61h0M55 41h0M66 72h0M40 55h0M39 44h0M77 44h0M20 28h0M81 51h0M24 19h0M41 54h0M58 56h0M54 45h0M75 54h0M69 53h0M53 65h0M16 34h0M25 40h0M76 34h0M16 33h0M53 47h0M53 49h0M40 68h0M20 41h0M19 27h0M21 52h0M19 51h0M83 55h0M77 34h0M73 60h0M35 47h0M34 53h0M44 68h0M19 50h0M35 61h0M84 37h0M50 48h0M71 53h0M73 61h0M23 24h0M52 59h0M49 79h0M66 60h0M41 76h0M65 52h0M66 75h0M30 67h0M53 62h0M31 69h0M33 45h0M33 57h0M60 60h0M45 46h0M35 45h0M20 45h0M82 71h0M36 55h0M66 56h0M39 30h0M42 65h0M46 12h0M32 64h0M22 27h0M65 55h0M49 45h0M20 38h0M84 46h0M29 44h0M56 71h0M73 50h0M29 51h0M19 27h0M45 32h0M36 46h0M35 42h0M69 54h0M53 71h0M19 43h0M33 24h0M22 45h0M69 49h0M27 41h0M35 54h0M36 29h0M70 58h0M52 64h0M38 55h0M27 41h0M50 59h0M76 71h0M50 48h0M47 69h0M17 40h0M24 24h0M69 55h0M83 44h0M22 39h0M39 49h0M54 45h0M76 69h0M42 54h0M24 25h0M56 47h0M16 32h0M32 63h0M56 49h0M53 60h0M29 42h0M36 28h0M16 33h0M29 40h0M66 61h0M37 30h0M60 51h0M33 52h0M31 67h0M57 57h0M35 44h0M85 46h0M43 68h0M53 54h0"/><path stroke="#3b64bf" d="M23 24h0M38 61h0M62 53h0M73 67h0M41 50h0M32 36h0M42 50h0M22 43h0M36 68h0M39 71h0M53 9h0M89 46h0M49 58h0M20 40h0M51 67h0M68 52h0M29 17h0M34 22h0M51 50h0M59 57h0M51 50h0M76 58h0M27 62h0M52 68h0M22 52h0M49 78h0M50 69h0M72 69h0M49 69h0M70 57h0M63 67h0M23 40h0M85 47h0M24 25h0M52 76h0M57 73h0M29 36h0M18 34h0M39 51h0M25 51h0M18 38h0M62 55h0"/><path stroke="#e05a28" d="M48 15h0M47 19h0M55 30h0M39 23h0M48 16h0M56 30h0M66 24h0M79 27h0M46 19h0M51 10h0M51 16h0M60 27h0M57 30h0M50 17h0M41 27h0M52 17h0M54 29h0M41 15h0M49 10h0M49 12h0M61 30h0M52 16h0M31 20h0M52 19h0M41 20h0M37 18h0M59 12h0M31 30h0M39 15h0M29 27h0M39 25h0M47 21h0M35 15h0M57 21h0M51 14h0M40 14h0M55 21h0M59 29h0M56 25h0M31 19h0M27 22h0M43 23h0M52 17h0M34 27h0M55 27h0"/><path stroke="#cc2a1c" d="M61 21h0M59 25h0M39 19h0M38 21h0M44 13h0M40 26h0M59 12h0M36 29h0M74 28h0M45 33h0M50 21h0M40 18h0M41 18h0M39 27h0M36 27h0M58 18h0M57 24h0M40 28h0M67 23h0M66 32h0M38 32h0M46 9h0M45 13h0M26 25h0M73 20h0M34 24h0M39 24h0M65 23h0M51 31h0M42 18h0M62 18h0M78 21h0M41 27h0M65 32h0M34 25h0M61 26h0M68 27h0M59 16h0M72 20h0M72 17h0"/><path stroke="#a6d0de" d="M75 36h0M17 28h0M74 31h0M54 58h0M71 65h0M46 39h0M62 43h0M49 35h0M22 17h0M30 43h0M73 54h0M48 70h0M46 35h0M67 65h0M22 38h0M30 50h0M49 75h0"/><path stroke="#ec8a38" d="M67 30h0M34 27h0M65 29h0M36 18h0M54 26h0M49 14h0M76 19h0M46 16h0M68 26h0"/><path stroke="#b0201a" d="M58 13h0M69 14h0M62 15h0M61 14h0M56 12h0"/><path stroke="#26369a" d="M73 57h0M51 51h0"/><path stroke="#f0dc50" d="M47 41h0M59 35h0M44 40h0"/></g></g><text x="97.7" y="429.2" font-size="8.1" fill="#1a1a1a" stroke="#1a1a1a" stroke-width="0.28" textLength="23.1" lengthAdjust="spacingAndGlyphs">Eomes</text><g transform="translate(91.5,435.1)"><rect x="0.5" y="0.5" width="34.2" height="31.3" fill="#fff" stroke="#969696" stroke-width="1.2"/><rect x="33.9" y="0.6" width="1.0" height="31.1" fill="url(#cbar)"/><g clip-path="url(#cpP)"><g opacity="0.75"><rect width="35.4" height="32.3" fill="#5481d0"/><g filter="url(#bl)"><ellipse cx="9.5" cy="11" rx="6" ry="7.5" fill="#a6c7cc"/><ellipse cx="23.5" cy="8.5" rx="8.5" ry="5" fill="#eb8a36"/><ellipse cx="25" cy="8" rx="5" ry="3" fill="#dc5528"/><ellipse cx="25" cy="14.5" rx="7" ry="1.2" fill="#ede47b"/></g></g><use href="#spP"/></g><g transform="scale(0.3333)" stroke-width="3.6" stroke-linecap="round" fill="none"><path stroke="#e05a28" d="M62 33h0M58 11h0M79 22h0M81 32h0M69 22h0M78 34h0M64 30h0M59 24h0M54 31h0M65 27h0M60 15h0M72 38h0M56 22h0M61 32h0M45 18h0M69 33h0M85 28h0M60 38h0M66 24h0M51 24h0M78 33h0M67 32h0M62 24h0M56 26h0M65 15h0M47 13h0M66 27h0M63 21h0M55 22h0M69 28h0M83 30h0M82 29h0M61 37h0M57 31h0M55 16h0M68 28h0M80 33h0M67 16h0"/><path stroke="#4a78cf" d="M62 50h0M40 51h0M48 71h0M74 77h0M47 42h0M87 57h0M41 21h0M87 49h0M47 75h0M68 76h0M73 62h0M45 59h0M62 52h0M79 75h0M62 72h0M64 55h0M59 84h0M37 69h0M42 55h0M74 65h0M55 47h0M49 42h0M53 68h0M47 17h0M58 77h0M58 76h0M67 56h0M45 64h0M52 62h0M64 61h0M72 68h0M35 64h0M61 52h0M40 64h0M62 47h0M68 79h0M42 51h0M48 60h0M67 61h0M76 73h0M67 62h0M87 64h0M48 78h0M74 78h0M63 66h0M32 69h0M65 58h0M84 49h0M48 59h0M65 15h0M60 46h0M89 53h0M63 72h0M53 14h0M39 54h0M91 48h0M32 70h0M40 67h0M44 62h0M56 48h0M64 54h0M87 38h0M81 75h0M57 77h0M53 60h0M53 74h0M54 34h0M38 64h0M45 37h0M66 61h0M81 62h0M70 55h0M39 67h0M61 62h0M20 52h0M61 57h0M37 54h0M65 78h0M43 56h0M39 55h0M51 70h0M84 74h0M54 64h0M64 80h0M39 15h0M76 67h0M73 77h0M52 13h0M79 69h0M61 80h0M62 39h0M51 60h0M64 60h0M47 69h0M34 35h0M64 50h0M46 48h0M47 66h0M58 58h0M55 74h0M39 75h0M46 43h0M77 73h0M52 78h0M89 49h0M90 49h0M37 57h0M44 61h0M70 61h0M50 58h0M77 65h0M70 79h0M59 71h0M25 56h0M56 60h0M59 16h0M36 62h0M72 79h0M93 48h0M47 49h0M34 60h0M58 79h0M80 78h0M42 43h0M62 75h0M73 64h0M48 73h0M59 72h0M46 67h0M72 79h0M86 72h0M65 52h0M61 58h0M63 79h0M64 71h0M60 55h0M60 69h0M55 60h0M41 65h0M49 84h0M63 71h0M67 73h0M86 51h0M44 76h0M67 61h0M47 56h0M65 71h0M83 66h0M50 63h0M24 45h0M47 74h0M51 82h0M84 70h0M51 68h0M71 74h0M77 79h0M52 70h0M78 77h0"/><path stroke="#a6d0de" d="M40 26h0M33 55h0M47 40h0M86 58h0M39 45h0M67 69h0M37 17h0M40 35h0M51 60h0M30 35h0M39 16h0M34 39h0M24 45h0M67 65h0M34 46h0M28 37h0M37 19h0M22 31h0M43 32h0M31 40h0M18 29h0M43 41h0M55 68h0M39 34h0M24 18h0M32 14h0M28 63h0"/><path stroke="#cc2a1c" d="M71 22h0M78 25h0M70 29h0M60 19h0M76 30h0M75 27h0M72 19h0M68 26h0M64 20h0M71 30h0M68 19h0M77 23h0M63 17h0M67 17h0M73 18h0M64 22h0M83 23h0M70 30h0M78 28h0"/><path stroke="#f4b840" d="M64 44h0M61 17h0M50 32h0M66 34h0M46 29h0M44 25h0M58 21h0M44 30h0M55 14h0M45 32h0"/><path stroke="#74a4dc" d="M73 70h0M92 47h0M51 53h0M73 71h0M39 48h0M52 61h0M74 73h0M33 25h0M90 54h0M70 66h0M51 66h0M55 63h0M43 41h0M56 48h0M54 10h0M38 51h0M46 69h0M39 70h0M58 42h0M75 56h0M45 50h0M52 30h0M38 42h0M80 68h0M66 48h0M47 37h0M33 30h0M80 47h0M55 63h0M71 74h0M60 79h0M87 37h0M62 67h0M78 50h0M90 57h0M45 82h0M50 34h0M35 36h0M40 69h0M54 48h0M67 84h0M62 50h0M45 47h0M35 32h0M28 64h0M36 71h0M72 40h0M49 48h0M53 64h0M48 49h0M77 75h0M43 21h0M77 58h0M71 77h0M44 48h0M18 40h0M30 56h0M62 68h0M55 56h0M51 75h0M64 68h0M80 55h0M49 48h0M41 48h0M70 62h0M53 41h0M55 61h0M34 29h0M66 48h0M37 76h0M34 69h0M54 58h0M52 52h0M76 79h0M51 53h0M81 67h0M48 82h0M31 61h0M80 56h0M75 74h0M40 22h0M86 37h0M70 46h0M60 64h0M33 16h0M54 17h0M84 68h0M44 72h0M49 58h0M54 64h0M84 58h0M59 85h0M33 62h0M36 71h0M36 46h0M50 78h0M88 58h0M53 60h0M44 70h0M52 48h0M55 65h0M83 69h0M27 60h0M77 59h0M59 86h0M84 40h0M77 69h0M56 11h0M42 75h0M49 52h0M84 53h0M91 56h0M50 36h0M81 46h0M68 73h0M53 60h0M29 59h0M54 56h0M77 48h0M52 60h0M61 63h0M83 39h0M63 82h0M71 49h0M87 39h0M35 68h0"/><path stroke="#ec8a38" d="M63 40h0M56 20h0M75 25h0M60 28h0M58 30h0M67 35h0M77 37h0M60 19h0M78 39h0M58 37h0M58 31h0M53 19h0M77 36h0M74 24h0M59 33h0M58 31h0M88 39h0M68 34h0M49 17h0M70 33h0M76 21h0M52 22h0M65 39h0M82 36h0M61 39h0M60 31h0M77 37h0M54 20h0M59 28h0M73 35h0M67 37h0M58 30h0M63 29h0M69 34h0M69 19h0"/><path stroke="#3b64bf" d="M47 24h0M58 15h0M84 66h0M75 39h0M52 29h0M58 82h0M58 40h0M89 39h0M61 71h0M37 75h0M55 64h0M44 35h0M64 70h0M39 76h0M54 78h0M32 52h0M39 70h0M59 75h0M81 60h0M74 54h0M60 53h0M39 76h0M69 71h0M85 65h0M65 56h0M65 62h0M77 55h0M46 59h0M79 68h0M41 64h0M42 14h0M70 72h0M58 67h0M74 75h0M58 52h0M89 53h0M51 26h0M82 72h0M49 28h0M42 32h0M88 36h0"/><path stroke="#eaeca6" d="M37 49h0M60 41h0M42 39h0M70 45h0M84 47h0M40 17h0M53 45h0M42 40h0M46 35h0M42 18h0M48 33h0M62 42h0M21 22h0M36 50h0M57 46h0M24 18h0M68 42h0M48 28h0M46 23h0M42 33h0M66 42h0M65 40h0M25 36h0M41 36h0M42 27h0"/><path stroke="#f0dc50" d="M61 42h0M70 43h0M64 43h0M19 22h0M62 43h0M69 46h0M66 47h0M88 43h0M47 26h0M71 48h0M75 41h0M60 43h0M63 16h0M67 44h0M90 45h0M71 44h0M44 16h0M70 44h0"/><path stroke="#b0201a" d="M68 19h0M73 27h0M82 31h0"/></g></g><g transform="translate(91.5,469.1)"><rect x="0.5" y="0.5" width="34.2" height="31.3" fill="#fff" stroke="#969696" stroke-width="1.2"/><rect x="33.9" y="0.6" width="1.0" height="31.1" fill="url(#cbar)"/><g clip-path="url(#cpM)"><g opacity="0.75"><rect width="35.4" height="32.3" fill="#5481d0"/><g filter="url(#bl)"><ellipse cx="19" cy="7" rx="10" ry="4.5" fill="#eb8a36"/><ellipse cx="22" cy="6" rx="5" ry="3" fill="#dc5528"/><ellipse cx="8" cy="12" rx="3" ry="3" fill="#a6c5c1"/></g></g><use href="#spM"/></g><g transform="scale(0.3333)" stroke-width="3.6" stroke-linecap="round" fill="none"><path stroke="#74a4dc" d="M26 23h0M35 50h0M46 71h0M32 28h0M48 73h0M27 41h0M52 65h0M18 31h0M11 31h0M36 73h0M49 69h0M37 40h0M36 31h0M33 71h0M69 66h0M71 54h0M66 62h0M54 45h0M30 31h0M26 43h0M20 48h0M67 52h0M41 51h0M63 51h0M48 37h0M53 69h0M80 64h0M42 70h0M76 68h0M48 37h0M29 23h0M54 64h0M73 53h0M15 25h0M43 50h0M48 43h0M25 29h0M21 50h0M14 38h0M14 31h0M30 29h0M44 35h0M59 71h0M16 34h0M25 23h0M38 61h0M27 43h0M79 53h0M48 75h0M33 70h0M56 66h0M23 44h0M54 43h0M58 66h0M50 42h0M45 67h0M47 70h0M15 46h0M24 32h0M51 65h0M43 51h0M47 77h0M81 41h0M74 53h0M55 39h0M27 33h0M60 59h0M70 58h0M47 45h0M29 31h0M44 52h0M78 40h0M37 31h0M26 31h0M37 61h0M34 69h0M47 54h0M34 70h0M26 44h0M45 40h0M37 74h0M70 57h0M47 52h0M81 39h0M63 50h0M64 49h0M34 53h0M55 11h0M39 53h0M68 69h0M28 60h0M51 47h0M41 60h0M35 50h0M79 67h0M58 71h0M49 76h0M30 29h0M33 31h0M16 23h0M34 50h0M48 68h0M24 41h0M32 32h0M65 49h0M74 31h0M64 58h0M34 42h0M85 38h0M37 68h0M20 33h0M61 38h0M33 27h0M78 66h0M69 29h0M37 68h0M52 53h0M19 25h0M22 43h0M37 33h0M41 70h0M23 36h0M68 50h0M78 30h0M21 50h0M32 33h0M38 68h0M44 59h0M46 66h0M62 53h0M48 36h0M42 65h0M13 39h0M32 23h0M37 49h0M43 45h0M51 42h0M43 56h0M32 24h0M21 46h0M53 39h0M19 49h0M51 61h0M58 33h0M38 76h0M24 41h0M60 41h0M25 58h0M48 65h0M43 68h0"/><path stroke="#4a78cf" d="M60 49h0M80 34h0M58 48h0M65 61h0M43 39h0M82 48h0M13 42h0M53 56h0M24 55h0M86 58h0M91 43h0M62 65h0M33 52h0M46 64h0M86 34h0M60 48h0M49 75h0M64 61h0M60 46h0M61 72h0M49 73h0M68 32h0M43 55h0M35 59h0M84 54h0M25 20h0M33 45h0M38 13h0M28 51h0M30 70h0M32 35h0M24 18h0M45 34h0M50 68h0M42 36h0M49 71h0M24 15h0M82 56h0M61 62h0M71 65h0M25 52h0M54 53h0M39 47h0M67 35h0M63 44h0M64 56h0M48 64h0M34 50h0M75 67h0M39 58h0M49 58h0M48 51h0M36 63h0M66 32h0M64 58h0M47 52h0M44 44h0M69 62h0M32 33h0M59 61h0M24 16h0M26 49h0M56 52h0M65 55h0M49 53h0M25 22h0M51 50h0M25 54h0M84 46h0M43 63h0M66 61h0M34 12h0M41 73h0M53 72h0M23 56h0M47 37h0M53 51h0M49 47h0M48 69h0M49 56h0M39 75h0M14 44h0M62 35h0M42 14h0M52 70h0M59 48h0M83 46h0M29 52h0M56 49h0M31 26h0M18 44h0M31 14h0M84 52h0M16 42h0M56 52h0M19 22h0M24 22h0M44 60h0M89 34h0M43 36h0M54 61h0M34 36h0M48 72h0M31 63h0M55 53h0M44 33h0M58 50h0M76 64h0M45 63h0M42 39h0M54 67h0M46 36h0M61 73h0M47 44h0M77 61h0M46 70h0M27 46h0M57 73h0M37 64h0M63 73h0M56 47h0M57 52h0M30 47h0M36 70h0M48 72h0M34 60h0M23 18h0M14 40h0M24 49h0M27 55h0M19 21h0M60 45h0M21 20h0M52 71h0M30 40h0M61 48h0M61 75h0M65 65h0M35 58h0M30 49h0M51 51h0M39 39h0M65 64h0M51 70h0M49 50h0M39 70h0M53 51h0M74 52h0M37 57h0M47 33h0M54 52h0M36 12h0M64 65h0M47 61h0M89 33h0M30 67h0"/><path stroke="#ec8a38" d="M40 25h0M45 24h0M55 29h0M32 25h0M36 22h0M59 14h0M47 16h0M52 19h0M67 24h0M41 31h0M65 22h0M61 28h0M43 31h0M41 17h0M55 29h0M67 29h0M72 28h0M59 13h0M59 14h0M66 22h0M63 16h0M41 34h0M48 17h0M65 31h0M50 13h0M51 12h0M56 29h0M58 25h0M49 16h0M37 22h0M68 30h0M63 24h0M56 27h0M66 25h0M56 32h0M37 14h0M49 21h0M28 14h0M50 10h0M37 23h0M30 28h0M47 20h0M51 10h0M34 23h0M67 23h0M35 22h0M53 19h0M68 30h0M25 22h0M51 14h0M56 32h0M53 15h0M62 29h0M63 34h0M39 26h0"/><path stroke="#f4b840" d="M61 12h0M52 30h0M42 20h0M57 36h0M50 18h0M49 16h0"/><path stroke="#3b64bf" d="M39 47h0M69 73h0M12 41h0M40 65h0M58 69h0M50 45h0M86 55h0M41 50h0M41 65h0M57 43h0M25 45h0M39 46h0M46 72h0M44 72h0M76 75h0M91 42h0M41 41h0M49 73h0M39 49h0M32 45h0M16 32h0M32 40h0M70 48h0M23 46h0M47 71h0M67 54h0M54 68h0M66 48h0M40 46h0M29 65h0M32 41h0M79 74h0M78 36h0M76 57h0M33 53h0"/><path stroke="#a6d0de" d="M36 76h0M26 34h0M44 46h0M27 34h0M38 44h0M15 41h0M25 36h0M18 35h0M29 35h0M44 70h0M19 44h0M25 37h0M43 45h0M29 37h0M13 32h0M48 66h0M30 36h0M71 54h0M20 36h0M28 34h0M19 41h0M27 24h0M51 61h0M70 49h0M83 63h0M18 38h0"/><path stroke="#cc2a1c" d="M74 21h0M57 11h0M49 19h0M61 17h0M55 20h0M67 24h0M56 15h0M70 17h0M65 18h0M75 18h0M69 26h0M65 24h0M69 17h0M64 17h0M61 22h0M57 21h0M61 24h0M59 18h0M68 16h0M65 24h0M60 12h0M68 24h0"/><path stroke="#e05a28" d="M75 25h0M42 23h0M65 27h0M75 25h0M63 28h0M41 18h0M59 33h0M73 16h0M78 23h0M58 33h0M71 26h0M37 20h0M46 19h0M67 14h0M79 25h0M62 22h0M43 21h0M40 22h0M36 29h0M73 29h0M62 18h0M57 20h0M59 19h0M27 18h0M54 32h0M44 20h0M61 18h0M45 19h0M42 20h0M62 31h0M70 31h0M53 28h0M63 19h0M70 22h0M64 29h0M39 30h0M56 23h0M60 30h0M47 17h0M79 30h0M69 29h0M31 28h0M76 27h0"/><path stroke="#f0dc50" d="M25 45h0M27 41h0M19 31h0"/><path stroke="#26369a" d="M12 32h0M45 72h0"/><path stroke="#eaeca6" d="M29 32h0"/><path stroke="#b0201a" d="M62 22h0"/></g></g><text x="144.4" y="429.2" font-size="8.1" fill="#1a1a1a" stroke="#1a1a1a" stroke-width="0.28" textLength="26.4" lengthAdjust="spacingAndGlyphs">Perforin</text><g transform="translate(139.6,435.1)"><rect x="0.5" y="0.5" width="34.2" height="31.3" fill="#fff" stroke="#969696" stroke-width="1.2"/><rect x="33.9" y="0.6" width="1.0" height="31.1" fill="url(#cbar)"/><g clip-path="url(#cpP)"><g opacity="0.75"><rect width="35.4" height="32.3" fill="#e2682d"/><g filter="url(#bl)"><ellipse cx="9.5" cy="11" rx="6" ry="7.5" fill="#a6c7cc"/><ellipse cx="11.5" cy="22" rx="3.5" ry="3.5" fill="#4169c1"/><ellipse cx="9" cy="13" rx="5.5" ry="8.5" fill="#a6c7cc"/><ellipse cx="11" cy="22.5" rx="4" ry="4.5" fill="#4169c1"/><ellipse cx="15" cy="16" rx="2" ry="6" fill="#ead462"/></g></g><use href="#spP"/></g><g transform="scale(0.3333)" stroke-width="3.6" stroke-linecap="round" fill="none"><path stroke="#ec8a38" d="M45 81h0M46 25h0M69 48h0M64 31h0M59 35h0M54 43h0M69 33h0M45 16h0M57 51h0M53 49h0M66 49h0M60 64h0M50 75h0M66 76h0M56 25h0M51 81h0M52 73h0M87 53h0M51 61h0M46 71h0M59 24h0M76 42h0M81 47h0M74 21h0M45 77h0M69 27h0M59 76h0M87 43h0M62 74h0M45 66h0M74 57h0M68 80h0M80 28h0M80 41h0M62 19h0M79 26h0M43 23h0M88 43h0M52 55h0M84 66h0M78 48h0M64 22h0M58 25h0M61 48h0M63 18h0M72 57h0M68 28h0M67 43h0M61 23h0M80 27h0M89 40h0M64 75h0M67 78h0M68 82h0M69 63h0M65 72h0M62 16h0M59 53h0M81 72h0M64 45h0M91 49h0M49 27h0M74 43h0M72 58h0M69 77h0M66 76h0M57 22h0M62 29h0M51 49h0M78 68h0M65 46h0M61 82h0M85 55h0M92 47h0M57 70h0M40 78h0M49 67h0M92 44h0M40 53h0M81 58h0M83 31h0M55 17h0M46 71h0M66 84h0M68 40h0M57 54h0M49 63h0M53 34h0M54 67h0M66 66h0M75 75h0M67 54h0M60 65h0M53 40h0M63 28h0M70 69h0M75 46h0M85 39h0M80 26h0M64 41h0M84 51h0M61 17h0M90 42h0M67 40h0M45 74h0M69 38h0M53 73h0M74 43h0M51 26h0M55 17h0M62 75h0M60 76h0M75 43h0M53 44h0M78 55h0M64 83h0M63 71h0M51 14h0M52 11h0M77 38h0M44 75h0M54 24h0M72 19h0M47 11h0M53 44h0M56 66h0M74 59h0M80 42h0M49 35h0M58 75h0M48 10h0M62 72h0M52 53h0M61 33h0M45 72h0M69 19h0M66 39h0M53 55h0M53 38h0M67 35h0M54 74h0M78 44h0M71 32h0M72 73h0M48 50h0M40 79h0M88 43h0M74 23h0M66 76h0M56 48h0M74 52h0M54 17h0M66 31h0M62 63h0M71 23h0M93 49h0M87 67h0M57 66h0M62 59h0"/><path stroke="#cc2a1c" d="M60 74h0M69 32h0M84 59h0M83 32h0M58 80h0M73 56h0M71 32h0M72 57h0M51 84h0M83 64h0M64 43h0M68 31h0M57 53h0M50 78h0M60 22h0M60 72h0M61 69h0M62 41h0M50 79h0M53 71h0M44 37h0M60 41h0M62 17h0M53 50h0M54 40h0M54 39h0M69 57h0M76 64h0M76 45h0M78 50h0M70 51h0M77 64h0M81 35h0M55 54h0M64 67h0M64 62h0M71 62h0M52 38h0M79 65h0M54 52h0M79 30h0M59 39h0M67 26h0M70 27h0M46 72h0M58 21h0M90 33h0M87 47h0M71 56h0M50 73h0M70 29h0M51 32h0M54 69h0M67 31h0M70 28h0M73 28h0M77 28h0M55 52h0M48 10h0M79 45h0M86 29h0M54 44h0M53 53h0M58 74h0M84 47h0M87 31h0M47 17h0M85 46h0M67 62h0M80 48h0M85 32h0M62 22h0M60 43h0M60 42h0M71 50h0M65 17h0M70 26h0M84 41h0M73 26h0M82 69h0M63 48h0M67 57h0M74 70h0M68 31h0M78 62h0M76 61h0M72 25h0M83 49h0M64 64h0M83 28h0M76 30h0M82 34h0"/><path stroke="#f4b840" d="M46 55h0M71 52h0M73 60h0M49 54h0M78 25h0M55 35h0M71 82h0M73 24h0M47 50h0M50 44h0M46 53h0M78 55h0M61 21h0M41 53h0M42 48h0M53 46h0M57 35h0M54 28h0M44 51h0M46 46h0M66 22h0M49 51h0M48 53h0M78 51h0M68 19h0M53 53h0M48 59h0M44 67h0M76 55h0M43 37h0M49 43h0M71 37h0M45 59h0M66 45h0M42 38h0"/><path stroke="#a6d0de" d="M45 53h0M22 18h0M34 49h0M21 21h0M36 51h0M45 29h0M37 18h0M42 24h0M47 30h0M31 51h0M40 34h0M36 24h0M24 63h0M24 43h0M30 37h0M34 37h0M16 47h0M43 55h0M31 42h0M21 21h0"/><path stroke="#e05a28" d="M64 15h0M62 37h0M72 64h0M58 32h0M91 55h0M89 49h0M58 55h0M64 68h0M42 19h0M69 47h0M56 12h0M64 36h0M43 11h0M52 22h0M62 24h0M75 45h0M53 17h0M56 59h0M65 80h0M86 56h0M53 15h0M42 80h0M71 46h0M42 18h0M72 21h0M69 45h0M79 39h0M66 25h0M80 37h0M77 69h0M71 43h0M57 78h0M59 33h0M62 59h0M73 33h0M52 17h0M59 59h0M87 37h0M83 27h0M70 16h0M49 12h0M58 45h0M62 52h0M38 53h0M74 39h0M73 20h0M49 75h0M68 48h0M59 56h0M50 15h0M60 15h0M64 50h0M77 78h0M74 73h0M77 58h0M51 69h0M80 20h0M58 29h0M87 60h0M58 78h0M79 37h0M48 19h0M60 64h0M55 29h0M67 39h0M57 60h0M52 64h0M72 25h0M90 63h0M69 45h0M58 64h0M60 20h0M58 58h0M67 36h0M51 35h0M73 28h0M78 70h0M82 46h0M85 62h0M65 13h0M59 38h0M44 19h0M49 37h0M62 49h0M52 20h0M61 65h0M66 36h0M69 43h0M60 59h0M62 33h0M52 16h0M62 37h0M55 64h0M50 60h0M89 58h0M49 68h0M56 57h0M74 70h0M60 13h0M79 58h0M66 37h0"/><path stroke="#4a78cf" d="M34 60h0M41 76h0M42 67h0M42 70h0M21 46h0M30 62h0M40 73h0M31 64h0"/><path stroke="#74a4dc" d="M27 23h0M37 52h0M32 61h0M38 21h0M31 43h0M35 18h0M33 14h0M22 50h0M41 29h0M46 18h0M37 17h0M27 20h0M28 23h0M13 35h0M38 24h0M28 25h0M38 55h0M38 41h0M41 21h0M26 18h0"/><path stroke="#3b64bf" d="M47 68h0M36 71h0M36 68h0M35 62h0M38 71h0M34 69h0M36 70h0M41 61h0M39 62h0M34 59h0M42 79h0M40 69h0M36 68h0M29 60h0M39 69h0M37 68h0"/><path stroke="#f0dc50" d="M41 43h0M46 36h0M46 48h0M47 36h0M40 46h0M45 63h0M46 37h0M52 37h0M61 43h0M45 57h0M43 44h0M50 41h0M40 38h0M48 38h0M45 70h0M48 45h0M48 40h0M47 67h0M51 40h0M55 51h0M45 49h0M41 38h0M49 50h0M48 32h0M37 46h0"/><path stroke="#26369a" d="M39 60h0"/><path stroke="#eaeca6" d="M25 48h0M43 53h0M40 37h0M41 35h0M47 39h0M23 37h0M44 56h0M20 55h0M29 52h0M45 55h0M32 46h0M40 31h0M26 52h0M21 38h0M26 52h0M41 39h0M31 49h0M49 57h0"/><path stroke="#b0201a" d="M67 29h0M74 54h0M54 68h0M76 51h0M54 12h0"/></g></g><g transform="translate(139.6,469.1)"><rect x="0.5" y="0.5" width="34.2" height="31.3" fill="#fff" stroke="#969696" stroke-width="1.2"/><rect x="33.9" y="0.6" width="1.0" height="31.1" fill="url(#cbar)"/><g clip-path="url(#cpM)"><g opacity="0.75"><rect width="35.4" height="32.3" fill="#e77b32"/><g filter="url(#bl)"><ellipse cx="8" cy="11" rx="5" ry="7" fill="#80adda"/><ellipse cx="13.5" cy="13" rx="2" ry="7" fill="#ead462"/><ellipse cx="7" cy="21" rx="2" ry="2" fill="#4169c1"/></g></g><use href="#spM"/></g><g transform="scale(0.3333)" stroke-width="3.6" stroke-linecap="round" fill="none"><path stroke="#f4b840" d="M44 61h0M37 39h0M48 13h0M48 19h0M50 79h0M69 24h0M44 55h0M77 32h0M67 23h0M58 29h0M29 57h0M35 39h0M42 65h0M70 30h0M40 67h0M36 57h0M66 32h0M85 32h0M36 49h0M70 63h0M36 55h0M61 28h0M68 69h0M46 72h0M83 29h0M84 31h0M48 74h0M46 36h0M63 38h0M50 78h0M36 32h0M40 79h0M51 72h0M63 68h0M42 55h0M52 73h0M65 58h0M55 17h0M37 77h0M76 48h0M30 51h0M50 20h0M39 49h0M46 38h0M41 54h0M58 43h0M74 27h0M31 53h0M51 75h0M44 76h0M27 56h0M32 60h0M64 36h0M53 27h0M48 18h0M46 50h0M56 13h0M36 35h0M67 69h0M75 28h0M49 15h0M41 72h0M53 12h0M47 55h0M35 48h0M37 38h0M28 57h0M57 10h0M42 53h0M35 35h0M42 52h0M44 36h0M50 42h0M48 12h0M44 65h0M61 65h0M41 57h0M69 62h0M46 71h0M73 64h0M60 27h0M30 59h0M37 49h0M72 68h0M38 27h0"/><path stroke="#ec8a38" d="M33 42h0M76 60h0M56 54h0M54 30h0M51 60h0M62 17h0M72 51h0M21 53h0M54 34h0M88 48h0M47 59h0M81 65h0M37 55h0M82 62h0M61 30h0M77 56h0M71 29h0M66 63h0M49 61h0M37 77h0M37 68h0M47 47h0M70 31h0M52 60h0M53 58h0M79 36h0M52 59h0M54 68h0M63 46h0M48 36h0M68 54h0M61 61h0M22 55h0M53 31h0M55 35h0M61 57h0M60 44h0M55 67h0M52 50h0M51 42h0M83 35h0M79 66h0M84 38h0M64 20h0M53 42h0M53 42h0M31 67h0M70 21h0M52 45h0M31 53h0M37 12h0M60 50h0M57 63h0M39 46h0M51 62h0M80 44h0M57 31h0M37 59h0M50 56h0M53 60h0M36 60h0M64 23h0M39 55h0M70 55h0M78 54h0M66 27h0M32 70h0M72 55h0M53 33h0M55 59h0M40 73h0M64 63h0M54 61h0M65 23h0M57 20h0M84 70h0M65 25h0M50 65h0M47 60h0M23 53h0M30 52h0M81 71h0M75 56h0M53 31h0M70 28h0M62 55h0M68 33h0M80 50h0M59 63h0M76 48h0M57 59h0M60 74h0M53 55h0M54 57h0M55 32h0M60 48h0M84 48h0M83 36h0M58 73h0M60 59h0M59 22h0M72 53h0M61 45h0M74 57h0M52 62h0M69 48h0M59 33h0M51 67h0M43 37h0M63 65h0M63 23h0M90 40h0M67 28h0M53 59h0M69 32h0"/><path stroke="#e05a28" d="M44 73h0M49 49h0M59 40h0M63 47h0M56 19h0M46 40h0M52 52h0M59 70h0M42 71h0M53 74h0M44 54h0M65 28h0M33 54h0M71 71h0M46 13h0M64 29h0M55 70h0M31 60h0M85 56h0M63 13h0M57 29h0M48 9h0M46 71h0M62 43h0M37 14h0M86 53h0M73 20h0M59 70h0M59 72h0M81 71h0M60 72h0M65 51h0M65 32h0M39 63h0M83 54h0M36 73h0M52 71h0M29 59h0M34 12h0M58 70h0M60 71h0M60 25h0M72 69h0M68 63h0M61 52h0M50 68h0M44 62h0M66 54h0M55 54h0M51 37h0M73 29h0M70 58h0M45 74h0M65 72h0M70 73h0M47 48h0M72 60h0M91 33h0M71 62h0M47 51h0M57 34h0M38 73h0M69 55h0M39 66h0M45 68h0M53 74h0M52 23h0M58 11h0M50 40h0M60 74h0M25 59h0M34 72h0M48 76h0M65 54h0M57 53h0M26 50h0M49 48h0M61 56h0M65 66h0M40 18h0M68 53h0M70 25h0M59 70h0M87 45h0M31 49h0M58 35h0M67 56h0M62 31h0M65 52h0M33 46h0M66 51h0M47 45h0M73 21h0M54 37h0M36 72h0M65 29h0M65 50h0M35 68h0M72 26h0M56 42h0M85 56h0M63 29h0M66 54h0M67 51h0M41 10h0M63 59h0M34 76h0M31 55h0M58 73h0M60 51h0M65 48h0M53 71h0M35 66h0M56 28h0M34 54h0M70 61h0M74 68h0M61 67h0M48 33h0M52 28h0M57 23h0M48 48h0M59 28h0M85 50h0M31 53h0M40 63h0M55 62h0M35 71h0M90 34h0M64 53h0M65 57h0M55 71h0M40 61h0M71 59h0M41 63h0M64 58h0M68 51h0M73 20h0M52 39h0M51 46h0M83 41h0M25 18h0"/><path stroke="#a6d0de" d="M29 54h0M35 27h0M18 21h0M25 34h0M31 50h0M26 29h0M23 44h0M30 56h0M20 47h0M19 41h0M16 45h0M25 37h0M31 35h0M23 30h0M31 41h0M23 42h0M28 42h0M21 50h0M30 36h0M22 36h0M20 46h0M10 37h0M30 23h0M24 22h0M18 32h0M27 38h0M26 36h0M28 28h0M28 35h0M26 39h0M30 41h0M28 20h0M21 33h0M35 31h0M24 15h0M19 42h0M26 24h0M18 22h0M29 26h0M33 20h0M23 37h0M34 50h0M26 23h0M20 34h0M23 30h0M25 26h0M27 14h0M33 35h0M23 33h0M28 24h0M23 22h0M13 40h0M34 32h0M21 46h0M25 43h0M30 45h0M30 39h0M27 41h0M20 30h0M18 23h0M24 29h0M25 29h0M25 41h0M22 44h0M26 37h0M14 48h0M18 42h0M21 47h0M31 33h0M31 37h0M30 41h0"/><path stroke="#74a4dc" d="M17 28h0M15 47h0M19 26h0M34 41h0M26 29h0M23 27h0M28 31h0M31 24h0M25 30h0M18 28h0M24 25h0M17 27h0M18 29h0M17 29h0M34 21h0M20 41h0M19 25h0M34 27h0M15 31h0M21 26h0M30 26h0M21 25h0M19 28h0M18 28h0M15 30h0M30 25h0M23 28h0M21 27h0"/><path stroke="#4a78cf" d="M34 46h0M29 47h0M16 52h0M23 48h0M19 19h0M26 52h0M15 31h0M27 51h0M25 41h0M24 15h0"/><path stroke="#f0dc50" d="M44 31h0M41 57h0M41 56h0M41 40h0M40 59h0M41 56h0M41 55h0M40 31h0M39 35h0M37 30h0M43 47h0M37 43h0M42 47h0M34 29h0M40 20h0M50 43h0M39 51h0M41 21h0M37 31h0M43 33h0M41 50h0M34 44h0"/><path stroke="#cc2a1c" d="M33 58h0M57 12h0M43 79h0M61 54h0M43 65h0M75 20h0M49 69h0M32 75h0M76 59h0M32 75h0M85 41h0M59 25h0M72 67h0M42 64h0M47 44h0M57 25h0M43 73h0M63 69h0"/><path stroke="#eaeca6" d="M34 18h0M26 21h0M29 38h0M36 29h0M35 35h0M27 22h0M27 34h0"/><path stroke="#3b64bf" d="M24 60h0M25 60h0"/></g></g><text x="198.3" y="429.2" font-size="8.1" fill="#1a1a1a" stroke="#1a1a1a" stroke-width="0.28" textLength="14.4" lengthAdjust="spacingAndGlyphs">GrA</text><g transform="translate(188,435.1)"><rect x="0.5" y="0.5" width="34.2" height="31.3" fill="#fff" stroke="#969696" stroke-width="1.2"/><rect x="33.9" y="0.6" width="1.0" height="31.1" fill="url(#cbar)"/><g clip-path="url(#cpP)"><g opacity="0.75"><rect width="35.4" height="32.3" fill="#deae58"/><g filter="url(#bl)"><ellipse cx="9.5" cy="11" rx="6" ry="7.5" fill="#adc6b3"/><ellipse cx="11.5" cy="22" rx="3.5" ry="3.5" fill="#4169c1"/><ellipse cx="8" cy="13" rx="4" ry="7" fill="#adc6b3"/><ellipse cx="11" cy="21.5" rx="4" ry="4.5" fill="#4169c1"/></g></g><use href="#spP"/></g><g transform="scale(0.3333)" stroke-width="3.6" stroke-linecap="round" fill="none"><path stroke="#f4b840" d="M56 49h0M49 47h0M77 25h0M58 45h0M47 20h0M59 30h0M49 18h0M76 42h0M59 53h0M74 65h0M76 36h0M80 28h0M47 42h0M67 44h0M49 54h0M66 32h0M48 47h0M77 49h0M69 43h0M49 43h0M67 71h0M45 23h0M79 29h0M79 27h0M90 33h0M67 33h0M71 19h0M50 73h0M67 58h0M75 70h0M86 66h0M62 62h0M49 49h0M60 78h0M59 51h0M84 55h0M59 64h0M76 25h0M43 20h0M76 24h0M63 71h0M79 40h0M53 10h0M75 68h0M82 50h0M79 21h0M68 20h0M69 34h0M71 58h0M41 79h0M84 38h0M71 66h0M52 45h0M41 58h0M42 22h0M67 34h0M81 27h0M48 48h0M78 41h0M59 60h0M41 19h0M58 51h0M62 69h0M61 32h0M67 69h0M73 28h0M39 48h0M47 17h0M79 48h0M51 30h0M53 42h0M56 66h0M78 39h0M82 37h0M70 46h0M78 70h0M55 52h0M72 35h0M77 24h0M77 62h0M47 14h0M58 63h0M82 23h0M88 34h0M86 49h0M52 48h0M56 34h0M81 68h0M44 17h0M66 64h0M73 44h0M53 9h0M48 29h0M73 75h0M60 53h0M52 39h0M60 32h0M54 64h0M83 65h0M74 47h0M71 35h0M74 59h0M61 69h0M45 25h0M59 26h0M82 52h0M63 25h0M66 58h0M54 44h0M44 19h0M71 70h0M51 9h0M67 66h0M46 82h0M62 59h0M44 16h0M83 51h0M47 68h0"/><path stroke="#ec8a38" d="M62 41h0M69 37h0M65 16h0M78 32h0M73 43h0M72 67h0M44 44h0M83 64h0M50 29h0M54 79h0M86 34h0M81 39h0M78 61h0M52 70h0M84 35h0M64 65h0M80 70h0M47 52h0M60 61h0M61 41h0M59 69h0M67 46h0M67 40h0M86 57h0M64 61h0M40 78h0M63 57h0M50 16h0M66 23h0M66 72h0M45 16h0M72 49h0M44 58h0M83 38h0M67 28h0M24 62h0M59 76h0M76 38h0M63 82h0M52 64h0M89 30h0M77 56h0M76 75h0M88 67h0M76 36h0M75 68h0M77 34h0M82 43h0M81 43h0M80 37h0M77 30h0M81 36h0M63 62h0M60 47h0M76 38h0M59 68h0M59 44h0M56 34h0M63 46h0M42 77h0M69 41h0M79 46h0M77 21h0M60 57h0M77 39h0M67 38h0M60 64h0M41 79h0M49 48h0M67 35h0M72 71h0M45 80h0M87 35h0M60 70h0M84 71h0M66 84h0M72 77h0M48 47h0M88 53h0M55 82h0M68 80h0M61 20h0M58 77h0M49 9h0M47 73h0M82 35h0M47 34h0M78 30h0M47 74h0M79 61h0M44 51h0M51 78h0M77 34h0M86 59h0M82 45h0M73 50h0M61 64h0M73 78h0M64 85h0M69 47h0M54 36h0M49 21h0M73 56h0M63 60h0M62 20h0M43 26h0M44 79h0M54 84h0M86 38h0M45 55h0M52 32h0M60 69h0M67 72h0M75 30h0M66 22h0M70 19h0M46 79h0M48 55h0M56 43h0M81 66h0M42 79h0M64 51h0M45 75h0M71 17h0M68 51h0M89 56h0M83 73h0M79 50h0M73 34h0M46 48h0M79 33h0M87 50h0M45 43h0M71 83h0M52 68h0M62 38h0M50 20h0M57 39h0M82 33h0M77 56h0M80 50h0M71 28h0M60 72h0M83 38h0M64 72h0M89 56h0M49 15h0"/><path stroke="#eaeca6" d="M65 25h0M41 35h0M89 39h0M86 41h0M23 54h0M88 53h0"/><path stroke="#26369a" d="M43 62h0M45 62h0M39 73h0M43 64h0M27 60h0M42 65h0M34 74h0M46 60h0"/><path stroke="#74a4dc" d="M89 45h0M43 43h0M52 74h0M25 46h0M40 28h0M27 65h0M21 54h0M75 53h0M40 78h0M38 46h0M18 47h0M70 75h0M87 40h0M50 59h0M16 40h0M87 41h0M29 15h0M17 35h0M51 75h0M22 51h0M18 41h0M41 49h0M68 76h0M63 78h0M63 78h0M35 74h0M74 52h0M39 35h0M13 39h0M56 17h0M41 73h0M47 26h0M34 49h0M92 52h0M42 40h0M53 23h0M35 46h0M18 35h0M90 52h0M66 76h0M15 39h0M48 36h0M89 44h0M19 51h0M53 15h0M47 59h0M36 14h0M63 37h0M38 21h0"/><path stroke="#f0dc50" d="M47 75h0M58 70h0M58 78h0M70 53h0M60 81h0M54 23h0M19 51h0M59 23h0M89 43h0M40 54h0M63 14h0M62 77h0M56 20h0M90 49h0M77 53h0M61 38h0M70 28h0M88 39h0M57 23h0M50 61h0M59 81h0M40 52h0M79 43h0M47 73h0M89 37h0M87 68h0M71 56h0M79 62h0M87 34h0M23 49h0M46 40h0M46 65h0M68 51h0M47 60h0M54 26h0M47 66h0M55 10h0M75 37h0M92 41h0M59 11h0M74 68h0M54 15h0M32 20h0M53 60h0M61 18h0M58 17h0M65 28h0M70 20h0M58 14h0M74 51h0M53 42h0M54 26h0M82 54h0M84 29h0M58 79h0M53 77h0M57 84h0M66 24h0M62 65h0M92 43h0M57 23h0M51 46h0M59 61h0M58 17h0M82 55h0M55 16h0M65 53h0M55 21h0M53 73h0M56 14h0M50 59h0M65 77h0M66 51h0M55 74h0M42 50h0M58 83h0M56 34h0M47 62h0M69 26h0M88 48h0M20 46h0M48 75h0M76 30h0M25 48h0M57 17h0M58 38h0M43 32h0M56 87h0M64 26h0M60 53h0M42 25h0M70 77h0M66 82h0M61 39h0M48 57h0"/><path stroke="#3b64bf" d="M32 67h0M45 71h0M42 60h0M42 72h0M33 56h0M41 63h0M38 64h0M46 69h0M38 67h0M28 61h0M39 67h0M32 61h0M44 60h0M40 61h0M34 70h0M39 56h0M38 61h0M37 70h0M31 63h0M47 71h0M42 59h0M46 67h0M43 70h0M34 53h0M32 63h0M33 55h0M32 58h0M33 60h0M34 61h0"/><path stroke="#e05a28" d="M77 80h0M53 55h0M72 25h0M76 67h0M48 44h0M70 28h0M46 76h0M73 66h0M83 35h0M66 23h0"/><path stroke="#a6d0de" d="M34 27h0M32 26h0M31 53h0M45 61h0M31 17h0M20 26h0M46 29h0M33 42h0M41 20h0M47 21h0M34 27h0M27 53h0M22 24h0M42 36h0M27 43h0M31 38h0M42 36h0M45 32h0M71 52h0M48 25h0M30 26h0M46 26h0M39 45h0"/><path stroke="#4a78cf" d="M44 76h0M43 65h0M37 64h0M36 74h0M37 70h0M42 77h0M41 54h0M42 62h0M21 51h0M34 72h0M46 64h0M41 67h0M29 63h0M46 31h0M61 77h0"/></g></g><g transform="translate(188,469.1)"><rect x="0.5" y="0.5" width="34.2" height="31.3" fill="#fff" stroke="#969696" stroke-width="1.2"/><rect x="33.9" y="0.6" width="1.0" height="31.1" fill="url(#cbar)"/><g clip-path="url(#cpM)"><g opacity="0.75"><rect width="35.4" height="32.3" fill="#f1b743"/><g filter="url(#bl)"><ellipse cx="27.5" cy="17.5" rx="3" ry="7" fill="#eb8a36"/><ellipse cx="6" cy="12" rx="3" ry="7" fill="#5f8ed6"/></g></g><use href="#spM"/></g><g transform="scale(0.3333)" stroke-width="3.6" stroke-linecap="round" fill="none"><path stroke="#f4b840" d="M35 13h0M40 34h0M41 16h0M67 70h0M74 22h0M51 19h0M58 45h0M30 55h0M87 39h0M58 66h0M69 66h0M58 39h0M48 55h0M32 28h0M64 44h0M58 27h0M43 48h0M26 21h0M62 27h0M47 54h0M41 67h0M30 64h0M53 19h0M23 19h0M40 36h0M48 59h0M31 36h0M48 12h0M44 73h0M56 73h0M54 15h0M33 27h0M31 43h0M62 67h0M74 74h0M73 22h0M72 67h0M60 39h0M33 37h0M73 63h0M34 62h0M73 52h0M50 9h0M67 64h0M60 18h0M53 60h0M49 57h0M31 32h0M38 52h0M51 48h0M56 15h0M30 67h0M55 15h0M46 50h0M46 15h0M41 66h0M59 20h0M57 13h0M55 48h0M60 11h0M53 32h0M64 30h0M38 32h0M62 35h0M29 63h0M40 20h0M78 34h0M54 27h0M47 38h0M40 18h0M57 11h0M44 13h0M61 42h0M62 43h0M29 50h0M32 20h0M56 59h0M43 35h0M32 35h0M68 27h0M39 32h0M29 38h0M53 63h0M59 39h0M25 55h0M61 52h0M64 46h0M54 72h0M64 33h0M79 67h0M59 29h0M70 20h0M50 78h0M34 18h0M45 57h0M61 33h0M36 26h0M35 28h0M36 27h0M81 34h0M56 41h0M40 25h0M50 78h0M67 64h0M47 57h0M30 66h0M50 60h0M33 26h0M52 48h0M42 32h0M30 57h0M55 55h0M27 30h0M54 55h0M59 11h0M53 51h0M32 34h0M29 36h0M53 26h0M79 24h0M31 16h0M53 60h0M54 59h0M29 53h0M27 38h0M45 77h0M67 72h0M62 20h0M45 17h0M69 70h0M56 20h0M35 11h0M26 19h0M31 55h0M78 67h0M58 27h0M80 74h0M62 51h0M51 22h0M61 69h0M52 56h0M38 37h0M58 15h0M62 30h0M80 67h0M66 50h0M20 53h0M70 66h0M50 76h0M36 16h0M50 23h0M60 17h0M57 58h0M51 60h0M62 21h0M60 24h0M46 57h0M41 36h0M56 63h0M33 44h0M56 44h0M57 16h0M56 27h0M60 38h0M71 25h0M44 52h0M63 31h0M33 37h0M45 36h0M58 33h0M38 13h0M75 63h0M73 25h0M49 18h0M27 32h0M48 61h0M41 76h0M55 41h0M31 57h0M75 34h0M62 67h0M26 57h0M56 17h0M62 26h0M32 57h0M36 35h0M65 27h0M67 66h0M72 55h0"/><path stroke="#ec8a38" d="M47 40h0M86 41h0M37 76h0M68 54h0M75 65h0M77 41h0M64 75h0M46 39h0M59 32h0M74 28h0M75 28h0M39 75h0M49 40h0M63 62h0M59 74h0M51 42h0M31 74h0M40 73h0M71 26h0M77 68h0M78 62h0M38 74h0M24 53h0M30 46h0M35 69h0M79 73h0M38 74h0M62 62h0M57 18h0M42 51h0M86 63h0M77 22h0M46 72h0M51 41h0M44 39h0M51 61h0M59 63h0M80 65h0M78 40h0M81 62h0M77 30h0M75 68h0M28 45h0M65 14h0M45 66h0M79 37h0M50 42h0M48 41h0M45 14h0M69 53h0M40 70h0M47 57h0M29 22h0M39 19h0M73 53h0M63 75h0M58 20h0M89 40h0M55 46h0M40 73h0M55 9h0M35 68h0M78 62h0M63 64h0M64 33h0M45 21h0M29 23h0M28 47h0M66 51h0M56 70h0M49 15h0"/><path stroke="#f0dc50" d="M72 74h0M63 54h0M36 13h0M72 65h0M41 64h0M75 31h0M54 40h0M46 54h0M73 53h0M61 14h0M31 15h0M76 36h0M41 76h0M52 13h0M49 75h0M88 38h0M31 26h0M38 45h0M44 69h0M84 69h0M66 30h0M43 61h0M51 65h0M63 62h0M59 65h0M51 45h0M31 24h0M60 44h0M68 26h0M26 43h0M48 19h0M34 57h0M52 29h0M77 28h0M32 69h0M31 55h0M70 15h0M48 47h0M34 64h0M32 52h0M42 53h0M49 73h0M40 53h0M60 17h0M36 66h0M40 66h0M51 12h0M51 11h0M56 68h0M41 30h0M46 42h0M39 25h0M63 54h0M78 67h0M35 57h0M67 30h0M29 21h0M51 51h0M39 47h0M37 49h0M39 64h0M43 31h0M69 74h0M37 46h0M57 49h0M69 33h0M64 25h0M71 50h0M27 42h0M64 42h0M42 45h0M29 52h0M44 39h0M59 59h0M35 25h0M43 19h0M48 13h0M65 32h0M64 64h0M53 68h0M61 54h0M61 44h0M28 17h0M39 19h0M45 45h0M47 33h0M75 29h0M40 59h0M57 60h0M64 25h0M27 46h0M59 64h0M77 32h0M52 14h0M39 41h0M27 59h0M45 44h0M41 68h0M34 64h0M24 60h0M37 47h0M45 64h0M69 53h0M38 61h0M52 70h0M59 48h0M45 39h0M75 50h0M47 50h0M60 64h0M56 28h0M45 44h0M37 39h0M27 43h0M26 19h0M47 43h0M33 61h0M68 57h0M71 32h0M28 46h0M30 21h0M69 28h0M30 45h0M70 47h0M35 59h0M85 36h0M29 47h0M60 17h0M33 64h0M40 53h0M41 64h0M60 64h0M79 32h0M61 19h0M57 54h0M11 36h0M62 46h0M56 65h0M63 24h0M35 69h0M68 24h0M37 65h0M64 19h0M46 41h0M30 21h0M70 60h0M38 29h0M48 55h0M58 52h0M26 27h0M56 53h0M54 43h0M62 51h0M25 37h0M65 51h0M48 33h0M48 19h0M52 73h0M45 45h0M58 37h0M37 48h0M46 51h0M40 12h0M61 59h0"/><path stroke="#e05a28" d="M82 51h0M80 58h0M73 58h0M61 57h0M81 67h0M60 15h0M78 70h0M33 71h0M86 48h0M80 33h0M85 47h0M28 47h0M62 63h0M82 55h0M81 35h0M26 27h0"/><path stroke="#74a4dc" d="M19 42h0M23 24h0M26 44h0M25 27h0M13 29h0M21 40h0M22 27h0M19 42h0M22 43h0M25 45h0M12 44h0M12 43h0M25 39h0M21 43h0M23 24h0M22 33h0M24 46h0M23 30h0M18 48h0M22 33h0M27 47h0M22 29h0M24 45h0"/><path stroke="#4a78cf" d="M18 50h0M23 47h0M21 28h0M19 47h0M17 30h0M20 47h0M22 51h0M26 34h0M25 47h0M16 51h0M19 31h0M18 44h0M18 47h0M17 52h0M17 38h0M20 29h0M19 48h0M18 47h0M25 30h0M18 25h0"/><path stroke="#a6d0de" d="M22 37h0"/><path stroke="#eaeca6" d="M43 61h0M29 25h0M40 40h0M57 75h0M66 29h0M25 54h0M61 68h0M50 15h0M36 67h0M31 56h0M37 70h0M34 69h0M36 46h0M48 49h0M61 67h0M41 61h0"/></g></g><text x="243.3" y="429.2" font-size="8.1" fill="#1a1a1a" stroke="#1a1a1a" stroke-width="0.28" textLength="19.7" lengthAdjust="spacingAndGlyphs">CD3z</text><g transform="translate(236,435.1)"><rect x="0.5" y="0.5" width="34.2" height="31.3" fill="#fff" stroke="#969696" stroke-width="1.2"/><rect x="33.9" y="0.6" width="1.0" height="31.1" fill="url(#cbar)"/><g clip-path="url(#cpP)"><g opacity="0.75"><rect width="35.4" height="32.3" fill="#bfb17b"/><g filter="url(#bl)"><ellipse cx="9.5" cy="11" rx="6" ry="7.5" fill="#eb8a36"/><ellipse cx="12" cy="23" rx="2.5" ry="2.5" fill="#2b3fa0"/></g></g><use href="#spP"/></g><g transform="scale(0.3333)" stroke-width="3.6" stroke-linecap="round" fill="none"><path stroke="#ec8a38" d="M38 42h0M41 48h0M39 35h0M80 49h0M89 41h0M57 16h0M84 54h0M42 47h0M23 44h0M42 47h0M45 26h0M41 40h0M28 25h0M24 52h0M40 49h0M43 18h0M43 45h0M36 52h0M88 43h0M79 48h0M57 34h0M22 46h0M75 41h0M38 38h0M25 52h0M58 40h0M41 48h0M51 29h0M46 26h0M32 35h0M62 67h0M32 21h0M73 40h0M78 49h0M21 46h0M66 68h0M83 67h0M76 57h0M21 20h0M23 39h0M34 76h0M18 47h0M59 66h0M51 39h0M37 40h0M41 29h0M63 17h0M19 48h0M80 58h0M38 36h0M57 22h0M60 68h0M64 79h0M63 31h0M46 83h0M24 29h0M31 47h0M45 47h0M57 21h0M13 30h0M42 39h0M52 69h0"/><path stroke="#3b64bf" d="M47 23h0M81 62h0M80 60h0M78 68h0M78 49h0M60 21h0M83 67h0M40 17h0M64 82h0M46 30h0M58 24h0M56 40h0M87 56h0M37 78h0M81 64h0M90 57h0M48 20h0M86 40h0M87 43h0M84 69h0M85 69h0M82 61h0M80 63h0M72 25h0M71 20h0M71 27h0M56 64h0M83 66h0M78 22h0M82 44h0M73 39h0M83 41h0"/><path stroke="#74a4dc" d="M65 64h0M46 10h0M65 33h0M55 42h0M47 48h0M44 51h0M52 61h0M83 64h0M75 53h0M70 69h0M64 36h0M58 32h0M56 86h0M68 22h0M69 31h0M66 63h0M86 65h0M81 34h0M54 36h0M52 75h0M66 34h0M72 70h0M43 24h0M85 70h0M88 45h0M63 36h0M77 67h0M74 45h0M87 42h0M69 20h0M56 29h0M68 64h0M81 44h0M58 36h0M62 82h0M77 25h0M59 68h0M66 32h0M80 37h0M80 33h0M76 58h0M40 15h0M87 42h0M71 29h0M51 77h0M59 37h0M85 53h0M77 41h0M50 54h0M50 35h0M49 53h0M54 47h0M62 47h0M39 41h0M83 38h0M53 74h0M67 17h0M70 25h0M36 53h0M56 67h0M16 22h0M76 44h0M65 80h0M47 52h0M49 47h0M67 21h0M57 86h0M69 50h0M78 26h0M90 47h0M68 19h0M56 38h0M28 63h0M81 63h0M72 23h0M45 37h0M70 15h0M36 55h0M81 42h0M28 65h0M44 72h0M55 52h0M69 72h0M73 28h0M79 43h0M60 35h0M67 49h0M44 72h0M53 35h0M81 53h0M66 35h0M34 55h0M36 54h0M60 35h0M51 77h0M67 44h0M53 26h0M89 36h0M87 57h0M65 44h0M57 17h0M85 62h0M60 42h0M52 61h0M55 54h0M61 67h0M35 53h0M58 18h0"/><path stroke="#f0dc50" d="M74 33h0M71 77h0M63 42h0M67 57h0M18 56h0M65 22h0M82 72h0M51 55h0M67 81h0M60 80h0M74 33h0M87 29h0M19 55h0M56 17h0M40 58h0M45 44h0M55 71h0M67 41h0M60 45h0M54 33h0M47 66h0M64 77h0M40 52h0M62 77h0M43 48h0M42 52h0M19 54h0M62 55h0M89 64h0M52 18h0M57 81h0M59 54h0M65 70h0M78 77h0M63 70h0M53 44h0M88 61h0M73 60h0M59 72h0M80 73h0M60 44h0M48 45h0M61 56h0M66 55h0M30 59h0M57 83h0M68 78h0M68 56h0M78 71h0M65 54h0M68 78h0M49 66h0M52 15h0M64 53h0M73 66h0M73 64h0M57 56h0M66 29h0M70 37h0M54 20h0M58 84h0M44 76h0M59 30h0M59 59h0M67 38h0M59 60h0M41 53h0M58 62h0M70 59h0M51 73h0M65 56h0M42 48h0M64 29h0M77 71h0M41 31h0M87 33h0M52 21h0M44 55h0M46 71h0M71 60h0M64 42h0M69 77h0M44 45h0M70 37h0M67 59h0M62 71h0M58 72h0M84 50h0M56 79h0M40 56h0M81 70h0M43 54h0M71 35h0M76 32h0M62 50h0M42 64h0M52 22h0M47 55h0M69 37h0M62 70h0M74 32h0M49 67h0M58 83h0M82 76h0M47 72h0M78 72h0"/><path stroke="#f4b840" d="M84 57h0M66 21h0M50 18h0M47 69h0M61 45h0M66 15h0M61 29h0M43 48h0M72 50h0M88 40h0M76 70h0M63 85h0M82 27h0M85 72h0M28 19h0M52 35h0M72 49h0M74 61h0M57 33h0M76 43h0M68 36h0M65 59h0M59 45h0M43 39h0M28 65h0M52 74h0M65 32h0M71 80h0M65 70h0M60 45h0M46 30h0M64 21h0M71 38h0M21 55h0M71 64h0M66 75h0M44 63h0M57 17h0M86 32h0M60 85h0M64 71h0M53 67h0M67 31h0M82 69h0M54 34h0M55 74h0M18 53h0M72 61h0M53 65h0M74 51h0M46 33h0M54 35h0M74 60h0M70 68h0M77 79h0M55 71h0M83 48h0M86 47h0M76 69h0M66 50h0M69 40h0M31 39h0M59 50h0M52 60h0M36 58h0M42 22h0M58 43h0M74 76h0M78 36h0M63 62h0M51 66h0M41 31h0M81 40h0M37 54h0M76 46h0M60 31h0M46 28h0M46 19h0M76 36h0M73 76h0M45 68h0M60 69h0M71 36h0M50 73h0M79 35h0M87 51h0M68 22h0M73 35h0M50 12h0M87 68h0M71 62h0M68 60h0M63 30h0M76 74h0M78 68h0M78 68h0M61 31h0M45 42h0M44 47h0M42 32h0M55 19h0M45 73h0M41 41h0M42 28h0M72 52h0M71 58h0M41 22h0M59 16h0M48 72h0M57 35h0M51 20h0M61 47h0M50 58h0M69 26h0M68 54h0M60 85h0M81 43h0M61 32h0M84 60h0M28 45h0M59 14h0M79 79h0M51 54h0M70 57h0M42 50h0"/><path stroke="#e05a28" d="M40 32h0M42 41h0M64 17h0M42 41h0M65 66h0M36 23h0M45 50h0M38 20h0M40 41h0M34 54h0M51 30h0M62 34h0M35 47h0M31 40h0M43 34h0M46 34h0M42 17h0M34 54h0M26 44h0M42 26h0"/><path stroke="#eaeca6" d="M57 81h0M48 73h0M45 69h0M44 44h0M55 73h0M52 82h0M62 40h0M52 83h0M66 24h0M67 54h0M55 79h0M56 45h0"/><path stroke="#26369a" d="M35 64h0M49 34h0M35 74h0M41 64h0M35 76h0M44 70h0M53 31h0M33 68h0M42 69h0M44 69h0M38 64h0M64 66h0M42 72h0M33 68h0"/><path stroke="#a6d0de" d="M36 76h0M37 51h0M50 47h0M67 65h0M62 67h0M61 37h0M51 78h0M80 32h0M59 63h0M36 77h0M71 41h0M84 56h0M68 26h0M78 30h0M69 74h0M88 56h0"/><path stroke="#4a78cf" d="M62 66h0M81 60h0M56 36h0M37 76h0M51 37h0"/></g></g><g transform="translate(236,469.1)"><rect x="0.5" y="0.5" width="34.2" height="31.3" fill="#fff" stroke="#969696" stroke-width="1.2"/><rect x="33.9" y="0.6" width="1.0" height="31.1" fill="url(#cbar)"/><g clip-path="url(#cpM)"><g opacity="0.75"><rect width="35.4" height="32.3" fill="#bcad77"/><g filter="url(#bl)"><ellipse cx="9" cy="8.5" rx="5.5" ry="5" fill="#f1b743"/><ellipse cx="4.5" cy="12" rx="1.5" ry="4" fill="#2b3fa0"/><ellipse cx="11" cy="22" rx="2" ry="1.5" fill="#2b3fa0"/></g></g><use href="#spM"/></g><g transform="scale(0.3333)" stroke-width="3.6" stroke-linecap="round" fill="none"><path stroke="#f0dc50" d="M26 37h0M55 65h0M64 51h0M42 57h0M81 51h0M44 64h0M37 17h0M80 72h0M39 61h0M74 31h0M24 33h0M83 42h0M63 42h0M53 13h0M51 64h0M56 34h0M79 50h0M75 56h0M61 34h0M30 27h0M36 43h0M20 28h0M56 40h0M56 67h0M44 56h0M42 55h0M58 69h0M43 45h0M35 16h0M42 33h0M60 48h0M57 57h0M39 42h0M64 49h0M31 15h0M57 54h0M39 29h0M32 17h0M68 27h0M46 17h0M58 32h0M19 27h0M42 31h0M26 42h0M45 36h0M61 36h0M37 30h0M22 51h0M28 31h0M23 35h0M36 70h0M73 26h0M57 59h0M29 34h0M71 31h0M52 11h0M55 62h0M63 36h0M75 57h0M31 74h0M33 18h0M17 29h0M45 19h0M69 28h0M63 42h0M32 19h0M34 73h0M18 41h0M41 62h0M56 61h0M22 38h0M40 26h0M71 19h0M71 26h0M72 20h0M63 66h0M22 40h0M48 51h0M32 26h0M42 54h0M60 43h0M83 50h0M27 41h0M32 18h0M69 66h0M42 43h0M53 65h0M59 51h0M47 18h0M29 27h0M84 51h0M58 45h0M73 76h0M57 68h0M37 71h0M43 60h0M58 32h0M61 66h0M67 65h0M47 48h0M31 70h0M32 16h0M30 24h0M41 45h0M28 62h0M61 66h0M60 37h0M25 42h0M75 24h0M16 49h0M22 40h0M50 33h0M12 31h0M52 27h0M35 17h0M17 51h0M72 30h0M53 64h0M54 33h0M61 58h0M54 59h0M66 67h0M31 28h0M53 59h0M69 66h0M60 49h0M26 44h0M48 15h0M26 57h0M58 65h0M38 70h0M31 38h0M68 16h0M68 19h0M32 20h0M55 36h0"/><path stroke="#f4b840" d="M35 29h0M21 25h0M28 22h0M32 23h0M73 56h0M61 58h0M32 16h0M74 18h0M18 46h0M39 70h0M43 36h0M20 51h0M79 40h0M64 54h0M23 36h0M72 49h0M20 24h0M36 26h0M19 27h0M27 29h0M86 50h0M33 27h0M17 22h0M39 46h0M46 59h0M35 74h0M32 53h0M77 63h0M48 46h0M46 50h0M44 59h0M60 69h0M22 55h0M85 65h0M63 52h0M61 57h0M67 51h0M28 29h0M20 56h0M79 24h0M57 70h0M59 56h0M32 34h0M56 41h0M51 13h0M28 30h0M71 53h0M44 47h0M27 40h0M76 61h0M43 65h0M37 24h0M44 61h0M38 31h0M60 57h0M71 67h0M51 10h0M44 32h0M27 44h0M50 47h0M59 39h0M76 28h0M73 18h0M90 37h0M22 30h0M17 31h0M26 57h0M68 68h0M37 29h0M50 63h0M73 54h0M29 13h0M60 37h0M33 39h0M62 52h0M49 51h0M31 36h0M44 19h0M72 55h0M20 29h0M46 37h0M58 69h0M26 14h0M85 41h0M31 32h0M53 50h0M46 17h0M66 51h0M18 29h0M18 33h0M48 75h0M48 41h0M37 25h0M69 48h0M48 44h0M41 76h0M46 15h0M25 54h0M19 44h0M42 45h0M66 69h0M61 40h0M42 33h0M64 62h0M22 26h0M32 23h0M84 51h0M62 75h0M65 61h0M66 25h0M61 67h0M35 31h0M54 26h0M67 49h0M37 29h0M34 38h0M47 17h0M47 41h0M29 26h0M26 30h0M71 23h0M19 37h0M76 58h0M57 68h0M79 51h0M44 14h0M45 62h0M62 74h0M58 42h0M40 33h0M40 21h0M82 39h0M69 30h0"/><path stroke="#26369a" d="M16 40h0M33 66h0M14 41h0M32 69h0M36 63h0M16 44h0M37 67h0M14 36h0M11 34h0M35 68h0M15 39h0M34 64h0M18 39h0M15 28h0M15 32h0M37 66h0M12 41h0"/><path stroke="#3b64bf" d="M37 13h0M70 72h0M72 72h0M49 72h0M36 70h0M30 58h0M55 18h0M53 22h0M74 65h0M61 18h0M39 38h0M41 50h0M65 20h0M89 34h0M67 73h0M59 20h0M41 17h0M26 48h0M74 68h0M46 67h0M40 18h0M39 38h0M58 17h0M46 56h0M55 20h0M82 34h0M66 28h0M34 61h0M53 16h0M50 44h0M32 59h0M88 46h0M54 72h0M53 78h0M50 58h0M36 49h0M42 51h0M52 72h0M61 19h0M64 15h0M61 21h0M51 73h0M38 59h0M28 51h0M42 40h0M48 68h0M74 64h0M42 72h0M68 70h0M33 55h0M61 25h0M36 60h0M61 13h0M36 63h0M29 53h0M36 14h0M50 54h0M73 71h0M54 22h0M53 73h0M51 39h0M34 50h0M14 28h0"/><path stroke="#74a4dc" d="M73 74h0M54 48h0M43 15h0M30 41h0M53 39h0M40 41h0M45 64h0M66 20h0M56 30h0M53 36h0M32 40h0M69 34h0M56 54h0M43 41h0M63 70h0M56 24h0M69 64h0M57 75h0M29 47h0M70 51h0M40 51h0M72 56h0M64 73h0M63 70h0M62 73h0M22 42h0M34 45h0M49 74h0M73 56h0M27 46h0M44 74h0M22 36h0M28 38h0M66 26h0M62 40h0M59 30h0M66 71h0M53 51h0M53 70h0M37 57h0M57 15h0M47 66h0M50 51h0M70 56h0M24 42h0M53 14h0M38 14h0M52 73h0M49 52h0M19 41h0M56 56h0M47 61h0M43 47h0M50 51h0M60 26h0M29 58h0M77 70h0M46 68h0M52 14h0M59 14h0M33 45h0M30 43h0M52 47h0M64 30h0M56 45h0M38 63h0M60 22h0M88 36h0M36 53h0M31 45h0M61 22h0M46 66h0M62 70h0M38 48h0M57 76h0M65 52h0M34 39h0M35 74h0M39 52h0M62 14h0M24 43h0M61 25h0M43 41h0M65 62h0M39 59h0"/><path stroke="#ec8a38" d="M29 41h0M59 16h0M25 36h0M25 34h0M37 50h0M29 20h0M76 67h0M37 50h0M55 17h0M36 17h0M72 63h0M80 29h0M73 72h0M49 72h0M74 68h0M37 52h0M31 60h0M67 71h0M55 16h0M92 34h0M28 20h0M41 39h0M31 48h0M54 42h0M31 44h0M67 71h0M91 34h0M65 29h0M51 69h0M28 20h0M64 28h0M66 31h0M55 26h0M54 20h0M30 47h0M33 48h0M24 15h0M52 46h0"/><path stroke="#4a78cf" d="M32 46h0M68 55h0M48 52h0M37 12h0M62 22h0M43 48h0M65 29h0M18 42h0M28 15h0M62 40h0M34 63h0M69 49h0M74 64h0"/><path stroke="#eaeca6" d="M23 56h0M68 47h0M60 57h0M54 59h0M70 25h0M73 21h0M62 42h0M43 44h0"/><path stroke="#a6d0de" d="M64 26h0M75 48h0M63 22h0M46 53h0"/><path stroke="#e05a28" d="M30 51h0M49 55h0M27 23h0"/></g></g><text x="289" y="429.2" font-size="8.1" fill="#1a1a1a" stroke="#1a1a1a" stroke-width="0.28" textLength="24" lengthAdjust="spacingAndGlyphs">ZAP70</text><g transform="translate(283,435.1)"><rect x="0.5" y="0.5" width="34.2" height="31.3" fill="#fff" stroke="#969696" stroke-width="1.2"/><rect x="33.9" y="0.6" width="1.0" height="31.1" fill="url(#cbar)"/><g clip-path="url(#cpP)"><g opacity="0.75"><rect width="35.4" height="32.3" fill="#f1b743"/><g filter="url(#bl)"><ellipse cx="9.5" cy="11" rx="6" ry="7.5" fill="#d7df9d"/><ellipse cx="22.5" cy="8" rx="7.5" ry="4.5" fill="#dc5528"/><ellipse cx="18" cy="16" rx="6" ry="5.5" fill="#eb8a36"/><ellipse cx="25" cy="8" rx="5" ry="3.5" fill="#c9311e"/><ellipse cx="12" cy="23" rx="2.5" ry="2.5" fill="#2b3fa0"/></g></g><use href="#spP"/></g><g transform="scale(0.3333)" stroke-width="3.6" stroke-linecap="round" fill="none"><path stroke="#b0201a" d="M71 29h0M67 29h0M71 22h0M75 27h0M72 22h0M75 24h0M67 20h0M71 24h0M66 26h0M72 31h0M64 27h0M74 19h0M77 25h0M73 30h0M70 22h0M74 18h0M68 28h0M74 18h0M58 30h0M67 20h0M75 23h0M73 32h0"/><path stroke="#f4b840" d="M54 16h0M61 37h0M86 36h0M92 52h0M56 75h0M60 68h0M52 17h0M77 66h0M79 40h0M49 24h0M42 51h0M53 71h0M67 70h0M48 63h0M51 85h0M36 59h0M26 60h0M87 45h0M85 55h0M36 61h0M70 50h0M16 43h0M79 63h0M74 67h0M40 58h0M51 18h0M73 63h0M51 59h0M46 70h0M86 68h0M71 55h0M67 42h0M42 74h0M68 64h0M48 28h0M68 71h0M41 76h0M72 67h0M52 79h0M41 20h0M89 41h0M86 53h0M83 55h0M71 54h0M42 75h0M49 74h0M42 62h0M42 76h0M87 57h0M43 56h0M52 53h0M34 56h0M56 38h0M46 44h0M67 71h0M47 52h0M54 42h0M58 35h0M51 41h0M73 36h0M86 41h0M75 38h0M44 71h0M67 69h0M48 53h0M60 59h0M46 53h0M73 44h0M58 76h0M81 78h0M62 42h0M73 37h0M80 57h0M89 41h0M67 64h0M92 45h0M88 43h0M19 48h0M74 64h0M60 36h0M63 85h0M65 66h0M67 42h0M77 79h0M86 37h0M67 47h0M87 50h0M61 69h0M54 42h0M43 71h0M51 50h0M86 33h0M64 65h0M45 30h0M27 58h0M80 57h0M82 62h0M71 53h0M68 72h0M64 68h0M86 36h0M38 50h0M41 45h0M52 42h0M89 49h0M72 65h0M68 65h0M18 49h0M73 62h0M69 58h0M41 11h0M39 48h0M56 80h0M73 53h0M33 74h0M86 39h0M71 46h0M82 47h0M66 60h0M54 33h0M82 43h0M72 77h0M44 73h0M59 58h0M72 63h0M73 48h0M51 61h0M30 53h0M81 68h0M66 68h0M67 62h0M37 39h0"/><path stroke="#ec8a38" d="M65 70h0M62 66h0M50 45h0M57 71h0M70 61h0M77 41h0M56 49h0M54 74h0M52 57h0M86 47h0M46 57h0M35 20h0M66 60h0M49 10h0M78 37h0M51 58h0M50 59h0M59 68h0M64 77h0M64 40h0M66 45h0M64 39h0M46 64h0M89 32h0M41 54h0M65 32h0M47 22h0M58 70h0M64 60h0M43 35h0M54 37h0M58 40h0M45 22h0M79 42h0M51 56h0M67 81h0M48 65h0M77 41h0M80 41h0M53 37h0M67 41h0M50 64h0M68 48h0M46 31h0M48 80h0M77 44h0M86 44h0M77 74h0M44 46h0M46 19h0M51 43h0M57 70h0M72 72h0M64 59h0M63 52h0M63 35h0M65 20h0M58 68h0M62 38h0M49 27h0M56 57h0M49 47h0M47 32h0M66 53h0M52 76h0M42 55h0M48 79h0M46 44h0M66 40h0M31 63h0M48 60h0M47 65h0M55 64h0M48 80h0M55 36h0M53 49h0M59 43h0M80 46h0M44 19h0M36 53h0M66 75h0M59 62h0M59 27h0M54 60h0M55 55h0M88 54h0M53 46h0M54 36h0M29 63h0M17 49h0M52 47h0M52 45h0M57 29h0M61 62h0"/><path stroke="#26369a" d="M34 71h0M43 69h0M43 67h0M36 68h0M35 73h0M33 70h0M41 70h0M41 74h0M36 61h0M29 62h0M43 73h0M34 69h0M38 73h0M33 61h0"/><path stroke="#f0dc50" d="M55 86h0M49 76h0M62 82h0M86 64h0M73 63h0M83 47h0M79 65h0M67 78h0M44 34h0M83 65h0M39 44h0M54 77h0M75 64h0M80 60h0M60 77h0M84 58h0M40 26h0M55 66h0M40 29h0M38 17h0M67 65h0M45 32h0M67 76h0M82 44h0M82 36h0M40 41h0M82 57h0M49 35h0M74 75h0M76 75h0M66 74h0M88 37h0M17 23h0M83 67h0M18 31h0M91 54h0M45 65h0M31 51h0M86 65h0M72 83h0M74 56h0M20 48h0M82 65h0M76 43h0M70 80h0M88 47h0M62 75h0M78 36h0M45 34h0M76 59h0M41 59h0M74 74h0M60 70h0M74 57h0M35 50h0M87 65h0M57 69h0M78 55h0M35 33h0M32 52h0M50 9h0M73 58h0M78 42h0M39 17h0M57 75h0M22 29h0M81 75h0M68 82h0M61 60h0M32 65h0M81 63h0M85 47h0M55 72h0M82 44h0M64 74h0M61 79h0M82 44h0M85 40h0M20 39h0M70 75h0M59 83h0M51 74h0M68 75h0M60 68h0M49 71h0M18 49h0M70 73h0M55 73h0M47 16h0M38 56h0M80 66h0M42 78h0M65 81h0M41 25h0M15 35h0M83 65h0M55 77h0M63 78h0M84 35h0M36 28h0M85 66h0M79 56h0M74 81h0"/><path stroke="#e05a28" d="M72 32h0M54 43h0M62 13h0M54 55h0M50 31h0M55 44h0M60 40h0M46 43h0M43 41h0M53 57h0M63 54h0M37 48h0M62 64h0M73 31h0M66 58h0M56 22h0M43 57h0M60 16h0M69 21h0M68 34h0M53 50h0M47 38h0M63 53h0M40 42h0M48 40h0M42 55h0M60 17h0M44 44h0M63 16h0M67 34h0M50 21h0M61 31h0M57 19h0M62 38h0M78 37h0M55 35h0M64 22h0M74 18h0M57 21h0M54 44h0M51 52h0M66 29h0M79 43h0M45 56h0M45 81h0M64 41h0M68 19h0M66 20h0M55 25h0M64 21h0M53 19h0M86 28h0M44 57h0M58 63h0M64 44h0M60 49h0M50 28h0M56 21h0M63 55h0M50 35h0M53 18h0M64 30h0M44 46h0M64 39h0M59 32h0M58 45h0M47 43h0M72 40h0M51 29h0M58 62h0M50 41h0M48 79h0M53 27h0M53 14h0"/><path stroke="#eaeca6" d="M31 34h0M38 32h0M58 68h0M24 25h0M40 34h0M44 37h0M35 12h0M47 29h0M32 54h0M39 18h0M44 34h0M67 78h0M25 25h0M42 37h0M82 43h0M34 54h0M36 46h0"/><path stroke="#cc2a1c" d="M54 28h0M78 32h0M55 32h0M61 19h0M53 20h0M81 29h0M67 25h0M83 25h0M59 27h0M69 27h0M87 28h0M70 33h0M74 33h0M56 25h0M61 22h0M61 25h0M82 29h0M73 25h0M76 26h0M68 14h0M84 26h0M68 24h0M58 27h0M64 29h0M74 24h0M76 24h0M79 35h0M54 18h0M57 14h0M85 29h0M80 28h0M41 56h0M78 27h0M74 36h0M49 20h0M56 61h0M59 25h0M85 26h0"/><path stroke="#a6d0de" d="M16 25h0M27 51h0M36 36h0M36 21h0"/><path stroke="#3b64bf" d="M29 67h0M34 69h0"/></g></g><g transform="translate(283,469.1)"><rect x="0.5" y="0.5" width="34.2" height="31.3" fill="#fff" stroke="#969696" stroke-width="1.2"/><rect x="33.9" y="0.6" width="1.0" height="31.1" fill="url(#cbar)"/><g clip-path="url(#cpM)"><g opacity="0.75"><rect width="35.4" height="32.3" fill="#ead462"/><g filter="url(#bl)"><ellipse cx="26" cy="7" rx="4" ry="4" fill="#dc5528"/><ellipse cx="4.5" cy="12" rx="1.5" ry="4" fill="#2b3fa0"/><ellipse cx="11" cy="22" rx="2" ry="1.5" fill="#2b3fa0"/></g></g><use href="#spM"/></g><g transform="scale(0.3333)" stroke-width="3.6" stroke-linecap="round" fill="none"><path stroke="#f4b840" d="M32 26h0M46 44h0M21 21h0M35 26h0M24 50h0M25 49h0M51 58h0M41 56h0M24 37h0M54 22h0M47 12h0M44 17h0M24 30h0M39 59h0M76 69h0M58 50h0M59 64h0M34 23h0M75 49h0M44 33h0M26 57h0M43 16h0M59 74h0M50 15h0M43 19h0M38 70h0M43 45h0M69 53h0M42 40h0M43 60h0M44 64h0M63 12h0M38 41h0M58 71h0M25 50h0M26 56h0M58 56h0M54 76h0M78 72h0M56 57h0M72 55h0M79 50h0M31 26h0M77 47h0M73 52h0M51 39h0M80 47h0M61 29h0M33 15h0M49 38h0M69 16h0M35 27h0M54 26h0M32 29h0M56 67h0M52 34h0M29 27h0M60 11h0M26 21h0M50 38h0M75 63h0M62 30h0M35 78h0M57 71h0M84 35h0M52 19h0M54 21h0M40 61h0M36 25h0M48 13h0M35 15h0M49 27h0M51 12h0M66 53h0M33 55h0M41 11h0M69 53h0M72 60h0M39 68h0M67 46h0M56 51h0M40 67h0M67 52h0M26 24h0M32 31h0M34 16h0M67 53h0M62 31h0M42 66h0M51 43h0M15 49h0M53 31h0M39 74h0M33 58h0M28 38h0M71 61h0M57 60h0M80 53h0M38 62h0M42 63h0M61 37h0M37 58h0M89 46h0M24 31h0M34 24h0M55 15h0M37 61h0M33 44h0M24 56h0M72 70h0M66 29h0M24 17h0M91 45h0M61 33h0M28 21h0M53 58h0M51 20h0M27 31h0M49 13h0M47 59h0M80 40h0M37 12h0M29 45h0M25 52h0M53 27h0M75 58h0M55 31h0M67 38h0M22 29h0M39 11h0M84 45h0M56 68h0M28 34h0M32 26h0M47 43h0M60 64h0M45 65h0M50 72h0M35 35h0M38 32h0M46 14h0M35 18h0M67 47h0M46 20h0M47 48h0M34 22h0M34 72h0M83 32h0M36 54h0M39 69h0M45 48h0M41 75h0M63 61h0M75 59h0M44 41h0"/><path stroke="#f0dc50" d="M63 71h0M47 49h0M56 64h0M60 69h0M29 52h0M76 72h0M66 71h0M31 25h0M31 38h0M54 62h0M48 71h0M69 33h0M62 52h0M61 20h0M61 25h0M34 54h0M41 16h0M42 76h0M68 58h0M40 55h0M66 70h0M47 59h0M64 56h0M40 51h0M14 25h0M42 44h0M33 18h0M27 43h0M40 31h0M81 58h0M31 41h0M30 38h0M48 51h0M32 19h0M21 29h0M63 71h0M50 51h0M87 33h0M31 39h0M60 55h0M55 23h0M56 20h0M63 57h0M21 41h0M49 68h0M30 41h0M19 19h0M59 72h0M44 19h0M50 40h0M34 34h0M24 41h0M53 29h0M28 17h0M26 43h0M29 32h0M64 58h0M62 67h0M88 37h0M39 54h0M59 49h0M43 24h0M57 38h0M27 29h0M43 51h0M43 47h0M51 63h0M41 48h0M63 46h0M50 63h0M68 25h0M54 64h0M62 62h0M31 17h0M57 63h0M47 76h0M29 18h0M52 50h0M34 19h0M33 22h0M50 41h0M27 43h0M54 22h0M66 18h0M19 54h0M46 65h0M30 42h0M87 49h0M54 24h0M67 25h0M60 68h0M46 55h0M56 44h0M40 53h0M64 46h0M64 24h0M66 62h0M56 17h0M57 42h0M18 47h0M67 33h0M83 61h0M59 41h0M47 47h0M55 48h0M29 50h0M22 46h0M65 70h0M80 45h0M66 71h0M53 61h0M28 14h0M16 49h0M20 25h0M32 18h0M69 22h0M62 26h0M62 47h0M33 43h0M35 38h0M48 77h0M40 46h0M63 43h0M39 77h0M22 44h0M27 51h0M44 57h0M39 49h0M21 43h0M58 19h0M64 71h0M30 17h0M64 40h0M61 69h0M38 20h0M68 68h0M64 66h0M44 70h0M64 65h0M60 64h0M52 66h0M40 48h0M43 77h0M41 79h0M63 69h0M40 75h0M75 57h0M58 63h0M23 46h0M33 31h0M26 43h0M85 68h0M62 66h0M61 12h0M39 21h0M33 54h0M46 15h0M57 41h0M67 57h0M42 50h0M74 54h0M56 71h0M37 14h0M45 71h0M63 49h0M55 19h0M38 18h0M46 55h0M42 22h0M70 33h0M56 35h0M51 13h0M54 68h0M45 56h0M47 62h0M35 26h0M62 69h0M37 41h0M38 46h0M58 38h0M19 40h0M70 67h0M78 69h0M89 34h0M50 51h0M46 54h0M47 72h0M80 71h0M30 34h0M31 42h0M59 58h0M29 18h0M83 54h0M37 35h0M32 18h0M52 73h0M37 56h0M17 24h0M28 46h0M33 28h0M71 55h0M29 49h0M51 78h0M38 23h0M58 42h0M58 69h0M60 45h0M32 52h0M34 12h0M57 46h0M37 53h0M64 52h0M68 72h0M64 19h0M49 72h0M28 32h0M43 71h0M25 36h0M38 27h0M88 39h0M68 57h0M76 54h0M66 72h0M43 44h0M39 46h0M42 21h0"/><path stroke="#eaeca6" d="M28 52h0M40 12h0M24 51h0M63 69h0M42 63h0M55 71h0M61 64h0M24 22h0M38 50h0M62 48h0M45 71h0M57 64h0M51 44h0M47 40h0M83 61h0M43 15h0M37 13h0M28 55h0M56 27h0M37 39h0M79 41h0M39 36h0M35 11h0M28 49h0M18 53h0M53 34h0M31 24h0M35 44h0M48 46h0M68 28h0M74 62h0M60 13h0M31 23h0M41 27h0M25 23h0M48 11h0M55 56h0M59 29h0M44 15h0M54 59h0M87 47h0M31 15h0M62 27h0"/><path stroke="#cc2a1c" d="M74 16h0M74 23h0M72 24h0M73 31h0M71 20h0M73 21h0M73 19h0M73 32h0M70 22h0M71 19h0"/><path stroke="#ec8a38" d="M28 33h0M24 31h0M20 33h0M51 13h0M38 59h0M34 49h0M76 28h0M79 44h0M33 55h0M72 23h0M19 43h0M81 62h0M35 25h0M36 77h0M34 72h0M69 23h0M55 28h0M41 16h0M38 36h0"/><path stroke="#e05a28" d="M78 24h0M72 32h0M68 25h0M67 22h0M76 28h0M69 22h0M81 28h0M72 28h0M72 29h0M68 26h0M77 29h0M80 27h0"/><path stroke="#a6d0de" d="M45 34h0M49 44h0M76 52h0M67 49h0M48 33h0M52 14h0M40 62h0M90 44h0M58 55h0M38 12h0"/><path stroke="#26369a" d="M18 44h0M30 65h0M12 41h0M32 66h0M18 35h0M15 46h0M33 66h0M34 65h0M15 39h0M14 33h0M17 43h0M32 65h0M35 64h0M30 65h0M36 65h0M15 31h0M33 65h0M12 37h0M16 46h0M12 31h0M18 39h0"/><path stroke="#3b64bf" d="M13 36h0M35 69h0M12 32h0M14 39h0"/></g></g><text x="342.5" y="429.2" font-size="8.1" fill="#1a1a1a" stroke="#1a1a1a" stroke-width="0.28" textLength="12.68" lengthAdjust="spacingAndGlyphs">Syk</text><g transform="translate(331,435.1)"><rect x="0.5" y="0.5" width="34.2" height="31.3" fill="#fff" stroke="#969696" stroke-width="1.2"/><rect x="33.9" y="0.6" width="1.0" height="31.1" fill="url(#cbar)"/><g clip-path="url(#cpP)"><g opacity="0.75"><rect width="35.4" height="32.3" fill="#f0c650"/><g filter="url(#bl)"><ellipse cx="9.5" cy="11" rx="6" ry="7.5" fill="#eb8a36"/><ellipse cx="22.5" cy="8" rx="7.5" ry="4.5" fill="#dc5528"/><ellipse cx="23" cy="7.5" rx="6.5" ry="4" fill="#dc5528"/><ellipse cx="24" cy="7" rx="5" ry="3" fill="#c9311e"/><ellipse cx="11" cy="23" rx="2" ry="2" fill="#4169c1"/></g></g><use href="#spP"/></g><g transform="scale(0.3333)" stroke-width="3.6" stroke-linecap="round" fill="none"><path stroke="#f4b840" d="M47 23h0M65 42h0M52 61h0M65 64h0M89 46h0M84 49h0M39 19h0M49 57h0M63 62h0M65 63h0M72 37h0M48 55h0M47 18h0M92 40h0M58 70h0M41 55h0M65 64h0M42 62h0M59 86h0M80 38h0M60 54h0M58 63h0M67 53h0M59 86h0M50 55h0M46 51h0M86 50h0M51 37h0M82 75h0M41 59h0M39 47h0M50 11h0M57 48h0M92 34h0M58 11h0M62 76h0M90 58h0M41 59h0M55 9h0M79 61h0M78 35h0M85 34h0M58 80h0M55 51h0M76 54h0M76 52h0M41 49h0M29 53h0M43 72h0M58 62h0M74 54h0M65 63h0M73 54h0M59 49h0M64 72h0M62 75h0M55 74h0M65 58h0M44 76h0M46 76h0M85 65h0M44 58h0M35 76h0M39 38h0M80 40h0M65 56h0M56 79h0M81 65h0M54 65h0M77 59h0M50 22h0M71 47h0M79 79h0M42 61h0M85 45h0M55 37h0M81 68h0M23 61h0M41 43h0M66 70h0M40 58h0M88 46h0M43 38h0M73 55h0M58 65h0M63 55h0M50 84h0M72 62h0M59 77h0M46 18h0M65 58h0M64 41h0M69 71h0M46 44h0M88 42h0M65 37h0M39 53h0M66 58h0M83 40h0M48 44h0M18 47h0M45 45h0M88 37h0M40 17h0M59 64h0M68 58h0M86 51h0M74 57h0M72 41h0M76 55h0M79 65h0M47 65h0M75 54h0M79 34h0M58 48h0M51 47h0M77 65h0M79 67h0M40 52h0M74 77h0M64 85h0M72 76h0M46 61h0M39 54h0M37 46h0M68 52h0M51 46h0M49 35h0M56 60h0M86 50h0M68 42h0M58 54h0M70 57h0M70 62h0M73 59h0M73 53h0M62 64h0M87 45h0M51 47h0M53 41h0"/><path stroke="#f0dc50" d="M67 48h0M63 43h0M70 47h0M64 47h0M90 40h0M53 67h0M47 54h0M40 17h0M38 45h0M83 59h0M46 58h0M51 65h0M49 26h0M82 43h0M39 65h0M87 57h0M76 40h0M60 77h0M81 39h0M57 51h0M89 50h0M61 65h0M39 47h0M79 51h0M37 52h0M45 35h0M76 60h0M75 72h0M75 70h0M45 69h0M51 72h0M61 48h0M49 52h0M52 39h0M71 72h0M55 11h0M74 45h0M86 58h0M82 43h0M42 55h0M63 48h0M69 45h0M60 82h0M78 47h0M69 72h0M75 49h0M71 56h0M75 41h0M44 35h0M69 71h0M71 69h0M88 39h0M90 58h0M85 54h0M75 65h0M82 46h0M74 68h0M56 44h0M54 51h0M43 11h0M71 45h0M91 49h0M64 67h0M68 77h0M58 69h0M74 46h0M74 47h0M41 69h0M83 58h0M65 75h0M81 57h0M74 63h0M90 55h0M69 58h0M65 52h0M34 55h0M63 78h0M72 72h0M71 55h0M50 43h0M67 83h0M64 67h0M44 40h0M50 71h0M88 51h0M62 72h0M88 51h0M44 40h0M76 38h0M40 64h0M75 61h0M59 46h0M44 55h0M46 73h0M71 48h0M58 79h0M83 56h0M69 69h0M71 36h0M40 69h0M86 54h0M48 78h0M71 38h0M76 62h0M66 48h0M39 66h0M54 41h0M85 40h0M39 78h0M55 82h0M59 39h0M59 84h0M70 55h0M78 43h0M79 40h0M84 33h0M48 42h0M63 65h0M57 48h0M55 11h0M37 48h0M87 32h0M81 45h0M57 53h0M48 68h0M72 65h0M32 62h0M62 65h0M63 46h0M85 50h0M76 66h0M72 73h0M39 47h0M52 60h0M26 61h0M86 55h0M58 67h0M82 42h0M47 72h0M57 49h0M73 38h0M44 53h0M44 58h0M44 45h0M44 35h0M87 52h0M75 59h0M52 52h0"/><path stroke="#ec8a38" d="M81 36h0M34 56h0M72 78h0M49 42h0M32 50h0M44 40h0M39 52h0M73 78h0M88 43h0M58 16h0M40 41h0M26 20h0M62 31h0M44 48h0M61 60h0M50 57h0M43 66h0M75 51h0M41 34h0M55 60h0M84 64h0M81 49h0M54 55h0M54 59h0M64 61h0M44 32h0M49 59h0M45 61h0M55 75h0M49 44h0M79 31h0M57 35h0M40 34h0M25 50h0M41 15h0M50 61h0M36 24h0M71 79h0M36 18h0M44 60h0M39 45h0M40 62h0M38 55h0M36 30h0M57 62h0M42 37h0M42 43h0M40 33h0M43 63h0M47 37h0M56 59h0M41 59h0M82 67h0M64 42h0M18 35h0M17 36h0M31 13h0M75 52h0M49 32h0M63 62h0M78 36h0M61 74h0M50 59h0M83 50h0M80 35h0M35 27h0M38 36h0M44 76h0M41 79h0M75 32h0M58 74h0M80 61h0M82 33h0M62 74h0M39 46h0M27 39h0M55 60h0M39 31h0M36 57h0M17 39h0M83 67h0M55 9h0M37 35h0"/><path stroke="#3b64bf" d="M32 71h0M33 66h0M37 70h0M39 66h0M32 71h0M33 70h0M33 66h0"/><path stroke="#e05a28" d="M31 31h0M57 25h0M79 24h0M69 32h0M47 25h0M30 23h0M47 25h0M41 43h0M73 34h0M76 27h0M57 38h0M28 16h0M86 28h0M25 24h0M32 57h0M23 46h0M35 43h0M62 30h0M64 28h0M55 26h0M47 24h0M72 33h0M72 25h0M26 24h0M30 49h0M66 31h0M51 22h0M55 29h0M57 13h0M57 24h0M55 28h0M72 33h0M68 28h0M65 27h0M58 27h0M81 23h0M77 31h0M54 20h0M23 32h0M69 29h0M57 27h0M62 34h0M48 35h0M76 24h0M21 36h0M56 29h0M25 24h0M48 22h0M36 45h0"/><path stroke="#cc2a1c" d="M57 21h0M70 29h0M59 24h0M30 37h0M62 25h0M22 52h0M65 13h0M68 26h0M48 21h0M50 31h0M64 17h0M71 15h0M47 26h0M79 32h0M49 17h0M71 29h0M68 21h0M62 32h0M52 34h0M62 33h0M78 32h0M68 18h0M56 21h0M71 19h0M65 32h0M45 16h0M67 24h0M60 26h0M82 34h0M69 28h0M67 22h0M60 24h0M68 28h0M64 19h0M65 24h0M30 43h0M81 33h0M62 20h0M82 30h0M55 36h0"/><path stroke="#eaeca6" d="M93 46h0M12 37h0M50 79h0M80 47h0M47 61h0M64 47h0M73 44h0M48 51h0M39 56h0M38 74h0M85 54h0M60 62h0M69 78h0M76 59h0M85 59h0"/><path stroke="#b0201a" d="M83 23h0M73 21h0M68 23h0M62 14h0M64 15h0M71 24h0M80 27h0M68 18h0M71 24h0M71 26h0"/><path stroke="#4a78cf" d="M36 70h0M36 72h0M33 67h0"/><path stroke="#a6d0de" d="M91 45h0M50 60h0"/><path stroke="#26369a" d="M39 71h0M37 73h0"/><path stroke="#74a4dc" d="M35 73h0"/></g></g><g transform="translate(331,469.1)"><rect x="0.5" y="0.5" width="34.2" height="31.3" fill="#fff" stroke="#969696" stroke-width="1.2"/><rect x="33.9" y="0.6" width="1.0" height="31.1" fill="url(#cbar)"/><g clip-path="url(#cpM)"><g opacity="0.75"><rect width="35.4" height="32.3" fill="#ead462"/><g filter="url(#bl)"><ellipse cx="7.5" cy="16" rx="3.5" ry="4.5" fill="#b5c8a5"/><ellipse cx="14" cy="4.5" rx="6" ry="2.5" fill="#dc5528"/><ellipse cx="11" cy="22" rx="2" ry="2" fill="#4169c1"/></g></g><use href="#spM"/></g><g transform="scale(0.3333)" stroke-width="3.6" stroke-linecap="round" fill="none"><path stroke="#f4b840" d="M69 51h0M33 50h0M46 41h0M44 36h0M17 21h0M32 31h0M64 47h0M69 22h0M64 56h0M62 21h0M81 43h0M59 58h0M17 36h0M26 28h0M17 37h0M37 37h0M29 14h0M86 36h0M77 27h0M24 25h0M61 24h0M67 57h0M49 37h0M40 60h0M31 35h0M83 42h0M49 33h0M21 31h0M56 10h0M63 45h0M60 30h0M31 35h0M21 35h0M63 22h0M49 41h0M56 29h0M27 23h0M48 39h0M24 38h0M55 23h0M19 38h0M66 20h0M17 48h0M68 56h0M68 58h0M46 46h0M50 39h0M80 29h0M33 22h0M86 39h0M91 41h0M78 25h0M32 20h0M28 50h0M32 29h0M30 37h0M56 52h0M74 25h0M50 38h0M61 24h0M60 61h0M71 25h0M55 28h0M13 34h0M65 29h0M28 26h0M37 28h0M19 26h0M28 23h0M41 34h0M78 50h0M36 33h0M33 20h0M27 28h0M55 54h0M46 40h0M73 30h0M34 46h0M58 14h0M74 26h0M42 65h0M52 62h0M26 25h0M55 62h0M65 24h0M42 60h0M72 65h0M50 37h0M30 28h0M53 23h0M21 25h0M72 28h0M37 26h0M63 52h0M34 25h0M57 34h0M62 69h0M83 43h0M74 72h0M57 33h0M34 47h0M21 29h0M54 43h0M52 70h0M60 23h0M50 35h0M32 21h0M42 76h0M56 50h0M49 37h0M58 19h0M41 59h0M34 51h0M36 34h0M34 36h0M67 57h0M56 45h0M33 40h0M36 51h0M19 29h0M80 64h0M45 36h0M41 76h0M34 39h0M20 22h0M43 35h0M52 25h0M43 69h0M39 56h0M50 63h0M82 34h0M61 68h0M82 61h0M38 33h0M56 46h0M74 24h0M43 76h0M61 60h0M64 56h0M59 74h0M17 34h0M61 23h0M33 51h0M57 54h0M37 37h0"/><path stroke="#f0dc50" d="M77 31h0M20 35h0M47 55h0M40 50h0M30 32h0M23 27h0M68 50h0M56 24h0M61 64h0M55 35h0M70 74h0M77 18h0M16 25h0M77 54h0M35 50h0M22 24h0M51 24h0M81 29h0M61 26h0M19 28h0M40 30h0M29 26h0M43 41h0M32 31h0M28 50h0M54 64h0M73 49h0M39 68h0M74 49h0M62 37h0M22 34h0M71 48h0M19 26h0M74 51h0M69 28h0M22 43h0M43 43h0M66 56h0M65 64h0M44 44h0M73 33h0M20 34h0M20 18h0M41 42h0M52 64h0M59 23h0M72 59h0M26 32h0M40 57h0M86 64h0M73 50h0M19 21h0M60 35h0M27 38h0M33 34h0M46 57h0M26 32h0M61 29h0M53 29h0M33 31h0M30 27h0M13 46h0M43 47h0M22 52h0M49 70h0M67 29h0M24 35h0M54 65h0M74 62h0M55 58h0M48 45h0M66 14h0M40 46h0M68 49h0M62 41h0M60 35h0M74 46h0M47 40h0M40 28h0M42 41h0M37 44h0M42 42h0M27 48h0M58 37h0M29 37h0M26 50h0M73 68h0M23 28h0M24 30h0M38 73h0M20 26h0M33 71h0M22 29h0M67 71h0M19 48h0M37 49h0M60 44h0M65 16h0M81 59h0M61 39h0M31 46h0M38 54h0M23 27h0M77 55h0M76 18h0M51 78h0M61 16h0M45 67h0M71 30h0M55 28h0M56 20h0M41 73h0M34 72h0M52 66h0M74 58h0M38 28h0M57 62h0M42 35h0M63 66h0M72 67h0M64 65h0M50 75h0M73 52h0M33 74h0M69 18h0M52 54h0M29 51h0M41 67h0M41 45h0M20 39h0M37 51h0M14 24h0M16 46h0M69 73h0M16 42h0M65 68h0M88 38h0M74 72h0M20 37h0M44 68h0M55 40h0M59 24h0M69 66h0M59 55h0M38 43h0M61 39h0M38 33h0M64 64h0M17 49h0M30 61h0M28 48h0M17 36h0M73 21h0M44 67h0M28 37h0M48 65h0M57 21h0M52 44h0M43 75h0M17 51h0M16 23h0M82 70h0M69 63h0M75 58h0M69 31h0M42 48h0M38 53h0M26 39h0M24 27h0M39 48h0M54 70h0M48 68h0M65 74h0M36 73h0M81 27h0M24 30h0M59 55h0M44 62h0M14 45h0M54 64h0M72 23h0M30 31h0M42 37h0M25 25h0M80 61h0M57 38h0M39 43h0M40 56h0M86 56h0M71 60h0M45 53h0M43 50h0M76 30h0M62 66h0M52 43h0M12 37h0M50 19h0M24 51h0M53 66h0M28 28h0M69 53h0M70 53h0M31 74h0M44 76h0M57 63h0M22 40h0M22 54h0M64 31h0M59 36h0M70 51h0M77 32h0M64 68h0M42 47h0M41 52h0M40 43h0M36 72h0M41 49h0M48 65h0M44 48h0M44 59h0M21 41h0M59 59h0M54 25h0"/><path stroke="#3b64bf" d="M33 62h0M29 65h0M32 67h0M35 61h0M35 68h0M30 67h0M36 71h0"/><path stroke="#a6d0de" d="M73 27h0M27 45h0M33 50h0M50 37h0M23 41h0M51 53h0M30 41h0M62 47h0M62 59h0M13 31h0M26 47h0M31 51h0M65 24h0M59 50h0M64 60h0M36 55h0M30 43h0M29 44h0M16 31h0"/><path stroke="#ec8a38" d="M76 24h0M42 58h0M49 17h0M36 24h0M78 65h0M63 57h0M80 42h0M51 21h0M54 57h0M26 25h0M42 21h0M46 41h0M55 27h0M48 11h0"/><path stroke="#b0201a" d="M52 20h0M36 18h0M49 20h0M35 13h0"/><path stroke="#eaeca6" d="M44 46h0M63 50h0M64 23h0M52 56h0M43 22h0M34 42h0M28 45h0M63 49h0M77 19h0M53 21h0M37 46h0M52 20h0M27 21h0M57 49h0M61 27h0M63 33h0M52 51h0M45 64h0M83 48h0M36 25h0M70 23h0M51 61h0M62 24h0M64 59h0M56 51h0M73 27h0M64 60h0M61 47h0M43 21h0M70 31h0M52 54h0M45 69h0M69 72h0M75 28h0M35 55h0M21 43h0M62 51h0M55 56h0M38 22h0M53 48h0M55 44h0M50 20h0M78 45h0M76 62h0M56 59h0M34 59h0M55 42h0M40 53h0M36 22h0M57 44h0M77 59h0M39 23h0M58 12h0M42 38h0"/><path stroke="#e05a28" d="M54 14h0M59 12h0M41 18h0M50 16h0M52 16h0M47 16h0M32 15h0M45 16h0M48 19h0M44 16h0M60 17h0M54 12h0M50 12h0"/><path stroke="#74a4dc" d="M24 57h0M21 38h0M58 50h0M24 42h0M24 37h0M24 42h0"/><path stroke="#cc2a1c" d="M31 19h0M53 18h0M47 14h0M45 12h0M36 16h0M37 20h0M43 12h0M31 19h0M36 22h0M53 15h0M33 19h0"/><path stroke="#4a78cf" d="M38 63h0M36 63h0M39 67h0"/><path stroke="#26369a" d="M36 64h0"/></g></g><text x="389.2" y="429.2" font-size="8.1" fill="#1a1a1a" stroke="#1a1a1a" stroke-width="0.28" textLength="14.8" lengthAdjust="spacingAndGlyphs">GrB</text><g transform="translate(378.7,435.1)"><rect x="0.5" y="0.5" width="34.2" height="31.3" fill="#fff" stroke="#969696" stroke-width="1.2"/><rect x="33.9" y="0.6" width="1.0" height="31.1" fill="url(#cbar)"/><g clip-path="url(#cpP)"><g opacity="0.75"><rect width="35.4" height="32.3" fill="#d79751"/><g filter="url(#bl)"><ellipse cx="9.5" cy="11" rx="6" ry="7.5" fill="#c7c3a0"/><ellipse cx="10" cy="21" rx="3.5" ry="3.5" fill="#4169c1"/></g></g><use href="#spP"/></g><g transform="scale(0.3333)" stroke-width="3.6" stroke-linecap="round" fill="none"><path stroke="#e05a28" d="M49 41h0M67 84h0M63 32h0M59 47h0M62 82h0M72 41h0M76 59h0M67 63h0M50 58h0M61 78h0M47 25h0M71 58h0M52 71h0M43 59h0M66 28h0M44 36h0M44 18h0M47 64h0M63 81h0M39 79h0M68 84h0M65 23h0M52 10h0M66 40h0M66 24h0M65 23h0M77 61h0M83 39h0M41 50h0M88 34h0M87 34h0M45 41h0M57 67h0M53 43h0M70 22h0M48 51h0M78 44h0M67 23h0M70 81h0M52 23h0M58 56h0M69 35h0M68 49h0M55 65h0M62 58h0M72 82h0M66 34h0M44 18h0M51 52h0M66 81h0M81 45h0M78 42h0M65 31h0M91 37h0M75 76h0M41 21h0M50 54h0M61 58h0M69 52h0M75 75h0M67 75h0M67 79h0M55 20h0M41 56h0M76 51h0M60 55h0M68 76h0M78 40h0M74 61h0M74 44h0M88 39h0M48 51h0M42 18h0M54 71h0M50 75h0M81 69h0M56 24h0M84 46h0M67 78h0M55 76h0M60 58h0"/><path stroke="#f4b840" d="M66 80h0M53 64h0M58 25h0M75 36h0M59 72h0M54 27h0M84 55h0M57 50h0M66 74h0M66 60h0M58 34h0M66 72h0M55 61h0M82 41h0M58 32h0M68 81h0M80 70h0M74 26h0M44 40h0M61 18h0M39 78h0M57 63h0M64 55h0M92 49h0M85 43h0M55 48h0M83 62h0M76 45h0M73 78h0M65 50h0M69 79h0M65 19h0M60 26h0M46 57h0M55 15h0M89 64h0M58 63h0M71 46h0M58 32h0M46 62h0M41 39h0M45 58h0M85 27h0M69 35h0M84 68h0M75 71h0M85 50h0M75 45h0M62 39h0M74 72h0M66 36h0M62 81h0M36 69h0M60 16h0M70 78h0M84 65h0M77 61h0M74 28h0M74 73h0M61 77h0M72 74h0M75 57h0M75 55h0M49 56h0M44 36h0M75 65h0M43 58h0M66 83h0M50 39h0M80 41h0M47 49h0M86 33h0M69 77h0M71 22h0M72 45h0M50 45h0M77 59h0M56 36h0M62 62h0M89 66h0M70 67h0M76 58h0M14 40h0M72 36h0M51 23h0M67 80h0M51 79h0M64 81h0M47 62h0M86 63h0M75 30h0M83 30h0M50 55h0M80 76h0M48 38h0M61 43h0M85 46h0M50 53h0M50 15h0M49 55h0M57 51h0M53 78h0M67 72h0M85 67h0M66 76h0M73 57h0M52 24h0M56 50h0M72 25h0M79 61h0M69 44h0M44 76h0M92 47h0M67 27h0M69 74h0M68 14h0M81 44h0M66 73h0M59 41h0M83 51h0M51 19h0M66 27h0M84 63h0M72 22h0M52 22h0M70 73h0M86 54h0M74 64h0M57 81h0M82 50h0M72 41h0M78 52h0M67 34h0M51 21h0M75 33h0M34 68h0M87 40h0M69 42h0M60 49h0M51 67h0M53 56h0M76 78h0M76 71h0M80 56h0M53 67h0M54 49h0M54 45h0M63 24h0M46 32h0M42 67h0M65 42h0M82 62h0M43 73h0"/><path stroke="#ec8a38" d="M45 25h0M70 46h0M60 15h0M77 70h0M40 74h0M43 71h0M83 43h0M71 46h0M32 25h0M53 84h0M21 59h0M76 23h0M82 42h0M79 46h0M71 35h0M86 56h0M52 38h0M44 20h0M61 70h0M48 66h0M65 70h0M62 68h0M46 78h0M76 20h0M42 73h0M58 53h0M84 33h0M64 52h0M63 35h0M53 26h0M49 67h0M89 52h0M52 60h0M61 50h0M41 75h0M71 50h0M86 51h0M56 81h0M45 45h0M70 56h0M70 65h0M50 50h0M79 30h0M54 18h0M51 28h0M39 75h0M69 70h0M81 42h0M50 38h0M43 75h0M75 21h0M58 37h0M37 74h0M64 55h0M38 71h0M50 60h0M70 37h0M52 60h0M90 49h0M36 20h0M54 79h0M80 37h0M62 70h0M64 63h0M68 60h0M52 60h0M64 18h0M19 50h0M47 69h0M59 50h0M50 63h0M43 19h0M78 24h0M54 59h0M51 47h0M52 55h0M67 41h0M67 71h0M89 41h0M64 65h0M69 67h0M47 19h0M83 34h0M87 52h0M57 22h0M46 48h0M66 77h0M60 64h0M69 57h0M45 30h0M72 48h0M60 83h0M60 73h0M78 69h0M81 39h0M79 30h0M87 48h0M82 43h0M91 42h0M65 60h0M84 36h0M42 76h0M78 21h0M66 61h0M76 24h0M86 54h0M70 69h0M52 85h0M49 59h0M79 34h0M59 68h0M61 72h0M60 65h0M65 51h0M92 45h0M68 37h0M88 58h0M68 48h0M47 16h0M80 22h0M66 77h0M59 52h0"/><path stroke="#eaeca6" d="M42 28h0M23 51h0M54 32h0M36 46h0M39 39h0M16 42h0M20 25h0M28 31h0M34 44h0M40 31h0M38 32h0M32 45h0M28 34h0M19 27h0M13 34h0M16 42h0M27 39h0M26 47h0M36 47h0M44 29h0M39 22h0M21 28h0"/><path stroke="#a6d0de" d="M82 72h0M50 25h0M41 17h0M61 22h0M47 24h0"/><path stroke="#f0dc50" d="M69 43h0M68 84h0M43 53h0M90 40h0M61 82h0M67 85h0M46 65h0M20 43h0M60 78h0M69 84h0M60 18h0M59 82h0M73 41h0M57 60h0M66 24h0M61 82h0M34 51h0M29 37h0M55 55h0M59 25h0M61 19h0M65 76h0M60 29h0M59 87h0M75 74h0M69 56h0M60 16h0M57 69h0M75 64h0M55 57h0M60 25h0M50 74h0M78 36h0M47 14h0M47 40h0M43 64h0M72 41h0M75 73h0M86 35h0M74 42h0M76 75h0M54 75h0M60 18h0"/><path stroke="#4a78cf" d="M84 72h0M19 34h0M27 65h0M33 69h0M38 63h0M31 68h0M77 38h0M91 34h0"/><path stroke="#3b64bf" d="M87 37h0M59 84h0M37 71h0M78 42h0M43 53h0M34 60h0M50 42h0M24 60h0M75 41h0M33 56h0M39 56h0M32 63h0M36 64h0M77 73h0M44 64h0M52 11h0M38 65h0M39 45h0M61 80h0M40 68h0M33 67h0M41 52h0M86 69h0M31 57h0M41 64h0M76 38h0M51 73h0M23 56h0M36 63h0M41 63h0M57 84h0M60 22h0"/><path stroke="#cc2a1c" d="M78 61h0M47 20h0M52 76h0M63 78h0M53 31h0"/><path stroke="#74a4dc" d="M70 21h0M37 45h0M39 48h0M43 38h0M40 56h0M28 42h0M76 75h0M39 52h0M38 22h0M78 76h0M47 23h0M14 33h0M38 54h0M44 21h0M55 73h0M79 73h0M37 44h0M45 23h0M39 57h0M45 42h0M42 39h0M41 66h0M39 19h0M38 26h0M17 37h0"/><path stroke="#26369a" d="M34 58h0M44 62h0M41 62h0M36 65h0"/></g></g><g transform="translate(378.7,469.1)"><rect x="0.5" y="0.5" width="34.2" height="31.3" fill="#fff" stroke="#969696" stroke-width="1.2"/><rect x="33.9" y="0.6" width="1.0" height="31.1" fill="url(#cbar)"/><g clip-path="url(#cpM)"><g opacity="0.75"><rect width="35.4" height="32.3" fill="#c2aa72"/><g filter="url(#bl)"><ellipse cx="22" cy="8" rx="3" ry="3" fill="#eb8a36"/><ellipse cx="10" cy="21" rx="2.5" ry="2.5" fill="#4169c1"/><ellipse cx="5" cy="13" rx="1.5" ry="3" fill="#4169c1"/></g></g><use href="#spM"/></g><g transform="scale(0.3333)" stroke-width="3.6" stroke-linecap="round" fill="none"><path stroke="#74a4dc" d="M58 20h0M18 36h0M62 53h0M41 51h0M40 11h0M25 28h0M58 43h0M63 50h0M22 28h0M64 51h0M25 31h0M47 54h0M60 29h0M26 29h0M40 42h0M73 32h0M60 47h0M43 54h0M72 70h0M36 38h0M53 61h0M64 73h0M22 28h0M31 15h0M30 52h0M38 57h0M27 26h0M28 38h0M20 40h0M50 57h0M47 45h0M71 53h0M40 54h0M57 43h0M48 64h0M62 48h0M24 43h0M22 48h0M27 34h0M25 30h0M70 64h0M51 58h0M47 73h0M30 24h0M70 50h0M87 38h0M64 50h0M25 16h0M42 52h0M20 46h0M40 56h0M51 72h0M65 64h0M56 65h0M30 40h0M27 42h0M37 79h0M55 67h0M70 63h0M35 28h0M79 26h0M70 51h0M27 26h0M80 30h0M67 62h0M42 69h0M48 18h0M36 12h0M77 68h0M39 23h0M53 77h0M52 74h0M53 39h0M24 48h0M43 30h0M25 54h0M42 66h0M49 15h0M50 48h0M47 37h0M27 24h0M53 72h0M66 51h0M38 55h0M45 51h0M59 41h0M61 16h0M29 28h0M22 47h0M47 56h0M51 14h0M50 65h0M35 19h0M49 33h0M27 14h0M54 72h0M62 38h0M61 41h0M46 70h0M67 33h0M22 47h0M33 16h0M18 38h0M50 70h0M34 32h0M19 25h0M18 32h0M30 44h0M43 31h0M48 59h0M54 56h0M25 38h0M80 68h0M19 37h0M80 50h0M51 70h0M69 66h0M55 67h0M52 45h0M34 52h0M21 41h0M39 49h0M23 25h0M27 41h0"/><path stroke="#f0dc50" d="M19 25h0M30 41h0M15 28h0M22 26h0M48 34h0M61 56h0M81 26h0M36 24h0M76 68h0M38 39h0M69 51h0M29 39h0M26 40h0M72 24h0M54 48h0M57 57h0M60 57h0M84 36h0M36 43h0M45 48h0M42 69h0M49 57h0M38 44h0M35 18h0M30 53h0M38 46h0M47 34h0M38 26h0M32 41h0M37 22h0M67 75h0M56 40h0M53 59h0M37 21h0M27 40h0M82 32h0M33 43h0M65 59h0M19 45h0M45 32h0M82 35h0M85 37h0M47 45h0M38 29h0M37 24h0M21 33h0M39 21h0M42 43h0M56 67h0M38 46h0M33 15h0M36 67h0M22 41h0M34 51h0M48 68h0M42 24h0M38 23h0M61 68h0M55 46h0M40 26h0M27 16h0M23 35h0M36 67h0M36 16h0M41 11h0M38 21h0M34 25h0M52 44h0M46 48h0M34 38h0M75 68h0M51 42h0M36 19h0M46 47h0M48 69h0M59 55h0M46 35h0M49 36h0M51 45h0M35 18h0M61 43h0M48 66h0M79 26h0M33 17h0M37 44h0M17 24h0M78 34h0M38 77h0M80 39h0"/><path stroke="#ec8a38" d="M64 18h0M62 75h0M43 17h0M44 58h0M33 36h0M77 54h0M70 26h0M26 29h0M60 30h0M24 29h0M71 74h0M45 39h0M46 10h0M63 49h0M63 17h0M52 55h0M30 21h0M48 59h0M44 58h0M45 63h0M69 26h0M26 46h0M49 42h0M32 56h0M57 35h0M68 30h0M68 55h0M61 44h0M46 57h0M60 74h0M68 58h0M76 29h0M76 26h0M43 55h0M23 21h0M41 55h0M71 58h0M37 63h0M62 16h0M83 51h0M53 11h0M76 59h0M37 15h0M69 22h0M57 74h0M23 49h0M44 19h0M27 28h0M36 70h0M38 33h0M81 73h0M74 51h0M86 46h0M65 70h0M60 73h0M21 51h0M47 15h0M71 25h0M71 24h0M56 50h0M44 19h0M47 59h0M41 58h0M58 18h0M75 23h0M43 42h0M44 14h0M42 36h0M26 26h0M66 20h0M25 24h0M37 49h0M27 30h0M59 32h0M52 24h0M25 47h0M65 32h0M60 13h0M69 20h0M84 63h0M69 55h0M45 39h0M57 64h0M59 64h0M70 69h0M62 27h0M25 29h0M58 25h0M52 15h0M60 41h0M36 54h0M30 18h0M71 55h0M63 72h0M82 52h0M58 29h0M47 61h0M65 30h0M53 21h0M38 59h0M26 21h0M50 52h0M43 74h0M40 38h0M43 13h0M59 19h0M72 54h0M21 49h0M59 21h0M34 54h0M27 42h0M64 28h0M60 21h0M27 21h0M81 61h0M24 44h0M24 48h0M53 34h0M20 20h0M49 78h0M47 76h0M62 30h0M52 35h0M82 63h0M41 39h0M47 15h0M36 54h0M56 20h0M47 50h0M74 45h0M45 35h0M66 76h0M73 19h0"/><path stroke="#f4b840" d="M32 36h0M31 55h0M66 29h0M69 68h0M37 74h0M68 46h0M57 27h0M52 25h0M28 16h0M57 34h0M63 26h0M31 56h0M75 19h0M56 52h0M71 29h0M79 55h0M40 62h0M44 73h0M75 28h0M43 72h0M59 25h0M47 71h0M66 61h0M76 51h0M65 30h0M39 60h0M42 74h0M50 24h0M52 19h0M85 63h0M38 21h0M40 74h0M45 46h0M44 14h0M38 73h0M38 55h0M60 53h0M59 36h0M57 17h0M43 41h0M29 20h0M42 15h0M37 62h0M43 36h0M55 50h0M58 23h0M45 40h0M47 13h0M49 9h0M38 19h0M60 11h0M71 30h0M34 76h0M53 51h0M22 20h0M54 36h0M63 57h0M60 22h0M53 22h0M25 19h0M38 78h0M32 33h0M26 47h0"/><path stroke="#e05a28" d="M53 54h0M60 66h0M74 50h0M64 47h0M66 23h0M71 21h0M43 13h0M60 22h0M40 59h0M62 26h0M72 28h0M28 46h0M82 60h0M68 25h0M75 25h0M68 21h0M57 38h0M73 25h0M50 54h0M70 15h0M66 25h0M51 11h0M72 27h0M67 25h0"/><path stroke="#4a78cf" d="M34 67h0M60 42h0M28 64h0M78 68h0M35 64h0M35 38h0M52 70h0M49 43h0M31 63h0M21 25h0M36 55h0M49 53h0M55 60h0M59 73h0M39 10h0M32 64h0M27 57h0M15 41h0M12 46h0M22 25h0M37 54h0"/><path stroke="#26369a" d="M13 41h0M12 40h0M31 64h0M17 33h0M31 58h0"/><path stroke="#3b64bf" d="M15 34h0M33 64h0M18 45h0M16 35h0M25 59h0M47 78h0M35 35h0M15 37h0M19 44h0M14 35h0M16 36h0M30 56h0M14 45h0M55 25h0M36 62h0M33 67h0M31 63h0M17 43h0M49 77h0M35 66h0M13 44h0M36 69h0M38 58h0M15 35h0M52 24h0M16 31h0M20 43h0"/><path stroke="#eaeca6" d="M54 41h0M23 39h0M40 22h0M27 42h0M66 53h0M47 68h0M24 36h0M58 58h0"/><path stroke="#a6d0de" d="M74 61h0M70 15h0M61 43h0M76 66h0M37 32h0M44 76h0"/></g></g><text x="437.2" y="429.2" font-size="8.1" fill="#1a1a1a" stroke="#1a1a1a" stroke-width="0.28" textLength="14.8" lengthAdjust="spacingAndGlyphs">2B4</text><g transform="translate(426.7,435.1)"><rect x="0.5" y="0.5" width="34.2" height="31.3" fill="#fff" stroke="#969696" stroke-width="1.2"/><rect x="33.9" y="0.6" width="1.0" height="31.1" fill="url(#cbar)"/><g clip-path="url(#cpP)"><g opacity="0.75"><rect width="35.4" height="32.3" fill="#e5ad4d"/><g filter="url(#bl)"><ellipse cx="9.5" cy="11" rx="6" ry="7.5" fill="#ecd476"/></g></g><use href="#spP"/></g><g transform="scale(0.3333)" stroke-width="3.6" stroke-linecap="round" fill="none"><path stroke="#ec8a38" d="M57 64h0M61 68h0M75 44h0M73 76h0M62 55h0M69 78h0M34 67h0M62 52h0M45 37h0M50 53h0M82 27h0M40 54h0M43 22h0M73 83h0M78 46h0M79 35h0M50 81h0M54 49h0M66 30h0M53 79h0M46 52h0M46 52h0M36 70h0M61 75h0M49 37h0M80 75h0M86 62h0M65 16h0M51 61h0M76 63h0M27 38h0M61 65h0M63 36h0M83 71h0M76 44h0M65 72h0M72 65h0M89 40h0M60 66h0M25 26h0M49 55h0M42 61h0M35 69h0M54 81h0M48 62h0M74 46h0M61 61h0M56 58h0M32 73h0M41 18h0M75 48h0M90 40h0M65 64h0M48 81h0M13 42h0M63 78h0M47 64h0M81 75h0M79 26h0M26 26h0M45 63h0M66 63h0M50 55h0M62 71h0M74 77h0M49 48h0M44 78h0M83 73h0M71 24h0M71 48h0M43 52h0M72 45h0M90 37h0M60 60h0M78 79h0M88 51h0M51 23h0M64 64h0M44 71h0M50 59h0M78 63h0M64 37h0M67 46h0M52 54h0M42 53h0M62 79h0M54 63h0M64 61h0M22 30h0M64 63h0M80 57h0M48 55h0M63 44h0M60 57h0M71 54h0M35 72h0M64 50h0M32 55h0M44 75h0M51 55h0M58 59h0M67 20h0M78 46h0M46 51h0M75 46h0M65 75h0M57 61h0M41 56h0M61 69h0M50 65h0M34 72h0M70 24h0M65 63h0M51 83h0M65 64h0M44 76h0M45 66h0M55 80h0M53 80h0M65 47h0M55 11h0M45 62h0"/><path stroke="#f0dc50" d="M47 69h0M66 70h0M84 49h0M62 60h0M57 39h0M52 34h0M44 70h0M45 47h0M70 43h0M65 70h0M43 79h0M81 61h0M49 28h0M39 21h0M84 62h0M43 51h0M52 78h0M58 76h0M85 45h0M47 30h0M84 52h0M63 67h0M68 32h0M88 47h0M45 60h0M91 38h0M56 73h0M33 56h0M83 50h0M70 16h0M62 31h0M69 70h0M63 27h0M53 22h0M40 56h0M86 50h0M65 68h0M69 67h0M72 66h0M30 34h0M67 65h0M70 70h0M60 11h0M81 48h0M43 23h0M55 70h0M71 35h0M80 26h0M79 59h0M36 70h0M59 40h0M84 33h0M56 56h0M61 51h0M80 64h0M63 56h0M61 38h0M44 76h0M69 75h0M67 59h0M20 56h0M77 48h0M27 62h0M61 45h0M79 43h0M77 25h0M78 48h0M69 42h0M68 65h0M56 38h0M41 80h0M62 49h0M63 48h0M61 38h0M67 75h0M56 18h0M60 29h0M45 47h0M53 74h0M72 75h0M53 71h0M62 21h0M70 79h0M69 75h0M31 23h0M56 51h0M66 39h0M61 44h0M65 71h0M63 44h0M65 49h0M15 47h0M89 37h0M36 18h0M66 75h0M84 30h0M51 69h0M74 32h0M84 39h0M80 64h0M56 54h0M67 31h0M78 19h0M61 41h0M58 49h0M17 49h0M85 31h0M67 43h0M74 30h0M87 60h0M66 37h0M43 59h0M61 22h0M47 49h0M88 45h0M65 43h0M45 70h0M75 39h0M44 17h0M33 39h0M16 46h0M42 62h0M63 66h0M73 24h0M48 80h0M73 28h0M70 67h0M40 46h0M79 37h0M71 64h0M38 52h0M82 60h0M61 38h0M77 37h0M76 42h0M60 62h0M66 35h0M84 51h0M73 34h0M65 35h0M68 35h0M41 79h0M45 46h0M20 57h0M44 23h0M45 75h0M72 66h0M43 32h0M67 48h0M34 63h0M65 37h0M63 22h0M67 60h0M62 12h0M39 63h0M66 56h0M70 84h0M53 24h0M48 31h0M46 72h0M48 79h0M56 50h0M55 70h0M37 44h0M64 42h0M48 29h0M37 52h0M88 39h0M83 75h0"/><path stroke="#f4b840" d="M45 43h0M49 78h0M50 12h0M39 68h0M77 41h0M58 74h0M83 70h0M67 47h0M59 15h0M62 13h0M74 28h0M49 14h0M76 71h0M86 47h0M51 30h0M47 74h0M64 83h0M50 32h0M76 42h0M28 53h0M38 57h0M80 29h0M81 49h0M78 69h0M37 66h0M69 63h0M54 17h0M73 74h0M47 71h0M63 12h0M52 41h0M78 54h0M47 42h0M54 44h0M92 47h0M50 53h0M78 28h0M30 19h0M51 20h0M90 44h0M57 29h0M53 44h0M83 37h0M87 57h0M15 42h0M83 40h0M81 61h0M39 68h0M72 30h0M57 28h0M62 69h0M52 31h0M59 47h0M64 58h0M41 47h0M56 16h0M80 63h0M56 13h0M74 42h0M51 78h0M48 71h0M75 21h0M91 33h0M77 40h0M66 42h0M69 71h0M76 73h0M54 15h0M87 50h0M76 35h0M52 16h0M82 33h0M22 55h0M78 31h0M82 61h0M40 58h0M44 29h0M48 81h0M81 44h0M77 32h0M24 63h0M39 78h0M53 71h0M65 45h0M43 23h0M41 64h0M56 74h0M48 50h0M77 20h0M46 29h0M85 26h0M49 13h0M76 36h0M44 68h0M51 42h0M76 28h0M54 40h0M76 48h0M54 46h0M58 14h0M71 33h0M80 49h0M30 63h0M80 35h0M45 25h0M63 44h0M64 26h0M71 58h0M73 63h0M53 66h0M80 29h0M56 47h0M49 74h0M38 63h0M90 46h0M76 22h0M76 37h0M55 40h0M56 16h0M50 79h0M67 26h0M77 72h0M52 9h0M37 64h0M56 40h0M19 53h0M19 52h0M74 37h0M58 45h0M74 32h0M77 21h0M85 57h0M32 32h0M65 55h0M65 46h0M77 32h0M77 19h0M56 23h0M57 41h0M80 43h0M87 58h0M54 23h0M60 40h0M53 71h0"/><path stroke="#e05a28" d="M45 51h0M42 49h0M74 61h0M55 82h0M77 63h0M54 80h0M43 73h0M73 45h0M54 9h0M65 62h0M41 74h0M55 86h0M76 61h0M68 61h0M62 17h0M71 46h0M68 52h0M87 64h0M33 68h0M82 68h0M44 61h0M71 47h0M39 75h0"/><path stroke="#eaeca6" d="M28 15h0M26 46h0M46 41h0M38 55h0M23 49h0M53 24h0M62 35h0M68 41h0M33 47h0M16 48h0M38 44h0M40 37h0M26 45h0M27 52h0M84 36h0M21 38h0M30 54h0M51 78h0M75 65h0M14 37h0M84 54h0M44 71h0M33 48h0M44 25h0M39 76h0M22 48h0M29 45h0M22 36h0M42 37h0M25 51h0M59 62h0M37 45h0M77 59h0M30 50h0M32 25h0"/><path stroke="#74a4dc" d="M75 62h0M54 85h0M64 52h0M72 52h0M38 74h0M71 50h0"/><path stroke="#a6d0de" d="M39 44h0"/></g></g><g transform="translate(426.7,469.1)"><rect x="0.5" y="0.5" width="34.2" height="31.3" fill="#fff" stroke="#969696" stroke-width="1.2"/><rect x="33.9" y="0.6" width="1.0" height="31.1" fill="url(#cbar)"/><g clip-path="url(#cpM)"><g opacity="0.75"><rect width="35.4" height="32.3" fill="#e1b355"/><g filter="url(#bl)"><ellipse cx="7" cy="10" rx="2.5" ry="2.5" fill="#b2c096"/><ellipse cx="6.5" cy="21" rx="1" ry="1" fill="#26369a"/></g></g><use href="#spM"/></g><g transform="scale(0.3333)" stroke-width="3.6" stroke-linecap="round" fill="none"><path stroke="#f0dc50" d="M61 17h0M75 46h0M37 14h0M56 35h0M59 21h0M65 53h0M45 66h0M62 46h0M66 65h0M58 64h0M62 35h0M25 56h0M35 46h0M37 69h0M48 12h0M36 73h0M67 75h0M34 71h0M41 17h0M32 65h0M52 12h0M53 35h0M35 59h0M39 46h0M33 15h0M51 34h0M53 73h0M43 19h0M11 37h0M44 63h0M32 64h0M45 49h0M78 67h0M22 31h0M23 33h0M67 75h0M37 62h0M33 64h0M60 41h0M38 53h0M85 62h0M51 58h0M52 34h0M63 22h0M47 40h0M28 29h0M31 18h0M22 49h0M44 48h0M75 33h0M48 45h0M18 20h0M75 20h0M49 68h0M80 27h0M58 43h0M71 71h0M36 51h0M38 30h0M52 43h0M56 72h0M62 19h0M39 22h0M40 30h0M64 64h0M39 63h0M41 30h0M57 38h0M41 36h0M59 20h0M60 51h0M23 32h0M43 43h0M63 30h0M54 70h0M77 58h0M36 20h0M52 33h0M83 57h0M37 28h0M74 23h0M75 25h0M30 57h0M49 67h0M42 73h0M49 77h0M40 67h0M31 18h0M18 22h0M34 77h0M16 27h0M81 45h0M48 42h0M52 53h0M28 62h0M28 46h0M53 52h0M58 62h0M11 38h0M58 66h0M75 52h0M39 53h0M24 57h0M76 30h0M51 23h0M69 30h0M73 58h0M21 53h0M36 64h0M41 37h0M76 65h0M51 46h0M50 35h0M47 72h0M42 41h0M38 13h0M59 17h0M89 41h0M39 23h0M49 59h0M81 71h0M58 11h0M35 49h0M41 22h0M45 74h0M48 36h0M41 59h0M38 37h0M62 51h0M79 71h0M53 19h0M58 35h0M16 40h0M84 33h0M63 48h0M27 53h0M24 30h0M40 31h0M36 67h0M27 23h0M74 51h0M51 14h0M52 73h0M74 23h0M75 46h0M74 29h0M27 53h0M79 73h0M80 43h0M76 51h0M56 41h0M65 50h0M35 38h0M44 40h0M47 15h0M34 49h0M74 55h0M64 33h0M75 72h0M53 70h0M25 33h0M52 33h0M59 72h0M51 47h0M66 30h0M37 27h0M58 62h0M18 24h0M30 13h0M37 25h0M78 45h0M69 63h0M42 30h0M70 21h0M26 28h0M39 46h0M35 69h0M35 57h0M60 46h0M31 49h0M54 71h0M61 48h0M20 45h0M54 73h0M27 27h0M80 55h0M35 70h0M34 72h0M78 65h0M51 12h0M86 34h0M40 53h0M50 68h0M23 32h0M52 68h0M52 64h0M44 68h0"/><path stroke="#4a78cf" d="M17 29h0M19 34h0M26 36h0M21 30h0M57 43h0"/><path stroke="#eaeca6" d="M49 36h0M79 72h0M60 39h0M69 62h0M48 41h0M65 52h0M63 48h0M50 32h0M41 42h0M50 59h0M45 41h0M64 51h0M59 50h0"/><path stroke="#e05a28" d="M61 27h0M33 12h0M81 28h0M37 27h0M79 37h0M62 71h0M84 51h0M30 43h0M67 58h0M31 32h0M37 30h0M61 60h0M30 35h0M50 70h0M70 48h0M29 18h0M27 43h0M89 39h0M45 39h0"/><path stroke="#f4b840" d="M39 64h0M48 51h0M56 70h0M83 69h0M46 60h0M43 62h0M69 31h0M41 50h0M70 32h0M48 63h0M82 55h0M41 34h0M32 25h0M46 58h0M36 60h0M67 33h0M17 42h0M39 75h0M34 27h0M90 39h0M49 18h0M30 49h0M64 75h0M15 38h0M36 15h0M47 43h0M28 48h0M44 31h0M32 44h0M35 24h0M46 32h0M60 15h0M41 59h0M61 19h0M38 55h0M57 19h0M48 44h0M37 50h0M26 53h0M37 28h0M52 16h0M79 42h0M42 77h0M43 31h0M34 22h0M28 59h0M71 54h0M72 53h0M42 58h0M17 50h0M32 63h0M71 24h0M17 39h0M45 16h0M34 27h0M48 40h0M32 19h0M41 66h0M50 44h0M45 67h0M61 14h0M79 72h0M36 50h0M47 57h0M35 30h0M56 73h0M82 35h0M39 79h0M66 54h0M45 15h0M19 42h0M26 47h0M68 28h0M47 15h0M57 17h0M46 61h0M49 17h0M72 34h0M32 50h0M82 45h0M34 44h0M39 63h0M47 15h0M33 60h0M46 14h0M73 62h0M42 48h0M51 39h0M24 56h0M36 49h0M42 32h0M49 40h0M17 37h0M43 49h0M42 76h0M63 31h0M20 41h0M55 73h0M37 76h0M82 50h0M22 55h0M22 34h0M38 17h0M74 51h0M84 36h0M60 71h0M49 15h0M41 79h0M61 14h0M49 63h0M62 50h0M39 49h0M75 64h0M66 36h0M82 62h0M12 30h0M87 42h0M71 72h0M41 64h0M22 48h0M54 71h0M57 70h0M21 49h0M37 47h0M45 14h0M56 14h0M53 63h0M66 54h0M75 24h0M48 45h0M48 31h0M70 68h0"/><path stroke="#ec8a38" d="M69 25h0M65 27h0M85 52h0M29 13h0M62 66h0M71 26h0M36 54h0M30 15h0M75 35h0M38 32h0M23 38h0M86 32h0M50 76h0M26 48h0M29 15h0M32 32h0M62 58h0M36 69h0M54 71h0M56 44h0M56 30h0M50 74h0M38 71h0M59 63h0M55 47h0M46 72h0M43 23h0M32 53h0M33 64h0M26 61h0M62 70h0M34 41h0M38 27h0M73 60h0M70 27h0M62 65h0M61 53h0M54 59h0M41 13h0M62 69h0M59 57h0M36 70h0M59 69h0M67 16h0M59 49h0M69 26h0M65 17h0M50 74h0M30 33h0M65 64h0M67 69h0M33 40h0M43 71h0M16 39h0M57 59h0M54 29h0M74 49h0M84 63h0M32 14h0M69 60h0M44 70h0M50 32h0M64 59h0M27 41h0M73 50h0M79 64h0M69 16h0M61 57h0M50 23h0M31 56h0M63 56h0M51 69h0M54 57h0M81 62h0M34 44h0M68 44h0M68 60h0M58 61h0M65 63h0M29 27h0M33 42h0M64 26h0M66 60h0M78 73h0M89 38h0M25 45h0M56 57h0M36 45h0M31 40h0M27 40h0M31 37h0M44 40h0M63 65h0M49 74h0M61 32h0M51 75h0M35 33h0M59 57h0M22 40h0M90 36h0M68 28h0M30 41h0M61 75h0M80 64h0M42 39h0"/><path stroke="#74a4dc" d="M26 37h0M19 29h0M48 71h0M18 27h0M30 32h0M20 34h0M16 34h0M20 33h0M31 34h0M55 25h0M73 15h0M34 53h0M90 36h0M15 37h0M56 30h0M14 28h0M40 44h0M21 28h0M18 30h0M17 34h0M61 65h0M61 63h0M20 35h0"/><path stroke="#a6d0de" d="M44 70h0M26 28h0M46 71h0M67 28h0"/><path stroke="#cc2a1c" d="M37 32h0M79 35h0"/></g></g><text x="23" y="452.9" font-size="7.7" fill="#1a1a1a" stroke="#1a1a1a" stroke-width="0.28" textLength="17.9" lengthAdjust="spacingAndGlyphs">KIR+</text><text x="24" y="487.7" font-size="7.7" fill="#1a1a1a" stroke="#1a1a1a" stroke-width="0.28" textLength="16.4" lengthAdjust="spacingAndGlyphs">KIR -</text><line x1="47" y1="253" x2="47" y2="275.5" stroke="#2e2e2e" stroke-width="1.2"/><line x1="46.4" y1="274.9" x2="74.6" y2="274.9" stroke="#2e2e2e" stroke-width="1.2"/><line x1="44.2" y1="256.4" x2="47" y2="256.4" stroke="#2e2e2e" stroke-width="1.1"/><text x="33.87" y="258.5" font-size="6.3" fill="#1a1a1a" stroke="#1a1a1a" stroke-width="0.28" textLength="7.43" lengthAdjust="spacingAndGlyphs">40</text><line x1="44.2" y1="265.6" x2="47" y2="265.6" stroke="#2e2e2e" stroke-width="1.1"/><text x="33.87" y="267.7" font-size="6.3" fill="#1a1a1a" stroke="#1a1a1a" stroke-width="0.28" textLength="7.43" lengthAdjust="spacingAndGlyphs">20</text><line x1="44.2" y1="274.9" x2="47" y2="274.9" stroke="#2e2e2e" stroke-width="1.1"/><text x="37.59" y="277" font-size="6.3" fill="#1a1a1a" stroke="#1a1a1a" stroke-width="0.28" textLength="3.71" lengthAdjust="spacingAndGlyphs">0</text><line x1="54.3" y1="274" x2="54.3" y2="274.9" stroke="#333" stroke-width="1.1"/><line x1="52" y1="274" x2="56.6" y2="274" stroke="#333" stroke-width="1.1"/><line x1="50.3" y1="274.4" x2="58.3" y2="274.4" stroke="#a8002b" stroke-width="1"/><line x1="54.3" y1="274.9" x2="54.3" y2="277.5" stroke="#2e2e2e" stroke-width="1.1"/><line x1="66.2" y1="263" x2="66.2" y2="266.8" stroke="#333" stroke-width="1.1"/><line x1="63.9" y1="263" x2="68.5" y2="263" stroke="#333" stroke-width="1.1"/><rect x="62.2" y="266.8" width="8" height="8.1" fill="#2c4a88"/><line x1="66.2" y1="274.9" x2="66.2" y2="277.5" stroke="#2e2e2e" stroke-width="1.1"/><line x1="54.2" y1="255.2" x2="66.1" y2="255.2" stroke="#333" stroke-width="1.2"/><circle cx="57.17" cy="252.2" r="0.7" fill="#1a1a1a"/><circle cx="59.22" cy="252.2" r="0.7" fill="#1a1a1a"/><circle cx="61.27" cy="252.2" r="0.7" fill="#1a1a1a"/><circle cx="63.32" cy="252.2" r="0.7" fill="#1a1a1a"/><line x1="97.6" y1="253.8" x2="97.6" y2="275.5" stroke="#2e2e2e" stroke-width="1.2"/><line x1="97" y1="274.9" x2="125.2" y2="274.9" stroke="#2e2e2e" stroke-width="1.2"/><line x1="94.8" y1="257" x2="97.6" y2="257" stroke="#2e2e2e" stroke-width="1.1"/><text x="80.76" y="259.1" font-size="6.3" fill="#1a1a1a" stroke="#1a1a1a" stroke-width="0.28" textLength="11.14" lengthAdjust="spacingAndGlyphs">100</text><line x1="94.8" y1="265.95" x2="97.6" y2="265.95" stroke="#2e2e2e" stroke-width="1.1"/><text x="84.47" y="268.05" font-size="6.3" fill="#1a1a1a" stroke="#1a1a1a" stroke-width="0.28" textLength="7.43" lengthAdjust="spacingAndGlyphs">50</text><line x1="94.8" y1="274.9" x2="97.6" y2="274.9" stroke="#2e2e2e" stroke-width="1.1"/><text x="88.19" y="277" font-size="6.3" fill="#1a1a1a" stroke="#1a1a1a" stroke-width="0.28" textLength="3.71" lengthAdjust="spacingAndGlyphs">0</text><line x1="104.9" y1="265.2" x2="104.9" y2="267.7" stroke="#333" stroke-width="1.1"/><line x1="102.6" y1="265.2" x2="107.2" y2="265.2" stroke="#333" stroke-width="1.1"/><rect x="100.9" y="267.7" width="8" height="7.2" fill="#a8002b"/><line x1="104.9" y1="274.9" x2="104.9" y2="277.5" stroke="#2e2e2e" stroke-width="1.1"/><line x1="116.8" y1="272.5" x2="116.8" y2="273.5" stroke="#333" stroke-width="1.1"/><line x1="114.5" y1="272.5" x2="119.1" y2="272.5" stroke="#333" stroke-width="1.1"/><rect x="112.8" y="273.5" width="8" height="1.4" fill="#2c4a88"/><line x1="116.8" y1="274.9" x2="116.8" y2="277.5" stroke="#2e2e2e" stroke-width="1.1"/><line x1="104.8" y1="254.7" x2="116.7" y2="254.7" stroke="#333" stroke-width="1.2"/><circle cx="107.77" cy="251.7" r="0.7" fill="#1a1a1a"/><circle cx="109.82" cy="251.7" r="0.7" fill="#1a1a1a"/><circle cx="111.87" cy="251.7" r="0.7" fill="#1a1a1a"/><circle cx="113.92" cy="251.7" r="0.7" fill="#1a1a1a"/><line x1="145.4" y1="253.8" x2="145.4" y2="275.5" stroke="#2e2e2e" stroke-width="1.2"/><line x1="144.8" y1="274.9" x2="173" y2="274.9" stroke="#2e2e2e" stroke-width="1.2"/><line x1="142.6" y1="257" x2="145.4" y2="257" stroke="#2e2e2e" stroke-width="1.1"/><text x="128.56" y="259.1" font-size="6.3" fill="#1a1a1a" stroke="#1a1a1a" stroke-width="0.28" textLength="11.14" lengthAdjust="spacingAndGlyphs">100</text><line x1="142.6" y1="265.95" x2="145.4" y2="265.95" stroke="#2e2e2e" stroke-width="1.1"/><text x="132.27" y="268.05" font-size="6.3" fill="#1a1a1a" stroke="#1a1a1a" stroke-width="0.28" textLength="7.43" lengthAdjust="spacingAndGlyphs">50</text><line x1="142.6" y1="274.9" x2="145.4" y2="274.9" stroke="#2e2e2e" stroke-width="1.1"/><text x="135.99" y="277" font-size="6.3" fill="#1a1a1a" stroke="#1a1a1a" stroke-width="0.28" textLength="3.71" lengthAdjust="spacingAndGlyphs">0</text><line x1="152.7" y1="264.2" x2="152.7" y2="269" stroke="#333" stroke-width="1.1"/><line x1="150.4" y1="264.2" x2="155" y2="264.2" stroke="#333" stroke-width="1.1"/><rect x="148.7" y="269" width="8" height="5.9" fill="#a8002b"/><line x1="152.7" y1="274.9" x2="152.7" y2="277.5" stroke="#2e2e2e" stroke-width="1.1"/><line x1="164.6" y1="262.3" x2="164.6" y2="264.6" stroke="#333" stroke-width="1.1"/><line x1="162.3" y1="262.3" x2="166.9" y2="262.3" stroke="#333" stroke-width="1.1"/><rect x="160.6" y="264.6" width="8" height="10.3" fill="#2c4a88"/><line x1="164.6" y1="274.9" x2="164.6" y2="277.5" stroke="#2e2e2e" stroke-width="1.1"/><line x1="152.6" y1="254.7" x2="164.5" y2="254.7" stroke="#333" stroke-width="1.2"/><circle cx="158.65" cy="251.7" r="0.7" fill="#1a1a1a"/><line x1="193.7" y1="253.8" x2="193.7" y2="275.5" stroke="#2e2e2e" stroke-width="1.2"/><line x1="193.1" y1="274.9" x2="221.3" y2="274.9" stroke="#2e2e2e" stroke-width="1.2"/><line x1="190.9" y1="257" x2="193.7" y2="257" stroke="#2e2e2e" stroke-width="1.1"/><text x="176.86" y="259.1" font-size="6.3" fill="#1a1a1a" stroke="#1a1a1a" stroke-width="0.28" textLength="11.14" lengthAdjust="spacingAndGlyphs">100</text><line x1="190.9" y1="265.95" x2="193.7" y2="265.95" stroke="#2e2e2e" stroke-width="1.1"/><text x="180.57" y="268.05" font-size="6.3" fill="#1a1a1a" stroke="#1a1a1a" stroke-width="0.28" textLength="7.43" lengthAdjust="spacingAndGlyphs">50</text><line x1="190.9" y1="274.9" x2="193.7" y2="274.9" stroke="#2e2e2e" stroke-width="1.1"/><text x="184.29" y="277" font-size="6.3" fill="#1a1a1a" stroke="#1a1a1a" stroke-width="0.28" textLength="3.71" lengthAdjust="spacingAndGlyphs">0</text><line x1="201" y1="272" x2="201" y2="273.3" stroke="#333" stroke-width="1.1"/><line x1="198.7" y1="272" x2="203.3" y2="272" stroke="#333" stroke-width="1.1"/><rect x="197" y="273.3" width="8" height="1.6" fill="#a8002b"/><line x1="201" y1="274.9" x2="201" y2="277.5" stroke="#2e2e2e" stroke-width="1.1"/><line x1="212.9" y1="268.5" x2="212.9" y2="270.4" stroke="#333" stroke-width="1.1"/><line x1="210.6" y1="268.5" x2="215.2" y2="268.5" stroke="#333" stroke-width="1.1"/><rect x="208.9" y="270.4" width="8" height="4.5" fill="#2c4a88"/><line x1="212.9" y1="274.9" x2="212.9" y2="277.5" stroke="#2e2e2e" stroke-width="1.1"/><line x1="200.9" y1="255" x2="212.8" y2="255" stroke="#333" stroke-width="1.2"/><circle cx="205.92" cy="252" r="0.7" fill="#1a1a1a"/><circle cx="207.97" cy="252" r="0.7" fill="#1a1a1a"/><line x1="241.5" y1="253.8" x2="241.5" y2="275.5" stroke="#2e2e2e" stroke-width="1.2"/><line x1="240.9" y1="274.9" x2="269.1" y2="274.9" stroke="#2e2e2e" stroke-width="1.2"/><line x1="238.7" y1="257" x2="241.5" y2="257" stroke="#2e2e2e" stroke-width="1.1"/><text x="224.66" y="259.1" font-size="6.3" fill="#1a1a1a" stroke="#1a1a1a" stroke-width="0.28" textLength="11.14" lengthAdjust="spacingAndGlyphs">100</text><line x1="238.7" y1="265.95" x2="241.5" y2="265.95" stroke="#2e2e2e" stroke-width="1.1"/><text x="228.37" y="268.05" font-size="6.3" fill="#1a1a1a" stroke="#1a1a1a" stroke-width="0.28" textLength="7.43" lengthAdjust="spacingAndGlyphs">50</text><line x1="238.7" y1="274.9" x2="241.5" y2="274.9" stroke="#2e2e2e" stroke-width="1.1"/><text x="232.09" y="277" font-size="6.3" fill="#1a1a1a" stroke="#1a1a1a" stroke-width="0.28" textLength="3.71" lengthAdjust="spacingAndGlyphs">0</text><line x1="248.8" y1="264.8" x2="248.8" y2="268.5" stroke="#333" stroke-width="1.1"/><line x1="246.5" y1="264.8" x2="251.1" y2="264.8" stroke="#333" stroke-width="1.1"/><rect x="244.8" y="268.5" width="8" height="6.4" fill="#a8002b"/><line x1="248.8" y1="274.9" x2="248.8" y2="277.5" stroke="#2e2e2e" stroke-width="1.1"/><line x1="260.7" y1="268.7" x2="260.7" y2="272" stroke="#333" stroke-width="1.1"/><line x1="258.4" y1="268.7" x2="263" y2="268.7" stroke="#333" stroke-width="1.1"/><rect x="256.7" y="272" width="8" height="2.9" fill="#2c4a88"/><line x1="260.7" y1="274.9" x2="260.7" y2="277.5" stroke="#2e2e2e" stroke-width="1.1"/><line x1="248.7" y1="254.7" x2="260.6" y2="254.7" stroke="#333" stroke-width="1.2"/><circle cx="254.75" cy="251.7" r="0.7" fill="#1a1a1a"/><line x1="289" y1="253.8" x2="289" y2="275.5" stroke="#2e2e2e" stroke-width="1.2"/><line x1="288.4" y1="274.9" x2="316.6" y2="274.9" stroke="#2e2e2e" stroke-width="1.2"/><line x1="286.2" y1="257" x2="289" y2="257" stroke="#2e2e2e" stroke-width="1.1"/><text x="272.16" y="259.1" font-size="6.3" fill="#1a1a1a" stroke="#1a1a1a" stroke-width="0.28" textLength="11.14" lengthAdjust="spacingAndGlyphs">100</text><line x1="286.2" y1="265.95" x2="289" y2="265.95" stroke="#2e2e2e" stroke-width="1.1"/><text x="275.87" y="268.05" font-size="6.3" fill="#1a1a1a" stroke="#1a1a1a" stroke-width="0.28" textLength="7.43" lengthAdjust="spacingAndGlyphs">50</text><line x1="286.2" y1="274.9" x2="289" y2="274.9" stroke="#2e2e2e" stroke-width="1.1"/><text x="279.59" y="277" font-size="6.3" fill="#1a1a1a" stroke="#1a1a1a" stroke-width="0.28" textLength="3.71" lengthAdjust="spacingAndGlyphs">0</text><line x1="296.3" y1="265.6" x2="296.3" y2="269" stroke="#333" stroke-width="1.1"/><line x1="294" y1="265.6" x2="298.6" y2="265.6" stroke="#333" stroke-width="1.1"/><rect x="292.3" y="269" width="8" height="5.9" fill="#a8002b"/><line x1="296.3" y1="274.9" x2="296.3" y2="277.5" stroke="#2e2e2e" stroke-width="1.1"/><line x1="308.2" y1="268.5" x2="308.2" y2="270" stroke="#333" stroke-width="1.1"/><line x1="305.9" y1="268.5" x2="310.5" y2="268.5" stroke="#333" stroke-width="1.1"/><rect x="304.2" y="270" width="8" height="4.9" fill="#2c4a88"/><line x1="308.2" y1="274.9" x2="308.2" y2="277.5" stroke="#2e2e2e" stroke-width="1.1"/><line x1="296.2" y1="254.7" x2="308.1" y2="254.7" stroke="#333" stroke-width="1.2"/><circle cx="302.25" cy="251.7" r="0.7" fill="#1a1a1a"/><line x1="336.5" y1="257" x2="336.5" y2="275.5" stroke="#2e2e2e" stroke-width="1.2"/><line x1="335.9" y1="274.9" x2="364.1" y2="274.9" stroke="#2e2e2e" stroke-width="1.2"/><line x1="333.7" y1="259.4" x2="336.5" y2="259.4" stroke="#2e2e2e" stroke-width="1.1"/><text x="319.66" y="261.5" font-size="6.3" fill="#1a1a1a" stroke="#1a1a1a" stroke-width="0.28" textLength="11.14" lengthAdjust="spacingAndGlyphs">100</text><line x1="333.7" y1="267.15" x2="336.5" y2="267.15" stroke="#2e2e2e" stroke-width="1.1"/><text x="323.37" y="269.25" font-size="6.3" fill="#1a1a1a" stroke="#1a1a1a" stroke-width="0.28" textLength="7.43" lengthAdjust="spacingAndGlyphs">50</text><line x1="333.7" y1="274.9" x2="336.5" y2="274.9" stroke="#2e2e2e" stroke-width="1.1"/><text x="327.09" y="277" font-size="6.3" fill="#1a1a1a" stroke="#1a1a1a" stroke-width="0.28" textLength="3.71" lengthAdjust="spacingAndGlyphs">0</text><line x1="343.8" y1="260" x2="343.8" y2="260.6" stroke="#333" stroke-width="1.1"/><line x1="341.5" y1="260" x2="346.1" y2="260" stroke="#333" stroke-width="1.1"/><rect x="339.8" y="260.6" width="8" height="14.3" fill="#a8002b"/><line x1="343.8" y1="274.9" x2="343.8" y2="277.5" stroke="#2e2e2e" stroke-width="1.1"/><line x1="355.7" y1="259.2" x2="355.7" y2="260" stroke="#333" stroke-width="1.1"/><line x1="353.4" y1="259.2" x2="358" y2="259.2" stroke="#333" stroke-width="1.1"/><rect x="351.7" y="260" width="8" height="14.9" fill="#2c4a88"/><line x1="355.7" y1="274.9" x2="355.7" y2="277.5" stroke="#2e2e2e" stroke-width="1.1"/><line x1="343.7" y1="253.8" x2="355.6" y2="253.8" stroke="#333" stroke-width="1.2"/><circle cx="348.73" cy="250.8" r="0.7" fill="#1a1a1a"/><circle cx="350.78" cy="250.8" r="0.7" fill="#1a1a1a"/><line x1="384.4" y1="255.6" x2="384.4" y2="275.5" stroke="#2e2e2e" stroke-width="1.2"/><line x1="383.8" y1="274.9" x2="412" y2="274.9" stroke="#2e2e2e" stroke-width="1.2"/><line x1="381.6" y1="258.5" x2="384.4" y2="258.5" stroke="#2e2e2e" stroke-width="1.1"/><text x="371.27" y="260.6" font-size="6.3" fill="#1a1a1a" stroke="#1a1a1a" stroke-width="0.28" textLength="7.43" lengthAdjust="spacingAndGlyphs">50</text><line x1="381.6" y1="266.6" x2="384.4" y2="266.6" stroke="#2e2e2e" stroke-width="1.1"/><text x="371.27" y="268.7" font-size="6.3" fill="#1a1a1a" stroke="#1a1a1a" stroke-width="0.28" textLength="7.43" lengthAdjust="spacingAndGlyphs">25</text><line x1="381.6" y1="274.9" x2="384.4" y2="274.9" stroke="#2e2e2e" stroke-width="1.1"/><text x="374.99" y="277" font-size="6.3" fill="#1a1a1a" stroke="#1a1a1a" stroke-width="0.28" textLength="3.71" lengthAdjust="spacingAndGlyphs">0</text><line x1="391.7" y1="269" x2="391.7" y2="271.3" stroke="#333" stroke-width="1.1"/><line x1="389.4" y1="269" x2="394" y2="269" stroke="#333" stroke-width="1.1"/><rect x="387.7" y="271.3" width="8" height="3.6" fill="#a8002b"/><line x1="391.7" y1="274.9" x2="391.7" y2="277.5" stroke="#2e2e2e" stroke-width="1.1"/><line x1="403.6" y1="263.8" x2="403.6" y2="269.6" stroke="#333" stroke-width="1.1"/><line x1="401.3" y1="263.8" x2="405.9" y2="263.8" stroke="#333" stroke-width="1.1"/><rect x="399.6" y="269.6" width="8" height="5.3" fill="#2c4a88"/><line x1="403.6" y1="274.9" x2="403.6" y2="277.5" stroke="#2e2e2e" stroke-width="1.1"/><line x1="391.6" y1="255" x2="403.5" y2="255" stroke="#333" stroke-width="1.2"/><circle cx="397.65" cy="252" r="0.7" fill="#1a1a1a"/><line x1="432.5" y1="254" x2="432.5" y2="275.5" stroke="#2e2e2e" stroke-width="1.2"/><line x1="431.9" y1="274.9" x2="460.1" y2="274.9" stroke="#2e2e2e" stroke-width="1.2"/><line x1="429.7" y1="257.5" x2="432.5" y2="257.5" stroke="#2e2e2e" stroke-width="1.1"/><text x="415.66" y="259.6" font-size="6.3" fill="#1a1a1a" stroke="#1a1a1a" stroke-width="0.28" textLength="11.14" lengthAdjust="spacingAndGlyphs">100</text><line x1="429.7" y1="266.2" x2="432.5" y2="266.2" stroke="#2e2e2e" stroke-width="1.1"/><text x="419.37" y="268.3" font-size="6.3" fill="#1a1a1a" stroke="#1a1a1a" stroke-width="0.28" textLength="7.43" lengthAdjust="spacingAndGlyphs">50</text><line x1="429.7" y1="274.9" x2="432.5" y2="274.9" stroke="#2e2e2e" stroke-width="1.1"/><text x="423.09" y="277" font-size="6.3" fill="#1a1a1a" stroke="#1a1a1a" stroke-width="0.28" textLength="3.71" lengthAdjust="spacingAndGlyphs">0</text><line x1="439.8" y1="273.5" x2="439.8" y2="274.9" stroke="#333" stroke-width="1.1"/><line x1="437.5" y1="273.5" x2="442.1" y2="273.5" stroke="#333" stroke-width="1.1"/><line x1="435.8" y1="274.4" x2="443.8" y2="274.4" stroke="#a8002b" stroke-width="1"/><line x1="439.8" y1="274.9" x2="439.8" y2="277.5" stroke="#2e2e2e" stroke-width="1.1"/><line x1="451.7" y1="272" x2="451.7" y2="274.9" stroke="#333" stroke-width="1.1"/><line x1="449.4" y1="272" x2="454" y2="272" stroke="#333" stroke-width="1.1"/><line x1="447.7" y1="274.4" x2="455.7" y2="274.4" stroke="#2c4a88" stroke-width="1"/><line x1="451.7" y1="274.9" x2="451.7" y2="277.5" stroke="#2e2e2e" stroke-width="1.1"/><line x1="439.7" y1="254.7" x2="451.6" y2="254.7" stroke="#333" stroke-width="1.2"/><circle cx="445.75" cy="251.7" r="0.7" fill="#1a1a1a"/><line x1="480.2" y1="253.8" x2="480.2" y2="275.5" stroke="#2e2e2e" stroke-width="1.2"/><line x1="479.6" y1="274.9" x2="507.8" y2="274.9" stroke="#2e2e2e" stroke-width="1.2"/><line x1="477.4" y1="257.3" x2="480.2" y2="257.3" stroke="#2e2e2e" stroke-width="1.1"/><text x="463.36" y="259.4" font-size="6.3" fill="#1a1a1a" stroke="#1a1a1a" stroke-width="0.28" textLength="11.14" lengthAdjust="spacingAndGlyphs">100</text><line x1="477.4" y1="266.1" x2="480.2" y2="266.1" stroke="#2e2e2e" stroke-width="1.1"/><text x="467.07" y="268.2" font-size="6.3" fill="#1a1a1a" stroke="#1a1a1a" stroke-width="0.28" textLength="7.43" lengthAdjust="spacingAndGlyphs">50</text><line x1="477.4" y1="274.9" x2="480.2" y2="274.9" stroke="#2e2e2e" stroke-width="1.1"/><text x="470.79" y="277" font-size="6.3" fill="#1a1a1a" stroke="#1a1a1a" stroke-width="0.28" textLength="3.71" lengthAdjust="spacingAndGlyphs">0</text><line x1="487.5" y1="263" x2="487.5" y2="265" stroke="#333" stroke-width="1.1"/><line x1="485.2" y1="263" x2="489.8" y2="263" stroke="#333" stroke-width="1.1"/><rect x="483.5" y="265" width="8" height="9.9" fill="#a8002b"/><line x1="487.5" y1="274.9" x2="487.5" y2="277.5" stroke="#2e2e2e" stroke-width="1.1"/><line x1="499.4" y1="257.9" x2="499.4" y2="259.8" stroke="#333" stroke-width="1.1"/><line x1="497.1" y1="257.9" x2="501.7" y2="257.9" stroke="#333" stroke-width="1.1"/><rect x="495.4" y="259.8" width="8" height="15.1" fill="#2c4a88"/><line x1="499.4" y1="274.9" x2="499.4" y2="277.5" stroke="#2e2e2e" stroke-width="1.1"/><line x1="487.4" y1="254.5" x2="499.3" y2="254.5" stroke="#333" stroke-width="1.2"/><circle cx="490.38" cy="251.5" r="0.7" fill="#1a1a1a"/><circle cx="492.43" cy="251.5" r="0.7" fill="#1a1a1a"/><circle cx="494.48" cy="251.5" r="0.7" fill="#1a1a1a"/><circle cx="496.52" cy="251.5" r="0.7" fill="#1a1a1a"/><line x1="46.7" y1="384.4" x2="46.7" y2="404.8" stroke="#2e2e2e" stroke-width="1.2"/><line x1="46.1" y1="404.2" x2="74.3" y2="404.2" stroke="#2e2e2e" stroke-width="1.2"/><line x1="43.9" y1="387.9" x2="46.7" y2="387.9" stroke="#2e2e2e" stroke-width="1.1"/><text x="29.86" y="390" font-size="6.3" fill="#1a1a1a" stroke="#1a1a1a" stroke-width="0.28" textLength="11.14" lengthAdjust="spacingAndGlyphs">100</text><line x1="43.9" y1="396.05" x2="46.7" y2="396.05" stroke="#2e2e2e" stroke-width="1.1"/><text x="33.57" y="398.15" font-size="6.3" fill="#1a1a1a" stroke="#1a1a1a" stroke-width="0.28" textLength="7.43" lengthAdjust="spacingAndGlyphs">50</text><line x1="43.9" y1="404.2" x2="46.7" y2="404.2" stroke="#2e2e2e" stroke-width="1.1"/><text x="37.29" y="406.3" font-size="6.3" fill="#1a1a1a" stroke="#1a1a1a" stroke-width="0.28" textLength="3.71" lengthAdjust="spacingAndGlyphs">0</text><line x1="54" y1="402.3" x2="54" y2="404.2" stroke="#333" stroke-width="1.1"/><line x1="51.7" y1="402.3" x2="56.3" y2="402.3" stroke="#333" stroke-width="1.1"/><line x1="50" y1="403.7" x2="58" y2="403.7" stroke="#a8002b" stroke-width="1"/><line x1="54" y1="404.2" x2="54" y2="406.8" stroke="#2e2e2e" stroke-width="1.1"/><line x1="65.9" y1="402.3" x2="65.9" y2="404.2" stroke="#333" stroke-width="1.1"/><line x1="63.6" y1="402.3" x2="68.2" y2="402.3" stroke="#333" stroke-width="1.1"/><line x1="61.9" y1="403.7" x2="69.9" y2="403.7" stroke="#2c4a88" stroke-width="1"/><line x1="65.9" y1="404.2" x2="65.9" y2="406.8" stroke="#2e2e2e" stroke-width="1.1"/><line x1="53.9" y1="386.2" x2="65.8" y2="386.2" stroke="#333" stroke-width="1.2"/><text x="56.35" y="383.7" font-size="6.5" fill="#1a1a1a" stroke="#1a1a1a" stroke-width="0.12" textLength="7.2" lengthAdjust="spacingAndGlyphs">NS</text><line x1="94.8" y1="383.8" x2="94.8" y2="404.8" stroke="#2e2e2e" stroke-width="1.2"/><line x1="94.2" y1="404.2" x2="122.4" y2="404.2" stroke="#2e2e2e" stroke-width="1.2"/><line x1="92" y1="386.3" x2="94.8" y2="386.3" stroke="#2e2e2e" stroke-width="1.1"/><text x="77.96" y="388.4" font-size="6.3" fill="#1a1a1a" stroke="#1a1a1a" stroke-width="0.28" textLength="11.14" lengthAdjust="spacingAndGlyphs">100</text><line x1="92" y1="395.25" x2="94.8" y2="395.25" stroke="#2e2e2e" stroke-width="1.1"/><text x="81.67" y="397.35" font-size="6.3" fill="#1a1a1a" stroke="#1a1a1a" stroke-width="0.28" textLength="7.43" lengthAdjust="spacingAndGlyphs">50</text><line x1="92" y1="404.2" x2="94.8" y2="404.2" stroke="#2e2e2e" stroke-width="1.1"/><text x="85.39" y="406.3" font-size="6.3" fill="#1a1a1a" stroke="#1a1a1a" stroke-width="0.28" textLength="3.71" lengthAdjust="spacingAndGlyphs">0</text><line x1="102.1" y1="402.3" x2="102.1" y2="404.2" stroke="#333" stroke-width="1.1"/><line x1="99.8" y1="402.3" x2="104.4" y2="402.3" stroke="#333" stroke-width="1.1"/><line x1="98.1" y1="403.7" x2="106.1" y2="403.7" stroke="#a8002b" stroke-width="1"/><line x1="102.1" y1="404.2" x2="102.1" y2="406.8" stroke="#2e2e2e" stroke-width="1.1"/><line x1="114" y1="401.2" x2="114" y2="403.4" stroke="#333" stroke-width="1.1"/><line x1="111.7" y1="401.2" x2="116.3" y2="401.2" stroke="#333" stroke-width="1.1"/><rect x="110" y="403.4" width="8" height="0.8" fill="#2c4a88"/><line x1="114" y1="404.2" x2="114" y2="406.8" stroke="#2e2e2e" stroke-width="1.1"/><line x1="102" y1="386" x2="113.9" y2="386" stroke="#333" stroke-width="1.2"/><circle cx="106" cy="383" r="0.7" fill="#1a1a1a"/><circle cx="108.05" cy="383" r="0.7" fill="#1a1a1a"/><circle cx="110.1" cy="383" r="0.7" fill="#1a1a1a"/><line x1="142.3" y1="383.8" x2="142.3" y2="404.8" stroke="#2e2e2e" stroke-width="1.2"/><line x1="141.7" y1="404.2" x2="169.9" y2="404.2" stroke="#2e2e2e" stroke-width="1.2"/><line x1="139.5" y1="386.3" x2="142.3" y2="386.3" stroke="#2e2e2e" stroke-width="1.1"/><text x="125.46" y="388.4" font-size="6.3" fill="#1a1a1a" stroke="#1a1a1a" stroke-width="0.28" textLength="11.14" lengthAdjust="spacingAndGlyphs">100</text><line x1="139.5" y1="395.25" x2="142.3" y2="395.25" stroke="#2e2e2e" stroke-width="1.1"/><text x="129.17" y="397.35" font-size="6.3" fill="#1a1a1a" stroke="#1a1a1a" stroke-width="0.28" textLength="7.43" lengthAdjust="spacingAndGlyphs">50</text><line x1="139.5" y1="404.2" x2="142.3" y2="404.2" stroke="#2e2e2e" stroke-width="1.1"/><text x="132.89" y="406.3" font-size="6.3" fill="#1a1a1a" stroke="#1a1a1a" stroke-width="0.28" textLength="3.71" lengthAdjust="spacingAndGlyphs">0</text><line x1="149.6" y1="402.5" x2="149.6" y2="404.2" stroke="#333" stroke-width="1.1"/><line x1="147.3" y1="402.5" x2="151.9" y2="402.5" stroke="#333" stroke-width="1.1"/><line x1="145.6" y1="403.7" x2="153.6" y2="403.7" stroke="#a8002b" stroke-width="1"/><line x1="149.6" y1="404.2" x2="149.6" y2="406.8" stroke="#2e2e2e" stroke-width="1.1"/><line x1="161.5" y1="399.8" x2="161.5" y2="404.2" stroke="#333" stroke-width="1.1"/><line x1="159.2" y1="399.8" x2="163.8" y2="399.8" stroke="#333" stroke-width="1.1"/><line x1="157.5" y1="403.7" x2="165.5" y2="403.7" stroke="#2c4a88" stroke-width="1"/><line x1="161.5" y1="404.2" x2="161.5" y2="406.8" stroke="#2e2e2e" stroke-width="1.1"/><line x1="149.5" y1="386" x2="161.4" y2="386" stroke="#333" stroke-width="1.2"/><circle cx="155.55" cy="383" r="0.7" fill="#1a1a1a"/><line x1="190.8" y1="385.4" x2="190.8" y2="404.8" stroke="#2e2e2e" stroke-width="1.2"/><line x1="190.2" y1="404.2" x2="218.4" y2="404.2" stroke="#2e2e2e" stroke-width="1.2"/><line x1="188" y1="388.3" x2="190.8" y2="388.3" stroke="#2e2e2e" stroke-width="1.1"/><text x="173.96" y="390.4" font-size="6.3" fill="#1a1a1a" stroke="#1a1a1a" stroke-width="0.28" textLength="11.14" lengthAdjust="spacingAndGlyphs">100</text><line x1="188" y1="396.25" x2="190.8" y2="396.25" stroke="#2e2e2e" stroke-width="1.1"/><text x="177.67" y="398.35" font-size="6.3" fill="#1a1a1a" stroke="#1a1a1a" stroke-width="0.28" textLength="7.43" lengthAdjust="spacingAndGlyphs">50</text><line x1="188" y1="404.2" x2="190.8" y2="404.2" stroke="#2e2e2e" stroke-width="1.1"/><text x="181.39" y="406.3" font-size="6.3" fill="#1a1a1a" stroke="#1a1a1a" stroke-width="0.28" textLength="3.71" lengthAdjust="spacingAndGlyphs">0</text><line x1="198.1" y1="388.8" x2="198.1" y2="389.2" stroke="#333" stroke-width="1.1"/><line x1="195.8" y1="388.8" x2="200.4" y2="388.8" stroke="#333" stroke-width="1.1"/><rect x="194.1" y="389.2" width="8" height="15" fill="#a8002b"/><line x1="198.1" y1="404.2" x2="198.1" y2="406.8" stroke="#2e2e2e" stroke-width="1.1"/><line x1="210" y1="389.2" x2="210" y2="390.6" stroke="#333" stroke-width="1.1"/><line x1="207.7" y1="389.2" x2="212.3" y2="389.2" stroke="#333" stroke-width="1.1"/><rect x="206" y="390.6" width="8" height="13.6" fill="#2c4a88"/><line x1="210" y1="404.2" x2="210" y2="406.8" stroke="#2e2e2e" stroke-width="1.1"/><line x1="198" y1="385.5" x2="209.9" y2="385.5" stroke="#333" stroke-width="1.2"/><text x="200.45" y="383" font-size="6.5" fill="#1a1a1a" stroke="#1a1a1a" stroke-width="0.12" textLength="7.2" lengthAdjust="spacingAndGlyphs">NS</text><line x1="238.7" y1="383.5" x2="238.7" y2="404.8" stroke="#2e2e2e" stroke-width="1.2"/><line x1="238.1" y1="404.2" x2="266.3" y2="404.2" stroke="#2e2e2e" stroke-width="1.2"/><line x1="235.9" y1="385.8" x2="238.7" y2="385.8" stroke="#2e2e2e" stroke-width="1.1"/><text x="221.86" y="387.9" font-size="6.3" fill="#1a1a1a" stroke="#1a1a1a" stroke-width="0.28" textLength="11.14" lengthAdjust="spacingAndGlyphs">100</text><line x1="235.9" y1="395" x2="238.7" y2="395" stroke="#2e2e2e" stroke-width="1.1"/><text x="225.57" y="397.1" font-size="6.3" fill="#1a1a1a" stroke="#1a1a1a" stroke-width="0.28" textLength="7.43" lengthAdjust="spacingAndGlyphs">50</text><line x1="235.9" y1="404.2" x2="238.7" y2="404.2" stroke="#2e2e2e" stroke-width="1.1"/><text x="229.29" y="406.3" font-size="6.3" fill="#1a1a1a" stroke="#1a1a1a" stroke-width="0.28" textLength="3.71" lengthAdjust="spacingAndGlyphs">0</text><line x1="246" y1="390.2" x2="246" y2="394.4" stroke="#333" stroke-width="1.1"/><line x1="243.7" y1="390.2" x2="248.3" y2="390.2" stroke="#333" stroke-width="1.1"/><rect x="242" y="394.4" width="8" height="9.8" fill="#a8002b"/><line x1="246" y1="404.2" x2="246" y2="406.8" stroke="#2e2e2e" stroke-width="1.1"/><line x1="257.9" y1="393.5" x2="257.9" y2="395" stroke="#333" stroke-width="1.1"/><line x1="255.6" y1="393.5" x2="260.2" y2="393.5" stroke="#333" stroke-width="1.1"/><rect x="253.9" y="395" width="8" height="9.2" fill="#2c4a88"/><line x1="257.9" y1="404.2" x2="257.9" y2="406.8" stroke="#2e2e2e" stroke-width="1.1"/><line x1="245.9" y1="386" x2="257.8" y2="386" stroke="#333" stroke-width="1.2"/><text x="248.35" y="383.5" font-size="6.5" fill="#1a1a1a" stroke="#1a1a1a" stroke-width="0.12" textLength="7.2" lengthAdjust="spacingAndGlyphs">NS</text><line x1="285.6" y1="386.3" x2="285.6" y2="404.8" stroke="#2e2e2e" stroke-width="1.2"/><line x1="285" y1="404.2" x2="313.2" y2="404.2" stroke="#2e2e2e" stroke-width="1.2"/><line x1="282.8" y1="388.3" x2="285.6" y2="388.3" stroke="#2e2e2e" stroke-width="1.1"/><text x="268.76" y="390.4" font-size="6.3" fill="#1a1a1a" stroke="#1a1a1a" stroke-width="0.28" textLength="11.14" lengthAdjust="spacingAndGlyphs">100</text><line x1="282.8" y1="396.25" x2="285.6" y2="396.25" stroke="#2e2e2e" stroke-width="1.1"/><text x="272.47" y="398.35" font-size="6.3" fill="#1a1a1a" stroke="#1a1a1a" stroke-width="0.28" textLength="7.43" lengthAdjust="spacingAndGlyphs">50</text><line x1="282.8" y1="404.2" x2="285.6" y2="404.2" stroke="#2e2e2e" stroke-width="1.1"/><text x="276.19" y="406.3" font-size="6.3" fill="#1a1a1a" stroke="#1a1a1a" stroke-width="0.28" textLength="3.71" lengthAdjust="spacingAndGlyphs">0</text><line x1="292.9" y1="392.5" x2="292.9" y2="395" stroke="#333" stroke-width="1.1"/><line x1="290.6" y1="392.5" x2="295.2" y2="392.5" stroke="#333" stroke-width="1.1"/><rect x="288.9" y="395" width="8" height="9.2" fill="#a8002b"/><line x1="292.9" y1="404.2" x2="292.9" y2="406.8" stroke="#2e2e2e" stroke-width="1.1"/><line x1="304.8" y1="392.1" x2="304.8" y2="394" stroke="#333" stroke-width="1.1"/><line x1="302.5" y1="392.1" x2="307.1" y2="392.1" stroke="#333" stroke-width="1.1"/><rect x="300.8" y="394" width="8" height="10.2" fill="#2c4a88"/><line x1="304.8" y1="404.2" x2="304.8" y2="406.8" stroke="#2e2e2e" stroke-width="1.1"/><line x1="292.8" y1="385.5" x2="304.7" y2="385.5" stroke="#333" stroke-width="1.2"/><text x="295.25" y="383" font-size="6.5" fill="#1a1a1a" stroke="#1a1a1a" stroke-width="0.12" textLength="7.2" lengthAdjust="spacingAndGlyphs">NS</text><line x1="333.3" y1="386" x2="333.3" y2="404.8" stroke="#2e2e2e" stroke-width="1.2"/><line x1="332.7" y1="404.2" x2="360.9" y2="404.2" stroke="#2e2e2e" stroke-width="1.2"/><line x1="330.5" y1="388.3" x2="333.3" y2="388.3" stroke="#2e2e2e" stroke-width="1.1"/><text x="316.46" y="390.4" font-size="6.3" fill="#1a1a1a" stroke="#1a1a1a" stroke-width="0.28" textLength="11.14" lengthAdjust="spacingAndGlyphs">100</text><line x1="330.5" y1="396.25" x2="333.3" y2="396.25" stroke="#2e2e2e" stroke-width="1.1"/><text x="320.17" y="398.35" font-size="6.3" fill="#1a1a1a" stroke="#1a1a1a" stroke-width="0.28" textLength="7.43" lengthAdjust="spacingAndGlyphs">50</text><line x1="330.5" y1="404.2" x2="333.3" y2="404.2" stroke="#2e2e2e" stroke-width="1.1"/><text x="323.89" y="406.3" font-size="6.3" fill="#1a1a1a" stroke="#1a1a1a" stroke-width="0.28" textLength="3.71" lengthAdjust="spacingAndGlyphs">0</text><line x1="336.6" y1="403.7" x2="344.6" y2="403.7" stroke="#a8002b" stroke-width="1"/><line x1="340.6" y1="404.2" x2="340.6" y2="406.8" stroke="#2e2e2e" stroke-width="1.1"/><line x1="348.5" y1="403.7" x2="356.5" y2="403.7" stroke="#2c4a88" stroke-width="1"/><line x1="352.5" y1="404.2" x2="352.5" y2="406.8" stroke="#2e2e2e" stroke-width="1.1"/><line x1="340.5" y1="386" x2="352.4" y2="386" stroke="#333" stroke-width="1.2"/><text x="342.95" y="383.5" font-size="6.5" fill="#1a1a1a" stroke="#1a1a1a" stroke-width="0.12" textLength="7.2" lengthAdjust="spacingAndGlyphs">NS</text><line x1="380.6" y1="385" x2="380.6" y2="404.8" stroke="#2e2e2e" stroke-width="1.2"/><line x1="380" y1="404.2" x2="408.2" y2="404.2" stroke="#2e2e2e" stroke-width="1.2"/><line x1="377.8" y1="388.3" x2="380.6" y2="388.3" stroke="#2e2e2e" stroke-width="1.1"/><text x="363.76" y="390.4" font-size="6.3" fill="#1a1a1a" stroke="#1a1a1a" stroke-width="0.28" textLength="11.14" lengthAdjust="spacingAndGlyphs">100</text><line x1="377.8" y1="396.25" x2="380.6" y2="396.25" stroke="#2e2e2e" stroke-width="1.1"/><text x="367.47" y="398.35" font-size="6.3" fill="#1a1a1a" stroke="#1a1a1a" stroke-width="0.28" textLength="7.43" lengthAdjust="spacingAndGlyphs">50</text><line x1="377.8" y1="404.2" x2="380.6" y2="404.2" stroke="#2e2e2e" stroke-width="1.1"/><text x="371.19" y="406.3" font-size="6.3" fill="#1a1a1a" stroke="#1a1a1a" stroke-width="0.28" textLength="3.71" lengthAdjust="spacingAndGlyphs">0</text><line x1="387.9" y1="402.7" x2="387.9" y2="404.2" stroke="#333" stroke-width="1.1"/><line x1="385.6" y1="402.7" x2="390.2" y2="402.7" stroke="#333" stroke-width="1.1"/><line x1="383.9" y1="403.7" x2="391.9" y2="403.7" stroke="#a8002b" stroke-width="1"/><line x1="387.9" y1="404.2" x2="387.9" y2="406.8" stroke="#2e2e2e" stroke-width="1.1"/><line x1="399.8" y1="403" x2="399.8" y2="404.2" stroke="#333" stroke-width="1.1"/><line x1="397.5" y1="403" x2="402.1" y2="403" stroke="#333" stroke-width="1.1"/><line x1="395.8" y1="403.7" x2="403.8" y2="403.7" stroke="#2c4a88" stroke-width="1"/><line x1="399.8" y1="404.2" x2="399.8" y2="406.8" stroke="#2e2e2e" stroke-width="1.1"/><line x1="387.8" y1="386" x2="399.7" y2="386" stroke="#333" stroke-width="1.2"/><text x="390.25" y="383.5" font-size="6.5" fill="#1a1a1a" stroke="#1a1a1a" stroke-width="0.12" textLength="7.2" lengthAdjust="spacingAndGlyphs">NS</text><line x1="428.8" y1="383.5" x2="428.8" y2="404.8" stroke="#2e2e2e" stroke-width="1.2"/><line x1="428.2" y1="404.2" x2="456.4" y2="404.2" stroke="#2e2e2e" stroke-width="1.2"/><line x1="426" y1="386" x2="428.8" y2="386" stroke="#2e2e2e" stroke-width="1.1"/><text x="411.96" y="388.1" font-size="6.3" fill="#1a1a1a" stroke="#1a1a1a" stroke-width="0.28" textLength="11.14" lengthAdjust="spacingAndGlyphs">100</text><line x1="426" y1="395.1" x2="428.8" y2="395.1" stroke="#2e2e2e" stroke-width="1.1"/><text x="415.67" y="397.2" font-size="6.3" fill="#1a1a1a" stroke="#1a1a1a" stroke-width="0.28" textLength="7.43" lengthAdjust="spacingAndGlyphs">50</text><line x1="426" y1="404.2" x2="428.8" y2="404.2" stroke="#2e2e2e" stroke-width="1.1"/><text x="419.39" y="406.3" font-size="6.3" fill="#1a1a1a" stroke="#1a1a1a" stroke-width="0.28" textLength="3.71" lengthAdjust="spacingAndGlyphs">0</text><line x1="436.1" y1="396" x2="436.1" y2="400.2" stroke="#333" stroke-width="1.1"/><line x1="433.8" y1="396" x2="438.4" y2="396" stroke="#333" stroke-width="1.1"/><rect x="432.1" y="400.2" width="8" height="4" fill="#a8002b"/><line x1="436.1" y1="404.2" x2="436.1" y2="406.8" stroke="#2e2e2e" stroke-width="1.1"/><line x1="448" y1="401.3" x2="448" y2="403.4" stroke="#333" stroke-width="1.1"/><line x1="445.7" y1="401.3" x2="450.3" y2="401.3" stroke="#333" stroke-width="1.1"/><rect x="444" y="403.4" width="8" height="0.8" fill="#2c4a88"/><line x1="448" y1="404.2" x2="448" y2="406.8" stroke="#2e2e2e" stroke-width="1.1"/><line x1="436" y1="386" x2="447.9" y2="386" stroke="#333" stroke-width="1.2"/><circle cx="440" cy="383" r="0.7" fill="#1a1a1a"/><circle cx="442.05" cy="383" r="0.7" fill="#1a1a1a"/><circle cx="444.1" cy="383" r="0.7" fill="#1a1a1a"/><line x1="477.7" y1="383.8" x2="477.7" y2="404.8" stroke="#2e2e2e" stroke-width="1.2"/><line x1="477.1" y1="404.2" x2="505.3" y2="404.2" stroke="#2e2e2e" stroke-width="1.2"/><line x1="474.9" y1="386.3" x2="477.7" y2="386.3" stroke="#2e2e2e" stroke-width="1.1"/><text x="460.86" y="388.4" font-size="6.3" fill="#1a1a1a" stroke="#1a1a1a" stroke-width="0.28" textLength="11.14" lengthAdjust="spacingAndGlyphs">100</text><line x1="474.9" y1="395.25" x2="477.7" y2="395.25" stroke="#2e2e2e" stroke-width="1.1"/><text x="464.57" y="397.35" font-size="6.3" fill="#1a1a1a" stroke="#1a1a1a" stroke-width="0.28" textLength="7.43" lengthAdjust="spacingAndGlyphs">50</text><line x1="474.9" y1="404.2" x2="477.7" y2="404.2" stroke="#2e2e2e" stroke-width="1.1"/><text x="468.29" y="406.3" font-size="6.3" fill="#1a1a1a" stroke="#1a1a1a" stroke-width="0.28" textLength="3.71" lengthAdjust="spacingAndGlyphs">0</text><line x1="485" y1="389.8" x2="485" y2="394" stroke="#333" stroke-width="1.1"/><line x1="482.7" y1="389.8" x2="487.3" y2="389.8" stroke="#333" stroke-width="1.1"/><rect x="481" y="394" width="8" height="10.2" fill="#a8002b"/><line x1="485" y1="404.2" x2="485" y2="406.8" stroke="#2e2e2e" stroke-width="1.1"/><line x1="496.9" y1="395.6" x2="496.9" y2="398.8" stroke="#333" stroke-width="1.1"/><line x1="494.6" y1="395.6" x2="499.2" y2="395.6" stroke="#333" stroke-width="1.1"/><rect x="492.9" y="398.8" width="8" height="5.4" fill="#2c4a88"/><line x1="496.9" y1="404.2" x2="496.9" y2="406.8" stroke="#2e2e2e" stroke-width="1.1"/><line x1="484.9" y1="386" x2="496.8" y2="386" stroke="#333" stroke-width="1.2"/><circle cx="489.93" cy="383" r="0.7" fill="#1a1a1a"/><circle cx="491.98" cy="383" r="0.7" fill="#1a1a1a"/><line x1="46.7" y1="518.1" x2="46.7" y2="536.6" stroke="#2e2e2e" stroke-width="1.2"/><line x1="46.1" y1="536" x2="74.3" y2="536" stroke="#2e2e2e" stroke-width="1.2"/><line x1="43.9" y1="520.6" x2="46.7" y2="520.6" stroke="#2e2e2e" stroke-width="1.1"/><text x="29.86" y="522.7" font-size="6.3" fill="#1a1a1a" stroke="#1a1a1a" stroke-width="0.28" textLength="11.14" lengthAdjust="spacingAndGlyphs">100</text><line x1="43.9" y1="528.3" x2="46.7" y2="528.3" stroke="#2e2e2e" stroke-width="1.1"/><text x="33.57" y="530.4" font-size="6.3" fill="#1a1a1a" stroke="#1a1a1a" stroke-width="0.28" textLength="7.43" lengthAdjust="spacingAndGlyphs">50</text><line x1="43.9" y1="536" x2="46.7" y2="536" stroke="#2e2e2e" stroke-width="1.1"/><text x="37.29" y="538.1" font-size="6.3" fill="#1a1a1a" stroke="#1a1a1a" stroke-width="0.28" textLength="3.71" lengthAdjust="spacingAndGlyphs">0</text><line x1="54" y1="530.6" x2="54" y2="533" stroke="#333" stroke-width="1.1"/><line x1="51.7" y1="530.6" x2="56.3" y2="530.6" stroke="#333" stroke-width="1.1"/><rect x="50" y="533" width="8" height="3" fill="#a8002b"/><line x1="54" y1="536" x2="54" y2="538.6" stroke="#2e2e2e" stroke-width="1.1"/><line x1="65.9" y1="530.2" x2="65.9" y2="533.5" stroke="#333" stroke-width="1.1"/><line x1="63.6" y1="530.2" x2="68.2" y2="530.2" stroke="#333" stroke-width="1.1"/><rect x="61.9" y="533.5" width="8" height="2.5" fill="#2c4a88"/><line x1="65.9" y1="536" x2="65.9" y2="538.6" stroke="#2e2e2e" stroke-width="1.1"/><line x1="53.9" y1="516.7" x2="65.8" y2="516.7" stroke="#333" stroke-width="1.2"/><text x="56.35" y="514.2" font-size="6.5" fill="#1a1a1a" stroke="#1a1a1a" stroke-width="0.12" textLength="7.2" lengthAdjust="spacingAndGlyphs">NS</text><line x1="94.6" y1="517" x2="94.6" y2="536.6" stroke="#2e2e2e" stroke-width="1.2"/><line x1="94" y1="536" x2="122.2" y2="536" stroke="#2e2e2e" stroke-width="1.2"/><line x1="91.8" y1="519.2" x2="94.6" y2="519.2" stroke="#2e2e2e" stroke-width="1.1"/><text x="77.76" y="521.3" font-size="6.3" fill="#1a1a1a" stroke="#1a1a1a" stroke-width="0.28" textLength="11.14" lengthAdjust="spacingAndGlyphs">100</text><line x1="91.8" y1="527.6" x2="94.6" y2="527.6" stroke="#2e2e2e" stroke-width="1.1"/><text x="81.47" y="529.7" font-size="6.3" fill="#1a1a1a" stroke="#1a1a1a" stroke-width="0.28" textLength="7.43" lengthAdjust="spacingAndGlyphs">50</text><line x1="91.8" y1="536" x2="94.6" y2="536" stroke="#2e2e2e" stroke-width="1.1"/><text x="85.19" y="538.1" font-size="6.3" fill="#1a1a1a" stroke="#1a1a1a" stroke-width="0.28" textLength="3.71" lengthAdjust="spacingAndGlyphs">0</text><line x1="101.9" y1="531.2" x2="101.9" y2="533" stroke="#333" stroke-width="1.1"/><line x1="99.6" y1="531.2" x2="104.2" y2="531.2" stroke="#333" stroke-width="1.1"/><rect x="97.9" y="533" width="8" height="3" fill="#a8002b"/><line x1="101.9" y1="536" x2="101.9" y2="538.6" stroke="#2e2e2e" stroke-width="1.1"/><line x1="113.8" y1="530.8" x2="113.8" y2="532.7" stroke="#333" stroke-width="1.1"/><line x1="111.5" y1="530.8" x2="116.1" y2="530.8" stroke="#333" stroke-width="1.1"/><rect x="109.8" y="532.7" width="8" height="3.3" fill="#2c4a88"/><line x1="113.8" y1="536" x2="113.8" y2="538.6" stroke="#2e2e2e" stroke-width="1.1"/><line x1="101.8" y1="516.3" x2="113.7" y2="516.3" stroke="#333" stroke-width="1.2"/><text x="104.25" y="513.8" font-size="6.5" fill="#1a1a1a" stroke="#1a1a1a" stroke-width="0.12" textLength="7.2" lengthAdjust="spacingAndGlyphs">NS</text><line x1="142.3" y1="517" x2="142.3" y2="536.6" stroke="#2e2e2e" stroke-width="1.2"/><line x1="141.7" y1="536" x2="169.9" y2="536" stroke="#2e2e2e" stroke-width="1.2"/><line x1="139.5" y1="518.8" x2="142.3" y2="518.8" stroke="#2e2e2e" stroke-width="1.1"/><text x="125.46" y="520.9" font-size="6.3" fill="#1a1a1a" stroke="#1a1a1a" stroke-width="0.28" textLength="11.14" lengthAdjust="spacingAndGlyphs">100</text><line x1="139.5" y1="527.4" x2="142.3" y2="527.4" stroke="#2e2e2e" stroke-width="1.1"/><text x="129.17" y="529.5" font-size="6.3" fill="#1a1a1a" stroke="#1a1a1a" stroke-width="0.28" textLength="7.43" lengthAdjust="spacingAndGlyphs">50</text><line x1="139.5" y1="536" x2="142.3" y2="536" stroke="#2e2e2e" stroke-width="1.1"/><text x="132.89" y="538.1" font-size="6.3" fill="#1a1a1a" stroke="#1a1a1a" stroke-width="0.28" textLength="3.71" lengthAdjust="spacingAndGlyphs">0</text><line x1="149.6" y1="523.5" x2="149.6" y2="527.5" stroke="#333" stroke-width="1.1"/><line x1="147.3" y1="523.5" x2="151.9" y2="523.5" stroke="#333" stroke-width="1.1"/><rect x="145.6" y="527.5" width="8" height="8.5" fill="#a8002b"/><line x1="149.6" y1="536" x2="149.6" y2="538.6" stroke="#2e2e2e" stroke-width="1.1"/><line x1="161.5" y1="528.5" x2="161.5" y2="531.7" stroke="#333" stroke-width="1.1"/><line x1="159.2" y1="528.5" x2="163.8" y2="528.5" stroke="#333" stroke-width="1.1"/><rect x="157.5" y="531.7" width="8" height="4.3" fill="#2c4a88"/><line x1="161.5" y1="536" x2="161.5" y2="538.6" stroke="#2e2e2e" stroke-width="1.1"/><line x1="149.5" y1="516.3" x2="161.4" y2="516.3" stroke="#333" stroke-width="1.2"/><circle cx="153.5" cy="513.3" r="0.7" fill="#1a1a1a"/><circle cx="155.55" cy="513.3" r="0.7" fill="#1a1a1a"/><circle cx="157.6" cy="513.3" r="0.7" fill="#1a1a1a"/><line x1="190.8" y1="517" x2="190.8" y2="536.6" stroke="#2e2e2e" stroke-width="1.2"/><line x1="190.2" y1="536" x2="218.4" y2="536" stroke="#2e2e2e" stroke-width="1.2"/><line x1="188" y1="518.8" x2="190.8" y2="518.8" stroke="#2e2e2e" stroke-width="1.1"/><text x="173.96" y="520.9" font-size="6.3" fill="#1a1a1a" stroke="#1a1a1a" stroke-width="0.28" textLength="11.14" lengthAdjust="spacingAndGlyphs">100</text><line x1="188" y1="527.4" x2="190.8" y2="527.4" stroke="#2e2e2e" stroke-width="1.1"/><text x="177.67" y="529.5" font-size="6.3" fill="#1a1a1a" stroke="#1a1a1a" stroke-width="0.28" textLength="7.43" lengthAdjust="spacingAndGlyphs">50</text><line x1="188" y1="536" x2="190.8" y2="536" stroke="#2e2e2e" stroke-width="1.1"/><text x="181.39" y="538.1" font-size="6.3" fill="#1a1a1a" stroke="#1a1a1a" stroke-width="0.28" textLength="3.71" lengthAdjust="spacingAndGlyphs">0</text><line x1="198.1" y1="520.2" x2="198.1" y2="522.5" stroke="#333" stroke-width="1.1"/><line x1="195.8" y1="520.2" x2="200.4" y2="520.2" stroke="#333" stroke-width="1.1"/><rect x="194.1" y="522.5" width="8" height="13.5" fill="#a8002b"/><line x1="198.1" y1="536" x2="198.1" y2="538.6" stroke="#2e2e2e" stroke-width="1.1"/><line x1="210" y1="522.5" x2="210" y2="525" stroke="#333" stroke-width="1.1"/><line x1="207.7" y1="522.5" x2="212.3" y2="522.5" stroke="#333" stroke-width="1.1"/><rect x="206" y="525" width="8" height="11" fill="#2c4a88"/><line x1="210" y1="536" x2="210" y2="538.6" stroke="#2e2e2e" stroke-width="1.1"/><line x1="198" y1="516.3" x2="209.9" y2="516.3" stroke="#333" stroke-width="1.2"/><circle cx="204.05" cy="513.3" r="0.7" fill="#1a1a1a"/><line x1="238.7" y1="518.3" x2="238.7" y2="536.6" stroke="#2e2e2e" stroke-width="1.2"/><line x1="238.1" y1="536" x2="266.3" y2="536" stroke="#2e2e2e" stroke-width="1.2"/><line x1="235.9" y1="520.2" x2="238.7" y2="520.2" stroke="#2e2e2e" stroke-width="1.1"/><text x="221.86" y="522.3" font-size="6.3" fill="#1a1a1a" stroke="#1a1a1a" stroke-width="0.28" textLength="11.14" lengthAdjust="spacingAndGlyphs">100</text><line x1="235.9" y1="528.1" x2="238.7" y2="528.1" stroke="#2e2e2e" stroke-width="1.1"/><text x="225.57" y="530.2" font-size="6.3" fill="#1a1a1a" stroke="#1a1a1a" stroke-width="0.28" textLength="7.43" lengthAdjust="spacingAndGlyphs">50</text><line x1="235.9" y1="536" x2="238.7" y2="536" stroke="#2e2e2e" stroke-width="1.1"/><text x="229.29" y="538.1" font-size="6.3" fill="#1a1a1a" stroke="#1a1a1a" stroke-width="0.28" textLength="3.71" lengthAdjust="spacingAndGlyphs">0</text><line x1="246" y1="521.2" x2="246" y2="523" stroke="#333" stroke-width="1.1"/><line x1="243.7" y1="521.2" x2="248.3" y2="521.2" stroke="#333" stroke-width="1.1"/><rect x="242" y="523" width="8" height="13" fill="#a8002b"/><line x1="246" y1="536" x2="246" y2="538.6" stroke="#2e2e2e" stroke-width="1.1"/><line x1="257.9" y1="521.2" x2="257.9" y2="523" stroke="#333" stroke-width="1.1"/><line x1="255.6" y1="521.2" x2="260.2" y2="521.2" stroke="#333" stroke-width="1.1"/><rect x="253.9" y="523" width="8" height="13" fill="#2c4a88"/><line x1="257.9" y1="536" x2="257.9" y2="538.6" stroke="#2e2e2e" stroke-width="1.1"/><line x1="245.9" y1="516.3" x2="257.8" y2="516.3" stroke="#333" stroke-width="1.2"/><text x="248.35" y="513.8" font-size="6.5" fill="#1a1a1a" stroke="#1a1a1a" stroke-width="0.12" textLength="7.2" lengthAdjust="spacingAndGlyphs">NS</text><line x1="285.6" y1="518.3" x2="285.6" y2="536.6" stroke="#2e2e2e" stroke-width="1.2"/><line x1="285" y1="536" x2="313.2" y2="536" stroke="#2e2e2e" stroke-width="1.2"/><line x1="282.8" y1="520.2" x2="285.6" y2="520.2" stroke="#2e2e2e" stroke-width="1.1"/><text x="268.76" y="522.3" font-size="6.3" fill="#1a1a1a" stroke="#1a1a1a" stroke-width="0.28" textLength="11.14" lengthAdjust="spacingAndGlyphs">100</text><line x1="282.8" y1="528.1" x2="285.6" y2="528.1" stroke="#2e2e2e" stroke-width="1.1"/><text x="272.47" y="530.2" font-size="6.3" fill="#1a1a1a" stroke="#1a1a1a" stroke-width="0.28" textLength="7.43" lengthAdjust="spacingAndGlyphs">50</text><line x1="282.8" y1="536" x2="285.6" y2="536" stroke="#2e2e2e" stroke-width="1.1"/><text x="276.19" y="538.1" font-size="6.3" fill="#1a1a1a" stroke="#1a1a1a" stroke-width="0.28" textLength="3.71" lengthAdjust="spacingAndGlyphs">0</text><line x1="292.9" y1="520.8" x2="292.9" y2="521.2" stroke="#333" stroke-width="1.1"/><line x1="290.6" y1="520.8" x2="295.2" y2="520.8" stroke="#333" stroke-width="1.1"/><rect x="288.9" y="521.2" width="8" height="14.8" fill="#a8002b"/><line x1="292.9" y1="536" x2="292.9" y2="538.6" stroke="#2e2e2e" stroke-width="1.1"/><line x1="304.8" y1="521.2" x2="304.8" y2="521.7" stroke="#333" stroke-width="1.1"/><line x1="302.5" y1="521.2" x2="307.1" y2="521.2" stroke="#333" stroke-width="1.1"/><rect x="300.8" y="521.7" width="8" height="14.3" fill="#2c4a88"/><line x1="304.8" y1="536" x2="304.8" y2="538.6" stroke="#2e2e2e" stroke-width="1.1"/><line x1="292.8" y1="516.3" x2="304.7" y2="516.3" stroke="#333" stroke-width="1.2"/><text x="295.25" y="513.8" font-size="6.5" fill="#1a1a1a" stroke="#1a1a1a" stroke-width="0.12" textLength="7.2" lengthAdjust="spacingAndGlyphs">NS</text><line x1="333.3" y1="518.3" x2="333.3" y2="536.6" stroke="#2e2e2e" stroke-width="1.2"/><line x1="332.7" y1="536" x2="360.9" y2="536" stroke="#2e2e2e" stroke-width="1.2"/><line x1="330.5" y1="520.2" x2="333.3" y2="520.2" stroke="#2e2e2e" stroke-width="1.1"/><text x="316.46" y="522.3" font-size="6.3" fill="#1a1a1a" stroke="#1a1a1a" stroke-width="0.28" textLength="11.14" lengthAdjust="spacingAndGlyphs">100</text><line x1="330.5" y1="528.1" x2="333.3" y2="528.1" stroke="#2e2e2e" stroke-width="1.1"/><text x="320.17" y="530.2" font-size="6.3" fill="#1a1a1a" stroke="#1a1a1a" stroke-width="0.28" textLength="7.43" lengthAdjust="spacingAndGlyphs">50</text><line x1="330.5" y1="536" x2="333.3" y2="536" stroke="#2e2e2e" stroke-width="1.1"/><text x="323.89" y="538.1" font-size="6.3" fill="#1a1a1a" stroke="#1a1a1a" stroke-width="0.28" textLength="3.71" lengthAdjust="spacingAndGlyphs">0</text><line x1="340.6" y1="520.2" x2="340.6" y2="521.2" stroke="#333" stroke-width="1.1"/><line x1="338.3" y1="520.2" x2="342.9" y2="520.2" stroke="#333" stroke-width="1.1"/><rect x="336.6" y="521.2" width="8" height="14.8" fill="#a8002b"/><line x1="340.6" y1="536" x2="340.6" y2="538.6" stroke="#2e2e2e" stroke-width="1.1"/><line x1="352.5" y1="520.2" x2="352.5" y2="521.2" stroke="#333" stroke-width="1.1"/><line x1="350.2" y1="520.2" x2="354.8" y2="520.2" stroke="#333" stroke-width="1.1"/><rect x="348.5" y="521.2" width="8" height="14.8" fill="#2c4a88"/><line x1="352.5" y1="536" x2="352.5" y2="538.6" stroke="#2e2e2e" stroke-width="1.1"/><line x1="340.5" y1="516.3" x2="352.4" y2="516.3" stroke="#333" stroke-width="1.2"/><text x="342.95" y="513.8" font-size="6.5" fill="#1a1a1a" stroke="#1a1a1a" stroke-width="0.12" textLength="7.2" lengthAdjust="spacingAndGlyphs">NS</text><line x1="381.7" y1="515" x2="381.7" y2="535.8" stroke="#2e2e2e" stroke-width="1.2"/><line x1="381.1" y1="535.2" x2="409.3" y2="535.2" stroke="#2e2e2e" stroke-width="1.2"/><line x1="378.9" y1="517.7" x2="381.7" y2="517.7" stroke="#2e2e2e" stroke-width="1.1"/><text x="364.86" y="519.8" font-size="6.3" fill="#1a1a1a" stroke="#1a1a1a" stroke-width="0.28" textLength="11.14" lengthAdjust="spacingAndGlyphs">100</text><line x1="378.9" y1="526.45" x2="381.7" y2="526.45" stroke="#2e2e2e" stroke-width="1.1"/><text x="368.57" y="528.55" font-size="6.3" fill="#1a1a1a" stroke="#1a1a1a" stroke-width="0.28" textLength="7.43" lengthAdjust="spacingAndGlyphs">50</text><line x1="378.9" y1="535.2" x2="381.7" y2="535.2" stroke="#2e2e2e" stroke-width="1.1"/><text x="372.29" y="537.3" font-size="6.3" fill="#1a1a1a" stroke="#1a1a1a" stroke-width="0.28" textLength="3.71" lengthAdjust="spacingAndGlyphs">0</text><line x1="389" y1="518.8" x2="389" y2="521.7" stroke="#333" stroke-width="1.1"/><line x1="386.7" y1="518.8" x2="391.3" y2="518.8" stroke="#333" stroke-width="1.1"/><rect x="385" y="521.7" width="8" height="13.5" fill="#a8002b"/><line x1="389" y1="535.2" x2="389" y2="537.8" stroke="#2e2e2e" stroke-width="1.1"/><line x1="400.9" y1="521.7" x2="400.9" y2="524" stroke="#333" stroke-width="1.1"/><line x1="398.6" y1="521.7" x2="403.2" y2="521.7" stroke="#333" stroke-width="1.1"/><rect x="396.9" y="524" width="8" height="11.2" fill="#2c4a88"/><line x1="400.9" y1="535.2" x2="400.9" y2="537.8" stroke="#2e2e2e" stroke-width="1.1"/><line x1="388.9" y1="515" x2="400.8" y2="515" stroke="#333" stroke-width="1.2"/><circle cx="394.95" cy="512" r="0.7" fill="#1a1a1a"/><line x1="428.8" y1="518.3" x2="428.8" y2="535.6" stroke="#2e2e2e" stroke-width="1.2"/><line x1="428.2" y1="535" x2="456.4" y2="535" stroke="#2e2e2e" stroke-width="1.2"/><line x1="426" y1="519.8" x2="428.8" y2="519.8" stroke="#2e2e2e" stroke-width="1.1"/><text x="411.96" y="521.9" font-size="6.3" fill="#1a1a1a" stroke="#1a1a1a" stroke-width="0.28" textLength="11.14" lengthAdjust="spacingAndGlyphs">100</text><line x1="426" y1="527.4" x2="428.8" y2="527.4" stroke="#2e2e2e" stroke-width="1.1"/><text x="415.67" y="529.5" font-size="6.3" fill="#1a1a1a" stroke="#1a1a1a" stroke-width="0.28" textLength="7.43" lengthAdjust="spacingAndGlyphs">50</text><line x1="426" y1="535" x2="428.8" y2="535" stroke="#2e2e2e" stroke-width="1.1"/><text x="419.39" y="537.1" font-size="6.3" fill="#1a1a1a" stroke="#1a1a1a" stroke-width="0.28" textLength="3.71" lengthAdjust="spacingAndGlyphs">0</text><line x1="436.1" y1="520.2" x2="436.1" y2="521.7" stroke="#333" stroke-width="1.1"/><line x1="433.8" y1="520.2" x2="438.4" y2="520.2" stroke="#333" stroke-width="1.1"/><rect x="432.1" y="521.7" width="8" height="13.3" fill="#a8002b"/><line x1="436.1" y1="535" x2="436.1" y2="537.6" stroke="#2e2e2e" stroke-width="1.1"/><line x1="448" y1="519.8" x2="448" y2="522.7" stroke="#333" stroke-width="1.1"/><line x1="445.7" y1="519.8" x2="450.3" y2="519.8" stroke="#333" stroke-width="1.1"/><rect x="444" y="522.7" width="8" height="12.3" fill="#2c4a88"/><line x1="448" y1="535" x2="448" y2="537.6" stroke="#2e2e2e" stroke-width="1.1"/><line x1="436" y1="514.4" x2="447.9" y2="514.4" stroke="#333" stroke-width="1.2"/><text x="438.45" y="511.9" font-size="6.5" fill="#1a1a1a" stroke="#1a1a1a" stroke-width="0.12" textLength="7.2" lengthAdjust="spacingAndGlyphs">NS</text><text transform="translate(16.6,273.4) rotate(-90)" font-size="8.6" fill="#1a1a1a" stroke="#1a1a1a" stroke-width="0.3" textLength="18.7" lengthAdjust="spacingAndGlyphs">% total</text><text transform="translate(28.2,267.9) rotate(-90)" font-size="8.6" fill="#1a1a1a" stroke="#1a1a1a" stroke-width="0.35" textLength="7.9" lengthAdjust="spacingAndGlyphs">NK</text><text transform="translate(13.2,402.5) rotate(-90)" font-size="8.6" fill="#1a1a1a" stroke="#1a1a1a" stroke-width="0.3" textLength="18.7" lengthAdjust="spacingAndGlyphs">% total</text><text transform="translate(24.9,397) rotate(-90)" font-size="8.6" fill="#1a1a1a" stroke="#1a1a1a" stroke-width="0.35" textLength="7.6" lengthAdjust="spacingAndGlyphs">NK</text><text transform="translate(13.2,536.6) rotate(-90)" font-size="8.6" fill="#1a1a1a" stroke="#1a1a1a" stroke-width="0.3" textLength="18.7" lengthAdjust="spacingAndGlyphs">% total</text><text transform="translate(24.9,530.9) rotate(-90)" font-size="8.6" fill="#1a1a1a" stroke="#1a1a1a" stroke-width="0.35" textLength="7.6" lengthAdjust="spacingAndGlyphs">NK</text><path d="M481.9 475.2 V456 M481.9 475.2 H507" stroke="#111" stroke-width="1.3" fill="none"/><path d="M481.9 451.4 L485.1 458.9 L481.9 457.4 L478.7 458.9 Z" fill="#111"/><path d="M513.4 475.2 L505.9 472.0 L507.4 475.2 L505.9 478.4 Z" fill="#111"/><text transform="translate(476.8,474.6) rotate(-90)" font-size="9.6" fill="#1a1a1a" stroke="#1a1a1a" stroke-width="0.45" textLength="18" lengthAdjust="spacingAndGlyphs">tSNE2</text><text x="486.2" y="486.3" font-size="8.4" fill="#1a1a1a" stroke="#1a1a1a" stroke-width="0.45" textLength="16.9" lengthAdjust="spacingAndGlyphs">tSNE1</text><rect x="471.6" y="514" width="7" height="6.9" fill="#a8002b"/><rect x="471.6" y="528.2" width="7" height="6.7" fill="#2c4a88"/><text x="481.9" y="520.3" font-size="7.6" fill="#1a1a1a" stroke="#1a1a1a" stroke-width="0.28" textLength="15.9" lengthAdjust="spacingAndGlyphs">KIR+</text><text x="481.9" y="534.1" font-size="7.6" fill="#1a1a1a" stroke="#1a1a1a" stroke-width="0.28" textLength="13.1" lengthAdjust="spacingAndGlyphs">KIR-</text>
<rect x="0.55" y="0.55" width="518.9" height="545.9" fill="none" stroke="#000" stroke-width="1.2"/>
</svg>
</body></html>
